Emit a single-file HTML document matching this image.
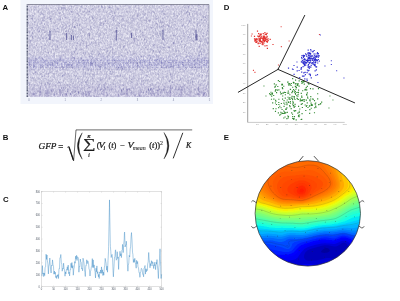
<!DOCTYPE html>
<html><head><meta charset="utf-8"><title>Figure</title>
<style>
html,body{margin:0;padding:0;background:#fff;}
svg{display:block}
.lbl{font-family:"Liberation Sans",sans-serif;font-weight:bold;font-size:7.8px;fill:#111}
.tkA{font-family:"Liberation Sans",sans-serif;font-size:2.6px;fill:#8186a8;text-anchor:middle}
.tkC{font-family:"Liberation Sans",sans-serif;font-size:2.6px;fill:#565e6a}
.eq text.sm{stroke-width:0.08px}
.eq text.eqs{font-family:"Liberation Sans",sans-serif;stroke-width:0.2px}
.tkD{font-family:"Liberation Sans",sans-serif;font-size:2.5px;fill:#9a9a9a}
.eq text{font-family:"Liberation Serif",serif;fill:#1a1a1a;stroke:#1a1a1a;stroke-width:0.24px}
</style></head><body>
<svg width="400" height="301" viewBox="0 0 400 301">
<rect width="400" height="301" fill="#fff"/>
<rect x="20.5" y="0" width="192.5" height="104" fill="#f2f5fc"/>
<filter id="gr" x="0" y="0" width="100%" height="100%" color-interpolation-filters="sRGB"><feTurbulence type="fractalNoise" baseFrequency="0.65 0.45" numOctaves="2" seed="4" result="n"/><feColorMatrix in="n" type="matrix" values="0 0 0 0 0  0 0 0 0 0  0 0 0 0 0  0.65 0.65 0 0 -0.46"/><feComponentTransfer><feFuncR type="linear" slope="0" intercept="0.46"/><feFuncG type="linear" slope="0" intercept="0.45"/><feFuncB type="linear" slope="0" intercept="0.66"/></feComponentTransfer></filter>
<rect x="28.5" y="4.5" width="180.5" height="92.5" fill="#ebeaf5"/>
<rect x="28.5" y="4.5" width="180.5" height="92.5" filter="url(#gr)"/>
<polyline points="28.5,5.5 29.4,5.9 30.3,5.1 31.2,4.5 32.1,4.8 33,4.5 33.9,5.6 34.8,7.5 35.8,4.8 36.7,4.6 37.6,6.2 38.5,6 39.4,5.7 40.3,4.5 41.2,5.5 42.1,6.5 43,4.5 43.9,4.8 44.8,4.5 45.7,4.5 46.6,4.5 47.5,5.1 48.5,4.5 49.4,5.9 50.3,5.7 51.2,5.2 52.1,4.5 53,4.7 53.9,5.4 54.8,5.7 55.7,4.5 56.6,4.8 57.5,4.5 58.4,4.5 59.3,7.1 60.2,4.5 61.2,5.5 62.1,6.8 63,4.6 63.9,5.3 64.8,5.7 65.7,5.6 66.6,4.5 67.5,5.6 68.4,7.5 69.3,4.5 70.2,6.8 71.1,5.7 72,4.5 72.9,8.5 73.9,6.6 74.8,4.5 75.7,5.6 76.6,6.4 77.5,5.2 78.4,6.5 79.3,5.4 80.2,6.5 81.1,7.7 82,4.5 82.9,5.8 83.8,4.8 84.7,5.7 85.6,4.5 86.6,4.6 87.5,5.2 88.4,6.8 89.3,7.2 90.2,4.5 91.1,4.5 92,6.5 92.9,4.5 93.8,4.8 94.7,5.4 95.6,7.4 96.5,6.5 97.4,5 98.3,4.9 99.2,5.1 100.2,7.8 101.1,4.9 102,5 102.9,6 103.8,5.3 104.7,5.2 105.6,4.5 106.5,5.5 107.4,4.8 108.3,7.2 109.2,6.5 110.1,5.5 111,6.5 111.9,5 112.9,7.1 113.8,5.5 114.7,6.4 115.6,4.5 116.5,6 117.4,4.5 118.3,4.5 119.2,5 120.1,4.5 121,5.7 121.9,8.9 122.8,4.5 123.7,4.6 124.6,5.8 125.6,6.2 126.5,5.2 127.4,5.2 128.3,6.6 129.2,6.3 130.1,4.5 131,5.4 131.9,5.6 132.8,4.5 133.7,5.9 134.6,4.5 135.5,7 136.4,5.8 137.3,5.6 138.3,4.6 139.2,5.3 140.1,4.5 141,4.5 141.9,6 142.8,4.5 143.7,6.8 144.6,4.5 145.5,6.6 146.4,4.5 147.3,6.7 148.2,5.7 149.1,4.5 150,7.4 150.9,7.7 151.9,5.4 152.8,5.1 153.7,5.3 154.6,4.5 155.5,7.1 156.4,4.7 157.3,5.4 158.2,4.5 159.1,4.6 160,4.5 160.9,7.4 161.8,5.3 162.7,6.9 163.6,5.5 164.6,4.5 165.5,5 166.4,4.7 167.3,5.5 168.2,4.9 169.1,5.1 170,4.5 170.9,4.5 171.8,8 172.7,4.5 173.6,4.5 174.5,6 175.4,7.6 176.3,4.5 177.3,5.2 178.2,4.6 179.1,4.5 180,6.6 180.9,5.5 181.8,5.6 182.7,4.5 183.6,6.2 184.5,4.7 185.4,5.3 186.3,4.5 187.2,4.5 188.1,7.5 189,4.7 190,5.9 190.9,5.4 191.8,4.8 192.7,4.7 193.6,6.4 194.5,5 195.4,5.3 196.3,5.5 197.2,7.3 198.1,6.5 199,6.1 199.9,4.7 200.8,4.5 201.7,6.9 202.7,6.9 203.6,5.3 204.5,6.3 205.4,6.7 206.3,6.7 207.2,6.9 208.1,4.8 209,7.8" fill="none" stroke="#8f8db0" stroke-opacity="0.2" stroke-width="0.4"/>
<polyline points="28.5,5.5 29.4,8.6 30.3,8.1 31.2,8.7 32.1,10.2 33,9.6 33.9,5.6 34.8,4.8 35.8,8.6 36.7,5.8 37.6,7.3 38.5,8.6 39.4,4.9 40.3,4.5 41.2,7.7 42.1,7.4 43,7 43.9,7.4 44.8,6.1 45.7,5.1 46.6,7.1 47.5,5.9 48.5,4.9 49.4,8.1 50.3,7.3 51.2,8 52.1,5.9 53,6.4 53.9,5.8 54.8,6 55.7,7.6 56.6,6.2 57.5,7.9 58.4,7.9 59.3,10.4 60.2,5.3 61.2,8.7 62.1,7.2 63,7.3 63.9,5.2 64.8,6.7 65.7,8.5 66.6,7.2 67.5,7.5 68.4,6.9 69.3,9.1 70.2,7.3 71.1,4.5 72,6.3 72.9,4.5 73.9,4.5 74.8,6.6 75.7,9.3 76.6,7.4 77.5,5.6 78.4,5.9 79.3,9 80.2,7.6 81.1,7.4 82,7.3 82.9,7.4 83.8,8.6 84.7,8.2 85.6,7.7 86.6,5.8 87.5,8.1 88.4,6.3 89.3,9 90.2,5.4 91.1,7.1 92,7.3 92.9,5.4 93.8,9.9 94.7,9.5 95.6,6.7 96.5,8.5 97.4,7.9 98.3,4.5 99.2,7.7 100.2,7.3 101.1,7.5 102,5.7 102.9,6.9 103.8,7.1 104.7,9.1 105.6,7.8 106.5,7.3 107.4,9.6 108.3,6.5 109.2,6.8 110.1,4.6 111,9.7 111.9,8.8 112.9,8.7 113.8,8.4 114.7,7.5 115.6,7.7 116.5,7 117.4,7 118.3,7.4 119.2,9.6 120.1,8.2 121,7.3 121.9,6.5 122.8,6.4 123.7,9.8 124.6,8.1 125.6,7.4 126.5,6.8 127.4,5.7 128.3,7.2 129.2,8.7 130.1,6.8 131,7 131.9,7 132.8,7.5 133.7,5 134.6,7 135.5,6.1 136.4,8.7 137.3,6.2 138.3,8.2 139.2,9.6 140.1,6.9 141,6.4 141.9,7.6 142.8,7.3 143.7,5.9 144.6,8 145.5,10.4 146.4,7 147.3,7 148.2,5.8 149.1,7.8 150,5.5 150.9,5.7 151.9,9.3 152.8,6 153.7,9 154.6,9.6 155.5,7.7 156.4,8.2 157.3,10.3 158.2,7.1 159.1,6.5 160,5.3 160.9,7.4 161.8,9.6 162.7,8.8 163.6,5.9 164.6,6.1 165.5,6.6 166.4,7.8 167.3,7 168.2,7.7 169.1,7.8 170,6.9 170.9,7.3 171.8,7.7 172.7,7.2 173.6,8.1 174.5,10.2 175.4,8.2 176.3,7.4 177.3,4.8 178.2,7.9 179.1,4.5 180,5.2 180.9,8.6 181.8,8.4 182.7,7.1 183.6,4.8 184.5,6.8 185.4,6.3 186.3,8.3 187.2,10.7 188.1,7.7 189,6.2 190,5.6 190.9,7.3 191.8,7.1 192.7,5.6 193.6,7.5 194.5,5.6 195.4,9 196.3,8.9 197.2,9 198.1,6.6 199,8.1 199.9,7.1 200.8,6.8 201.7,6.8 202.7,5.4 203.6,5.2 204.5,8.5 205.4,7.1 206.3,7.7 207.2,8.8 208.1,4.7 209,6.2" fill="none" stroke="#8f8db0" stroke-opacity="0.2" stroke-width="0.4"/>
<polyline points="28.5,9.5 29.4,9.8 30.3,8.6 31.2,10.7 32.1,9.5 33,7.4 33.9,7.8 34.8,10.4 35.8,9.9 36.7,6.3 37.6,11.2 38.5,10.1 39.4,11.2 40.3,8.6 41.2,8.8 42.1,7.5 43,13 43.9,8.9 44.8,11.6 45.7,8.2 46.6,9.4 47.5,6.7 48.5,8.6 49.4,10.7 50.3,7.3 51.2,10.8 52.1,9.7 53,7.6 53.9,8.4 54.8,8.5 55.7,9.1 56.6,8.4 57.5,8 58.4,8.7 59.3,7.7 60.2,7.3 61.2,9.1 62.1,10.5 63,6.9 63.9,9.2 64.8,8.2 65.7,7.7 66.6,10.5 67.5,8.4 68.4,11.4 69.3,8 70.2,9.8 71.1,8.9 72,8.1 72.9,10.1 73.9,9 74.8,10.1 75.7,9.1 76.6,7.6 77.5,9 78.4,9.3 79.3,10.6 80.2,7.8 81.1,9.1 82,6.6 82.9,10.2 83.8,7.6 84.7,6.5 85.6,9.1 86.6,10.9 87.5,6.9 88.4,7.6 89.3,8.1 90.2,7.5 91.1,9.8 92,8 92.9,8.1 93.8,10.1 94.7,8.1 95.6,9.8 96.5,7.7 97.4,7.4 98.3,6.4 99.2,12 100.2,8.7 101.1,9.6 102,9.1 102.9,9.4 103.8,9.3 104.7,12.1 105.6,7.6 106.5,6.9 107.4,7.7 108.3,7.2 109.2,10.3 110.1,10.4 111,7.8 111.9,7.1 112.9,8.7 113.8,11.3 114.7,5 115.6,10 116.5,7.6 117.4,10.8 118.3,7.6 119.2,8.8 120.1,6.9 121,7.7 121.9,11.3 122.8,10.4 123.7,8.6 124.6,7.9 125.6,6.4 126.5,8.6 127.4,9.1 128.3,9.1 129.2,9.1 130.1,7.5 131,9.1 131.9,9.1 132.8,11.1 133.7,12 134.6,9 135.5,8 136.4,9.1 137.3,8.3 138.3,8.1 139.2,9.1 140.1,7.6 141,10.1 141.9,9 142.8,9.6 143.7,8.9 144.6,8.1 145.5,7.8 146.4,8.8 147.3,8.4 148.2,9.5 149.1,9.2 150,7.2 150.9,9.3 151.9,7.2 152.8,8.3 153.7,8.8 154.6,6.1 155.5,9.3 156.4,9.4 157.3,9 158.2,8.6 159.1,8.6 160,7.7 160.9,8.8 161.8,8.4 162.7,9.3 163.6,7.4 164.6,9.5 165.5,9.4 166.4,9 167.3,8.5 168.2,10 169.1,6.7 170,9.9 170.9,9.6 171.8,9.6 172.7,9.8 173.6,8.2 174.5,8.8 175.4,10.1 176.3,9.8 177.3,9.5 178.2,6.9 179.1,10 180,10.9 180.9,10.7 181.8,9.5 182.7,6.9 183.6,10.6 184.5,9 185.4,5.4 186.3,9.8 187.2,7 188.1,7.2 189,8.2 190,11.1 190.9,8.6 191.8,9.6 192.7,11.8 193.6,11.6 194.5,9 195.4,8.8 196.3,7.3 197.2,8.2 198.1,9.8 199,9.8 199.9,9.4 200.8,10.7 201.7,8 202.7,9.1 203.6,10.3 204.5,10.1 205.4,10.8 206.3,9.8 207.2,8.7 208.1,9.7 209,7.7" fill="none" stroke="#8f8db0" stroke-opacity="0.2" stroke-width="0.4"/>
<polyline points="28.5,8.6 29.4,11.9 30.3,11 31.2,11.5 32.1,8.5 33,10.5 33.9,10.1 34.8,9.7 35.8,7.7 36.7,10.5 37.6,12.4 38.5,11.6 39.4,10.1 40.3,11 41.2,12.2 42.1,6.9 43,10.9 43.9,11.9 44.8,12.1 45.7,13.6 46.6,12.7 47.5,11.5 48.5,11.5 49.4,12.2 50.3,10.2 51.2,11 52.1,12.4 53,14 53.9,10.8 54.8,11 55.7,11.3 56.6,13.1 57.5,11 58.4,13.2 59.3,9.6 60.2,10.8 61.2,10.7 62.1,12.2 63,12.6 63.9,8.8 64.8,9.7 65.7,11.5 66.6,10.1 67.5,8.8 68.4,12.6 69.3,11.8 70.2,11.8 71.1,10.3 72,12.6 72.9,10.7 73.9,12.7 74.8,9.7 75.7,9.8 76.6,11.3 77.5,10 78.4,12.1 79.3,11.4 80.2,9.7 81.1,11.2 82,10.5 82.9,12.4 83.8,10.1 84.7,10.4 85.6,12.9 86.6,14.4 87.5,14 88.4,11.1 89.3,11.4 90.2,13.3 91.1,10.9 92,9.6 92.9,11.2 93.8,11.7 94.7,9.8 95.6,8.6 96.5,8.9 97.4,12 98.3,9.9 99.2,10.8 100.2,11.4 101.1,12 102,10.5 102.9,11.8 103.8,9.7 104.7,10.5 105.6,9.5 106.5,12.7 107.4,11 108.3,9.9 109.2,10.5 110.1,10.7 111,12.1 111.9,8.6 112.9,9.5 113.8,10.5 114.7,14.8 115.6,12.5 116.5,10.9 117.4,12.1 118.3,14.1 119.2,10.7 120.1,10.5 121,12.9 121.9,11.8 122.8,12 123.7,10.3 124.6,13.9 125.6,13.6 126.5,11.9 127.4,12.1 128.3,8 129.2,12 130.1,10.7 131,11.7 131.9,12.1 132.8,10.5 133.7,8.5 134.6,11.6 135.5,9.9 136.4,10.5 137.3,10.1 138.3,10.5 139.2,7.6 140.1,12.9 141,11.4 141.9,12.7 142.8,14 143.7,11.1 144.6,8.3 145.5,9.7 146.4,9.2 147.3,10.3 148.2,11.2 149.1,8 150,11.6 150.9,8.8 151.9,11.5 152.8,10.9 153.7,10.6 154.6,10.9 155.5,10.2 156.4,10.1 157.3,8.5 158.2,11 159.1,13.8 160,14 160.9,13 161.8,12.1 162.7,10 163.6,13.2 164.6,11 165.5,10.9 166.4,10.6 167.3,11.2 168.2,10.4 169.1,10.9 170,9.4 170.9,10.5 171.8,14.5 172.7,10.9 173.6,10.7 174.5,11.8 175.4,12.1 176.3,9.4 177.3,10.7 178.2,12.4 179.1,11.4 180,11.2 180.9,13.4 181.8,10 182.7,11.2 183.6,10.3 184.5,13.3 185.4,8.1 186.3,10 187.2,10.2 188.1,12 189,12 190,13.1 190.9,8.7 191.8,12.2 192.7,10.6 193.6,10 194.5,11.9 195.4,9.7 196.3,7.9 197.2,10.5 198.1,8.8 199,10.1 199.9,11.6 200.8,11.5 201.7,13.4 202.7,10.7 203.6,8.7 204.5,9.9 205.4,9.7 206.3,9.2 207.2,11.7 208.1,10.1 209,8.1" fill="none" stroke="#8f8db0" stroke-opacity="0.2" stroke-width="0.4"/>
<polyline points="28.5,13.9 29.4,12.7 30.3,13.4 31.2,13 32.1,13.8 33,12.9 33.9,14.7 34.8,13.5 35.8,13.5 36.7,13.5 37.6,10.7 38.5,12.6 39.4,12.5 40.3,13.2 41.2,10.8 42.1,15.3 43,13 43.9,11.1 44.8,10.3 45.7,12.5 46.6,12.8 47.5,11.8 48.5,13 49.4,11.9 50.3,13.7 51.2,11.8 52.1,12.8 53,14.4 53.9,16.7 54.8,11.4 55.7,12.2 56.6,11.6 57.5,14.1 58.4,11.2 59.3,12.2 60.2,12.8 61.2,11.4 62.1,11.5 63,12.2 63.9,9.7 64.8,10.7 65.7,12.3 66.6,13.1 67.5,12.6 68.4,10.2 69.3,12.2 70.2,14.1 71.1,13.7 72,12.8 72.9,11.6 73.9,13.8 74.8,12 75.7,11.1 76.6,11.7 77.5,15.1 78.4,13.2 79.3,14.6 80.2,12.2 81.1,14.3 82,12 82.9,12.7 83.8,16.6 84.7,14 85.6,12.1 86.6,12.8 87.5,13.4 88.4,14.7 89.3,12.2 90.2,10.3 91.1,12.5 92,12.9 92.9,13.1 93.8,14.9 94.7,13.4 95.6,14.1 96.5,11.2 97.4,14.2 98.3,16 99.2,14 100.2,13.3 101.1,13.1 102,15.6 102.9,11.5 103.8,12.7 104.7,13.6 105.6,14 106.5,12.2 107.4,13.3 108.3,12.5 109.2,13.1 110.1,12.7 111,11.2 111.9,12.9 112.9,14.2 113.8,11.4 114.7,12.5 115.6,13.9 116.5,11.3 117.4,13.2 118.3,11.3 119.2,14.6 120.1,16.4 121,15.9 121.9,12.6 122.8,14 123.7,13.1 124.6,13 125.6,15.2 126.5,10.9 127.4,14.5 128.3,12.8 129.2,15 130.1,13.2 131,11.9 131.9,13.3 132.8,14 133.7,12.9 134.6,13.6 135.5,12.1 136.4,9.7 137.3,14.2 138.3,13.9 139.2,13.1 140.1,13 141,14.4 141.9,12.2 142.8,11.8 143.7,12.6 144.6,14.7 145.5,10.8 146.4,14.7 147.3,11.9 148.2,11.2 149.1,14.8 150,12.7 150.9,10.9 151.9,12.3 152.8,14.3 153.7,14.7 154.6,12.2 155.5,13.5 156.4,14 157.3,11.9 158.2,13.4 159.1,12.8 160,12.1 160.9,12.1 161.8,13 162.7,12.9 163.6,12 164.6,12.2 165.5,14.6 166.4,13.2 167.3,14.2 168.2,14.7 169.1,13.8 170,16.3 170.9,11.6 171.8,14.1 172.7,12.4 173.6,15.7 174.5,15.4 175.4,10 176.3,11.4 177.3,13.9 178.2,14.1 179.1,14 180,12.8 180.9,13.6 181.8,13.9 182.7,12.8 183.6,14.4 184.5,9.5 185.4,13.8 186.3,11.3 187.2,14.3 188.1,12.5 189,11.6 190,13.4 190.9,11.5 191.8,11.5 192.7,10.5 193.6,12.8 194.5,13.6 195.4,14.4 196.3,12.7 197.2,14.5 198.1,12.9 199,12.7 199.9,13.7 200.8,14.5 201.7,12.4 202.7,12.5 203.6,12.6 204.5,13 205.4,11.5 206.3,14.4 207.2,12.3 208.1,13.6 209,11.6" fill="none" stroke="#8f8db0" stroke-opacity="0.2" stroke-width="0.4"/>
<polyline points="28.5,15.3 29.4,15.3 30.3,14.1 31.2,17.8 32.1,15.3 33,17.4 33.9,16.2 34.8,13.7 35.8,14.2 36.7,15.4 37.6,14.8 38.5,14.8 39.4,14.3 40.3,12 41.2,14.4 42.1,11.4 43,15.3 43.9,13.6 44.8,13.7 45.7,14.4 46.6,15.1 47.5,12.6 48.5,12.1 49.4,13.1 50.3,11.7 51.2,13.3 52.1,17.1 53,13.1 53.9,15.7 54.8,12.7 55.7,15.2 56.6,14.3 57.5,14.6 58.4,15.6 59.3,17.4 60.2,15 61.2,14.9 62.1,13.3 63,15.6 63.9,14.4 64.8,16 65.7,14.7 66.6,17.3 67.5,11.8 68.4,14.3 69.3,16.1 70.2,14.2 71.1,13.5 72,14.3 72.9,12.7 73.9,14.9 74.8,18.4 75.7,16.5 76.6,13.1 77.5,13.4 78.4,14.1 79.3,16.2 80.2,13.5 81.1,13.7 82,16.1 82.9,16 83.8,14.2 84.7,13.1 85.6,12.4 86.6,13.7 87.5,11.4 88.4,15.9 89.3,13.8 90.2,15.5 91.1,17.5 92,16.5 92.9,13 93.8,16 94.7,16.5 95.6,13.6 96.5,13.3 97.4,14.6 98.3,12.3 99.2,16.9 100.2,11.1 101.1,13.1 102,14.3 102.9,14.4 103.8,15 104.7,15.1 105.6,14.4 106.5,16.4 107.4,11.5 108.3,14.7 109.2,13.7 110.1,14.9 111,15.1 111.9,13.4 112.9,13.8 113.8,15.9 114.7,15.3 115.6,13.7 116.5,17.8 117.4,18.2 118.3,12.5 119.2,15.2 120.1,18.5 121,15.9 121.9,15.1 122.8,14.4 123.7,13.9 124.6,14.4 125.6,13.9 126.5,15.9 127.4,14.1 128.3,14.1 129.2,12.9 130.1,14.7 131,13.4 131.9,14.5 132.8,16.3 133.7,15.3 134.6,15.5 135.5,15.3 136.4,14.8 137.3,14.5 138.3,14.3 139.2,15.9 140.1,13.1 141,16.7 141.9,14.8 142.8,13.6 143.7,14 144.6,13.7 145.5,15 146.4,13.7 147.3,16.4 148.2,13.6 149.1,11.3 150,13.6 150.9,11.7 151.9,14.7 152.8,16.3 153.7,15.7 154.6,12.7 155.5,13.6 156.4,17.4 157.3,15.2 158.2,14.7 159.1,16.3 160,18.4 160.9,16.7 161.8,14.9 162.7,15.3 163.6,15.7 164.6,13.8 165.5,13.1 166.4,14.8 167.3,13.3 168.2,14.6 169.1,14.9 170,18.2 170.9,13.5 171.8,14.6 172.7,14.5 173.6,15.4 174.5,16.3 175.4,14 176.3,13.5 177.3,12.3 178.2,13.3 179.1,15.5 180,14.8 180.9,13.2 181.8,14.2 182.7,14.8 183.6,15.5 184.5,13.8 185.4,14.4 186.3,12 187.2,13 188.1,17.2 189,11.5 190,14.2 190.9,15.1 191.8,14.2 192.7,13.5 193.6,14.6 194.5,14.7 195.4,14.6 196.3,11.9 197.2,14.5 198.1,13.5 199,13.9 199.9,15.1 200.8,15.7 201.7,16.1 202.7,14 203.6,16.1 204.5,16.5 205.4,16.4 206.3,16.8 207.2,14.5 208.1,14.5 209,16" fill="none" stroke="#8f8db0" stroke-opacity="0.2" stroke-width="0.4"/>
<polyline points="28.5,14.5 29.4,16.9 30.3,15.8 31.2,16 32.1,14 33,15.2 33.9,16.6 34.8,17.9 35.8,18.1 36.7,16.5 37.6,16.3 38.5,15.3 39.4,17.2 40.3,16.2 41.2,17.5 42.1,19.2 43,16.5 43.9,14.3 44.8,15.3 45.7,14.4 46.6,14.8 47.5,18.5 48.5,16.9 49.4,14.3 50.3,17.6 51.2,18.5 52.1,16 53,15.6 53.9,16.1 54.8,17 55.7,17.5 56.6,18.4 57.5,18.4 58.4,18.4 59.3,18.6 60.2,17.6 61.2,14.3 62.1,16.4 63,17.1 63.9,16 64.8,17.9 65.7,16 66.6,15.2 67.5,18.7 68.4,17.6 69.3,16.9 70.2,18 71.1,18.2 72,17.1 72.9,12.9 73.9,15.6 74.8,15.9 75.7,15.1 76.6,16.9 77.5,18.4 78.4,15.9 79.3,14.9 80.2,19.6 81.1,15.9 82,14.7 82.9,16.9 83.8,17.2 84.7,15.5 85.6,17.8 86.6,15.9 87.5,15.2 88.4,16.8 89.3,17.7 90.2,15.6 91.1,17.1 92,16.4 92.9,20.8 93.8,15.5 94.7,18.7 95.6,16.5 96.5,16.4 97.4,17.7 98.3,17.9 99.2,18.5 100.2,17.1 101.1,15.7 102,15.8 102.9,17.3 103.8,17.5 104.7,18.7 105.6,17.2 106.5,18.2 107.4,18.9 108.3,16.8 109.2,14.4 110.1,14.8 111,14.4 111.9,19 112.9,15.3 113.8,18.4 114.7,17.5 115.6,19.2 116.5,18.1 117.4,16.4 118.3,16.3 119.2,16.7 120.1,16.8 121,15.8 121.9,16.5 122.8,19 123.7,14 124.6,17 125.6,15.2 126.5,16.9 127.4,17.8 128.3,16.5 129.2,17.7 130.1,14.2 131,18.2 131.9,15.7 132.8,17.5 133.7,16.9 134.6,12.7 135.5,15.4 136.4,16.9 137.3,18.9 138.3,17 139.2,17 140.1,14.5 141,18.7 141.9,19.3 142.8,16.6 143.7,16.3 144.6,14.2 145.5,17.9 146.4,20.6 147.3,17.7 148.2,18.5 149.1,17.4 150,15.1 150.9,18.6 151.9,14.7 152.8,16.3 153.7,17 154.6,17.9 155.5,17.2 156.4,17.2 157.3,15.4 158.2,14.6 159.1,16.7 160,15.5 160.9,14.6 161.8,14.7 162.7,15.8 163.6,13.8 164.6,14.6 165.5,14.1 166.4,16.9 167.3,17.2 168.2,19.6 169.1,14.3 170,15.6 170.9,18 171.8,16.3 172.7,16.1 173.6,19.1 174.5,16.1 175.4,14.8 176.3,14.6 177.3,17.1 178.2,17 179.1,14.5 180,15.1 180.9,17.4 181.8,17.4 182.7,15.6 183.6,17.5 184.5,17.4 185.4,13.9 186.3,16.1 187.2,17.2 188.1,15.7 189,13.4 190,16.2 190.9,17.7 191.8,19 192.7,13.3 193.6,20.5 194.5,14.9 195.4,18 196.3,18.4 197.2,18.1 198.1,16.8 199,14.8 199.9,17.5 200.8,15.5 201.7,12.8 202.7,20.8 203.6,17.6 204.5,19.3 205.4,15.2 206.3,18.8 207.2,19 208.1,18.9 209,16.5" fill="none" stroke="#8f8db0" stroke-opacity="0.2" stroke-width="0.4"/>
<polyline points="28.5,16.6 29.4,18.2 30.3,15.1 31.2,15.9 32.1,18.6 33,16.9 33.9,18.2 34.8,18.3 35.8,21.3 36.7,20.4 37.6,18.4 38.5,20.2 39.4,17.3 40.3,17.9 41.2,19.8 42.1,16.6 43,18 43.9,16.4 44.8,18.6 45.7,20.9 46.6,17.3 47.5,18.8 48.5,17.1 49.4,16.7 50.3,16.6 51.2,20.6 52.1,22 53,19.2 53.9,17.4 54.8,19.5 55.7,17.9 56.6,19.6 57.5,18.9 58.4,18.8 59.3,19.3 60.2,17.6 61.2,17.8 62.1,15.8 63,17.8 63.9,16.3 64.8,18.2 65.7,17 66.6,18.6 67.5,19.1 68.4,16.3 69.3,17.2 70.2,17 71.1,19.5 72,21 72.9,19.7 73.9,17.9 74.8,20.6 75.7,16.2 76.6,20.7 77.5,17.4 78.4,14.3 79.3,22.4 80.2,20.8 81.1,16.9 82,18.7 82.9,18.1 83.8,18.6 84.7,16.2 85.6,17.4 86.6,19.1 87.5,18.8 88.4,20.2 89.3,18.5 90.2,22 91.1,17.4 92,18.8 92.9,15.6 93.8,16.5 94.7,20.4 95.6,17 96.5,19.2 97.4,18.3 98.3,16.9 99.2,17.9 100.2,17.7 101.1,17.7 102,19.6 102.9,19.4 103.8,17.6 104.7,17.1 105.6,18.9 106.5,18.3 107.4,20 108.3,22.4 109.2,19.7 110.1,18.4 111,18.2 111.9,17.1 112.9,17.1 113.8,16.9 114.7,17.8 115.6,17.8 116.5,19.5 117.4,17.8 118.3,18.1 119.2,16.6 120.1,20.9 121,19.2 121.9,21.1 122.8,19.6 123.7,20.7 124.6,18.1 125.6,19.5 126.5,22.5 127.4,16.6 128.3,20.2 129.2,21 130.1,19.1 131,19.6 131.9,20.3 132.8,17.4 133.7,19.1 134.6,17.1 135.5,17.4 136.4,17.5 137.3,18.2 138.3,18.7 139.2,19.1 140.1,16.3 141,21.5 141.9,20.2 142.8,19.5 143.7,17.9 144.6,18.3 145.5,19.3 146.4,19.1 147.3,15.8 148.2,19.6 149.1,22.9 150,15.6 150.9,20 151.9,19 152.8,18.3 153.7,20.5 154.6,16.6 155.5,18.7 156.4,20.7 157.3,18.1 158.2,17.8 159.1,18.6 160,17.7 160.9,20.8 161.8,17 162.7,19.8 163.6,16.5 164.6,19.5 165.5,18.3 166.4,14.4 167.3,18.4 168.2,16.8 169.1,17.7 170,20.8 170.9,16.7 171.8,16.8 172.7,20.6 173.6,18.6 174.5,20.8 175.4,18.9 176.3,17.1 177.3,18.3 178.2,20.3 179.1,19.9 180,18.4 180.9,18.5 181.8,18.3 182.7,17.5 183.6,21.4 184.5,18.4 185.4,16.7 186.3,17.7 187.2,19.5 188.1,19.4 189,18.2 190,17.4 190.9,18.5 191.8,15.8 192.7,16.4 193.6,19.7 194.5,17.7 195.4,19 196.3,20.3 197.2,19.4 198.1,18.5 199,21.7 199.9,19.5 200.8,17.9 201.7,19.6 202.7,19.1 203.6,17.1 204.5,18.5 205.4,18.2 206.3,15.4 207.2,18.2 208.1,18 209,17.8" fill="none" stroke="#8f8db0" stroke-opacity="0.2" stroke-width="0.4"/>
<polyline points="28.5,17.7 29.4,19.7 30.3,20.2 31.2,20.4 32.1,18.5 33,21.3 33.9,18.4 34.8,19.9 35.8,22.3 36.7,19.2 37.6,19.5 38.5,21.9 39.4,19.7 40.3,19.8 41.2,20.6 42.1,21.9 43,16.9 43.9,19 44.8,18.7 45.7,18.6 46.6,19 47.5,19 48.5,20.7 49.4,18.9 50.3,20.5 51.2,20.9 52.1,19.2 53,20.5 53.9,22.8 54.8,20.8 55.7,19.3 56.6,20.2 57.5,18.9 58.4,20.7 59.3,21.6 60.2,19 61.2,20 62.1,22 63,19.5 63.9,20.6 64.8,18.7 65.7,19 66.6,19.5 67.5,23.5 68.4,19.7 69.3,19.5 70.2,19.4 71.1,20 72,21.3 72.9,20.6 73.9,23.4 74.8,20.6 75.7,22.4 76.6,20.7 77.5,21.2 78.4,18.1 79.3,20.1 80.2,20.2 81.1,19.9 82,17 82.9,21.6 83.8,19.7 84.7,19.6 85.6,19.9 86.6,19.9 87.5,20.9 88.4,18.4 89.3,18.9 90.2,20.7 91.1,20.5 92,19.7 92.9,19.4 93.8,19 94.7,20.2 95.6,22 96.5,18.7 97.4,22.6 98.3,21.5 99.2,19.6 100.2,21.5 101.1,18.1 102,17.7 102.9,18.3 103.8,19.7 104.7,19.8 105.6,19.5 106.5,20.4 107.4,17.1 108.3,21 109.2,18.1 110.1,19.3 111,19.7 111.9,18.5 112.9,18.2 113.8,18.8 114.7,20.3 115.6,21.2 116.5,21.1 117.4,18.8 118.3,19.1 119.2,18.9 120.1,21 121,17.2 121.9,22.1 122.8,19.5 123.7,19.1 124.6,20.8 125.6,21.8 126.5,20.8 127.4,21.9 128.3,20.5 129.2,22.1 130.1,22.1 131,20.1 131.9,22.4 132.8,20.5 133.7,20.4 134.6,18.9 135.5,19.8 136.4,21.4 137.3,18.3 138.3,21.2 139.2,20.8 140.1,20.7 141,17 141.9,20.1 142.8,21.2 143.7,19.1 144.6,20.4 145.5,16.7 146.4,21.3 147.3,19.3 148.2,21.6 149.1,17.5 150,21.3 150.9,19.9 151.9,21.5 152.8,18.9 153.7,19.3 154.6,23.6 155.5,19 156.4,19.2 157.3,19.9 158.2,18.7 159.1,22.1 160,22.9 160.9,19.2 161.8,17.7 162.7,22 163.6,21.9 164.6,21.5 165.5,22 166.4,19 167.3,20 168.2,18.2 169.1,18.1 170,21.7 170.9,19.3 171.8,23.7 172.7,20.4 173.6,19.3 174.5,21.5 175.4,23 176.3,21 177.3,18.4 178.2,20.8 179.1,22.3 180,19.5 180.9,19.1 181.8,21.8 182.7,20.5 183.6,18.6 184.5,19.7 185.4,19.1 186.3,20.7 187.2,20.4 188.1,22 189,21.3 190,17.9 190.9,20.9 191.8,21.6 192.7,21 193.6,21.8 194.5,19.5 195.4,18.8 196.3,21.7 197.2,18.7 198.1,17 199,21.8 199.9,19.2 200.8,19.8 201.7,18.2 202.7,18.3 203.6,18.5 204.5,19.7 205.4,20.8 206.3,16.8 207.2,21.4 208.1,18.5 209,18.7" fill="none" stroke="#8f8db0" stroke-opacity="0.2" stroke-width="0.4"/>
<polyline points="28.5,23.1 29.4,22 30.3,19.8 31.2,24.9 32.1,20.8 33,22.5 33.9,22.4 34.8,24.2 35.8,21.4 36.7,23.6 37.6,21 38.5,23.8 39.4,21 40.3,21.6 41.2,25 42.1,22.6 43,22.3 43.9,25.5 44.8,22.7 45.7,20.9 46.6,23.2 47.5,20.3 48.5,23.8 49.4,23.9 50.3,21.3 51.2,21.2 52.1,22.4 53,22.1 53.9,20.7 54.8,23 55.7,19.1 56.6,21.5 57.5,21.5 58.4,21.7 59.3,22.6 60.2,20.3 61.2,23 62.1,21.9 63,21.1 63.9,20.1 64.8,20.3 65.7,22.7 66.6,20.7 67.5,22.2 68.4,23.7 69.3,23.7 70.2,24.5 71.1,21.7 72,20.5 72.9,23.7 73.9,22.6 74.8,23.8 75.7,22.1 76.6,23.9 77.5,23.4 78.4,23.2 79.3,22.9 80.2,22.7 81.1,22.5 82,22.5 82.9,23.6 83.8,21.4 84.7,24.7 85.6,22 86.6,23.6 87.5,22 88.4,21.8 89.3,25.2 90.2,21.7 91.1,20.2 92,21.1 92.9,21.6 93.8,25.4 94.7,22.4 95.6,23.5 96.5,20.6 97.4,22.7 98.3,23.1 99.2,24.8 100.2,21.1 101.1,23 102,22.6 102.9,20.6 103.8,22.1 104.7,21.7 105.6,18.6 106.5,23 107.4,22.9 108.3,21.5 109.2,20.1 110.1,24.3 111,22.5 111.9,23.6 112.9,24.2 113.8,21.3 114.7,23.3 115.6,21.8 116.5,22 117.4,22 118.3,22.1 119.2,23.8 120.1,22.3 121,21.9 121.9,21.7 122.8,22.6 123.7,20.8 124.6,21.4 125.6,22 126.5,21.3 127.4,21.9 128.3,21.2 129.2,25.1 130.1,24.1 131,22.8 131.9,22 132.8,25.4 133.7,22.6 134.6,22 135.5,22.6 136.4,22.6 137.3,24.2 138.3,22.1 139.2,25.3 140.1,20.8 141,23.2 141.9,20.6 142.8,24.8 143.7,21.6 144.6,22 145.5,23.5 146.4,24 147.3,20.5 148.2,21.6 149.1,20 150,22.3 150.9,22 151.9,21.6 152.8,21.1 153.7,21.5 154.6,21 155.5,22.9 156.4,24.4 157.3,19.2 158.2,21.9 159.1,21.5 160,22.9 160.9,20.7 161.8,21.9 162.7,20.6 163.6,23.2 164.6,22.3 165.5,21.9 166.4,22.7 167.3,21.8 168.2,19.8 169.1,23 170,22.6 170.9,21.9 171.8,23.6 172.7,24 173.6,20.5 174.5,21 175.4,24.4 176.3,24.3 177.3,21 178.2,20.4 179.1,21.2 180,21.4 180.9,19.7 181.8,22.2 182.7,20.2 183.6,20.3 184.5,23.5 185.4,21.1 186.3,22 187.2,23.1 188.1,23.3 189,21.6 190,22.2 190.9,20.9 191.8,24.7 192.7,23.1 193.6,20.5 194.5,22.1 195.4,23.2 196.3,22.8 197.2,24.9 198.1,24.2 199,21.3 199.9,22 200.8,20.2 201.7,22.5 202.7,22.3 203.6,26.2 204.5,22.3 205.4,19 206.3,21.1 207.2,22.3 208.1,20.2 209,20.8" fill="none" stroke="#8f8db0" stroke-opacity="0.2" stroke-width="0.4"/>
<polyline points="28.5,23.4 29.4,24.5 30.3,23.7 31.2,22.6 32.1,25.2 33,23.2 33.9,23.2 34.8,21.9 35.8,22.8 36.7,24.9 37.6,21.5 38.5,23.9 39.4,25 40.3,23.4 41.2,24.3 42.1,22.3 43,25.9 43.9,25.6 44.8,24.3 45.7,21.3 46.6,22.4 47.5,25.4 48.5,26.5 49.4,24.4 50.3,25.8 51.2,23.1 52.1,23.7 53,24 53.9,24.6 54.8,21.7 55.7,25.4 56.6,26 57.5,22.2 58.4,21.9 59.3,24.5 60.2,23 61.2,20.4 62.1,25.2 63,24.2 63.9,23.3 64.8,27.1 65.7,24.2 66.6,22.8 67.5,24.1 68.4,22.4 69.3,22.8 70.2,24.5 71.1,23.1 72,23.3 72.9,26.5 73.9,25.3 74.8,25.2 75.7,24.8 76.6,24.7 77.5,26.2 78.4,23.9 79.3,26.8 80.2,22.5 81.1,23.6 82,21.9 82.9,23.5 83.8,24.7 84.7,26.1 85.6,23 86.6,24 87.5,23.4 88.4,22.9 89.3,22.2 90.2,24.1 91.1,21.4 92,24.1 92.9,24 93.8,23 94.7,22.5 95.6,21.9 96.5,26.8 97.4,22 98.3,26.3 99.2,24.9 100.2,23.4 101.1,22.2 102,25.5 102.9,26.6 103.8,22.6 104.7,23.5 105.6,25.5 106.5,24.5 107.4,27 108.3,23.1 109.2,24.8 110.1,22.1 111,27.1 111.9,22.9 112.9,20.7 113.8,23.8 114.7,23.8 115.6,26.8 116.5,23.5 117.4,24 118.3,24.9 119.2,26.3 120.1,23.9 121,25.5 121.9,24.7 122.8,23.5 123.7,24.1 124.6,24 125.6,22.6 126.5,25.8 127.4,21.9 128.3,25.7 129.2,25.4 130.1,23.8 131,22.8 131.9,23.6 132.8,24.7 133.7,25.1 134.6,24.4 135.5,25.5 136.4,23.1 137.3,24.3 138.3,21.6 139.2,25.1 140.1,24.2 141,23.3 141.9,25.7 142.8,25 143.7,19.7 144.6,24 145.5,21.8 146.4,25.6 147.3,27.7 148.2,23.2 149.1,24.1 150,23.6 150.9,24.5 151.9,24.9 152.8,25.9 153.7,22.5 154.6,26.3 155.5,22.6 156.4,24.4 157.3,25.7 158.2,25 159.1,22.6 160,22.9 160.9,23.3 161.8,23.9 162.7,25.7 163.6,22 164.6,24.7 165.5,24.9 166.4,24.8 167.3,24.7 168.2,26.2 169.1,24.7 170,25.3 170.9,24.8 171.8,26.7 172.7,21.1 173.6,25.9 174.5,23.6 175.4,23.5 176.3,22.5 177.3,21.2 178.2,23.4 179.1,22.9 180,24.7 180.9,21.8 181.8,26.1 182.7,24.4 183.6,23.6 184.5,22.9 185.4,22.8 186.3,22.3 187.2,23.2 188.1,24 189,23.7 190,21.8 190.9,23.6 191.8,22.6 192.7,24.2 193.6,26.8 194.5,24.9 195.4,23.5 196.3,21.5 197.2,21.8 198.1,21.4 199,25.1 199.9,22.8 200.8,24.1 201.7,23 202.7,24.1 203.6,26.1 204.5,22.9 205.4,23.5 206.3,22.8 207.2,25.3 208.1,22.4 209,22.3" fill="none" stroke="#8f8db0" stroke-opacity="0.2" stroke-width="0.4"/>
<polyline points="28.5,23.7 29.4,23.7 30.3,26.5 31.2,29.7 32.1,24.3 33,27.2 33.9,26.2 34.8,24.2 35.8,25.4 36.7,25.5 37.6,24.8 38.5,28.7 39.4,23 40.3,26.4 41.2,26.3 42.1,24.9 43,26 43.9,27.1 44.8,26 45.7,26.4 46.6,26.9 47.5,22.8 48.5,28 49.4,29.2 50.3,27.3 51.2,27.3 52.1,23.7 53,25.6 53.9,24.6 54.8,24.9 55.7,27.3 56.6,24.6 57.5,25.6 58.4,23 59.3,25.6 60.2,26 61.2,24.8 62.1,24.7 63,28.6 63.9,24 64.8,24.2 65.7,24.6 66.6,27.6 67.5,29 68.4,26.3 69.3,24.7 70.2,25.2 71.1,27.4 72,24.4 72.9,28 73.9,27.9 74.8,25.9 75.7,26.8 76.6,26.9 77.5,28.1 78.4,24.2 79.3,27.6 80.2,25.3 81.1,24.7 82,26 82.9,25.5 83.8,24.3 84.7,23.4 85.6,24.4 86.6,28 87.5,28.8 88.4,26.8 89.3,27.6 90.2,25 91.1,25.7 92,26.2 92.9,24.2 93.8,24.3 94.7,26 95.6,25.3 96.5,24.2 97.4,26.4 98.3,25.4 99.2,27.3 100.2,25.8 101.1,25.4 102,26 102.9,25.6 103.8,24.8 104.7,25.2 105.6,26.9 106.5,26.8 107.4,27.7 108.3,23.3 109.2,25.2 110.1,25.2 111,26.1 111.9,25.1 112.9,25 113.8,27 114.7,26.1 115.6,24.1 116.5,27.8 117.4,27.3 118.3,25 119.2,27.1 120.1,24.7 121,27.5 121.9,25.5 122.8,24.6 123.7,25.3 124.6,24.7 125.6,26.1 126.5,26.1 127.4,25.9 128.3,25 129.2,20.3 130.1,26 131,23 131.9,26.2 132.8,27.5 133.7,26.2 134.6,25.2 135.5,25.5 136.4,25.6 137.3,25 138.3,24.9 139.2,24.4 140.1,27.6 141,25.8 141.9,27.3 142.8,25.4 143.7,25.9 144.6,25.6 145.5,26.5 146.4,27.1 147.3,26.2 148.2,24.8 149.1,24.6 150,28.3 150.9,25.4 151.9,25.4 152.8,28 153.7,27.4 154.6,26.6 155.5,25.2 156.4,29.3 157.3,26.4 158.2,26.6 159.1,25.6 160,23.7 160.9,23.8 161.8,26.4 162.7,26.4 163.6,25.5 164.6,24.1 165.5,23.7 166.4,25.3 167.3,23.6 168.2,27.2 169.1,27.5 170,30.1 170.9,27.1 171.8,24.9 172.7,24.5 173.6,20.6 174.5,24.9 175.4,25.6 176.3,27.3 177.3,26.7 178.2,26.7 179.1,26.1 180,26.8 180.9,28 181.8,24.2 182.7,25.1 183.6,23.7 184.5,28.2 185.4,27.8 186.3,26.9 187.2,24 188.1,26.1 189,25.5 190,25.9 190.9,25.5 191.8,26.6 192.7,25.2 193.6,27.1 194.5,26.2 195.4,25.4 196.3,25.6 197.2,25.2 198.1,27 199,25.4 199.9,26.3 200.8,25.2 201.7,23.6 202.7,27.2 203.6,24.2 204.5,26.8 205.4,26.4 206.3,23.3 207.2,24.4 208.1,25 209,24.6" fill="none" stroke="#8f8db0" stroke-opacity="0.2" stroke-width="0.4"/>
<polyline points="28.5,25.9 29.4,28.8 30.3,27.3 31.2,28.2 32.1,27 33,28.1 33.9,26.5 34.8,27.6 35.8,28.5 36.7,27.7 37.6,27 38.5,26 39.4,27.9 40.3,28.2 41.2,27.3 42.1,26.5 43,28.5 43.9,31.4 44.8,27.2 45.7,28.2 46.6,24.5 47.5,24.8 48.5,27.8 49.4,26.6 50.3,29.7 51.2,27.3 52.1,26.5 53,27.3 53.9,27.9 54.8,26.8 55.7,27.6 56.6,25.6 57.5,27.3 58.4,28.8 59.3,30.6 60.2,28.7 61.2,28.1 62.1,29.4 63,29.2 63.9,30.2 64.8,29.3 65.7,27.5 66.6,28.1 67.5,27.9 68.4,26.4 69.3,28.5 70.2,26.5 71.1,24.5 72,23 72.9,25.6 73.9,27.8 74.8,27.7 75.7,25.1 76.6,28.7 77.5,29 78.4,27.8 79.3,30.2 80.2,30.5 81.1,25.9 82,29.2 82.9,28.3 83.8,28.3 84.7,29.1 85.6,26.6 86.6,26.8 87.5,26.4 88.4,26.5 89.3,27.5 90.2,25.5 91.1,26.1 92,28.5 92.9,27.6 93.8,28.2 94.7,24.8 95.6,26.5 96.5,26.8 97.4,27.7 98.3,26.8 99.2,29.1 100.2,27.6 101.1,27.7 102,27.7 102.9,28.7 103.8,27 104.7,29.3 105.6,28.4 106.5,27.9 107.4,27.7 108.3,28.4 109.2,29.2 110.1,29.1 111,28.2 111.9,29 112.9,27.8 113.8,29.5 114.7,25.8 115.6,25.9 116.5,29.7 117.4,27.8 118.3,25.9 119.2,27.4 120.1,26.3 121,30.8 121.9,28.4 122.8,25.3 123.7,28.5 124.6,27.1 125.6,30.5 126.5,26.1 127.4,24.3 128.3,27.8 129.2,27.1 130.1,27 131,20.8 131.9,29.7 132.8,30.2 133.7,24.8 134.6,29.4 135.5,26.8 136.4,31.2 137.3,28.3 138.3,27.4 139.2,29.3 140.1,28.5 141,26.8 141.9,28.7 142.8,26.9 143.7,25 144.6,30.7 145.5,27.1 146.4,26.7 147.3,28.2 148.2,25.3 149.1,25.6 150,26.9 150.9,26.9 151.9,27.8 152.8,29.3 153.7,27 154.6,28.4 155.5,28.6 156.4,26 157.3,28 158.2,26.2 159.1,29.3 160,28.3 160.9,25.8 161.8,26.8 162.7,27.8 163.6,26.5 164.6,28.7 165.5,27.5 166.4,26.4 167.3,29.1 168.2,28.7 169.1,26.8 170,29.4 170.9,27.2 171.8,27.2 172.7,27.8 173.6,26.5 174.5,27 175.4,27.4 176.3,30 177.3,29.9 178.2,27.3 179.1,30.1 180,27.6 180.9,28.2 181.8,29 182.7,28.1 183.6,31.3 184.5,28 185.4,25.9 186.3,29.6 187.2,27 188.1,27.2 189,23.2 190,29.2 190.9,28.9 191.8,28.9 192.7,29.1 193.6,30.2 194.5,27.6 195.4,29.1 196.3,26.5 197.2,25 198.1,29.8 199,28.2 199.9,25.7 200.8,28.2 201.7,27.4 202.7,26.4 203.6,28.3 204.5,27.1 205.4,25.3 206.3,26 207.2,30.3 208.1,25.4 209,28" fill="none" stroke="#8f8db0" stroke-opacity="0.2" stroke-width="0.4"/>
<polyline points="28.5,30.8 29.4,27.6 30.3,29.7 31.2,29.3 32.1,27.8 33,29.8 33.9,29.6 34.8,28.9 35.8,30.1 36.7,27.4 37.6,29.4 38.5,30.2 39.4,29.9 40.3,31.1 41.2,27.7 42.1,27.2 43,29.9 43.9,30.2 44.8,32.7 45.7,30.4 46.6,25.3 47.5,32.2 48.5,28.2 49.4,27.3 50.3,33.4 51.2,30 52.1,30.6 53,30.4 53.9,32.2 54.8,29.9 55.7,31.3 56.6,28 57.5,27.4 58.4,31.7 59.3,31.7 60.2,30.3 61.2,29.8 62.1,29.8 63,28.5 63.9,31.8 64.8,30.5 65.7,30.3 66.6,30.1 67.5,31.1 68.4,28.7 69.3,31.5 70.2,27.8 71.1,30.3 72,30.5 72.9,30.6 73.9,29.3 74.8,30.8 75.7,30.9 76.6,30.4 77.5,27.1 78.4,30.3 79.3,27.7 80.2,28.3 81.1,30.3 82,29.1 82.9,30.7 83.8,34.2 84.7,30.7 85.6,30.6 86.6,28.2 87.5,28.5 88.4,27.9 89.3,28.7 90.2,27.9 91.1,28.5 92,29.2 92.9,28 93.8,27.4 94.7,27.5 95.6,30.2 96.5,29.6 97.4,31 98.3,31.1 99.2,29 100.2,30.5 101.1,27.3 102,32.9 102.9,31.3 103.8,29.2 104.7,27.8 105.6,30.1 106.5,26.7 107.4,28.3 108.3,30.6 109.2,29.6 110.1,28.8 111,30.9 111.9,28 112.9,29.9 113.8,28.8 114.7,26.6 115.6,31.2 116.5,28 117.4,32.4 118.3,28.6 119.2,32.5 120.1,27.9 121,30.4 121.9,27.7 122.8,27.5 123.7,29.7 124.6,30.5 125.6,27.6 126.5,31.3 127.4,28.3 128.3,29.7 129.2,30.1 130.1,30.4 131,24.8 131.9,33.5 132.8,30.4 133.7,28.9 134.6,28 135.5,27 136.4,27.5 137.3,30.3 138.3,29 139.2,27.8 140.1,28.7 141,31.9 141.9,29 142.8,28.6 143.7,31.5 144.6,30.2 145.5,29.6 146.4,28.6 147.3,27.2 148.2,27.8 149.1,28.8 150,29.2 150.9,30 151.9,30.3 152.8,29.8 153.7,29.8 154.6,28 155.5,26.3 156.4,28.7 157.3,28.1 158.2,28.5 159.1,29.1 160,27.6 160.9,24.3 161.8,29.9 162.7,29.7 163.6,28.5 164.6,30.3 165.5,29.2 166.4,28 167.3,29.6 168.2,32.3 169.1,28.5 170,31.3 170.9,31.6 171.8,31.8 172.7,28.3 173.6,32.5 174.5,29.7 175.4,29.1 176.3,29.2 177.3,30.4 178.2,29.6 179.1,29.2 180,31.4 180.9,28.4 181.8,27.9 182.7,30.7 183.6,30.6 184.5,31.2 185.4,27.9 186.3,31.1 187.2,30.2 188.1,32.2 189,27.6 190,29.8 190.9,29.1 191.8,27.1 192.7,28.4 193.6,31.2 194.5,28.8 195.4,28.4 196.3,30.8 197.2,27.3 198.1,32.5 199,28.3 199.9,29.4 200.8,31.1 201.7,28.5 202.7,28.4 203.6,30.8 204.5,31.9 205.4,27.8 206.3,25.6 207.2,27.3 208.1,28 209,29.3" fill="none" stroke="#8f8db0" stroke-opacity="0.2" stroke-width="0.4"/>
<polyline points="28.5,30.2 29.4,32.7 30.3,30.7 31.2,30.2 32.1,29.3 33,29.6 33.9,31.3 34.8,31 35.8,33.1 36.7,30.4 37.6,32.9 38.5,31.7 39.4,31.4 40.3,28.3 41.2,29.4 42.1,32.5 43,33.5 43.9,31.7 44.8,32.5 45.7,30.7 46.6,27.4 47.5,32.1 48.5,32.8 49.4,31.9 50.3,31 51.2,30.9 52.1,32.2 53,31.8 53.9,30.1 54.8,33.9 55.7,31.7 56.6,31.4 57.5,33.6 58.4,32.9 59.3,31.2 60.2,32.2 61.2,29.8 62.1,30.4 63,28 63.9,33.2 64.8,28.5 65.7,32.4 66.6,30.1 67.5,29.9 68.4,28.4 69.3,32.6 70.2,32.3 71.1,34 72,28.8 72.9,34.5 73.9,30.5 74.8,32.4 75.7,31.6 76.6,30.7 77.5,31.2 78.4,31.3 79.3,31.6 80.2,32 81.1,30.6 82,30.2 82.9,32.5 83.8,28.8 84.7,30.4 85.6,33.7 86.6,27.3 87.5,30.3 88.4,32.4 89.3,28.9 90.2,35.3 91.1,27.5 92,33.5 92.9,33.7 93.8,32.7 94.7,31 95.6,31.9 96.5,30 97.4,32.6 98.3,29.7 99.2,30.9 100.2,32.9 101.1,29.7 102,30.8 102.9,31.6 103.8,29.3 104.7,33.1 105.6,31.9 106.5,29.1 107.4,31.3 108.3,30.2 109.2,30.4 110.1,31.5 111,30.3 111.9,32.8 112.9,30.3 113.8,32.8 114.7,29 115.6,33.2 116.5,30.5 117.4,30.6 118.3,29.6 119.2,32.2 120.1,32.8 121,34.5 121.9,33.3 122.8,31.7 123.7,31 124.6,31.9 125.6,31.3 126.5,33.6 127.4,32.8 128.3,30.1 129.2,30.3 130.1,33.4 131,29.9 131.9,32.9 132.8,33.1 133.7,30.8 134.6,30.9 135.5,30.7 136.4,28.4 137.3,32.7 138.3,29.5 139.2,30.5 140.1,30.2 141,32.4 141.9,31.3 142.8,31.4 143.7,28.8 144.6,31.2 145.5,29.1 146.4,31.8 147.3,31.9 148.2,31.3 149.1,34.4 150,32.1 150.9,32.3 151.9,31.6 152.8,31.1 153.7,32.8 154.6,33 155.5,29.4 156.4,32.9 157.3,32.1 158.2,32.8 159.1,32.1 160,29.5 160.9,28.1 161.8,34.7 162.7,31.7 163.6,29.2 164.6,31.9 165.5,30.8 166.4,28.6 167.3,27.9 168.2,29 169.1,31.8 170,31.3 170.9,31 171.8,31.8 172.7,32.3 173.6,28.2 174.5,30.9 175.4,30.1 176.3,29.5 177.3,30.5 178.2,31.2 179.1,31 180,29.2 180.9,30.6 181.8,34.4 182.7,29.8 183.6,28.8 184.5,31.8 185.4,32.3 186.3,32.1 187.2,29.7 188.1,32.9 189,30.2 190,29.7 190.9,30.4 191.8,31.2 192.7,32.4 193.6,32.3 194.5,31.3 195.4,32.8 196.3,31.5 197.2,31 198.1,31.1 199,29 199.9,32.5 200.8,29.3 201.7,30.9 202.7,31.2 203.6,30.6 204.5,30.7 205.4,33.4 206.3,27.6 207.2,32.7 208.1,34.8 209,31.4" fill="none" stroke="#8f8db0" stroke-opacity="0.2" stroke-width="0.4"/>
<polyline points="28.5,33 29.4,31.4 30.3,35.6 31.2,33 32.1,31.1 33,34.9 33.9,32.1 34.8,34 35.8,33.2 36.7,33.6 37.6,33.5 38.5,32.3 39.4,33.3 40.3,36.3 41.2,29.8 42.1,33.3 43,33.9 43.9,31.6 44.8,31.1 45.7,36.4 46.6,30.9 47.5,37.4 48.5,34 49.4,33.3 50.3,33.9 51.2,34.2 52.1,35 53,33.9 53.9,33.4 54.8,33.5 55.7,35.2 56.6,34.4 57.5,31.7 58.4,32.3 59.3,33.7 60.2,32.3 61.2,32.6 62.1,31.8 63,32.8 63.9,33.8 64.8,34.7 65.7,33.2 66.6,36.3 67.5,33.1 68.4,36 69.3,36.5 70.2,33.9 71.1,32.5 72,26.1 72.9,33.8 73.9,33.5 74.8,36.1 75.7,31.1 76.6,36.1 77.5,32.8 78.4,34.3 79.3,29.4 80.2,33.4 81.1,32.7 82,34.2 82.9,33.3 83.8,31.5 84.7,34.6 85.6,34.2 86.6,34.1 87.5,34.7 88.4,34.9 89.3,33.2 90.2,31.2 91.1,31.1 92,35.2 92.9,34.3 93.8,33.4 94.7,32.6 95.6,33.3 96.5,33.2 97.4,32.7 98.3,32.2 99.2,36.5 100.2,33.5 101.1,32.3 102,31.3 102.9,32.1 103.8,34.3 104.7,34.3 105.6,32.9 106.5,33.3 107.4,32.7 108.3,31.5 109.2,35.2 110.1,33.8 111,36.9 111.9,32.1 112.9,33 113.8,34.5 114.7,31.1 115.6,32.3 116.5,31.8 117.4,33.4 118.3,33.7 119.2,33.1 120.1,34.7 121,34.7 121.9,33.7 122.8,33.2 123.7,32.8 124.6,34 125.6,34.6 126.5,33.3 127.4,33.9 128.3,32.7 129.2,31.1 130.1,31.7 131,32.6 131.9,35.1 132.8,35.6 133.7,33.3 134.6,34.5 135.5,35.2 136.4,34.7 137.3,32.3 138.3,32.9 139.2,33.4 140.1,31.7 141,33.9 141.9,34.7 142.8,32.5 143.7,36.2 144.6,32.8 145.5,32.9 146.4,32.8 147.3,32.1 148.2,33.8 149.1,33.2 150,35.7 150.9,34.1 151.9,34 152.8,32.9 153.7,31.1 154.6,33.1 155.5,31.9 156.4,34.6 157.3,33.2 158.2,35.7 159.1,34.3 160,34.5 160.9,30.2 161.8,34.5 162.7,34.2 163.6,34.6 164.6,32.1 165.5,33.9 166.4,37.1 167.3,33.1 168.2,32.8 169.1,32.2 170,31 170.9,35 171.8,33.3 172.7,33.7 173.6,36 174.5,37 175.4,31.9 176.3,34.8 177.3,34.1 178.2,33.8 179.1,33.9 180,33.2 180.9,35.6 181.8,34.1 182.7,33.7 183.6,35.1 184.5,34.6 185.4,33.9 186.3,33.7 187.2,35.8 188.1,34 189,33.1 190,31.9 190.9,32.7 191.8,31.6 192.7,33.4 193.6,33.6 194.5,30.1 195.4,33.2 196.3,34.2 197.2,31.5 198.1,32.8 199,35.1 199.9,32.2 200.8,31.4 201.7,31.6 202.7,33.2 203.6,34.7 204.5,35 205.4,33.5 206.3,31.4 207.2,32.2 208.1,31.9 209,32.9" fill="none" stroke="#8f8db0" stroke-opacity="0.2" stroke-width="0.4"/>
<polyline points="28.5,35.8 29.4,34.4 30.3,36.2 31.2,33.9 32.1,33.6 33,32.9 33.9,35.4 34.8,35 35.8,34.9 36.7,34.4 37.6,37.2 38.5,34.4 39.4,34 40.3,36.9 41.2,37.2 42.1,35.6 43,32.4 43.9,34.2 44.8,36 45.7,35.1 46.6,35.8 47.5,34.5 48.5,36.1 49.4,34.1 50.3,37 51.2,34.9 52.1,36.6 53,34.1 53.9,32.9 54.8,33.4 55.7,34.1 56.6,33.5 57.5,36.9 58.4,37.1 59.3,35.5 60.2,33.5 61.2,34.9 62.1,34 63,37.2 63.9,35.5 64.8,35.8 65.7,34.5 66.6,32 67.5,33.9 68.4,30.4 69.3,36.5 70.2,35.2 71.1,33.8 72,32.9 72.9,39.3 73.9,33.6 74.8,33.7 75.7,34.7 76.6,34 77.5,34.4 78.4,35.8 79.3,37.6 80.2,32.4 81.1,35 82,35.1 82.9,34.9 83.8,34.8 84.7,34.5 85.6,36.6 86.6,34.4 87.5,34.9 88.4,35.1 89.3,35.2 90.2,34.8 91.1,36.5 92,35 92.9,35.3 93.8,35 94.7,33.5 95.6,33.8 96.5,33.5 97.4,35.3 98.3,34 99.2,33.5 100.2,35.4 101.1,35.8 102,32.4 102.9,37.6 103.8,35.1 104.7,34.9 105.6,36.7 106.5,35.2 107.4,34.1 108.3,38.3 109.2,33.4 110.1,34.9 111,36.3 111.9,33.4 112.9,34.9 113.8,35.6 114.7,36.8 115.6,34.7 116.5,35 117.4,36 118.3,35.2 119.2,33.2 120.1,35.7 121,35.2 121.9,35.7 122.8,36.7 123.7,36.6 124.6,35.7 125.6,35.5 126.5,33.4 127.4,34.8 128.3,35.4 129.2,34.4 130.1,35.2 131,32.2 131.9,38.4 132.8,38.3 133.7,34.5 134.6,35.7 135.5,34.7 136.4,36.9 137.3,35.7 138.3,35.2 139.2,34.7 140.1,35.2 141,33.6 141.9,36.1 142.8,34 143.7,35.9 144.6,35.2 145.5,36.7 146.4,35 147.3,36.6 148.2,33.7 149.1,36 150,34.7 150.9,35.3 151.9,35.2 152.8,36.5 153.7,32 154.6,35.5 155.5,32.8 156.4,36.9 157.3,32.1 158.2,33.5 159.1,32.5 160,37.5 160.9,30.6 161.8,36.5 162.7,34.2 163.6,32.4 164.6,34.5 165.5,36 166.4,34.8 167.3,36.5 168.2,34.5 169.1,35.1 170,34.5 170.9,35.6 171.8,37.9 172.7,35.6 173.6,35.3 174.5,34.1 175.4,33.9 176.3,37.2 177.3,33.4 178.2,33.7 179.1,34.9 180,34.4 180.9,38 181.8,31.5 182.7,35.6 183.6,36.1 184.5,33.4 185.4,34.1 186.3,35.7 187.2,37.5 188.1,33.7 189,32.7 190,36.5 190.9,37.3 191.8,34.5 192.7,31.7 193.6,37.2 194.5,34.8 195.4,36.7 196.3,35 197.2,32.2 198.1,35.2 199,37.3 199.9,37.2 200.8,31.8 201.7,33.6 202.7,37.7 203.6,34.5 204.5,33 205.4,35.1 206.3,34.9 207.2,34.9 208.1,34.3 209,34.6" fill="none" stroke="#8f8db0" stroke-opacity="0.2" stroke-width="0.4"/>
<polyline points="28.5,36.1 29.4,37.7 30.3,39.6 31.2,38.9 32.1,36.8 33,36.3 33.9,38.2 34.8,37.7 35.8,36.8 36.7,34.7 37.6,34.1 38.5,37.4 39.4,38.1 40.3,38.1 41.2,35 42.1,38.5 43,36.1 43.9,37.5 44.8,37.5 45.7,35.7 46.6,32.7 47.5,34.9 48.5,35.5 49.4,34.2 50.3,37.6 51.2,37 52.1,38.3 53,37.4 53.9,35.9 54.8,37.4 55.7,36.3 56.6,37.8 57.5,37.4 58.4,35.4 59.3,36.9 60.2,37 61.2,36.4 62.1,38.2 63,39.5 63.9,36.3 64.8,36.4 65.7,33.5 66.6,36.7 67.5,36.2 68.4,31 69.3,38.1 70.2,37.8 71.1,35.8 72,34.3 72.9,37.2 73.9,38 74.8,34.6 75.7,36.4 76.6,39.8 77.5,37 78.4,37.6 79.3,36.7 80.2,35.1 81.1,36.8 82,37.5 82.9,35.4 83.8,37.4 84.7,38.8 85.6,38.5 86.6,34.5 87.5,35.4 88.4,34.5 89.3,38.5 90.2,37.8 91.1,38 92,35.6 92.9,35.1 93.8,37 94.7,37 95.6,35.6 96.5,37.1 97.4,37.9 98.3,37.2 99.2,35.3 100.2,33.7 101.1,36.5 102,37.1 102.9,36.5 103.8,36.3 104.7,35.9 105.6,38 106.5,36.8 107.4,37.1 108.3,35.4 109.2,36 110.1,37.1 111,35.4 111.9,35 112.9,36.4 113.8,38.7 114.7,34.2 115.6,40.2 116.5,36.7 117.4,36.4 118.3,34.8 119.2,36 120.1,39.1 121,37.4 121.9,38 122.8,38 123.7,36.9 124.6,36.6 125.6,37.1 126.5,37.9 127.4,37.6 128.3,37.6 129.2,37.1 130.1,35.7 131,33.1 131.9,37.4 132.8,38.4 133.7,33.7 134.6,36.6 135.5,40.5 136.4,36.4 137.3,35.2 138.3,36.9 139.2,38.8 140.1,36.7 141,37.8 141.9,37 142.8,36.3 143.7,41.6 144.6,37 145.5,36.1 146.4,36.2 147.3,37.5 148.2,37.5 149.1,38.1 150,37.1 150.9,34.8 151.9,37.7 152.8,36.4 153.7,36.5 154.6,34.7 155.5,36 156.4,35.8 157.3,36.8 158.2,34.7 159.1,37 160,37.1 160.9,33.3 161.8,38 162.7,35.6 163.6,38.3 164.6,33.1 165.5,36.4 166.4,34.4 167.3,36.3 168.2,38.2 169.1,36 170,37.1 170.9,35.6 171.8,39.8 172.7,38.3 173.6,38.6 174.5,34.9 175.4,35.2 176.3,38.5 177.3,36.6 178.2,36.5 179.1,37.4 180,35 180.9,38.1 181.8,36.9 182.7,37.6 183.6,35.9 184.5,37.7 185.4,35.8 186.3,38.3 187.2,38.6 188.1,38.3 189,37.7 190,37.8 190.9,32.8 191.8,38.2 192.7,36.5 193.6,37 194.5,36.5 195.4,34.8 196.3,36.1 197.2,36.4 198.1,40.4 199,36 199.9,35.5 200.8,39.1 201.7,35.6 202.7,40 203.6,37 204.5,35.6 205.4,38.4 206.3,39.4 207.2,34.7 208.1,39.2 209,36.5" fill="none" stroke="#8f8db0" stroke-opacity="0.2" stroke-width="0.4"/>
<polyline points="28.5,39 29.4,38.7 30.3,42.6 31.2,39.9 32.1,38 33,39.6 33.9,36.9 34.8,37.8 35.8,35.9 36.7,40.9 37.6,39.6 38.5,37 39.4,38.7 40.3,40.2 41.2,39.5 42.1,39.3 43,37.5 43.9,37.8 44.8,38.9 45.7,40.1 46.6,34.4 47.5,37.9 48.5,40.5 49.4,37.3 50.3,40.4 51.2,39.1 52.1,40.1 53,41.4 53.9,39.8 54.8,39.9 55.7,37.4 56.6,37.7 57.5,39.7 58.4,41 59.3,40.8 60.2,42.2 61.2,39.2 62.1,39 63,40.3 63.9,38.8 64.8,38.7 65.7,37.2 66.6,40.2 67.5,37.1 68.4,37.3 69.3,37.3 70.2,40.4 71.1,37.2 72,36.3 72.9,38.1 73.9,38.1 74.8,40.5 75.7,37.5 76.6,38.8 77.5,38 78.4,35.3 79.3,39.2 80.2,39.4 81.1,37.1 82,39.6 82.9,37.6 83.8,37.2 84.7,38.8 85.6,37.7 86.6,42.2 87.5,36.4 88.4,39.9 89.3,40.2 90.2,35.8 91.1,36.1 92,39.6 92.9,38 93.8,39.3 94.7,40.5 95.6,38.2 96.5,37.1 97.4,34.7 98.3,39.1 99.2,37.4 100.2,39.2 101.1,39.1 102,36.7 102.9,41.3 103.8,40.4 104.7,40 105.6,37 106.5,38.1 107.4,37.9 108.3,38.1 109.2,37.1 110.1,39.4 111,39.1 111.9,39.3 112.9,38 113.8,40.7 114.7,37.3 115.6,35.9 116.5,37.8 117.4,38.7 118.3,40.2 119.2,38.3 120.1,38.4 121,37.8 121.9,39.7 122.8,38.1 123.7,37.8 124.6,37.6 125.6,39.6 126.5,37.9 127.4,36.2 128.3,39.7 129.2,37.7 130.1,39.3 131,37.3 131.9,42.2 132.8,40.3 133.7,37.9 134.6,38.5 135.5,36.8 136.4,41.3 137.3,39.4 138.3,40.8 139.2,38.3 140.1,35.7 141,41 141.9,38.9 142.8,38.9 143.7,38.8 144.6,39.7 145.5,39.5 146.4,36.4 147.3,40.4 148.2,38 149.1,38 150,41.3 150.9,40.1 151.9,38.2 152.8,36 153.7,39 154.6,39.6 155.5,38.6 156.4,36.9 157.3,37.6 158.2,36.9 159.1,39.1 160,40 160.9,37.4 161.8,39.6 162.7,39.1 163.6,39.6 164.6,38 165.5,38.5 166.4,41.9 167.3,39.1 168.2,40.1 169.1,38.1 170,38.8 170.9,36.2 171.8,38.7 172.7,40.5 173.6,41.9 174.5,40.5 175.4,39.8 176.3,38.8 177.3,37.8 178.2,38.5 179.1,39.7 180,37.6 180.9,40.1 181.8,37.3 182.7,36.1 183.6,37.2 184.5,36.2 185.4,36.7 186.3,40.4 187.2,38.4 188.1,39.1 189,40.5 190,40.6 190.9,38 191.8,40.7 192.7,39.3 193.6,38.7 194.5,39.4 195.4,36.6 196.3,37.6 197.2,35.3 198.1,40.3 199,38.2 199.9,38.6 200.8,40.2 201.7,40.9 202.7,39.9 203.6,40.6 204.5,38.1 205.4,38.3 206.3,39.2 207.2,38.3 208.1,38 209,41.2" fill="none" stroke="#8f8db0" stroke-opacity="0.2" stroke-width="0.4"/>
<polyline points="28.5,43 29.4,39.1 30.3,40.2 31.2,41.8 32.1,41.5 33,41 33.9,38.1 34.8,41.1 35.8,39.1 36.7,44.4 37.6,40.3 38.5,40.9 39.4,38.9 40.3,39.9 41.2,38.7 42.1,42.1 43,40.2 43.9,41.4 44.8,39.6 45.7,39.8 46.6,42.5 47.5,39.1 48.5,37.9 49.4,41.2 50.3,38.9 51.2,39.9 52.1,42 53,39.4 53.9,41.9 54.8,39.6 55.7,42.8 56.6,42.6 57.5,39.9 58.4,40.3 59.3,39.3 60.2,40.9 61.2,42.3 62.1,38.4 63,42 63.9,38.6 64.8,39.3 65.7,37.9 66.6,43.7 67.5,40.7 68.4,41 69.3,39.6 70.2,42.2 71.1,37.4 72,40.6 72.9,43.9 73.9,40 74.8,40.6 75.7,41.6 76.6,39.4 77.5,40.6 78.4,42 79.3,40.9 80.2,41.1 81.1,40.1 82,41.1 82.9,40.7 83.8,42.8 84.7,41.7 85.6,40.2 86.6,36.9 87.5,41.7 88.4,41.7 89.3,39.2 90.2,37.6 91.1,38.9 92,42 92.9,39 93.8,39.9 94.7,40.9 95.6,42.4 96.5,40.6 97.4,40.4 98.3,39.8 99.2,43 100.2,42.2 101.1,40.4 102,38.5 102.9,39.4 103.8,41.5 104.7,39.5 105.6,41.9 106.5,41.1 107.4,41 108.3,41.6 109.2,41.3 110.1,39.3 111,40.1 111.9,44.1 112.9,38.8 113.8,39.9 114.7,42.2 115.6,40.4 116.5,39.4 117.4,38.6 118.3,41.4 119.2,42.1 120.1,42.7 121,40.7 121.9,42.2 122.8,39 123.7,40.8 124.6,39.6 125.6,40.9 126.5,41.7 127.4,42.2 128.3,39.1 129.2,42.5 130.1,39.9 131,39.1 131.9,40.3 132.8,38.4 133.7,40.6 134.6,41 135.5,40.3 136.4,41.4 137.3,40.1 138.3,40.6 139.2,38.4 140.1,40.7 141,39.3 141.9,39.9 142.8,40.5 143.7,40.9 144.6,38.1 145.5,38.2 146.4,40.1 147.3,41.3 148.2,41.1 149.1,41.9 150,42.5 150.9,41.3 151.9,40.6 152.8,39 153.7,39.2 154.6,39.9 155.5,41 156.4,40.9 157.3,40.6 158.2,40.4 159.1,41.5 160,40.9 160.9,41 161.8,41.1 162.7,39.8 163.6,39 164.6,41.3 165.5,41.2 166.4,40.3 167.3,40 168.2,44 169.1,39.5 170,40.3 170.9,41 171.8,38.9 172.7,40.8 173.6,43.3 174.5,42 175.4,41.5 176.3,41.5 177.3,40.8 178.2,42 179.1,40.4 180,40 180.9,40.7 181.8,42 182.7,41.1 183.6,41.6 184.5,37.6 185.4,42.4 186.3,44.1 187.2,42.6 188.1,40.1 189,39.3 190,41 190.9,39.1 191.8,41.7 192.7,39.8 193.6,42 194.5,42.6 195.4,37.5 196.3,41 197.2,39.5 198.1,38.5 199,39.7 199.9,40.3 200.8,42.1 201.7,38.3 202.7,42.2 203.6,43.6 204.5,41.5 205.4,41.4 206.3,40.6 207.2,38.8 208.1,41.4 209,41.2" fill="none" stroke="#8f8db0" stroke-opacity="0.2" stroke-width="0.4"/>
<polyline points="28.5,43.5 29.4,46.3 30.3,43.5 31.2,43.1 32.1,44.8 33,40.4 33.9,40.7 34.8,41.9 35.8,41.5 36.7,43.5 37.6,42 38.5,45 39.4,44.7 40.3,43.6 41.2,41.9 42.1,43.4 43,43.7 43.9,40.8 44.8,43 45.7,43.5 46.6,42.8 47.5,44.8 48.5,44.3 49.4,41.2 50.3,42.6 51.2,41.2 52.1,43.3 53,41.1 53.9,43.8 54.8,43 55.7,43.9 56.6,42.2 57.5,40.3 58.4,45.1 59.3,42.2 60.2,44.5 61.2,43.1 62.1,43.4 63,45.2 63.9,42.9 64.8,44.5 65.7,40.2 66.6,43.7 67.5,42.1 68.4,42.2 69.3,42.5 70.2,43 71.1,44.9 72,39.7 72.9,42.5 73.9,41.4 74.8,44.2 75.7,41.8 76.6,43.1 77.5,41.8 78.4,43.4 79.3,44 80.2,41.8 81.1,42.5 82,40.3 82.9,42.9 83.8,43.7 84.7,41.6 85.6,44.1 86.6,39.3 87.5,39.7 88.4,40.4 89.3,41.7 90.2,42.5 91.1,42.3 92,42.3 92.9,43.5 93.8,41.7 94.7,40.5 95.6,40.6 96.5,45.6 97.4,38.9 98.3,42.2 99.2,44.6 100.2,43.2 101.1,41.2 102,42.4 102.9,43.7 103.8,44.3 104.7,41.1 105.6,43.6 106.5,42.8 107.4,44.1 108.3,44.5 109.2,41.9 110.1,40.3 111,43 111.9,45.1 112.9,43.5 113.8,42.8 114.7,46 115.6,40.9 116.5,43.8 117.4,41.6 118.3,42.5 119.2,42.6 120.1,44.7 121,41 121.9,41.6 122.8,40 123.7,43.2 124.6,41.8 125.6,43.1 126.5,40.8 127.4,41.9 128.3,44 129.2,42.2 130.1,43.4 131,43.2 131.9,41.9 132.8,40.1 133.7,43.9 134.6,42.7 135.5,43.9 136.4,39.4 137.3,40 138.3,39.2 139.2,41.1 140.1,44 141,43.3 141.9,42.4 142.8,42.6 143.7,43.6 144.6,42 145.5,43 146.4,42.6 147.3,39.2 148.2,41.9 149.1,44.5 150,41.8 150.9,42.2 151.9,41.5 152.8,41.7 153.7,44.1 154.6,42 155.5,40.9 156.4,37.8 157.3,41.6 158.2,39.5 159.1,39.7 160,43.6 160.9,43.5 161.8,39.6 162.7,43.7 163.6,43.1 164.6,41.3 165.5,43.5 166.4,40 167.3,40.6 168.2,40.3 169.1,40.8 170,43.8 170.9,40.4 171.8,40.7 172.7,41 173.6,42.7 174.5,41.9 175.4,43.7 176.3,41.4 177.3,40.5 178.2,41.7 179.1,42.5 180,41 180.9,42.8 181.8,45.2 182.7,41.6 183.6,42.5 184.5,44.5 185.4,41.5 186.3,41.2 187.2,40.8 188.1,43 189,43.2 190,42.2 190.9,42.5 191.8,44.3 192.7,43.7 193.6,40.3 194.5,42.4 195.4,42.6 196.3,43.5 197.2,42.1 198.1,41.4 199,41.7 199.9,39.7 200.8,42.4 201.7,41.5 202.7,43.1 203.6,40.9 204.5,41.7 205.4,40.9 206.3,40.8 207.2,43.4 208.1,41.7 209,43.1" fill="none" stroke="#8f8db0" stroke-opacity="0.2" stroke-width="0.4"/>
<polyline points="28.5,42.6 29.4,44.4 30.3,41.7 31.2,43.5 32.1,43.5 33,45.1 33.9,44.5 34.8,44 35.8,45.5 36.7,44.5 37.6,45 38.5,45.4 39.4,44.1 40.3,43.8 41.2,44.7 42.1,43.6 43,44.8 43.9,45.9 44.8,45.5 45.7,43.6 46.6,42.3 47.5,44.1 48.5,44 49.4,45.9 50.3,43.6 51.2,43.9 52.1,45.3 53,43.5 53.9,44 54.8,46.8 55.7,46.4 56.6,45.2 57.5,44.6 58.4,42.8 59.3,45.1 60.2,44.3 61.2,44.5 62.1,43.4 63,44.2 63.9,43.9 64.8,44.7 65.7,46.4 66.6,44.8 67.5,41.7 68.4,42.8 69.3,41.8 70.2,43 71.1,45.1 72,44.8 72.9,43.3 73.9,44.6 74.8,43.1 75.7,42.1 76.6,42.1 77.5,42.9 78.4,46.3 79.3,42.2 80.2,46.1 81.1,46.2 82,43.9 82.9,44.1 83.8,43.3 84.7,44.2 85.6,45.2 86.6,44.2 87.5,45.7 88.4,46 89.3,44.7 90.2,44.7 91.1,44.1 92,44.7 92.9,42.5 93.8,44.8 94.7,44.5 95.6,42.9 96.5,47.4 97.4,42.8 98.3,42.9 99.2,44.6 100.2,41.3 101.1,43 102,41.9 102.9,42.8 103.8,44 104.7,44.7 105.6,45.9 106.5,45.4 107.4,46 108.3,45.1 109.2,43.5 110.1,45.9 111,43.5 111.9,43.3 112.9,46.5 113.8,45.4 114.7,44.5 115.6,45.3 116.5,45.5 117.4,42.2 118.3,44.1 119.2,42.4 120.1,44.4 121,43.2 121.9,46.2 122.8,45 123.7,43 124.6,44.2 125.6,42.4 126.5,44.3 127.4,45 128.3,44.6 129.2,41.3 130.1,43.7 131,45 131.9,44.7 132.8,45.9 133.7,42.3 134.6,45 135.5,43.2 136.4,44.5 137.3,44.8 138.3,45.2 139.2,43.3 140.1,44.5 141,42.4 141.9,42.1 142.8,45 143.7,44.1 144.6,41.8 145.5,42.9 146.4,44.2 147.3,46.5 148.2,45.8 149.1,45.4 150,41.5 150.9,44.1 151.9,44.9 152.8,44.8 153.7,44.8 154.6,43.8 155.5,46.8 156.4,46.4 157.3,44.1 158.2,42.7 159.1,47.3 160,43.4 160.9,46 161.8,47.1 162.7,42.8 163.6,44.6 164.6,43.7 165.5,45 166.4,44.7 167.3,47.1 168.2,45.1 169.1,44.2 170,45.9 170.9,43.8 171.8,43.7 172.7,47.6 173.6,43 174.5,43.5 175.4,44.3 176.3,42.6 177.3,41 178.2,45.8 179.1,43 180,43.4 180.9,43.6 181.8,42.7 182.7,42.6 183.6,44.4 184.5,47.8 185.4,45.3 186.3,45.3 187.2,41.9 188.1,44.2 189,42.4 190,45.4 190.9,43.9 191.8,44.3 192.7,44.1 193.6,43.3 194.5,41.9 195.4,45.1 196.3,42.1 197.2,42.4 198.1,43.8 199,43.1 199.9,44.6 200.8,45.7 201.7,44.6 202.7,44.5 203.6,44.2 204.5,45.5 205.4,41.4 206.3,44.7 207.2,42.8 208.1,42.3 209,44.2" fill="none" stroke="#8f8db0" stroke-opacity="0.2" stroke-width="0.4"/>
<polyline points="28.5,45.5 29.4,46.9 30.3,47.7 31.2,42.6 32.1,45.9 33,49 33.9,47.3 34.8,48.2 35.8,46.2 36.7,43.9 37.6,44.4 38.5,47.1 39.4,47.5 40.3,44.9 41.2,45.6 42.1,46.4 43,43.4 43.9,45.5 44.8,48.5 45.7,49.3 46.6,45.9 47.5,48.8 48.5,45.3 49.4,44.8 50.3,42.7 51.2,47.5 52.1,45.5 53,49.6 53.9,46.5 54.8,46.3 55.7,43.3 56.6,48.3 57.5,45.5 58.4,45.8 59.3,42.7 60.2,47.4 61.2,47.5 62.1,45.1 63,46.2 63.9,46.6 64.8,47.5 65.7,46.2 66.6,48.6 67.5,45.7 68.4,45.1 69.3,45.3 70.2,42.2 71.1,44.8 72,47.6 72.9,46.4 73.9,44.8 74.8,46.6 75.7,43 76.6,45.6 77.5,46.8 78.4,47.1 79.3,44.9 80.2,47.4 81.1,48.9 82,45.4 82.9,47.2 83.8,43.7 84.7,43.1 85.6,47 86.6,46.1 87.5,46.4 88.4,45.2 89.3,45.6 90.2,47.3 91.1,48.6 92,45.7 92.9,43.6 93.8,48 94.7,47 95.6,47.1 96.5,46.3 97.4,49.5 98.3,46.2 99.2,46.8 100.2,43.3 101.1,45.2 102,45 102.9,46 103.8,46.6 104.7,44.9 105.6,48.7 106.5,44.5 107.4,45.4 108.3,46.4 109.2,44.2 110.1,46.9 111,47 111.9,45.6 112.9,48.9 113.8,46.2 114.7,46.5 115.6,44.6 116.5,43.5 117.4,45.1 118.3,45.6 119.2,45.4 120.1,47.2 121,42.5 121.9,44.4 122.8,43.3 123.7,48.1 124.6,45.2 125.6,45.3 126.5,44.4 127.4,47.4 128.3,45.4 129.2,46.4 130.1,43 131,47.8 131.9,46.6 132.8,46.9 133.7,47.9 134.6,45.8 135.5,45.8 136.4,47.1 137.3,46.7 138.3,45.7 139.2,46.1 140.1,45.3 141,47.1 141.9,47.5 142.8,46.1 143.7,48.9 144.6,43.7 145.5,45.7 146.4,48.6 147.3,45.4 148.2,43.7 149.1,48.2 150,46.9 150.9,44.3 151.9,47.2 152.8,44.5 153.7,44 154.6,45.8 155.5,45.3 156.4,44.4 157.3,45.5 158.2,44.6 159.1,46.2 160,46 160.9,47.2 161.8,45.4 162.7,44.1 163.6,44.1 164.6,45.7 165.5,48.4 166.4,47.3 167.3,45.1 168.2,47.5 169.1,44.3 170,47.6 170.9,45.5 171.8,47.2 172.7,47 173.6,45.6 174.5,46.6 175.4,44.5 176.3,46 177.3,47.7 178.2,52.2 179.1,47.1 180,46.2 180.9,44.5 181.8,47.7 182.7,43.6 183.6,44.9 184.5,46.6 185.4,44.2 186.3,48.4 187.2,47.7 188.1,45.2 189,45.2 190,44.1 190.9,44 191.8,46.7 192.7,47 193.6,46.6 194.5,46.5 195.4,45.2 196.3,46.6 197.2,43.8 198.1,46.1 199,48.3 199.9,48.1 200.8,45.4 201.7,45.6 202.7,48.1 203.6,48.8 204.5,43.8 205.4,45.4 206.3,46.4 207.2,47.9 208.1,44.8 209,47" fill="none" stroke="#8f8db0" stroke-opacity="0.2" stroke-width="0.4"/>
<polyline points="28.5,47.5 29.4,51.5 30.3,48.6 31.2,47.7 32.1,47.4 33,49.5 33.9,48.9 34.8,46.3 35.8,48.2 36.7,45.9 37.6,46.8 38.5,46 39.4,45.9 40.3,46.9 41.2,46.4 42.1,48.7 43,49.1 43.9,47.6 44.8,46.2 45.7,49.1 46.6,44.9 47.5,45 48.5,49 49.4,48.9 50.3,49.4 51.2,47.6 52.1,46 53,47.1 53.9,48.8 54.8,46.8 55.7,46.9 56.6,45.8 57.5,46.2 58.4,49.2 59.3,48.6 60.2,46.2 61.2,46.3 62.1,47.1 63,48.7 63.9,46.2 64.8,47.7 65.7,44.7 66.6,46 67.5,48.5 68.4,49.3 69.3,46.2 70.2,46.7 71.1,49.1 72,47.3 72.9,47.1 73.9,48.7 74.8,48.2 75.7,49.6 76.6,49.1 77.5,47 78.4,47.7 79.3,47.8 80.2,45.9 81.1,46.4 82,49.4 82.9,45.5 83.8,49.4 84.7,48.3 85.6,47.7 86.6,48.7 87.5,48.6 88.4,49.7 89.3,47.3 90.2,47.6 91.1,47.5 92,50.7 92.9,49.3 93.8,46.5 94.7,47.4 95.6,46.9 96.5,47.9 97.4,48.2 98.3,51.4 99.2,45.2 100.2,49.5 101.1,48.6 102,46.9 102.9,47.7 103.8,47.2 104.7,48 105.6,49.4 106.5,45.6 107.4,49.9 108.3,47.4 109.2,50.2 110.1,48.5 111,49.8 111.9,48.8 112.9,49.6 113.8,48 114.7,46.7 115.6,48.9 116.5,49 117.4,51.1 118.3,44.9 119.2,47.6 120.1,49.5 121,46 121.9,47.6 122.8,51.1 123.7,50.1 124.6,46.6 125.6,50.1 126.5,49.7 127.4,49.1 128.3,48.5 129.2,48.3 130.1,46.6 131,47.2 131.9,49 132.8,48.1 133.7,50.7 134.6,47.4 135.5,44.3 136.4,47.4 137.3,48.4 138.3,48.5 139.2,48 140.1,46.7 141,50.2 141.9,46.9 142.8,49 143.7,47.5 144.6,46.1 145.5,50.1 146.4,44.2 147.3,46.7 148.2,48.6 149.1,47.4 150,49.1 150.9,47.8 151.9,47.3 152.8,51.2 153.7,47.6 154.6,47.7 155.5,46.3 156.4,46.8 157.3,48.9 158.2,48.8 159.1,47.9 160,46.9 160.9,49 161.8,45.4 162.7,47.4 163.6,47.6 164.6,46.7 165.5,48.2 166.4,46.9 167.3,46.7 168.2,50.7 169.1,49.1 170,49.8 170.9,48 171.8,49.4 172.7,49.1 173.6,49.8 174.5,51.5 175.4,47.6 176.3,48.4 177.3,47.9 178.2,42.7 179.1,45.9 180,48 180.9,48.9 181.8,47.1 182.7,49.7 183.6,49.9 184.5,47.3 185.4,50.1 186.3,50.6 187.2,48.7 188.1,46.5 189,50.2 190,47.7 190.9,47.4 191.8,48.1 192.7,47.2 193.6,49.6 194.5,49.1 195.4,49.8 196.3,48.9 197.2,46.8 198.1,47.7 199,49.3 199.9,47.4 200.8,52.4 201.7,47.6 202.7,47.1 203.6,49.7 204.5,49.1 205.4,47.9 206.3,47.6 207.2,48.6 208.1,49.2 209,49.1" fill="none" stroke="#8f8db0" stroke-opacity="0.2" stroke-width="0.4"/>
<polyline points="28.5,49.4 29.4,50.5 30.3,51.1 31.2,51 32.1,45.2 33,48.5 33.9,48.7 34.8,49.5 35.8,50.1 36.7,51.2 37.6,50.8 38.5,49.6 39.4,49.9 40.3,52.5 41.2,48.9 42.1,50.3 43,52.2 43.9,50.3 44.8,46.8 45.7,50.4 46.6,49.2 47.5,49.7 48.5,51.4 49.4,50.5 50.3,49.4 51.2,51.2 52.1,50.5 53,50 53.9,50.3 54.8,50.2 55.7,49.3 56.6,49.1 57.5,49.9 58.4,48.4 59.3,47.9 60.2,51.8 61.2,49.5 62.1,49.8 63,49.6 63.9,49.9 64.8,49.9 65.7,49.9 66.6,48.6 67.5,51.2 68.4,48.8 69.3,51.4 70.2,46.9 71.1,48.2 72,51.3 72.9,49.6 73.9,48.8 74.8,50.4 75.7,48.3 76.6,49.9 77.5,46.5 78.4,49.1 79.3,48.9 80.2,50.6 81.1,51.1 82,48.5 82.9,52.2 83.8,48.9 84.7,46.7 85.6,46.3 86.6,52.1 87.5,49.7 88.4,48.9 89.3,48.7 90.2,48.2 91.1,51.9 92,49.7 92.9,52.5 93.8,49.5 94.7,46.3 95.6,51.1 96.5,49.3 97.4,49.5 98.3,52.2 99.2,49.4 100.2,51.6 101.1,49.8 102,48.7 102.9,50.6 103.8,48.9 104.7,51.7 105.6,51.3 106.5,49.9 107.4,50.7 108.3,50.7 109.2,49.4 110.1,51.2 111,49.5 111.9,50.8 112.9,48.4 113.8,50 114.7,50.5 115.6,48.6 116.5,49.2 117.4,49 118.3,50.9 119.2,48.8 120.1,50.5 121,52.1 121.9,50.4 122.8,47.4 123.7,50 124.6,51.4 125.6,49.4 126.5,51.5 127.4,50.8 128.3,50.5 129.2,49.4 130.1,49.1 131,49.5 131.9,49.9 132.8,50.6 133.7,50.5 134.6,49.4 135.5,49.9 136.4,50.4 137.3,47.4 138.3,48.7 139.2,48.6 140.1,49.5 141,49.4 141.9,49.5 142.8,48.5 143.7,50.9 144.6,50.3 145.5,47.4 146.4,49.9 147.3,48.2 148.2,52.4 149.1,49.2 150,49.3 150.9,50 151.9,49.5 152.8,49.8 153.7,52.2 154.6,50.2 155.5,51.1 156.4,51.5 157.3,48.4 158.2,52.4 159.1,50.9 160,51.3 160.9,48.6 161.8,51.1 162.7,50.5 163.6,49 164.6,53.3 165.5,50.7 166.4,49.5 167.3,50.1 168.2,51.2 169.1,51.5 170,50.7 170.9,51.7 171.8,52.1 172.7,48 173.6,49.1 174.5,48.4 175.4,50 176.3,52 177.3,50.8 178.2,48.3 179.1,49.4 180,51.4 180.9,49.1 181.8,49.7 182.7,50.3 183.6,47.1 184.5,51 185.4,50.4 186.3,50.7 187.2,48.4 188.1,48.7 189,49 190,50.2 190.9,50 191.8,50 192.7,52.5 193.6,51.8 194.5,48.8 195.4,48.9 196.3,52.4 197.2,49.4 198.1,51.9 199,52.3 199.9,49 200.8,49.5 201.7,50 202.7,48.6 203.6,48.4 204.5,49.3 205.4,51.1 206.3,49.2 207.2,49.5 208.1,49.2 209,47.8" fill="none" stroke="#8f8db0" stroke-opacity="0.2" stroke-width="0.4"/>
<polyline points="28.5,53.9 29.4,48.2 30.3,50.7 31.2,52.5 32.1,49.6 33,52.6 33.9,53.6 34.8,50.4 35.8,52 36.7,50 37.6,52.5 38.5,51.8 39.4,52 40.3,53.8 41.2,52.4 42.1,53.7 43,52.7 43.9,49.9 44.8,52.1 45.7,52.4 46.6,49.5 47.5,53.7 48.5,51.8 49.4,52.3 50.3,50.4 51.2,51.8 52.1,52.2 53,51.2 53.9,51.8 54.8,48.5 55.7,53.7 56.6,50 57.5,48.4 58.4,50.3 59.3,50.4 60.2,52.5 61.2,50.3 62.1,52.1 63,50.3 63.9,55 64.8,52.5 65.7,54.6 66.6,50.2 67.5,52.7 68.4,50.3 69.3,52.6 70.2,52.7 71.1,49.3 72,50 72.9,49.9 73.9,49.4 74.8,50.6 75.7,50.3 76.6,49.5 77.5,51.8 78.4,52.5 79.3,49.7 80.2,50.9 81.1,51.7 82,51.3 82.9,50.6 83.8,52.9 84.7,53 85.6,52.7 86.6,51.4 87.5,54.7 88.4,54.3 89.3,51.1 90.2,51.5 91.1,53.5 92,50.5 92.9,52.3 93.8,51.8 94.7,50.6 95.6,51.3 96.5,49.3 97.4,50.9 98.3,48.7 99.2,55.1 100.2,53.9 101.1,53.5 102,52.1 102.9,53.2 103.8,53.6 104.7,53.2 105.6,53.1 106.5,50.3 107.4,52.3 108.3,50.9 109.2,49.9 110.1,50 111,52.3 111.9,53.3 112.9,49.6 113.8,54.3 114.7,53.9 115.6,51.1 116.5,51 117.4,51.6 118.3,53.2 119.2,51.1 120.1,50 121,52.2 121.9,48.6 122.8,51.9 123.7,53.4 124.6,52.1 125.6,52.8 126.5,52.4 127.4,52.8 128.3,51.9 129.2,50.4 130.1,51.3 131,51.6 131.9,53.6 132.8,54.1 133.7,52.3 134.6,50.5 135.5,50.6 136.4,51.4 137.3,53.8 138.3,52.2 139.2,51.6 140.1,50.5 141,53 141.9,52.1 142.8,51.6 143.7,51.8 144.6,54.2 145.5,51.4 146.4,54.2 147.3,53.5 148.2,51.8 149.1,53 150,51.5 150.9,50.4 151.9,51.3 152.8,50.3 153.7,52.4 154.6,51.7 155.5,52.5 156.4,52.9 157.3,47 158.2,52.1 159.1,49 160,51.9 160.9,50.4 161.8,51.8 162.7,53.7 163.6,49.1 164.6,52 165.5,51.6 166.4,48.8 167.3,52.6 168.2,51.7 169.1,50.9 170,50.6 170.9,56.5 171.8,51.1 172.7,49 173.6,50.3 174.5,51.1 175.4,51.1 176.3,51.6 177.3,50.1 178.2,52.5 179.1,50.9 180,49.6 180.9,50.5 181.8,51.1 182.7,52.9 183.6,52.4 184.5,51.2 185.4,51.7 186.3,52 187.2,54.7 188.1,50.7 189,52.4 190,52.8 190.9,50.2 191.8,52 192.7,51.9 193.6,51 194.5,52.5 195.4,53.2 196.3,53.4 197.2,51.4 198.1,52 199,55.2 199.9,50 200.8,52 201.7,53 202.7,51.9 203.6,52.7 204.5,51.9 205.4,52.8 206.3,53.6 207.2,51.3 208.1,52 209,51.6" fill="none" stroke="#8f8db0" stroke-opacity="0.2" stroke-width="0.4"/>
<polyline points="28.5,52.9 29.4,53.5 30.3,51.8 31.2,54.6 32.1,56.1 33,56.1 33.9,55.4 34.8,52.1 35.8,55.8 36.7,52.4 37.6,53.4 38.5,56.3 39.4,51.9 40.3,54.8 41.2,53.9 42.1,53.3 43,52.2 43.9,54.2 44.8,52.8 45.7,55.1 46.6,55.4 47.5,51.5 48.5,52.8 49.4,53 50.3,51.7 51.2,51.8 52.1,53.7 53,53.2 53.9,51 54.8,52.7 55.7,54.3 56.6,51.7 57.5,52.1 58.4,55.9 59.3,55.5 60.2,51.1 61.2,51.5 62.1,54.1 63,51.7 63.9,53.1 64.8,52.8 65.7,54.4 66.6,49.7 67.5,50.2 68.4,51.7 69.3,55 70.2,53.3 71.1,51 72,54.3 72.9,54.6 73.9,53.2 74.8,53 75.7,54.2 76.6,55.3 77.5,53.7 78.4,54.3 79.3,53.4 80.2,52.9 81.1,52.1 82,53.9 82.9,53.1 83.8,53.2 84.7,54.9 85.6,54.3 86.6,54.8 87.5,51.2 88.4,54.4 89.3,52.6 90.2,52.3 91.1,52.2 92,55.3 92.9,54.8 93.8,52.4 94.7,51.8 95.6,53.5 96.5,52.8 97.4,56 98.3,51.3 99.2,50.8 100.2,53.1 101.1,53.5 102,53.7 102.9,54.7 103.8,56.6 104.7,53 105.6,52.7 106.5,50.9 107.4,53.9 108.3,54.8 109.2,53.1 110.1,55.3 111,53.6 111.9,55.8 112.9,54 113.8,51.9 114.7,52.6 115.6,51.2 116.5,50.9 117.4,53.9 118.3,54.8 119.2,56.5 120.1,53.4 121,53.2 121.9,51.9 122.8,55 123.7,54.1 124.6,52.6 125.6,54.6 126.5,54.4 127.4,50.7 128.3,54.6 129.2,53.7 130.1,52.9 131,52.9 131.9,56.1 132.8,55.8 133.7,56.3 134.6,51.8 135.5,52.5 136.4,54.9 137.3,51.7 138.3,52.4 139.2,50.8 140.1,56.3 141,55.1 141.9,54.2 142.8,53.8 143.7,52.9 144.6,52.9 145.5,54.4 146.4,52.5 147.3,55.4 148.2,52.8 149.1,52.2 150,55.5 150.9,53.3 151.9,54.4 152.8,52.9 153.7,50.1 154.6,54.3 155.5,51.5 156.4,55.1 157.3,51.2 158.2,50.7 159.1,54 160,54.2 160.9,53.7 161.8,51.7 162.7,54.9 163.6,51.3 164.6,52.8 165.5,52.3 166.4,53 167.3,54.8 168.2,52.6 169.1,54.4 170,54.6 170.9,51 171.8,51.8 172.7,52.9 173.6,52.6 174.5,54 175.4,50.6 176.3,54.6 177.3,54.6 178.2,53.3 179.1,51.4 180,53.5 180.9,52.7 181.8,54.4 182.7,53.4 183.6,54.6 184.5,52.9 185.4,55.7 186.3,50.1 187.2,52 188.1,54.3 189,51.3 190,54.6 190.9,51.7 191.8,53.7 192.7,52.1 193.6,52.9 194.5,53.8 195.4,53.4 196.3,52.9 197.2,56.8 198.1,53.5 199,52.1 199.9,54.9 200.8,54.8 201.7,55.4 202.7,56.2 203.6,52.1 204.5,55.1 205.4,55.2 206.3,53.5 207.2,53.9 208.1,49 209,52.7" fill="none" stroke="#8f8db0" stroke-opacity="0.2" stroke-width="0.4"/>
<polyline points="28.5,58 29.4,52.7 30.3,54.6 31.2,55.8 32.1,56.2 33,57.8 33.9,52.7 34.8,55.4 35.8,56.7 36.7,53.4 37.6,55.3 38.5,58.2 39.4,57.3 40.3,56.2 41.2,51.4 42.1,55.2 43,55.9 43.9,54.9 44.8,55.3 45.7,60 46.6,55 47.5,53.9 48.5,55.7 49.4,54.9 50.3,54.9 51.2,55.2 52.1,56.5 53,55.7 53.9,53.6 54.8,55.2 55.7,56.1 56.6,54.7 57.5,57.1 58.4,56.5 59.3,53.9 60.2,55.8 61.2,58.3 62.1,57.7 63,55.3 63.9,56.7 64.8,54.4 65.7,53.2 66.6,56.2 67.5,55.7 68.4,56.1 69.3,55.3 70.2,55.9 71.1,54.6 72,56.1 72.9,56.6 73.9,55.3 74.8,56.6 75.7,52.7 76.6,54.2 77.5,57.5 78.4,58 79.3,55.7 80.2,55.2 81.1,53.5 82,55.9 82.9,56.5 83.8,53.1 84.7,56.2 85.6,56.1 86.6,56 87.5,53.7 88.4,56.2 89.3,53.1 90.2,57.6 91.1,55.6 92,53.6 92.9,57.4 93.8,57.1 94.7,54.4 95.6,58.7 96.5,53.9 97.4,55.8 98.3,57.1 99.2,52 100.2,56.9 101.1,55.3 102,55.3 102.9,53.8 103.8,55.9 104.7,53.7 105.6,53.9 106.5,54.7 107.4,53.5 108.3,57.7 109.2,53.4 110.1,54.2 111,54.9 111.9,55.4 112.9,56.6 113.8,56.6 114.7,54.9 115.6,54.8 116.5,55.4 117.4,56.6 118.3,56.4 119.2,54.6 120.1,52.3 121,58.6 121.9,56.8 122.8,55.8 123.7,55.9 124.6,54.6 125.6,53.9 126.5,54.9 127.4,55 128.3,54.4 129.2,53.2 130.1,54.9 131,56.2 131.9,54.6 132.8,55.4 133.7,52.3 134.6,55.1 135.5,55.2 136.4,53.5 137.3,52.8 138.3,56 139.2,54.2 140.1,56.1 141,54.7 141.9,56.3 142.8,54.9 143.7,53.1 144.6,55.2 145.5,54.9 146.4,56.4 147.3,54.7 148.2,54.8 149.1,56.7 150,57.1 150.9,56.5 151.9,56.9 152.8,56 153.7,56.5 154.6,56.7 155.5,56 156.4,55.5 157.3,55.6 158.2,59 159.1,55.4 160,55 160.9,54.8 161.8,55.3 162.7,55.7 163.6,53.7 164.6,52.4 165.5,55.8 166.4,53 167.3,55.8 168.2,55.6 169.1,57.1 170,57.9 170.9,55.9 171.8,54.5 172.7,53.6 173.6,54.2 174.5,55.4 175.4,52.3 176.3,55.5 177.3,55.3 178.2,56.3 179.1,54.9 180,55.5 180.9,54.3 181.8,54.7 182.7,52.7 183.6,55.6 184.5,57.7 185.4,55.6 186.3,55.9 187.2,53.9 188.1,57.5 189,54.2 190,56.6 190.9,55.5 191.8,53.9 192.7,56.9 193.6,55.4 194.5,55.6 195.4,56 196.3,55.3 197.2,54.8 198.1,56.1 199,54.8 199.9,55.5 200.8,54.4 201.7,53.1 202.7,54.4 203.6,54.6 204.5,55.4 205.4,57.1 206.3,52.8 207.2,55.6 208.1,52 209,53.8" fill="none" stroke="#8f8db0" stroke-opacity="0.2" stroke-width="0.4"/>
<polyline points="28.5,56.4 29.4,53.6 30.3,54.2 31.2,57.5 32.1,57.3 33,57 33.9,55.9 34.8,60.7 35.8,57 36.7,55.8 37.6,59.9 38.5,58.2 39.4,56.6 40.3,59.1 41.2,57.5 42.1,58.2 43,57.6 43.9,55.6 44.8,58.8 45.7,57.5 46.6,55.6 47.5,56 48.5,58.7 49.4,56.6 50.3,57.3 51.2,58.3 52.1,57.4 53,54.8 53.9,58.2 54.8,58.7 55.7,58.6 56.6,59.8 57.5,57.8 58.4,58.5 59.3,59.8 60.2,56.7 61.2,60 62.1,60 63,58.5 63.9,60.2 64.8,58.6 65.7,55.8 66.6,59 67.5,57.7 68.4,57.9 69.3,57.5 70.2,59.4 71.1,58.1 72,56.1 72.9,58 73.9,58.4 74.8,56.1 75.7,56.5 76.6,56.6 77.5,56.2 78.4,57.8 79.3,58.8 80.2,60.2 81.1,59.1 82,58.8 82.9,59 83.8,59.4 84.7,56.6 85.6,58.3 86.6,57.7 87.5,57 88.4,56.5 89.3,56.4 90.2,56.8 91.1,55.2 92,58 92.9,57.2 93.8,57.4 94.7,57.8 95.6,58.4 96.5,56.3 97.4,57 98.3,54.6 99.2,53.7 100.2,54.1 101.1,59.7 102,54.3 102.9,58 103.8,59.6 104.7,56.5 105.6,59.8 106.5,60.2 107.4,58.7 108.3,61 109.2,58.2 110.1,56 111,58.1 111.9,56.5 112.9,55.1 113.8,55.2 114.7,60.9 115.6,56.4 116.5,57.2 117.4,56.2 118.3,57.4 119.2,56.8 120.1,56.6 121,55.3 121.9,55 122.8,56 123.7,57.7 124.6,60.6 125.6,58.9 126.5,60.2 127.4,58 128.3,57.1 129.2,55.1 130.1,57.2 131,53.8 131.9,56.8 132.8,59.8 133.7,57.8 134.6,59 135.5,56.6 136.4,55 137.3,56.5 138.3,56.6 139.2,59.2 140.1,60.4 141,56.1 141.9,56.7 142.8,57 143.7,56.7 144.6,55.3 145.5,57.4 146.4,57.8 147.3,57.9 148.2,55.3 149.1,57.1 150,54.5 150.9,58.7 151.9,55.6 152.8,56.8 153.7,56.5 154.6,56.3 155.5,55.6 156.4,54.4 157.3,60 158.2,57.7 159.1,57.7 160,60.6 160.9,57.1 161.8,58.1 162.7,57.3 163.6,59.2 164.6,58.1 165.5,57.8 166.4,56.9 167.3,57.7 168.2,59.1 169.1,53.9 170,57.1 170.9,56.6 171.8,56.8 172.7,54.1 173.6,58.4 174.5,55.9 175.4,56.9 176.3,56.5 177.3,54.6 178.2,56.6 179.1,54.3 180,55.8 180.9,56.8 181.8,57.3 182.7,57.4 183.6,57 184.5,60.7 185.4,58 186.3,55.3 187.2,56.3 188.1,56.2 189,57 190,56.3 190.9,55.9 191.8,59.9 192.7,57.3 193.6,56.7 194.5,56.9 195.4,56.9 196.3,59.5 197.2,58 198.1,59.1 199,52.3 199.9,57.8 200.8,59 201.7,60.4 202.7,57.3 203.6,54.5 204.5,58.2 205.4,56.3 206.3,54.4 207.2,56.3 208.1,59 209,59.2" fill="none" stroke="#7070b8" stroke-opacity="0.3" stroke-width="0.4"/>
<polyline points="28.5,60.3 29.4,57.4 30.3,63.1 31.2,57.2 32.1,59 33,56.8 33.9,61.2 34.8,59.8 35.8,60.5 36.7,59.3 37.6,59 38.5,59.4 39.4,56.1 40.3,60.7 41.2,60.6 42.1,58.5 43,59.1 43.9,59.6 44.8,61.6 45.7,59.8 46.6,59.2 47.5,58.3 48.5,56.7 49.4,58.2 50.3,59.2 51.2,58.7 52.1,59.3 53,60.3 53.9,59.8 54.8,59.6 55.7,60.2 56.6,59.4 57.5,59.1 58.4,59.9 59.3,56.4 60.2,61.1 61.2,57.1 62.1,60.5 63,59.2 63.9,60.9 64.8,59.2 65.7,57.6 66.6,60.9 67.5,59.4 68.4,59.3 69.3,59.3 70.2,60.7 71.1,60.4 72,59.5 72.9,56.7 73.9,58.5 74.8,59.3 75.7,62 76.6,59.8 77.5,59 78.4,61.1 79.3,59 80.2,59.1 81.1,59.4 82,56.8 82.9,60.7 83.8,59.8 84.7,58.7 85.6,57.3 86.6,59.5 87.5,61.4 88.4,58.1 89.3,57.5 90.2,59.8 91.1,56.6 92,55.6 92.9,58.4 93.8,58 94.7,58.7 95.6,58.3 96.5,59.7 97.4,58.8 98.3,58.2 99.2,58.4 100.2,60.2 101.1,60.7 102,60.6 102.9,60.3 103.8,53.9 104.7,57.6 105.6,58.7 106.5,59.5 107.4,56.6 108.3,61.4 109.2,59.6 110.1,58.2 111,59.4 111.9,58.6 112.9,57.9 113.8,60 114.7,58.4 115.6,56.9 116.5,58.1 117.4,59 118.3,57.4 119.2,61.2 120.1,57.4 121,62 121.9,60.6 122.8,57.7 123.7,59.4 124.6,61.1 125.6,58.9 126.5,57.3 127.4,59.3 128.3,62.3 129.2,56.8 130.1,60.1 131,59.2 131.9,59 132.8,58.5 133.7,58.7 134.6,60.8 135.5,60.1 136.4,57.6 137.3,61.7 138.3,57.1 139.2,60.2 140.1,59.5 141,61.1 141.9,59.7 142.8,60.9 143.7,59.1 144.6,60.7 145.5,59.7 146.4,62.6 147.3,58.1 148.2,61.1 149.1,59.9 150,59.5 150.9,58.3 151.9,59.9 152.8,56.8 153.7,57 154.6,60.3 155.5,56.7 156.4,61.5 157.3,58.7 158.2,59.6 159.1,59.3 160,59.9 160.9,58.7 161.8,58.6 162.7,59 163.6,60.9 164.6,61 165.5,61.2 166.4,59.8 167.3,58.9 168.2,56.5 169.1,60.2 170,60.5 170.9,58.5 171.8,60.5 172.7,61.2 173.6,59.3 174.5,60.9 175.4,59.7 176.3,56.4 177.3,58.4 178.2,58.5 179.1,60 180,57.8 180.9,58.5 181.8,57.6 182.7,59.1 183.6,59.3 184.5,60.7 185.4,60.5 186.3,59.4 187.2,59.6 188.1,59.4 189,59.4 190,61.7 190.9,55.2 191.8,58.9 192.7,59.7 193.6,61 194.5,57.4 195.4,59.7 196.3,60.6 197.2,58.5 198.1,56.1 199,58.6 199.9,57.3 200.8,60.2 201.7,57.8 202.7,62 203.6,59.4 204.5,57.9 205.4,58.4 206.3,57.4 207.2,59.8 208.1,61.6 209,58.8" fill="none" stroke="#7070b8" stroke-opacity="0.3" stroke-width="0.4"/>
<polyline points="28.5,62.5 29.4,59.5 30.3,61.5 31.2,64.7 32.1,58.8 33,63 33.9,62.9 34.8,58 35.8,58.7 36.7,59.5 37.6,62.6 38.5,60.3 39.4,60.8 40.3,62.2 41.2,61.2 42.1,61.4 43,60.5 43.9,62.8 44.8,59.8 45.7,63.7 46.6,60.5 47.5,59.8 48.5,62.1 49.4,61.8 50.3,57.9 51.2,61.4 52.1,58.9 53,59.7 53.9,62.3 54.8,59.6 55.7,61.6 56.6,60.4 57.5,64.1 58.4,60.9 59.3,59.1 60.2,59.3 61.2,59.6 62.1,61.2 63,61 63.9,62.6 64.8,61.3 65.7,61.2 66.6,61.5 67.5,60.8 68.4,61.5 69.3,62.3 70.2,62.3 71.1,60.1 72,58.2 72.9,59.7 73.9,61.5 74.8,57 75.7,60.3 76.6,61.7 77.5,60.1 78.4,59.2 79.3,63.8 80.2,63.2 81.1,60.6 82,63.1 82.9,63.1 83.8,59.2 84.7,65.3 85.6,59.5 86.6,60.6 87.5,59.2 88.4,61.1 89.3,58.9 90.2,61 91.1,62.7 92,61.3 92.9,60.6 93.8,63.5 94.7,59.6 95.6,62.5 96.5,60.5 97.4,61.3 98.3,61 99.2,61.2 100.2,60.9 101.1,59.7 102,60.1 102.9,61.7 103.8,60.8 104.7,59.1 105.6,59.9 106.5,59.9 107.4,60.9 108.3,61.3 109.2,61.1 110.1,59.9 111,61 111.9,58.8 112.9,56.4 113.8,60.9 114.7,58.3 115.6,59.5 116.5,59 117.4,62 118.3,59 119.2,61.4 120.1,60.2 121,59 121.9,58.4 122.8,61.7 123.7,61.6 124.6,62.2 125.6,63.9 126.5,61.4 127.4,61.4 128.3,60.7 129.2,61.1 130.1,60.4 131,59.5 131.9,64.1 132.8,58 133.7,61.3 134.6,61.6 135.5,61.2 136.4,59.4 137.3,60.6 138.3,60.2 139.2,59.2 140.1,60.9 141,60.3 141.9,60 142.8,62 143.7,59.2 144.6,61.6 145.5,59.9 146.4,61.6 147.3,61 148.2,61.3 149.1,59.3 150,59.7 150.9,59.5 151.9,61.2 152.8,62.1 153.7,62.6 154.6,60.1 155.5,61 156.4,58.3 157.3,57.4 158.2,59.5 159.1,59.8 160,58.4 160.9,58.1 161.8,61.7 162.7,59.6 163.6,58.2 164.6,64.6 165.5,61.2 166.4,60.4 167.3,62 168.2,59.7 169.1,63.4 170,58.4 170.9,58.8 171.8,60.7 172.7,59.7 173.6,63.1 174.5,58.3 175.4,59.7 176.3,61.2 177.3,61.8 178.2,62.5 179.1,61.4 180,64.4 180.9,60.1 181.8,61.1 182.7,62.2 183.6,60.4 184.5,60.4 185.4,60.1 186.3,59.8 187.2,59.1 188.1,60 189,58.4 190,61.5 190.9,58.3 191.8,64.1 192.7,63.6 193.6,62.6 194.5,60.5 195.4,59.9 196.3,62.8 197.2,61.1 198.1,61.7 199,59.7 199.9,62.5 200.8,59.6 201.7,61 202.7,58.1 203.6,59.8 204.5,61.6 205.4,60.1 206.3,60.1 207.2,62.1 208.1,60.7 209,62.8" fill="none" stroke="#7070b8" stroke-opacity="0.3" stroke-width="0.4"/>
<polyline points="28.5,58.8 29.4,63.6 30.3,63.5 31.2,60.2 32.1,60.6 33,64.1 33.9,61 34.8,61.7 35.8,63.6 36.7,62.1 37.6,63.4 38.5,61.3 39.4,63.1 40.3,64.4 41.2,63.2 42.1,59.2 43,63.7 43.9,62.8 44.8,61.2 45.7,64.9 46.6,59.9 47.5,65.7 48.5,61.7 49.4,65.2 50.3,62.6 51.2,60.5 52.1,62.8 53,63.2 53.9,63.5 54.8,64.4 55.7,61.2 56.6,63.5 57.5,63.8 58.4,62.2 59.3,61.2 60.2,61.1 61.2,63.9 62.1,63.9 63,61.3 63.9,60.5 64.8,64.6 65.7,60.2 66.6,62.9 67.5,61.4 68.4,59.9 69.3,62.9 70.2,62.4 71.1,65 72,66.3 72.9,62.4 73.9,64.3 74.8,64.3 75.7,61.8 76.6,61.3 77.5,65.2 78.4,62.1 79.3,62.6 80.2,62.2 81.1,62.5 82,61.7 82.9,63.9 83.8,64.7 84.7,62.1 85.6,60.5 86.6,62.7 87.5,60.3 88.4,61.6 89.3,64.6 90.2,66.4 91.1,63.3 92,61 92.9,63.9 93.8,59.1 94.7,61.6 95.6,65.1 96.5,63.9 97.4,60.5 98.3,60 99.2,64 100.2,62.6 101.1,61.7 102,63.3 102.9,61.8 103.8,59.6 104.7,64 105.6,61.6 106.5,61.1 107.4,60.5 108.3,63.1 109.2,61.4 110.1,63.7 111,62.2 111.9,64.4 112.9,62.1 113.8,61.6 114.7,59.5 115.6,60.9 116.5,63.8 117.4,67.5 118.3,60.7 119.2,61 120.1,63.2 121,63.4 121.9,61.6 122.8,62.8 123.7,60.1 124.6,62.2 125.6,64.1 126.5,65.3 127.4,62.4 128.3,62.3 129.2,63.4 130.1,64.4 131,63.4 131.9,61.5 132.8,63.2 133.7,64.2 134.6,61.5 135.5,60.5 136.4,63.5 137.3,63.3 138.3,64.2 139.2,62.8 140.1,61.6 141,62 141.9,61 142.8,61.2 143.7,61.8 144.6,61.9 145.5,64.4 146.4,60.7 147.3,62.6 148.2,61.7 149.1,65 150,63.1 150.9,62.1 151.9,64 152.8,62.8 153.7,61.9 154.6,65.1 155.5,63.8 156.4,65.4 157.3,64.5 158.2,63.9 159.1,62.9 160,61 160.9,63.8 161.8,62.8 162.7,63.8 163.6,62.7 164.6,61.6 165.5,61.1 166.4,63.8 167.3,64.7 168.2,62.2 169.1,63.4 170,64.9 170.9,61.4 171.8,62.1 172.7,60.9 173.6,64.6 174.5,63.1 175.4,62 176.3,60.1 177.3,62.4 178.2,64.3 179.1,62.2 180,62 180.9,63.7 181.8,60.7 182.7,62.8 183.6,63.6 184.5,61.5 185.4,61.4 186.3,63.1 187.2,62.5 188.1,62.3 189,63 190,63 190.9,61.2 191.8,61.6 192.7,63.4 193.6,64.5 194.5,64.8 195.4,61.4 196.3,64.4 197.2,63.9 198.1,62.6 199,63.5 199.9,64 200.8,65.5 201.7,61 202.7,63.7 203.6,62.5 204.5,62.4 205.4,64.5 206.3,64 207.2,61.1 208.1,62.3 209,63.1" fill="none" stroke="#7070b8" stroke-opacity="0.3" stroke-width="0.4"/>
<polyline points="28.5,62.3 29.4,65.9 30.3,64.4 31.2,64.8 32.1,65.1 33,67.4 33.9,64.6 34.8,64 35.8,67.3 36.7,63.8 37.6,63.7 38.5,62.4 39.4,66.3 40.3,65 41.2,65.3 42.1,64.8 43,64.3 43.9,63.3 44.8,63.3 45.7,65.2 46.6,64.8 47.5,67.1 48.5,63.4 49.4,63.8 50.3,62.9 51.2,66.7 52.1,62.6 53,65.8 53.9,66.8 54.8,64.3 55.7,65.7 56.6,61.2 57.5,63.9 58.4,61.9 59.3,64.8 60.2,64.6 61.2,63.3 62.1,66.1 63,65.1 63.9,63.7 64.8,63.7 65.7,62.2 66.6,64.3 67.5,67.9 68.4,63.4 69.3,65.2 70.2,63.7 71.1,65.8 72,65.3 72.9,64.2 73.9,61.7 74.8,63.7 75.7,66.5 76.6,64.2 77.5,65.6 78.4,63.8 79.3,61.6 80.2,65.2 81.1,65.1 82,63.6 82.9,64 83.8,65 84.7,63.6 85.6,65.1 86.6,64.2 87.5,60.8 88.4,64.3 89.3,63.6 90.2,63.2 91.1,65.2 92,63.8 92.9,65.4 93.8,66.3 94.7,64.8 95.6,62.1 96.5,63.4 97.4,66 98.3,64.2 99.2,63.3 100.2,64.4 101.1,65.4 102,65 102.9,65.6 103.8,63.3 104.7,64.1 105.6,64.2 106.5,64.5 107.4,61.3 108.3,64.2 109.2,62.4 110.1,66.8 111,67 111.9,67.2 112.9,65.9 113.8,63.8 114.7,66.1 115.6,64.3 116.5,65.5 117.4,63.1 118.3,63.6 119.2,65.3 120.1,67.4 121,64.5 121.9,68.1 122.8,68.9 123.7,62.5 124.6,64.5 125.6,63.1 126.5,64.4 127.4,63.7 128.3,64.5 129.2,66.1 130.1,66.1 131,65 131.9,64.6 132.8,64.8 133.7,64.8 134.6,65.5 135.5,64.6 136.4,65.4 137.3,62.5 138.3,65.8 139.2,67.3 140.1,64.9 141,62.3 141.9,66.7 142.8,64.1 143.7,59.8 144.6,64.2 145.5,65.5 146.4,65.2 147.3,66.5 148.2,65.6 149.1,64.8 150,61.5 150.9,62.8 151.9,64.9 152.8,65.7 153.7,63 154.6,63.6 155.5,65.3 156.4,61.6 157.3,61.5 158.2,64.2 159.1,65 160,63.8 160.9,61 161.8,64.6 162.7,62.5 163.6,65.6 164.6,64.4 165.5,65 166.4,65.6 167.3,63.7 168.2,65.9 169.1,66.6 170,65.2 170.9,66.7 171.8,63.6 172.7,66 173.6,65 174.5,63 175.4,64.5 176.3,63.7 177.3,63.7 178.2,64.7 179.1,66.3 180,64.1 180.9,64.8 181.8,62.3 182.7,64.8 183.6,66.4 184.5,65.9 185.4,65.3 186.3,63.7 187.2,63 188.1,64.4 189,62.5 190,62.6 190.9,66.1 191.8,63.1 192.7,67.4 193.6,62.3 194.5,65.3 195.4,62.7 196.3,64.9 197.2,62.9 198.1,64.6 199,64.3 199.9,63.9 200.8,65.4 201.7,67 202.7,63.6 203.6,66 204.5,64.7 205.4,64.5 206.3,68.1 207.2,61.1 208.1,63.5 209,61.7" fill="none" stroke="#7070b8" stroke-opacity="0.3" stroke-width="0.4"/>
<polyline points="28.5,65.9 29.4,66.1 30.3,72.5 31.2,67 32.1,69.3 33,68.5 33.9,65.7 34.8,67.2 35.8,69.1 36.7,66.7 37.6,66.8 38.5,67.2 39.4,64 40.3,65.1 41.2,67 42.1,67.3 43,65 43.9,65.9 44.8,66.2 45.7,66.2 46.6,67.5 47.5,66.6 48.5,66.7 49.4,64.2 50.3,64.8 51.2,66.9 52.1,63.9 53,66.9 53.9,65.4 54.8,65.1 55.7,67.5 56.6,65.4 57.5,65.1 58.4,65.4 59.3,66.5 60.2,70.8 61.2,63.1 62.1,66.4 63,66 63.9,67.9 64.8,65.8 65.7,62.5 66.6,68.5 67.5,64.7 68.4,66.3 69.3,64.2 70.2,64.7 71.1,65.6 72,67.8 72.9,67.8 73.9,65.5 74.8,67.2 75.7,65.8 76.6,66.6 77.5,66.7 78.4,67.4 79.3,65.4 80.2,66.2 81.1,66.8 82,66.6 82.9,65.1 83.8,69.1 84.7,65.7 85.6,67.6 86.6,66.7 87.5,68.3 88.4,62.9 89.3,69.7 90.2,66.1 91.1,64.4 92,66.6 92.9,70 93.8,67.2 94.7,64.4 95.6,65.7 96.5,68.5 97.4,64.2 98.3,66.1 99.2,65.9 100.2,69.8 101.1,65.9 102,68.5 102.9,65.3 103.8,65.1 104.7,68 105.6,67.4 106.5,63.7 107.4,67.4 108.3,67.4 109.2,65.4 110.1,66.7 111,66.8 111.9,65.6 112.9,65.5 113.8,65.3 114.7,66 115.6,64.3 116.5,66.3 117.4,64 118.3,66.5 119.2,66.3 120.1,64.8 121,67.8 121.9,69.5 122.8,68.5 123.7,64.2 124.6,68.4 125.6,66.7 126.5,66.3 127.4,65.4 128.3,66.4 129.2,68.6 130.1,67.3 131,65.7 131.9,65.3 132.8,65.7 133.7,67.3 134.6,69.4 135.5,64.7 136.4,66.4 137.3,65.8 138.3,65.2 139.2,67 140.1,67.3 141,64.1 141.9,64.8 142.8,68.3 143.7,66.9 144.6,67.2 145.5,65.6 146.4,65.8 147.3,67.1 148.2,65.6 149.1,64.6 150,66.4 150.9,67.8 151.9,64.8 152.8,68.1 153.7,67.5 154.6,65 155.5,66.4 156.4,66.3 157.3,67.4 158.2,67.5 159.1,64.3 160,64.3 160.9,68 161.8,66.6 162.7,67.1 163.6,66.9 164.6,68.8 165.5,64.5 166.4,68.1 167.3,65.1 168.2,67.5 169.1,68.5 170,64.2 170.9,67 171.8,66 172.7,65.9 173.6,66.5 174.5,64.7 175.4,64.9 176.3,67.4 177.3,67.7 178.2,65.5 179.1,64.1 180,70.1 180.9,68.1 181.8,67 182.7,64.8 183.6,65.5 184.5,66.8 185.4,64.9 186.3,68.9 187.2,66.6 188.1,67 189,64.8 190,65 190.9,65.1 191.8,66.8 192.7,66 193.6,65.9 194.5,66.9 195.4,66.8 196.3,68.7 197.2,66.1 198.1,64.8 199,66.4 199.9,68.7 200.8,65.5 201.7,66.5 202.7,65.8 203.6,67 204.5,66.8 205.4,65.1 206.3,66 207.2,67.9 208.1,68.1 209,67.8" fill="none" stroke="#7070b8" stroke-opacity="0.3" stroke-width="0.4"/>
<polyline points="28.5,69.5 29.4,67.8 30.3,67.7 31.2,69.6 32.1,66.5 33,68.2 33.9,65.5 34.8,67.7 35.8,67.2 36.7,66.5 37.6,69.1 38.5,67.2 39.4,67.7 40.3,67.9 41.2,67.2 42.1,70.3 43,67.5 43.9,68.5 44.8,66.3 45.7,67.5 46.6,67.8 47.5,67.8 48.5,67.4 49.4,68.5 50.3,70.5 51.2,68.1 52.1,68 53,67.7 53.9,72 54.8,70.6 55.7,69.1 56.6,69.3 57.5,67.2 58.4,68 59.3,68.6 60.2,68.4 61.2,67 62.1,67.1 63,69 63.9,68.7 64.8,65.1 65.7,68.4 66.6,70.1 67.5,67.3 68.4,68.6 69.3,66.1 70.2,69.5 71.1,66.6 72,66.4 72.9,67.8 73.9,71.7 74.8,67.4 75.7,66.4 76.6,68.9 77.5,68.6 78.4,70.7 79.3,66.4 80.2,65.9 81.1,67.8 82,68.8 82.9,68.8 83.8,69.8 84.7,66.1 85.6,67 86.6,68.1 87.5,69.5 88.4,69 89.3,67.6 90.2,66.7 91.1,69.5 92,69.6 92.9,72.2 93.8,68 94.7,70.6 95.6,66.5 96.5,67.5 97.4,67.3 98.3,67.6 99.2,67 100.2,67.5 101.1,68.2 102,67.6 102.9,69.2 103.8,68.1 104.7,68.2 105.6,70.4 106.5,68.7 107.4,68.5 108.3,68.2 109.2,68.3 110.1,69.1 111,67.1 111.9,69.9 112.9,70.6 113.8,69.9 114.7,67.5 115.6,65.9 116.5,67.6 117.4,68.5 118.3,69.5 119.2,68 120.1,67.8 121,70.5 121.9,67.3 122.8,69.8 123.7,69.6 124.6,66.3 125.6,68.7 126.5,67.4 127.4,66.9 128.3,65.5 129.2,65.9 130.1,68.9 131,67.7 131.9,68.7 132.8,66.7 133.7,67.8 134.6,67.9 135.5,66 136.4,65.8 137.3,68.9 138.3,68.5 139.2,66.9 140.1,68.1 141,69.2 141.9,70.9 142.8,66.9 143.7,69.2 144.6,71.4 145.5,68.3 146.4,70.4 147.3,64.5 148.2,70.4 149.1,68.2 150,65.5 150.9,69.4 151.9,69.8 152.8,70 153.7,70 154.6,68.2 155.5,67.2 156.4,67.6 157.3,68.2 158.2,68.8 159.1,67.5 160,68.3 160.9,69.5 161.8,68.7 162.7,71.6 163.6,71.4 164.6,66.6 165.5,67.4 166.4,66.3 167.3,66.5 168.2,69.1 169.1,66.8 170,66.7 170.9,67.9 171.8,69.4 172.7,67.7 173.6,67.7 174.5,69.6 175.4,68.9 176.3,68.9 177.3,69.6 178.2,66.8 179.1,68.6 180,67.3 180.9,69.8 181.8,69.5 182.7,66.7 183.6,70.2 184.5,66.5 185.4,70 186.3,68.6 187.2,67 188.1,66.6 189,67.8 190,68.2 190.9,67.2 191.8,69.1 192.7,66.2 193.6,68.2 194.5,68.3 195.4,65.5 196.3,68.7 197.2,66.4 198.1,64.6 199,67.3 199.9,67.9 200.8,69.6 201.7,67.5 202.7,70.4 203.6,70.4 204.5,69.9 205.4,70.2 206.3,68.8 207.2,67.4 208.1,69.2 209,69.7" fill="none" stroke="#8f8db0" stroke-opacity="0.2" stroke-width="0.4"/>
<polyline points="28.5,70.5 29.4,69.7 30.3,67.8 31.2,71.1 32.1,70.6 33,68.2 33.9,70.2 34.8,71.2 35.8,69.9 36.7,71.3 37.6,71.2 38.5,67.9 39.4,69.7 40.3,70.8 41.2,71.5 42.1,72.2 43,67.3 43.9,70 44.8,71.2 45.7,71.9 46.6,72.6 47.5,68.7 48.5,69.5 49.4,68.5 50.3,71.3 51.2,68.1 52.1,71.9 53,71.5 53.9,70.8 54.8,66.9 55.7,69.1 56.6,71.2 57.5,68 58.4,69.7 59.3,69.9 60.2,71.4 61.2,70.5 62.1,70.5 63,69.4 63.9,70.1 64.8,69.9 65.7,71.2 66.6,69.8 67.5,71.6 68.4,67.6 69.3,71.9 70.2,69.8 71.1,71.8 72,70.2 72.9,71.4 73.9,72.3 74.8,69.3 75.7,70.2 76.6,69.8 77.5,70.4 78.4,67.7 79.3,69.8 80.2,69.7 81.1,68.9 82,69.8 82.9,67.8 83.8,72.2 84.7,70.8 85.6,72.9 86.6,68.8 87.5,68.4 88.4,70.5 89.3,67.6 90.2,70.4 91.1,69.1 92,69.6 92.9,70.5 93.8,70.2 94.7,72.9 95.6,71 96.5,68.2 97.4,71.5 98.3,68.1 99.2,70.2 100.2,68.2 101.1,68.9 102,72 102.9,69.3 103.8,69.1 104.7,69.3 105.6,69.6 106.5,72.2 107.4,68.3 108.3,68.3 109.2,70.9 110.1,67.7 111,69.5 111.9,71.8 112.9,70.1 113.8,69.4 114.7,69 115.6,68.7 116.5,69.2 117.4,70.3 118.3,71.9 119.2,71.5 120.1,69.2 121,69 121.9,71.1 122.8,67.4 123.7,69.4 124.6,69.6 125.6,68.4 126.5,68.6 127.4,70.6 128.3,67.6 129.2,68.7 130.1,69.1 131,70.2 131.9,68 132.8,71.7 133.7,69.6 134.6,69.7 135.5,69.5 136.4,69.1 137.3,68.6 138.3,71.8 139.2,70.4 140.1,69.9 141,71.5 141.9,69 142.8,71 143.7,70.1 144.6,68.7 145.5,71.2 146.4,67.8 147.3,71 148.2,68.7 149.1,70.6 150,72.1 150.9,70.9 151.9,69.1 152.8,70 153.7,69.5 154.6,68.3 155.5,68.4 156.4,70.1 157.3,70.8 158.2,67.4 159.1,69.9 160,70.8 160.9,70.2 161.8,68.5 162.7,71.6 163.6,68.2 164.6,71 165.5,72.4 166.4,67 167.3,70.4 168.2,70.5 169.1,70.3 170,68.9 170.9,69.6 171.8,68 172.7,70.2 173.6,70.8 174.5,69 175.4,68.6 176.3,69.3 177.3,70 178.2,70.1 179.1,69.9 180,70.1 180.9,68.1 181.8,66 182.7,70.9 183.6,72.1 184.5,67.9 185.4,69 186.3,70.4 187.2,71.4 188.1,71 189,71.9 190,69.9 190.9,70.6 191.8,70.6 192.7,69.4 193.6,71.8 194.5,70.9 195.4,71.4 196.3,69.4 197.2,71.5 198.1,68.4 199,70.6 199.9,66.2 200.8,68.5 201.7,71.1 202.7,69.3 203.6,70.3 204.5,67.6 205.4,72.3 206.3,70.9 207.2,70 208.1,70.6 209,70.5" fill="none" stroke="#8f8db0" stroke-opacity="0.2" stroke-width="0.4"/>
<polyline points="28.5,73.9 29.4,72.2 30.3,69.7 31.2,71.5 32.1,73.7 33,72.7 33.9,71.2 34.8,72.7 35.8,72 36.7,72.7 37.6,69.5 38.5,70.5 39.4,72.8 40.3,71.5 41.2,72.4 42.1,74.7 43,71.4 43.9,72.2 44.8,71 45.7,70.9 46.6,71.7 47.5,69.7 48.5,68.8 49.4,73.8 50.3,71.7 51.2,73.5 52.1,72 53,72.1 53.9,72.8 54.8,72.9 55.7,70.1 56.6,73.6 57.5,70.4 58.4,72.1 59.3,75.6 60.2,72 61.2,74.3 62.1,71.3 63,72.7 63.9,71.9 64.8,72.5 65.7,70.6 66.6,70.5 67.5,72.3 68.4,69.6 69.3,70.6 70.2,72.8 71.1,70.9 72,70.5 72.9,70.2 73.9,72.1 74.8,71.3 75.7,72.1 76.6,71.6 77.5,74.6 78.4,71.2 79.3,69 80.2,72 81.1,71.8 82,72.1 82.9,69.5 83.8,73.5 84.7,71.8 85.6,71.8 86.6,69.5 87.5,72.5 88.4,71.7 89.3,73.8 90.2,71.2 91.1,70 92,72 92.9,70.5 93.8,72.4 94.7,70.3 95.6,71.7 96.5,71.5 97.4,71.8 98.3,71.1 99.2,70.7 100.2,71.8 101.1,71 102,72.1 102.9,71.4 103.8,68.6 104.7,71.8 105.6,73.9 106.5,72.3 107.4,72.7 108.3,72.5 109.2,71.2 110.1,69.9 111,73 111.9,73.4 112.9,72.7 113.8,72.5 114.7,72.4 115.6,71.8 116.5,72.2 117.4,71.9 118.3,72.3 119.2,70.5 120.1,70.9 121,72.7 121.9,71.4 122.8,68.3 123.7,72 124.6,68.5 125.6,74.6 126.5,72.9 127.4,72.8 128.3,70.9 129.2,70.2 130.1,71.5 131,71.9 131.9,70.7 132.8,72.1 133.7,72.8 134.6,72.7 135.5,70.3 136.4,68.7 137.3,71.9 138.3,70.9 139.2,72.5 140.1,74.2 141,74.2 141.9,72.3 142.8,73.5 143.7,74.2 144.6,71.9 145.5,72.2 146.4,73.1 147.3,71.8 148.2,71.1 149.1,70.8 150,71.9 150.9,71 151.9,73 152.8,71.4 153.7,74 154.6,73.6 155.5,70.1 156.4,73.4 157.3,71.3 158.2,73.8 159.1,72.6 160,71.8 160.9,72.8 161.8,71.1 162.7,72.3 163.6,72.4 164.6,71.7 165.5,72.4 166.4,70.4 167.3,72.7 168.2,70.1 169.1,72.8 170,72.6 170.9,72.9 171.8,71.1 172.7,76.2 173.6,71.6 174.5,72.1 175.4,70.8 176.3,73.9 177.3,71.2 178.2,73.3 179.1,70.5 180,72.3 180.9,71.4 181.8,73.2 182.7,71.5 183.6,70.7 184.5,72.5 185.4,70.2 186.3,70.5 187.2,73 188.1,69.2 189,73 190,71.3 190.9,70.6 191.8,72.3 192.7,72.8 193.6,71.1 194.5,71.7 195.4,73.1 196.3,73 197.2,71.8 198.1,70.8 199,70.6 199.9,71.1 200.8,72.9 201.7,72.7 202.7,72.4 203.6,73.9 204.5,71.5 205.4,71.4 206.3,71.4 207.2,74.6 208.1,69 209,72.3" fill="none" stroke="#8f8db0" stroke-opacity="0.2" stroke-width="0.4"/>
<polyline points="28.5,74.4 29.4,73.9 30.3,77.1 31.2,75.4 32.1,74.9 33,72.5 33.9,74.5 34.8,73.3 35.8,73.9 36.7,74.1 37.6,73.1 38.5,74.7 39.4,76.1 40.3,75.3 41.2,74.1 42.1,71.1 43,75.3 43.9,75.3 44.8,73.5 45.7,73.1 46.6,74.7 47.5,72.7 48.5,74.9 49.4,72.3 50.3,72.5 51.2,73.8 52.1,71.8 53,73.8 53.9,74.6 54.8,72 55.7,75.1 56.6,73 57.5,74.6 58.4,74.1 59.3,73.2 60.2,73.1 61.2,71.4 62.1,72.8 63,72.7 63.9,76.1 64.8,75.3 65.7,71.9 66.6,75 67.5,74.1 68.4,73.3 69.3,74.5 70.2,74.9 71.1,73 72,73.4 72.9,74.1 73.9,72.4 74.8,74.1 75.7,73.7 76.6,72.9 77.5,72.6 78.4,74.3 79.3,75.1 80.2,74.3 81.1,72.6 82,74.9 82.9,74.1 83.8,74.7 84.7,75.5 85.6,72.6 86.6,73.6 87.5,73 88.4,72.6 89.3,76.6 90.2,75.2 91.1,71.4 92,74.4 92.9,73.1 93.8,75.4 94.7,74 95.6,73.6 96.5,74 97.4,74.4 98.3,73.9 99.2,73.5 100.2,73.6 101.1,74.6 102,72.3 102.9,73.8 103.8,73.7 104.7,73.2 105.6,74.9 106.5,72 107.4,73.3 108.3,72.6 109.2,74.6 110.1,73.2 111,73.9 111.9,74.4 112.9,71.6 113.8,74.5 114.7,72.8 115.6,73.5 116.5,73.7 117.4,75 118.3,74.9 119.2,76.3 120.1,74.1 121,73.2 121.9,73.1 122.8,74.8 123.7,76.1 124.6,74.3 125.6,73 126.5,74.2 127.4,74.2 128.3,73.9 129.2,72.8 130.1,70.3 131,73.1 131.9,75.3 132.8,74.1 133.7,70.7 134.6,73.8 135.5,71.2 136.4,76.6 137.3,74.1 138.3,72.2 139.2,75 140.1,72.7 141,74.6 141.9,73.9 142.8,72.2 143.7,74.8 144.6,72 145.5,75.7 146.4,73.9 147.3,72.4 148.2,71.3 149.1,76.1 150,75.9 150.9,72.1 151.9,76.1 152.8,74.1 153.7,73.5 154.6,73.7 155.5,73.5 156.4,75.8 157.3,74 158.2,71.3 159.1,76.8 160,75.1 160.9,72.3 161.8,73.3 162.7,72.6 163.6,73.9 164.6,74.4 165.5,74.2 166.4,73 167.3,72.7 168.2,75 169.1,73.7 170,77 170.9,72.7 171.8,74.9 172.7,73.9 173.6,72.8 174.5,75.7 175.4,74 176.3,72.6 177.3,73.4 178.2,75.3 179.1,72.1 180,75.8 180.9,74.8 181.8,73.4 182.7,75.7 183.6,76.3 184.5,74.7 185.4,74.1 186.3,76.4 187.2,75.9 188.1,72.5 189,73.5 190,73.5 190.9,73.3 191.8,71.7 192.7,75.1 193.6,74 194.5,74 195.4,75.8 196.3,73 197.2,73.8 198.1,74.2 199,73.2 199.9,73.7 200.8,74.9 201.7,73.8 202.7,75.7 203.6,72.8 204.5,74.1 205.4,71.8 206.3,73.7 207.2,72.8 208.1,75.8 209,74.9" fill="none" stroke="#8f8db0" stroke-opacity="0.2" stroke-width="0.4"/>
<polyline points="28.5,76.4 29.4,78.3 30.3,77.7 31.2,76.7 32.1,74.7 33,73.6 33.9,75.6 34.8,75.2 35.8,74.8 36.7,75.3 37.6,73.3 38.5,77.8 39.4,74.1 40.3,74.7 41.2,76.5 42.1,73.4 43,77 43.9,77 44.8,75.2 45.7,74.2 46.6,75 47.5,73.1 48.5,77.6 49.4,75.8 50.3,74.6 51.2,74.4 52.1,76.5 53,77.8 53.9,73.9 54.8,74.9 55.7,73.2 56.6,76.6 57.5,75.9 58.4,78.9 59.3,75.5 60.2,75.1 61.2,74.7 62.1,76.9 63,73.4 63.9,76.7 64.8,76 65.7,75 66.6,74.4 67.5,77.2 68.4,78.3 69.3,75.1 70.2,76.4 71.1,78.2 72,74.8 72.9,75.3 73.9,73.9 74.8,75.5 75.7,75.6 76.6,75.1 77.5,74.6 78.4,73.4 79.3,73.8 80.2,74.3 81.1,76.6 82,75 82.9,74.5 83.8,76.6 84.7,76.5 85.6,74.6 86.6,74.8 87.5,76.6 88.4,76.2 89.3,74.5 90.2,76 91.1,75.6 92,77.3 92.9,74.4 93.8,76.9 94.7,76.3 95.6,74.2 96.5,77.2 97.4,77 98.3,73.8 99.2,78.5 100.2,74 101.1,74.4 102,75.2 102.9,76.8 103.8,76.5 104.7,75.5 105.6,77.6 106.5,76.3 107.4,77.7 108.3,79.7 109.2,76 110.1,72 111,75 111.9,74.1 112.9,75.8 113.8,75.8 114.7,73.9 115.6,74 116.5,75.3 117.4,75.4 118.3,71.9 119.2,77.1 120.1,75.7 121,75.7 121.9,76.1 122.8,74.2 123.7,75.6 124.6,77.2 125.6,77.2 126.5,76.4 127.4,75.3 128.3,74.5 129.2,77.6 130.1,76.4 131,75.1 131.9,72.5 132.8,74.4 133.7,72.9 134.6,77.5 135.5,76 136.4,74.6 137.3,75.3 138.3,79.5 139.2,77.5 140.1,73.7 141,75.5 141.9,73.9 142.8,73.2 143.7,75.9 144.6,79.2 145.5,78 146.4,75.7 147.3,75.1 148.2,76 149.1,77.2 150,73.5 150.9,72.9 151.9,78.4 152.8,76.1 153.7,78 154.6,76 155.5,77.9 156.4,74.8 157.3,76.4 158.2,78 159.1,77.2 160,75 160.9,77 161.8,74.7 162.7,73.6 163.6,76.5 164.6,77.8 165.5,76.9 166.4,73.8 167.3,77 168.2,76.7 169.1,75 170,72 170.9,77.2 171.8,77 172.7,76.4 173.6,73.1 174.5,73.5 175.4,77.2 176.3,76.9 177.3,76.4 178.2,75.3 179.1,76.3 180,74.9 180.9,75.2 181.8,74.4 182.7,76.1 183.6,75.1 184.5,77.1 185.4,76.8 186.3,74.5 187.2,78.4 188.1,74 189,76.4 190,77.3 190.9,77.6 191.8,72.4 192.7,77.2 193.6,77.5 194.5,77.8 195.4,72.4 196.3,74.7 197.2,75.5 198.1,75 199,77.7 199.9,74.7 200.8,77.5 201.7,76.5 202.7,73.5 203.6,74.2 204.5,75 205.4,75.8 206.3,77.2 207.2,75.4 208.1,77 209,73.3" fill="none" stroke="#8f8db0" stroke-opacity="0.2" stroke-width="0.4"/>
<polyline points="28.5,73 29.4,77 30.3,78.2 31.2,77 32.1,76 33,78.2 33.9,80.4 34.8,77.4 35.8,76.4 36.7,76.3 37.6,80.5 38.5,77.5 39.4,78.4 40.3,79.4 41.2,79.1 42.1,76.1 43,79 43.9,78.8 44.8,78.3 45.7,79 46.6,76.7 47.5,77.4 48.5,76.7 49.4,78.7 50.3,76.6 51.2,78.1 52.1,75.9 53,77.3 53.9,77 54.8,77.4 55.7,77.7 56.6,77.3 57.5,77.2 58.4,74.4 59.3,79.2 60.2,76.6 61.2,77.2 62.1,76.3 63,79 63.9,76.2 64.8,78.3 65.7,79.3 66.6,80 67.5,79.3 68.4,78.5 69.3,75.7 70.2,79.5 71.1,79.3 72,78.8 72.9,78.7 73.9,77.6 74.8,76.8 75.7,79.2 76.6,79.4 77.5,76 78.4,78.9 79.3,77.9 80.2,78.9 81.1,78 82,79.2 82.9,79.1 83.8,78.9 84.7,75.5 85.6,78.8 86.6,77.6 87.5,75.9 88.4,78.6 89.3,75.5 90.2,78.9 91.1,80.1 92,76.8 92.9,78.9 93.8,78.2 94.7,78.5 95.6,75.5 96.5,78.5 97.4,77.8 98.3,78.7 99.2,77.6 100.2,79.2 101.1,78 102,78.6 102.9,79.6 103.8,77.8 104.7,79 105.6,77.9 106.5,78.3 107.4,76.8 108.3,78.7 109.2,79.4 110.1,77.5 111,78.8 111.9,78.2 112.9,75.9 113.8,78.1 114.7,79.5 115.6,76.9 116.5,74.9 117.4,77.9 118.3,76.6 119.2,80.4 120.1,77.5 121,77.6 121.9,76.7 122.8,77.9 123.7,76.7 124.6,76.2 125.6,77.5 126.5,76.4 127.4,79.5 128.3,75.9 129.2,77.5 130.1,76.6 131,75.5 131.9,80 132.8,74.5 133.7,79.7 134.6,75.5 135.5,77.7 136.4,80.9 137.3,74.5 138.3,75.6 139.2,79.5 140.1,77.8 141,76.8 141.9,77.5 142.8,76.2 143.7,77.8 144.6,79.8 145.5,77 146.4,77.8 147.3,79.4 148.2,80.5 149.1,76.7 150,78 150.9,76.8 151.9,76.6 152.8,77 153.7,76.7 154.6,75 155.5,74.7 156.4,76.5 157.3,77.8 158.2,79.4 159.1,76.8 160,77.3 160.9,78.6 161.8,78.7 162.7,77.4 163.6,77.5 164.6,80.3 165.5,77.1 166.4,76.9 167.3,75.2 168.2,78.2 169.1,77.2 170,80.4 170.9,77.1 171.8,78.8 172.7,79 173.6,80 174.5,75.7 175.4,79.9 176.3,77.6 177.3,77.4 178.2,77.1 179.1,77 180,77.1 180.9,74.2 181.8,78.3 182.7,77.7 183.6,76.2 184.5,77.5 185.4,81 186.3,78.1 187.2,77 188.1,80.1 189,76.4 190,77.4 190.9,76.8 191.8,77.2 192.7,78.7 193.6,78.4 194.5,76.5 195.4,77.4 196.3,77.7 197.2,77 198.1,77.5 199,76.5 199.9,76.5 200.8,77.6 201.7,76.1 202.7,78.2 203.6,77.3 204.5,76.2 205.4,76.7 206.3,76.9 207.2,77.3 208.1,77.7 209,77.3" fill="none" stroke="#8f8db0" stroke-opacity="0.2" stroke-width="0.4"/>
<polyline points="28.5,78.2 29.4,81.5 30.3,80.7 31.2,79.6 32.1,80.8 33,79.9 33.9,79 34.8,79.5 35.8,83.3 36.7,80.9 37.6,80.9 38.5,78.8 39.4,80.3 40.3,82.7 41.2,80 42.1,81 43,81.3 43.9,80.4 44.8,81.7 45.7,79.8 46.6,80.1 47.5,78.5 48.5,83.3 49.4,79.9 50.3,79.6 51.2,81.4 52.1,78.7 53,79.4 53.9,78.3 54.8,79.5 55.7,78.9 56.6,80.2 57.5,79.2 58.4,78.6 59.3,79 60.2,79.2 61.2,78.7 62.1,80.8 63,80.4 63.9,79.6 64.8,77.7 65.7,80.2 66.6,77.6 67.5,79.7 68.4,79.5 69.3,78.6 70.2,78.2 71.1,78.4 72,82.4 72.9,79 73.9,79.1 74.8,80.8 75.7,80 76.6,81 77.5,77.6 78.4,77.8 79.3,84.2 80.2,79.4 81.1,79 82,79.7 82.9,80.9 83.8,77.7 84.7,79.8 85.6,79.4 86.6,80.4 87.5,79.7 88.4,78.6 89.3,78.2 90.2,75.9 91.1,80.8 92,77.3 92.9,78.8 93.8,81.8 94.7,78.8 95.6,80.3 96.5,79.1 97.4,80.4 98.3,79.5 99.2,78.7 100.2,81.4 101.1,79 102,77.5 102.9,78.9 103.8,80.2 104.7,77.8 105.6,80.6 106.5,80.5 107.4,82.5 108.3,78.5 109.2,80.4 110.1,77 111,78.8 111.9,79.6 112.9,80 113.8,79.3 114.7,79.3 115.6,78.5 116.5,78.8 117.4,79.9 118.3,80.2 119.2,80.3 120.1,80.9 121,81.1 121.9,76.8 122.8,78.7 123.7,79.2 124.6,78.5 125.6,80.9 126.5,80.5 127.4,79.3 128.3,79.6 129.2,81.2 130.1,78.9 131,79 131.9,80.7 132.8,80.1 133.7,81.5 134.6,79.9 135.5,80.5 136.4,78.6 137.3,78.1 138.3,79.4 139.2,75.6 140.1,80 141,80.8 141.9,79.5 142.8,79.1 143.7,81 144.6,79.4 145.5,80.8 146.4,82.6 147.3,80.5 148.2,80.8 149.1,80.1 150,79.8 150.9,79.8 151.9,79.5 152.8,81 153.7,77.1 154.6,79 155.5,80.4 156.4,78.2 157.3,79.3 158.2,78.4 159.1,80 160,80.7 160.9,81.5 161.8,80.1 162.7,78.4 163.6,79.8 164.6,80.2 165.5,81.4 166.4,76.3 167.3,79.9 168.2,76.8 169.1,80.4 170,80.1 170.9,80.1 171.8,80.7 172.7,80 173.6,78.5 174.5,79.9 175.4,81.1 176.3,79.3 177.3,79.5 178.2,77.7 179.1,81.1 180,78.7 180.9,78.4 181.8,78.8 182.7,78.2 183.6,79.1 184.5,81.2 185.4,80.6 186.3,81.5 187.2,81.5 188.1,78.1 189,80.1 190,81.6 190.9,82.7 191.8,77.4 192.7,77.4 193.6,80.1 194.5,78.9 195.4,78 196.3,80 197.2,78.3 198.1,76.2 199,79.4 199.9,79.6 200.8,80.3 201.7,80.8 202.7,79.7 203.6,79.1 204.5,78.5 205.4,77.1 206.3,78.8 207.2,80.8 208.1,80.3 209,82.4" fill="none" stroke="#8f8db0" stroke-opacity="0.2" stroke-width="0.4"/>
<polyline points="28.5,81 29.4,78.7 30.3,82.4 31.2,82.7 32.1,79.6 33,78.9 33.9,81.5 34.8,82.3 35.8,79.7 36.7,80.8 37.6,80.1 38.5,79.6 39.4,79.4 40.3,81.5 41.2,80.7 42.1,80.3 43,77.5 43.9,83.8 44.8,79.9 45.7,81.1 46.6,79.6 47.5,81.8 48.5,79.1 49.4,81.4 50.3,81 51.2,82.6 52.1,79.7 53,80.3 53.9,80.9 54.8,84.2 55.7,79.1 56.6,81.7 57.5,80.3 58.4,81.7 59.3,82.2 60.2,81.4 61.2,81.6 62.1,81.6 63,80.4 63.9,80.9 64.8,78.9 65.7,80.7 66.6,80.1 67.5,80.9 68.4,82.3 69.3,81.8 70.2,81.9 71.1,82.8 72,77.8 72.9,81.9 73.9,81.2 74.8,81.1 75.7,79.4 76.6,82 77.5,82.9 78.4,82.7 79.3,81.1 80.2,82.1 81.1,82.6 82,83.8 82.9,83 83.8,81.4 84.7,81.4 85.6,81.5 86.6,81.6 87.5,80.5 88.4,82.3 89.3,80.2 90.2,80.1 91.1,81.7 92,80.4 92.9,80.9 93.8,78.3 94.7,82.4 95.6,81.2 96.5,81 97.4,81.9 98.3,81.5 99.2,80.2 100.2,84.1 101.1,80.6 102,82.6 102.9,83.8 103.8,80.3 104.7,81.4 105.6,80.1 106.5,82.7 107.4,80.7 108.3,79.7 109.2,83.1 110.1,82.5 111,80 111.9,82.9 112.9,81.5 113.8,85.1 114.7,83.7 115.6,80.4 116.5,80.8 117.4,80 118.3,81.4 119.2,81.3 120.1,82.3 121,81.4 121.9,79.1 122.8,80.1 123.7,83.3 124.6,82.9 125.6,81 126.5,81 127.4,81 128.3,81.3 129.2,78.8 130.1,82.5 131,80.3 131.9,81.4 132.8,77.6 133.7,81.6 134.6,83.1 135.5,78 136.4,83.4 137.3,81.9 138.3,80.2 139.2,79 140.1,82.9 141,81.6 141.9,82.1 142.8,80.8 143.7,80.1 144.6,82.5 145.5,79.9 146.4,82.5 147.3,78.8 148.2,79.9 149.1,79.1 150,83.1 150.9,78.7 151.9,79.6 152.8,82.2 153.7,81.6 154.6,84.4 155.5,83.9 156.4,82.1 157.3,82.2 158.2,78.6 159.1,80 160,80.8 160.9,81 161.8,79.3 162.7,79.9 163.6,80 164.6,82.7 165.5,81.8 166.4,80.7 167.3,80.8 168.2,81.6 169.1,80.2 170,80.8 170.9,78.8 171.8,82.2 172.7,82.6 173.6,81.7 174.5,81.9 175.4,81.7 176.3,84.2 177.3,81.5 178.2,79.3 179.1,79.7 180,82.2 180.9,82.8 181.8,82.3 182.7,82.4 183.6,81.5 184.5,79.1 185.4,80.2 186.3,78.6 187.2,80.7 188.1,79.3 189,81.4 190,81 190.9,78.4 191.8,82.3 192.7,82.3 193.6,79.2 194.5,81.4 195.4,82.2 196.3,80.8 197.2,82.4 198.1,81.5 199,82.8 199.9,81.5 200.8,81 201.7,82 202.7,82.3 203.6,81.6 204.5,80.6 205.4,80.1 206.3,80.7 207.2,80.4 208.1,81.5 209,81.5" fill="none" stroke="#8f8db0" stroke-opacity="0.2" stroke-width="0.4"/>
<polyline points="28.5,82.9 29.4,83.1 30.3,83.3 31.2,85.3 32.1,84.8 33,82.2 33.9,83.7 34.8,82.6 35.8,82.9 36.7,82.7 37.6,82.1 38.5,81.1 39.4,79.5 40.3,83.3 41.2,84.8 42.1,81.7 43,83.8 43.9,82.5 44.8,83.5 45.7,81.9 46.6,82.7 47.5,82.9 48.5,79.6 49.4,83.4 50.3,82.8 51.2,79.5 52.1,84 53,83 53.9,83.3 54.8,83.6 55.7,82.4 56.6,81.5 57.5,82.4 58.4,82.4 59.3,86.3 60.2,85.7 61.2,82.3 62.1,82.4 63,83.5 63.9,83.9 64.8,82 65.7,81.6 66.6,85.8 67.5,84.6 68.4,80.8 69.3,80.5 70.2,81.8 71.1,83.4 72,83.8 72.9,82.5 73.9,80.7 74.8,83.3 75.7,83.9 76.6,83 77.5,82.3 78.4,83.9 79.3,82.9 80.2,81.4 81.1,83.2 82,81.1 82.9,84.4 83.8,83.7 84.7,81.6 85.6,83.3 86.6,84.9 87.5,79.9 88.4,82.8 89.3,85.4 90.2,80.8 91.1,82.8 92,80.9 92.9,82.9 93.8,79.5 94.7,80.7 95.6,82.2 96.5,83.2 97.4,83.6 98.3,83.6 99.2,84.7 100.2,84 101.1,84.1 102,81.6 102.9,82.8 103.8,87.7 104.7,86.3 105.6,84.2 106.5,84.1 107.4,84.5 108.3,82.4 109.2,85.9 110.1,82.5 111,82.9 111.9,86.2 112.9,80 113.8,83.6 114.7,80.5 115.6,82.1 116.5,82.9 117.4,82.5 118.3,83.3 119.2,81.9 120.1,82.9 121,81.3 121.9,82.5 122.8,81 123.7,84 124.6,81.1 125.6,84 126.5,82.4 127.4,82.6 128.3,84.8 129.2,83.2 130.1,80.2 131,83.8 131.9,78.7 132.8,83.4 133.7,82.4 134.6,81 135.5,83.1 136.4,82.6 137.3,86 138.3,82.4 139.2,85.9 140.1,85.1 141,82.1 141.9,81.8 142.8,85 143.7,82.8 144.6,83.3 145.5,82.6 146.4,81.2 147.3,82.5 148.2,81.6 149.1,80.8 150,82.6 150.9,85.7 151.9,85.4 152.8,82.9 153.7,83.2 154.6,83.8 155.5,85.1 156.4,83.5 157.3,82.3 158.2,82.4 159.1,84.7 160,86.9 160.9,82.1 161.8,80 162.7,84.2 163.6,82.9 164.6,83.2 165.5,84.9 166.4,83.1 167.3,81 168.2,80.1 169.1,83 170,81.3 170.9,83.5 171.8,81.1 172.7,82.5 173.6,80.8 174.5,82.5 175.4,82.4 176.3,83.9 177.3,85 178.2,82.8 179.1,81.7 180,86 180.9,83.6 181.8,83.9 182.7,83.9 183.6,85.2 184.5,84.5 185.4,84 186.3,84.2 187.2,81.7 188.1,82.1 189,82.9 190,83.2 190.9,83.1 191.8,83.5 192.7,83.1 193.6,82.4 194.5,80.6 195.4,84.3 196.3,83.9 197.2,81.7 198.1,83.8 199,83.6 199.9,83.1 200.8,80.3 201.7,81.2 202.7,82.1 203.6,85.4 204.5,81.7 205.4,82.5 206.3,81.4 207.2,82.3 208.1,83.5 209,79.9" fill="none" stroke="#8f8db0" stroke-opacity="0.2" stroke-width="0.4"/>
<polyline points="28.5,80.6 29.4,85.9 30.3,84.9 31.2,84 32.1,86.3 33,86.3 33.9,81.7 34.8,84.6 35.8,86.5 36.7,83.9 37.6,84.4 38.5,86.3 39.4,84.5 40.3,83.1 41.2,83.9 42.1,82.9 43,85.7 43.9,82.3 44.8,86.4 45.7,82.4 46.6,84.9 47.5,82.7 48.5,84.4 49.4,86.4 50.3,86.6 51.2,86.8 52.1,84.7 53,85 53.9,85.2 54.8,85.8 55.7,84.3 56.6,86.5 57.5,85.4 58.4,86.6 59.3,85.6 60.2,85.9 61.2,83.8 62.1,84.3 63,82.9 63.9,84.4 64.8,84.6 65.7,86.1 66.6,83 67.5,89.7 68.4,84.7 69.3,86.8 70.2,86.4 71.1,81.1 72,84.5 72.9,87.1 73.9,81.2 74.8,86 75.7,83.5 76.6,84.2 77.5,85.2 78.4,82.1 79.3,85.2 80.2,83.9 81.1,83.8 82,85.9 82.9,90.1 83.8,85.4 84.7,85.7 85.6,84.8 86.6,83.8 87.5,85.3 88.4,87.2 89.3,85.2 90.2,86.2 91.1,84.5 92,88.7 92.9,82.4 93.8,85.8 94.7,85.7 95.6,85.3 96.5,83.2 97.4,83.2 98.3,84.5 99.2,85 100.2,83.1 101.1,83.3 102,85.7 102.9,86.4 103.8,84 104.7,83.8 105.6,83.8 106.5,88.6 107.4,85.6 108.3,84.8 109.2,86.4 110.1,88.3 111,86.6 111.9,82.7 112.9,84.7 113.8,84.3 114.7,84.3 115.6,83 116.5,84.3 117.4,83.2 118.3,85.4 119.2,84.9 120.1,82.7 121,82.3 121.9,84.1 122.8,85.8 123.7,85.6 124.6,84.8 125.6,79.9 126.5,84.1 127.4,83.7 128.3,84.4 129.2,83 130.1,84.2 131,83.9 131.9,88.9 132.8,85.9 133.7,84.6 134.6,84.8 135.5,84.7 136.4,85.1 137.3,84.2 138.3,84.8 139.2,86.4 140.1,86.1 141,85.3 141.9,86.9 142.8,85.2 143.7,83.4 144.6,82.2 145.5,83.8 146.4,84.8 147.3,85.5 148.2,86.5 149.1,84 150,83.6 150.9,86 151.9,86.6 152.8,84.1 153.7,85.4 154.6,86.9 155.5,85.3 156.4,84.8 157.3,81.7 158.2,86.9 159.1,85.8 160,85 160.9,84.2 161.8,83 162.7,84.7 163.6,84.7 164.6,86.5 165.5,83 166.4,87 167.3,84.9 168.2,86.6 169.1,83.4 170,85.4 170.9,86.7 171.8,85 172.7,82.6 173.6,84.4 174.5,85.7 175.4,82.8 176.3,82.7 177.3,85.2 178.2,83.4 179.1,85.9 180,83.1 180.9,82.1 181.8,83.7 182.7,87.1 183.6,83.6 184.5,84.9 185.4,85.2 186.3,83.4 187.2,86.5 188.1,85.1 189,85.5 190,82.3 190.9,82.2 191.8,80.7 192.7,84.6 193.6,84.5 194.5,85.9 195.4,87.1 196.3,84.5 197.2,84.5 198.1,85.5 199,87.2 199.9,83.6 200.8,85.8 201.7,84.5 202.7,84.4 203.6,86.1 204.5,83.7 205.4,83.3 206.3,85.9 207.2,84.8 208.1,84.5 209,84.7" fill="none" stroke="#8f8db0" stroke-opacity="0.2" stroke-width="0.4"/>
<polyline points="28.5,87.5 29.4,86.2 30.3,87.9 31.2,87.3 32.1,88.9 33,88.6 33.9,88 34.8,86.4 35.8,86.9 36.7,85.8 37.6,91 38.5,86.4 39.4,87.5 40.3,88.8 41.2,84.7 42.1,85.5 43,86.1 43.9,85.2 44.8,84.8 45.7,85.9 46.6,88.7 47.5,87.8 48.5,86.8 49.4,86.8 50.3,84.2 51.2,87.8 52.1,87.4 53,85.1 53.9,87 54.8,86.4 55.7,85.9 56.6,85.2 57.5,85.7 58.4,85.3 59.3,87.4 60.2,87.3 61.2,87.2 62.1,86.4 63,86.1 63.9,89.8 64.8,83.9 65.7,88.5 66.6,87.3 67.5,86.8 68.4,86 69.3,86.4 70.2,84.9 71.1,84.6 72,86.6 72.9,84.2 73.9,88 74.8,88.4 75.7,81.6 76.6,84.4 77.5,87.1 78.4,87 79.3,86.9 80.2,87.4 81.1,87.8 82,88 82.9,89.4 83.8,86.8 84.7,88 85.6,84.3 86.6,86.5 87.5,84.9 88.4,88.8 89.3,90.2 90.2,87.5 91.1,84.8 92,86.6 92.9,86.8 93.8,87 94.7,88.4 95.6,88.2 96.5,82.8 97.4,88.8 98.3,86 99.2,85.9 100.2,88.9 101.1,86.3 102,84.7 102.9,84.7 103.8,86.8 104.7,88.1 105.6,89 106.5,86.5 107.4,86 108.3,89.2 109.2,86 110.1,88.9 111,87.1 111.9,87.1 112.9,86.4 113.8,87.2 114.7,86 115.6,85.7 116.5,86.5 117.4,85.8 118.3,87.2 119.2,86.9 120.1,86.3 121,86.4 121.9,86.4 122.8,89.3 123.7,86.7 124.6,85.8 125.6,86.3 126.5,87.7 127.4,86.4 128.3,86.5 129.2,86.3 130.1,87 131,87.3 131.9,87.4 132.8,84.3 133.7,85.1 134.6,82.8 135.5,87.9 136.4,88.4 137.3,88.7 138.3,86.9 139.2,88.5 140.1,86.7 141,86.5 141.9,84.4 142.8,85.6 143.7,85.8 144.6,88.1 145.5,89.2 146.4,86 147.3,87.3 148.2,87.1 149.1,85.6 150,84.1 150.9,85.6 151.9,84.6 152.8,86.3 153.7,86.5 154.6,86.5 155.5,86.5 156.4,87.5 157.3,85.3 158.2,88.1 159.1,84.2 160,86.8 160.9,87.3 161.8,85.5 162.7,84.3 163.6,87.7 164.6,85.7 165.5,87.9 166.4,87.9 167.3,86.7 168.2,86.7 169.1,88.2 170,87.3 170.9,85.3 171.8,87 172.7,87.6 173.6,87 174.5,87 175.4,86.5 176.3,86.5 177.3,85.3 178.2,84.6 179.1,88.4 180,85.8 180.9,87.1 181.8,84.5 182.7,87 183.6,85.5 184.5,91.2 185.4,85.2 186.3,85.3 187.2,88.1 188.1,88.4 189,83.6 190,87.1 190.9,88 191.8,84.9 192.7,87.7 193.6,85.9 194.5,85.2 195.4,86.2 196.3,86 197.2,84.6 198.1,90.1 199,86 199.9,85.6 200.8,88 201.7,86.6 202.7,88.7 203.6,86.3 204.5,87.2 205.4,86.9 206.3,87 207.2,86.4 208.1,86.6 209,89.2" fill="none" stroke="#8f8db0" stroke-opacity="0.2" stroke-width="0.4"/>
<polyline points="28.5,87.6 29.4,87.8 30.3,88.1 31.2,89.4 32.1,89.2 33,90 33.9,86.6 34.8,89 35.8,88.3 36.7,88.1 37.6,88.8 38.5,85.6 39.4,89 40.3,85.9 41.2,86.4 42.1,88.4 43,90.9 43.9,88 44.8,89.5 45.7,88.2 46.6,87.4 47.5,87.2 48.5,88 49.4,90.5 50.3,89.8 51.2,87.5 52.1,88.7 53,88.4 53.9,87.5 54.8,89.2 55.7,87.2 56.6,86.2 57.5,90.5 58.4,85.9 59.3,89.4 60.2,84.4 61.2,88.5 62.1,88.3 63,87.9 63.9,85.3 64.8,88.4 65.7,88.5 66.6,87.2 67.5,88.5 68.4,90 69.3,87.5 70.2,89 71.1,86.9 72,89.1 72.9,89.5 73.9,92.2 74.8,89.9 75.7,89.2 76.6,90.7 77.5,87.1 78.4,90.2 79.3,87.8 80.2,87.7 81.1,90.2 82,88.9 82.9,90.5 83.8,86.4 84.7,89 85.6,87.8 86.6,88.2 87.5,85.8 88.4,90 89.3,88.9 90.2,87.1 91.1,86.6 92,87.3 92.9,90.6 93.8,88.4 94.7,86.1 95.6,89.3 96.5,88.6 97.4,88.9 98.3,89.7 99.2,89.1 100.2,89.9 101.1,86.8 102,88.7 102.9,88.1 103.8,88.7 104.7,88.5 105.6,87.7 106.5,88.1 107.4,90 108.3,87.8 109.2,86.8 110.1,89.5 111,90 111.9,88.2 112.9,88.8 113.8,87.4 114.7,88.3 115.6,90.2 116.5,89.8 117.4,88.8 118.3,88.2 119.2,86.2 120.1,86.3 121,89.3 121.9,90.2 122.8,91.6 123.7,89.2 124.6,90 125.6,87 126.5,90.4 127.4,89.9 128.3,88.1 129.2,89.6 130.1,89.3 131,90.8 131.9,87.6 132.8,89.6 133.7,90.2 134.6,87.5 135.5,86.9 136.4,89.3 137.3,88.8 138.3,89.5 139.2,89.6 140.1,87.5 141,89.1 141.9,90.3 142.8,88.1 143.7,88.2 144.6,87 145.5,89.8 146.4,91.5 147.3,86.6 148.2,89.7 149.1,89.9 150,84.8 150.9,88.1 151.9,87.1 152.8,87.5 153.7,88.9 154.6,89.6 155.5,88.8 156.4,89.9 157.3,88.9 158.2,85.9 159.1,90.8 160,90.4 160.9,87.6 161.8,91.2 162.7,89.3 163.6,88.8 164.6,91.4 165.5,85 166.4,86.3 167.3,89.7 168.2,88.3 169.1,87.3 170,90.8 170.9,89.4 171.8,86.8 172.7,87.7 173.6,89.9 174.5,91.3 175.4,85.7 176.3,89 177.3,88.1 178.2,86.1 179.1,88.4 180,86.3 180.9,87.9 181.8,91 182.7,89.4 183.6,89.8 184.5,89.5 185.4,89.2 186.3,90.1 187.2,87 188.1,88.1 189,89.9 190,85.9 190.9,88 191.8,90.4 192.7,90.9 193.6,87.8 194.5,87.5 195.4,89.5 196.3,89.1 197.2,87.7 198.1,89.5 199,89.5 199.9,85.9 200.8,93 201.7,90.7 202.7,89.9 203.6,90.2 204.5,93 205.4,90.3 206.3,87.6 207.2,89.1 208.1,88.8 209,87.8" fill="none" stroke="#8f8db0" stroke-opacity="0.2" stroke-width="0.4"/>
<polyline points="28.5,93 29.4,88 30.3,89.3 31.2,91.5 32.1,89.6 33,89.9 33.9,87.2 34.8,89.9 35.8,90.8 36.7,91.5 37.6,90.1 38.5,90.8 39.4,91.2 40.3,86.7 41.2,89.4 42.1,93.4 43,89.3 43.9,92.3 44.8,90.6 45.7,92.7 46.6,89.6 47.5,91.3 48.5,91 49.4,90.2 50.3,91 51.2,89.4 52.1,88.8 53,89.9 53.9,91.6 54.8,90.4 55.7,88.5 56.6,90 57.5,90.4 58.4,89.2 59.3,92.5 60.2,89 61.2,91.8 62.1,89.4 63,89.9 63.9,92 64.8,88.4 65.7,91.1 66.6,90.7 67.5,89.8 68.4,90.7 69.3,88.9 70.2,90.9 71.1,88.7 72,88.6 72.9,92.6 73.9,89.5 74.8,87.4 75.7,92 76.6,89.4 77.5,85.3 78.4,90.4 79.3,91.9 80.2,91 81.1,93.1 82,90.3 82.9,91.4 83.8,89 84.7,90.8 85.6,92.8 86.6,91.3 87.5,90.8 88.4,87.6 89.3,90 90.2,88.6 91.1,91.7 92,89.4 92.9,91.1 93.8,89.1 94.7,90.7 95.6,88.8 96.5,90.7 97.4,94.4 98.3,90.8 99.2,89.2 100.2,91.4 101.1,92 102,91.8 102.9,87.6 103.8,90.8 104.7,87.4 105.6,93.3 106.5,90.6 107.4,89.8 108.3,91.5 109.2,91.3 110.1,88.8 111,92.9 111.9,90.2 112.9,87.9 113.8,92.6 114.7,92.8 115.6,92.4 116.5,91.3 117.4,89.2 118.3,91.9 119.2,93.3 120.1,90.3 121,92.9 121.9,89.4 122.8,92 123.7,91.9 124.6,88.3 125.6,88.1 126.5,89.5 127.4,90.7 128.3,89.8 129.2,90.2 130.1,90.4 131,90.4 131.9,90.7 132.8,91.4 133.7,91.3 134.6,90.5 135.5,90.9 136.4,89.9 137.3,91.7 138.3,89.8 139.2,93 140.1,90.5 141,90.9 141.9,89.4 142.8,90 143.7,90.8 144.6,90.6 145.5,89.6 146.4,88.8 147.3,90.6 148.2,90.8 149.1,91.4 150,89 150.9,90.1 151.9,87.6 152.8,90.3 153.7,87.8 154.6,88.6 155.5,92.1 156.4,91.4 157.3,89.6 158.2,86.4 159.1,90.4 160,87.9 160.9,91.3 161.8,90 162.7,93.3 163.6,89 164.6,92 165.5,89.5 166.4,92.1 167.3,89.1 168.2,91.6 169.1,89.9 170,89.3 170.9,90.3 171.8,91.3 172.7,91.1 173.6,92.9 174.5,91.8 175.4,86.6 176.3,89.9 177.3,87.6 178.2,90 179.1,91.5 180,88.5 180.9,88.8 181.8,90.8 182.7,90.1 183.6,92.9 184.5,91 185.4,91.3 186.3,93.2 187.2,89.8 188.1,90.5 189,89.1 190,87.7 190.9,92.1 191.8,92.6 192.7,90.5 193.6,89.5 194.5,89.4 195.4,88.5 196.3,90.7 197.2,92.6 198.1,87 199,87.3 199.9,90.2 200.8,88.1 201.7,91 202.7,88.7 203.6,91.7 204.5,91.7 205.4,90.8 206.3,91.8 207.2,90.6 208.1,91.4 209,93.3" fill="none" stroke="#8f8db0" stroke-opacity="0.2" stroke-width="0.4"/>
<polyline points="28.5,92.4 29.4,93.3 30.3,90.6 31.2,94.8 32.1,92.9 33,93.1 33.9,93.3 34.8,94 35.8,93.5 36.7,92.8 37.6,92.1 38.5,89.9 39.4,92.7 40.3,88.6 41.2,91.9 42.1,96 43,89.6 43.9,92.5 44.8,94.2 45.7,93.9 46.6,94.3 47.5,90.5 48.5,91 49.4,93.3 50.3,92 51.2,95 52.1,91.2 53,92.7 53.9,93.1 54.8,92 55.7,92.6 56.6,91.4 57.5,92.4 58.4,91.7 59.3,92.8 60.2,89 61.2,90.2 62.1,93.1 63,92.8 63.9,91 64.8,92.1 65.7,90.9 66.6,95.5 67.5,90.1 68.4,95 69.3,91.2 70.2,93.1 71.1,92 72,91.9 72.9,93.8 73.9,93.7 74.8,92 75.7,91.1 76.6,95.5 77.5,94.5 78.4,92.6 79.3,92 80.2,92.9 81.1,92.6 82,94.2 82.9,91 83.8,92.5 84.7,91.3 85.6,94.4 86.6,95.1 87.5,92.3 88.4,93.2 89.3,94.5 90.2,92 91.1,91 92,94 92.9,93.2 93.8,92.1 94.7,91.5 95.6,92.8 96.5,89.8 97.4,93 98.3,92.4 99.2,95.3 100.2,92.4 101.1,92.1 102,93.1 102.9,92.8 103.8,90.3 104.7,92.6 105.6,92 106.5,94.6 107.4,96 108.3,90.8 109.2,91 110.1,91.2 111,91.5 111.9,91.4 112.9,92.5 113.8,94.1 114.7,90.5 115.6,90.1 116.5,89.7 117.4,94.1 118.3,94.4 119.2,90.1 120.1,87.3 121,92.6 121.9,94.1 122.8,94 123.7,92.7 124.6,93.5 125.6,92.9 126.5,91.6 127.4,95.3 128.3,90.8 129.2,90.8 130.1,91.7 131,90.1 131.9,92.5 132.8,94.1 133.7,90.5 134.6,94.1 135.5,95.6 136.4,93 137.3,90.7 138.3,91.2 139.2,91.9 140.1,90.5 141,90.6 141.9,92.1 142.8,92.2 143.7,93.4 144.6,90.6 145.5,95.3 146.4,94 147.3,93.8 148.2,91.5 149.1,95.1 150,89.9 150.9,95.2 151.9,94.1 152.8,91.1 153.7,91.8 154.6,95.3 155.5,94 156.4,92.2 157.3,92.8 158.2,89.4 159.1,91.3 160,92.1 160.9,91.5 161.8,91.8 162.7,93.1 163.6,91 164.6,93.5 165.5,92.6 166.4,93.6 167.3,93.8 168.2,94.3 169.1,93.4 170,93.5 170.9,92.2 171.8,93.3 172.7,91.1 173.6,92.1 174.5,93.6 175.4,92.4 176.3,93.1 177.3,90.9 178.2,94.5 179.1,91.6 180,93 180.9,92.4 181.8,93.9 182.7,91.9 183.6,90.9 184.5,89.6 185.4,92 186.3,90.7 187.2,93.3 188.1,94.6 189,89.1 190,87.5 190.9,92.9 191.8,94.3 192.7,92.9 193.6,92.9 194.5,93.2 195.4,93.3 196.3,94.9 197.2,93.4 198.1,90.6 199,91.7 199.9,89.4 200.8,91.2 201.7,92.1 202.7,91.7 203.6,91.4 204.5,93.5 205.4,91.9 206.3,90.8 207.2,91.4 208.1,92.5 209,95.6" fill="none" stroke="#8f8db0" stroke-opacity="0.2" stroke-width="0.4"/>
<polyline points="28.5,97 29.4,91.9 30.3,93.4 31.2,96 32.1,95.3 33,91.7 33.9,94.1 34.8,93.5 35.8,94 36.7,95.4 37.6,93.4 38.5,93.8 39.4,96.5 40.3,88.5 41.2,93.7 42.1,95 43,92.4 43.9,93.3 44.8,92.3 45.7,94.5 46.6,93.3 47.5,95.5 48.5,95.8 49.4,94.4 50.3,93.7 51.2,94.7 52.1,92.1 53,92.5 53.9,95.9 54.8,94.6 55.7,95.5 56.6,92.2 57.5,95.6 58.4,97 59.3,95.2 60.2,91 61.2,94.3 62.1,94.2 63,94.6 63.9,93.9 64.8,95 65.7,93.6 66.6,94.6 67.5,93.2 68.4,94.4 69.3,95.8 70.2,93.5 71.1,95.3 72,92.9 72.9,93.7 73.9,93.9 74.8,96.2 75.7,93.1 76.6,96.1 77.5,92.1 78.4,94 79.3,95.7 80.2,95.3 81.1,92.8 82,92.4 82.9,95.6 83.8,92.4 84.7,95.2 85.6,93.5 86.6,94.3 87.5,97 88.4,96.6 89.3,95.6 90.2,92.2 91.1,94.8 92,94.4 92.9,94.1 93.8,96.3 94.7,89 95.6,94.8 96.5,94.5 97.4,93.1 98.3,96.9 99.2,92.4 100.2,94.3 101.1,94.4 102,91 102.9,92.1 103.8,92.8 104.7,95.5 105.6,95.7 106.5,95.2 107.4,94.6 108.3,90.9 109.2,94.6 110.1,93.5 111,96.1 111.9,96.3 112.9,97 113.8,95.4 114.7,95.5 115.6,92.7 116.5,94.4 117.4,92.4 118.3,95.6 119.2,92.5 120.1,91.7 121,93 121.9,93.6 122.8,95 123.7,93.4 124.6,94.6 125.6,92.7 126.5,96.4 127.4,93.3 128.3,92.3 129.2,97 130.1,90.6 131,92.8 131.9,94 132.8,96 133.7,93.5 134.6,94.8 135.5,93.2 136.4,95.1 137.3,92.4 138.3,95.5 139.2,89.7 140.1,91.4 141,97 141.9,94.5 142.8,92.9 143.7,97 144.6,95.9 145.5,96 146.4,93.6 147.3,95.2 148.2,95 149.1,91.7 150,91.7 150.9,94 151.9,96.2 152.8,96.3 153.7,93.3 154.6,93.3 155.5,94.6 156.4,95.3 157.3,93.6 158.2,90.9 159.1,95.2 160,94.9 160.9,96 161.8,94.6 162.7,92.9 163.6,91.6 164.6,95.5 165.5,93.7 166.4,93.7 167.3,93.8 168.2,91.8 169.1,93.7 170,90.3 170.9,93.6 171.8,92.9 172.7,97 173.6,94.9 174.5,93.9 175.4,94.5 176.3,95.4 177.3,93.1 178.2,93.9 179.1,93.7 180,97 180.9,94.4 181.8,91.2 182.7,95.5 183.6,97 184.5,92.8 185.4,97 186.3,94.2 187.2,95.8 188.1,93.4 189,93.8 190,90 190.9,92.6 191.8,90.9 192.7,96 193.6,92.5 194.5,94.8 195.4,94.8 196.3,93.2 197.2,94.3 198.1,94.1 199,93.5 199.9,91.3 200.8,94.3 201.7,92.7 202.7,92.2 203.6,92.9 204.5,94.4 205.4,96.4 206.3,96.5 207.2,94.7 208.1,95.7 209,94.4" fill="none" stroke="#8f8db0" stroke-opacity="0.2" stroke-width="0.4"/>
<polyline points="28.5,97 29.4,95.6 30.3,91.8 31.2,97 32.1,97 33,93.5 33.9,95.7 34.8,96 35.8,92.5 36.7,97 37.6,96.8 38.5,96.5 39.4,94.4 40.3,93.7 41.2,95.1 42.1,96.8 43,94.6 43.9,97 44.8,96.7 45.7,92.7 46.6,97 47.5,96.3 48.5,95.2 49.4,96.2 50.3,93.2 51.2,96.4 52.1,91.1 53,94.5 53.9,97 54.8,97 55.7,95.5 56.6,94.6 57.5,97 58.4,96 59.3,96.4 60.2,95.2 61.2,94.4 62.1,97 63,92.8 63.9,97 64.8,93.6 65.7,95.1 66.6,95 67.5,97 68.4,97 69.3,96.6 70.2,96.9 71.1,96.8 72,96 72.9,93.1 73.9,92.5 74.8,92.5 75.7,96 76.6,95.7 77.5,95.8 78.4,96.4 79.3,95.7 80.2,94.5 81.1,93.7 82,93.1 82.9,97 83.8,97 84.7,93.9 85.6,95.6 86.6,96.7 87.5,97 88.4,95.1 89.3,96.3 90.2,97 91.1,93.3 92,94.9 92.9,96 93.8,94.9 94.7,96.1 95.6,97 96.5,96.4 97.4,94.5 98.3,97 99.2,97 100.2,95.2 101.1,95.4 102,93.8 102.9,95.9 103.8,97 104.7,97 105.6,97 106.5,97 107.4,95.1 108.3,95.3 109.2,97 110.1,96.8 111,94.8 111.9,96.8 112.9,97 113.8,97 114.7,96.2 115.6,95.2 116.5,96.7 117.4,97 118.3,96.3 119.2,95 120.1,95.1 121,94.1 121.9,96.4 122.8,95.6 123.7,97 124.6,96.2 125.6,97 126.5,97 127.4,95.7 128.3,93.1 129.2,96.8 130.1,95.9 131,96.3 131.9,95.1 132.8,96.9 133.7,96.1 134.6,92.7 135.5,95.7 136.4,96.6 137.3,97 138.3,95.1 139.2,94.8 140.1,97 141,95.1 141.9,96.2 142.8,96.8 143.7,97 144.6,96 145.5,94.3 146.4,97 147.3,95.4 148.2,95.2 149.1,97 150,94.3 150.9,94.4 151.9,95.3 152.8,95.6 153.7,94.9 154.6,93 155.5,97 156.4,97 157.3,96.4 158.2,93.9 159.1,96.4 160,97 160.9,94.4 161.8,95.5 162.7,95.2 163.6,97 164.6,96.4 165.5,94 166.4,95.1 167.3,97 168.2,94.5 169.1,96.3 170,95 170.9,97 171.8,95.9 172.7,95.3 173.6,94.2 174.5,95.6 175.4,97 176.3,97 177.3,94 178.2,97 179.1,95.6 180,94.4 180.9,96.2 181.8,95.1 182.7,95.1 183.6,95 184.5,95.9 185.4,95.2 186.3,93.4 187.2,96.8 188.1,95.2 189,97 190,95.3 190.9,97 191.8,96.3 192.7,97 193.6,95.5 194.5,94.5 195.4,96.6 196.3,91.8 197.2,95.4 198.1,96.4 199,95.4 199.9,95.1 200.8,97 201.7,96.2 202.7,95.4 203.6,97 204.5,95 205.4,95.4 206.3,97 207.2,96.9 208.1,97 209,95.7" fill="none" stroke="#8f8db0" stroke-opacity="0.2" stroke-width="0.4"/>
<path d="M182.3 89.4v0.9M88 59.9v1.3M161.7 25.6v1.6M58 18.9v1.9M141.3 56v1.3M149.5 90.3v1.3M37.5 28.4v1.9M82.3 72.6v1.1M135.8 38v1.5M96.1 58.3v1.8M154.4 43.8v0.9M177.1 15v1.3M170.2 92.7v1.8M49.4 91.4v0.9M35.6 71v2.1M143.6 83.4v1.7M44.1 60.6v1.9M117.4 68.7v1.5M47.4 82.2v1.1M65.6 17v1.3M101 23.2v1M109.8 6.6v1.5M48.2 17.4v1M180.6 78.1v2.2M173.2 50.5v1.4M133.7 61.6v2.2M89 85.9v2.1M199.9 61.2v1.7M207.3 42.3v1.9M43.3 26.7v1.5M160.8 21.4v1.9M131.9 17.6v0.9M100.3 78.6v2.2M165 25.5v2.1M57 40.8v1.7M89.5 34.8v1.4M190.9 47.2v0.9M92.7 57.7v1.6M200.1 50.8v1.9M163.3 47v1.4M111.3 16.1v0.9M49.4 17.1v0.9M99.9 18.7v2.2M101.7 5.9v1.7M157 89.9v1.1M85.9 72.1v1.7M140.8 88.7v2.2M30.5 40v2.1M32.2 35.7v1.9M42.4 57.8v2.1M124.6 5.9v1M102.2 6.6v1.7M77.2 36v1.9M160.4 76.7v1.1M90.5 62.1v1.5M173.4 42.3v2.1M68.4 63.7v1.9M206 39.2v2M136.8 62.6v1.2M186.3 11.5v2.2M130.5 57.3v1M149.9 19.3v2M162.8 20.5v1.9M142.3 31.9v1.7M153.5 50v1.8M170.6 84.9v2M48.3 82.2v2.1M115.5 86.1v1.1M36.2 45.2v1M52.4 45v2.2M122.1 93.4v1.5M111.9 7.4v0.9M185.5 66.7v1.6M188.5 63.4v1.2M184 70.4v0.9M177.8 38v2M176.8 86.3v1M160.7 33.4v2M49.6 83.5v2.2M121.5 54.3v1.7M189.6 13.3v2M91.4 41.6v2M50.8 18.3v1.8M159.6 25.6v1.8M92.9 8v1.2M57.8 45.7v1.4M97.9 86.5v1.3M63.2 89.8v1.7M199.4 45.7v1.6M87.8 91.2v1.2M195.7 35.9v1.9M144.8 74.7v1.1M207.8 49.7v0.9M151.2 12.4v1.7M157.3 23.6v1M53.1 64v1.8M193.6 34.4v0.9M141.7 79.9v1.8M116.8 29.4v1.8M182.3 25v1.8M167 94.2v1.3M99.3 9.4v1M162.3 29.7v2.1M86.1 76.4v1.3M164.4 44.5v1.1M65.8 31v1M184.2 87.6v1.9M29.8 84v1.9M179.7 61.7v1.1M82.3 40.1v1.1M34 90.4v1.3M137.9 15.1v2M163.5 9.1v1.1M162.2 10.6v0.8M50.2 18.1v1.9M169 56.4v1.2M169.3 61.9v0.9M62.8 67.4v1.6M99.6 52.7v1.1M133.9 17.8v2.2M176.4 49.7v2.2M150.3 57v1.7M154.6 93.6v1.9M71.5 10.8v2.1M161.1 57.4v1.5M199 9.3v1M85.8 94.3v1.8M136.5 36v1M32 18.1v1M120.5 38.1v2.2M193.9 54.9v1M85.8 7.9v1.7M97.9 88v1.2M181.4 40.6v1.7M92.6 77.5v1.1M57.6 10.1v1.3M160.4 46.7v2M134 53v1.5M36.2 58.1v1.1M43.8 14.6v1M140.1 31v1.2M102.9 90.6v1.2M82.9 27.8v1.2M82.3 79.4v2.2M99.4 82.7v0.9M115.3 78.7v0.9M207.8 41v1.5M198.3 87.4v1.1M110.6 70.9v1.4M197.2 23.3v2.2M140.2 60.1v1.8M76.4 45v1.1M173.3 35v1M188.2 36.1v2.1M108.7 63.4v1.9M121.3 89.5v1.9M188.6 52.8v1M59.9 18.5v1.5M199.2 54.7v1.4M49.2 38.9v1.1M110.7 46.3v2.1M99.9 84.1v0.9M90.9 69.8v1.4M43.1 37.3v1.6M200.1 26.6v0.9M164.6 60.3v1.3M99 34.7v1.7M184 32.2v2.1M103.9 49.2v1.2M44.5 23.4v1.2M107.3 49.5v2M93.4 73.6v1.2M114.6 12.3v2M92.1 62.5v1.6M116.4 26.8v2M113.6 17.2v0.9M119.2 55.8v1.2M71 79.4v1.8M54.7 77.4v0.9M179.9 80v1M206.4 85.6v1.1M146 46.9v1M66 23.9v1.7M131.4 91.9v1.2M115.1 38.6v1.3M133.5 75.4v1.8M49.6 30.1v1.7M165.3 82.7v1.3M111.1 9.8v1.5M83.5 52.3v1.6M59.7 12.2v1.8M158.3 93.4v1.5M41.1 12.4v2.2M160.6 20.2v1.4M64 74.6v1.8M194.9 64v1.4M192.2 39.6v1.8M68.3 30.1v1.6M81.6 82v1.5M195.2 59v1.6M119.7 22.8v1.3M189.4 65.8v1.9M103.4 23.5v1.9M103.7 74.8v0.9M92 63.4v2.1M65 92.9v1.7M64.8 6.8v2.1M149.9 69.8v1.4M44.7 48.1v1.7M78.6 90.9v1.9M32.3 31.7v2.1M162.8 76.9v1.1M186.6 64.1v1.4M151.3 27.3v2.1M43.1 29.3v1.8M103.9 84.1v2M150.8 37.6v1.4M88.3 33.3v0.8M75.3 67.4v1.6M88.2 34.5v1.1M42.7 19.3v1.7M195.4 66.6v1.3M129.8 17.4v0.9M40.2 55.9v1.6M56.7 89.4v1M120.3 63.3v0.8M77.5 52.9v1.7M151.1 64.4v0.9M39.3 82.1v1M94 80.3v0.9M182.5 63.7v1.3M72 51.9v2M65.2 27.5v1.5M174 42.6v1.4M201.3 53.1v1.9M149.5 54.3v1.4M146.1 79.6v1M77.3 24.3v1.9M87 45.4v1.5M200.3 5.8v1.1M184.5 46.2v1.3M197.9 15v0.8M191.3 78.5v1.6M76.6 74.7v1M105.4 20.7v1.4M30 46.4v1.4M204.8 39.2v1.5M56 30.6v1.1M203.2 16.9v1.7M177.9 89.4v1.8M61.4 87.4v1.5M123.5 84.9v0.8M157.8 73.2v1.7M63.7 86.8v1.1M87 79.8v2.1M76.2 48.1v2M125.3 25.8v1.3M142.2 69.9v1.2M62.9 75v1.2M73 31.2v1.1M52.9 39.8v1.1M144.8 14.7v1.3M198.8 46.3v2M69.8 75.4v0.9M199.3 91.1v1.8M65.3 72.9v1.9M146.1 74.6v1.2M168.8 25.6v1.5M99.8 24.5v1.2M187.4 11v1.5M115.4 15.4v0.9M107.2 37.4v1.2M74.7 25.9v1.7M203.9 32.8v1.4M153.8 32.8v1M145.2 37.1v0.8M87.8 83.8v0.9M188.5 60.2v2M129.4 68.7v2M59.8 15.3v1.6M114.7 51.8v1.3M204.4 59.3v1.7M34.1 30.1v1.2M206.7 17.8v1.5M159.9 60.8v1.9M93.7 20v1.1M127.4 51.8v1.4M193.5 41.2v1.1M136.6 57.3v1.9M129.2 6.2v1.5M62 26.4v1.9M201.4 83.1v1.1M105.3 82.1v2M39.4 30.3v1.6M64 7.3v1.1M125.9 69.1v1.8M130.3 58.8v1.5M171.1 63.4v1.8M190.7 16v0.9M124.2 45.2v2.1M84.2 65.7v1.8M71.7 6.2v1.4M65.1 22.5v1.4M61.1 55.3v1.7M113.2 55.7v1.1M132 81.5v2M48.7 34.4v1.8M134.8 39.9v2M189.2 55.6v1.1M201.3 48.3v1.3M51.7 89.4v1.8M41.7 21.7v2.1M42.5 65.6v1.6M118.5 67v1.3M141.1 83.5v1.6M122.9 59.9v1.1M88.7 69.3v1.6M50.1 82.8v1.4M73.2 18.8v2.1M159.8 33.1v1.1M181.4 18.6v1.5M148.6 89v1.8M48.3 51.8v2.1M77.4 13.3v0.9M178.3 88.6v1.4M83.8 40.9v1M107.1 47.5v1.5M47.8 92.2v1.7M131.5 79.1v0.9M134 38.4v1.7M196.9 11.7v1M91.9 53v2M160.3 54.4v1.1M119.1 44.7v1M192.8 80.4v1.7M73.2 56.8v1.3M145 8.8v1.6M129.2 87.9v1.6M169.1 25.3v1.6M87 93.2v2.1M72.9 61v0.9M127.1 93.2v1M159.6 51.4v2.2M102.1 79.1v1.6M172.2 81.3v1.7M91.6 58.6v1.9M175.9 61.7v1.4M44 15.8v1.7M99.8 65.7v1.5M100.4 23.7v2M77.6 61.7v0.9M201.4 19.1v1.5M174.3 26.2v1.7M102 91.1v1M63.3 54v1.8M132.1 21.7v1.5M40.6 65.4v1.3M201 41.1v0.9M31.2 34.8v1.2M199.2 74.9v1.3M75.5 11.5v1M161.9 10.6v1.9M99.7 66.3v1.7M48.5 72.8v2M48.8 91.9v1.9M137.3 67.4v0.9M69.7 86.1v2M68 54.2v1.3M62.5 75.1v1.7M41.3 65v0.8M46.2 42.4v0.8M122.1 66.3v1.2M153.8 11.9v0.9M118.2 8v1.9M188.6 6.1v1.9M131 92.2v1.9M190.7 81.6v2M164.6 86.2v0.9M173 65.8v1.3M107.3 15.5v1.2M156.9 54.6v2.1M74.7 25.9v1.8M200.2 38.2v1.4M38.8 26.4v2.1M203.9 49.2v2M67.7 63.2v2.1M91.6 62.3v1.8M54.2 28.6v1.6M75.4 19.8v1M169.1 46.4v1.6M142.8 34.4v1.7M109.9 13.7v1.5M118.3 66.8v2.1M37.6 60.4v1.8M114.9 43.9v1.8M125.9 42.6v1.7M137.6 13.3v1.3M189 19.7v1.5M143 16.2v1.1M86.8 58.8v1M166.3 66.2v1.9M72.2 53.7v2M107.1 56.3v1.4M161.5 61.4v1.9M202.5 74.8v1.6M74.5 51.2v2.1M205.3 16.4v1.7M33 15.1v1.3M46.3 63.4v1.5M98 81.3v1.3M73.2 30.8v0.8M158.3 62.9v1.4M175.3 35v1.1M35 21.3v1.4M88.2 45v0.9M33.7 65.7v1.4M169.6 80.8v1.3M111 73.6v1M173.2 38.2v1.1M112.9 63.1v2M176.2 8.7v1M89.5 10.8v1.4M110 52.1v1.3M71.8 57.9v0.9M36.1 71.8v1.1M57.5 27.4v1.6M71.8 64.5v1.7M101.3 88v1.9M53.8 25.9v1M156.4 22.6v1.4M45.6 83.5v1.8M148 67.7v1.3M62.9 7.1v1.4M191.5 7.9v1.1M123.2 12.1v1.2M163.5 24.6v1.2M79.5 23.8v1.9M198.9 58v1.2M72.5 66.9v1.8M175.2 17.6v1.1M90 43.6v1.9M44.6 32.1v1M173.1 68.7v1.9M85.8 52.2v2M32.6 76.7v1.9M106.8 74.4v1.9M61.2 91.6v2.1M74.9 90.5v1.6M120.3 74.4v2.1M74.9 16.3v2M108.1 54.6v1.5M186.2 56.1v1.8M166.5 5.8v1.6M137.1 14.7v1M41.1 42.4v1.9M72.9 83.1v0.9M90.7 26.2v2.1M58.9 81.3v1.5M77.4 42.7v1M137.9 64.8v1.4M170.8 73.7v1.7M163.6 43.7v1M123.6 46.6v1M153.6 45v1.7M63.2 26.3v0.9M191.5 66.9v1.2M38.3 35.5v1.9M189.9 20.3v2.1M65.1 8.6v1M32.3 27v1.9M114.7 76v0.9M163 17.6v1.3M196.3 70.5v1.8M144.6 38.2v1.7M106 75.9v1.7M188.2 80v2M46 7.4v1.3M198.1 59.5v1.6M176.7 61.9v1M113.8 82.7v1.9M40 94.4v1.5M80.8 43.8v2.1M189.4 37.1v1.7M41.9 76v0.9M157.2 33.7v1M54.8 92v1.1M113.1 19.4v1.5M175.8 27.7v1.8M92.6 16.6v1.9M90.6 62.4v2.1M158.4 34.9v1.7M163.1 24.7v2.1M69.6 8.8v1.5M113.9 19.3v1.5M77.7 77.9v1.5M122.9 18.3v2.1M74.3 57.4v1.9M122.1 34v1.7M157.4 17.8v1.2M61.8 7.5v1.7M207.8 29.8v2.1M98 86.8v0.9M85.8 80.8v2.1M172.6 66.2v1.2M205.3 56.6v1.9M100.3 89v1.7M156.3 18.2v1.4M46.3 37v1.6M81 6.1v1.4M164.7 39.3v1.9M98.5 54.4v1.2M44.5 75.1v1.5M171.2 75.3v1.9M97.1 31.6v1.1M112.8 59.2v2M207.6 70.4v1.6M80.6 57.4v1.2M184.8 25.8v1.4M69.2 24.9v1.9M65.3 34.1v0.9M192 67.6h1M193.7 61.6h0.9M128.5 61.5h1.3M202.7 60.6h1M104.9 68.4h1.4M40 68.1h1.2M113.4 63.4h1.3M52 63.1h0.8M100.1 66.7h1.3M54.3 61.7h1.2M59.9 59.9h1.3M33.2 67.5h1.1M99.8 62.2h1M189.5 64.7h0.8M129.6 62.3h1.3M57.6 64h0.7M76.2 65.9h1.1M193.5 60.9h1M47.4 65.8h0.8M194.4 63.9h1.1M94.9 63.1h1.3M164.9 63h1.3M96.8 60.2h0.9M105 63.5h0.8M155 61.6h1.2M123.3 65.3h1.3M156.3 65h1.2M121.5 68.4h1.3M57.2 60.9h1M194.1 60.8h0.9M207.9 66.2h1.1M58.7 59.8h0.9M63 67.5h1.1M119.5 65h1M71.6 66.1h1.2M191.7 63.9h0.8M201.3 59.6h0.8M155.6 67.3h1.4M135.6 62h0.7M160.5 65.3h0.8M162.6 68h0.8M137 63.3h1.1M50.1 67.6h0.9M143.8 61.6h0.8M200.6 61.8h1.4M183.1 64.5h1.1M34.4 66.4h1.2M133.9 66.8h1M97.5 66.2h1M137.5 60.9h0.8M61.7 66.7h1.4M203.3 64.5h1.2M50.6 62.5h1.4M82.1 60.9h1M166.5 68.4h0.7M143 67.1h1.3M193.6 65.3h1.3M101.1 64.8h1.1M108.1 63.5h1.2M56 67h1.2M65.1 62.6h1.3M104.9 67.1h1M206.8 63h1.4M97.8 63.3h0.8M169.7 60.2h1.2M118.2 67.3h1.1M198.5 64.1h0.9M194.4 67.5h1.3M136.3 61.9h0.7M174.4 65.4h1M121 66.6h0.9M32.7 60.3h1.4M66.4 68.3h0.7M149.3 64.2h1M29 64.6h1.1M178.4 67h1.3M39.6 67.4h1.1M184.6 67.7h0.8M102.4 64.1h1.1M197 59.8h1.1M117 60.7h1.2M159.3 60.5h0.8M116.3 68.1h1.3M147.9 63.1h1.4M113.9 60.7h1.1M45.7 67.3h1.1M161 67.2h1.3M170.7 66.6h1M34.1 61.8h1.2M85.6 68.4h0.9M155.8 60.6h1M172.6 67.7h0.8M173.1 68.2h0.7M174.7 59.9h1.2M205.8 60.3h1.2M48.8 64.8h0.9M128.9 66.3h0.8M82.6 60.5h1M43.5 59.8h1.2M155.1 59.8h1.2M149.8 62.6h0.9M70.1 64.9h0.8M127.2 63.2h1.1M164.8 61.5h0.9M115.2 62.4h1.2M54.5 67.7h1.4M51.6 63.9h0.9M90.6 61.3h1.1M172.6 61.6h1.2M162.9 65.2h1.3M136.8 66.7h1.4M181.9 64.7h0.9M137.1 66h1.2M100.2 66.2h0.9M51.9 68.1h1.3M104.9 64.5h0.7M199.5 62.7h1.1M53.1 60.7h1.1M149.5 68.3h1.2M138.4 64.9h0.9M95.2 65.1h0.8M83.1 61h0.7M109.8 62.9h1.1M100.3 60.2h1.3M36 59.7h0.7M170.3 62.8h1.4M85.7 63.2h1.2M198.6 67.7h1M150.8 60.1h1.1M144.6 62h1.2M83.8 66.4h0.8M122.3 68.1h1.1M197.3 68h1.2M172.9 66.1h1.1M170.3 66.6h1.3M30.3 59.8h1M157.5 63.3h1M32.6 65h1.4M139.2 61.7h1.1M95.3 62.8h0.7M156.8 59.5h1.3M30.2 66.5h0.9M91.5 63.9h0.8M66 65.9h1.3M54.2 62h1.4M152 67.8h1M166.5 65.9h1.2M114.3 62.1h1M54.7 60.2h1M182.4 62.5h1.1M176.5 60.4h1M95.2 65.9h1.3M30.4 64.4h0.7M82.8 63.1h0.9M102.9 62.8h1M73.8 63h0.9M104.2 65.9h0.7M207.8 60.8h1.3M80.5 60.1h1.3M130.1 61.9h1M183.7 65.9h0.9M71.4 64.6h0.8M70 66.7h1.2M33.6 63.5h1M161.2 63.3h0.9M179.6 61.2h1.2M79.5 65.1h0.8M185.8 62.8h1.2M163.2 63.7h1.1M50.3 64.4h1.1M189.2 89v1.2M101.6 92.7v1M35.5 94.5v1.8M157.6 90v1.3M148.4 88.1v1.7M66.6 93.7v1.6M153.3 87.5v1.9M81.9 87v1.5M40.4 91.1v1.8M181.8 86.2v1.6M205.2 88.9v1.1M172.2 86.8v2.1M123.2 93.5v1.8M150.6 88.2v2.5M66.4 93.1v2M115.2 89.2v1.1M171 87.9v2.3M187.9 87.8v1.4M156.3 92.5v1.1M176.8 92.9v1.9M188.5 94.3v1.3M197.8 93.3v1.9M48.8 94.2v2.1M95.2 88.7v2.4M70.3 93v1.7M153.7 93v1.1M75.6 87v1.6M54.4 93.8v2.2M133.1 87.6v1.3M135 93.7v2.4M195.3 88.7v2M121.8 90.7v2M81.7 88.3v1.6M70.7 93.3v1.5M35.9 91.4v2.5M127.3 88.4v2.4M141.7 91.3v1.7M167.1 91.7v1.8M88.9 92.7v2.4M45.4 86.2v1.1M185.3 91.2v1.6M203.6 94v1.6M95.2 90.5v1.9M179.7 93.5v1.4M181.9 86.7v1.3M104.1 86.6v1.5M33.9 92.8v2M75.5 90.4v1.6M175.7 88.5v1.4M168 92.4v2.1M40.4 86.4v2.4M203.1 87.7v1.7M111.9 88.4v1.1M74.3 94.2v1.7M65.9 86.6v2M179.4 88.1v2.1M32.9 87.1v2M45.9 90v1.7M34 93v2.1M170.5 91.5v1.4M153.4 90.9v1.9M163.6 88.5v2.4M111.7 88.7v1.8M203.2 92v1.1M78.4 91.7v2.4M125.4 90.6v1M56.4 92.8v1.4M125 91.8v1.9M166.2 91.5v1.5M133.8 91.9v1.1M201.9 91.3v2.5M183.4 86.3v1.1M182.2 88.1v2.4M204.3 92.5v1.9M107.6 93.7v1.9M45.8 92.2v1.5M53.3 89.1v2.3M161.9 89.2v2.2M129.1 88.9v1.2M151 88.1v1.8M71.9 91.4v1.1M78.9 91.3v2.3M159.5 88.4v1.6M118.7 94v1.3M170.2 87v2.3M48.8 89.3v1.6M148.4 88.7v2.2M205.4 92.1v1M46.2 92.8v1.6M120.7 93.2v2.1M123.3 88.6v1.1M49.2 86.5v1.6M198.6 86.9v1.8M139.3 94v2.5M146.4 90.9v2.1M107 92.6v2.3M67.5 90.5v1.5M51.4 89.6v1.9M121.7 89.3v1.8M119.4 86.2v2M170.2 89.9v2M72.3 92.2v1.7M143.7 91.7v1.6M62.5 94v2.2M97.6 89.2v2.3M163.7 88.4v2.2M89.6 93.2v1.2M198.6 89.1v2.4M73.1 89.2v1.4M134 88.2v2M150.7 92.5v1.7M105.6 88.1v1.7M123.5 88.4v1.8M59.8 89.6v1.5M124.5 92.6v1M107.7 86.9v1.5M160.8 91.4v2.1M174.7 88.9v1.6M62.7 88.8v1.9M148.9 92v1.8" stroke="#4e4c98" stroke-opacity="0.38" stroke-width="0.8" fill="none"/>
<path d="M50 31V40M66.6 33V40M71.4 35V40M73.4 35.5V40M116.3 30V40.5M131.5 33V38M163 30V40M196 30V40.5M196.8 34V40" stroke="#4a4990" stroke-opacity="0.7" stroke-width="1.1" fill="none"/>
<line x1="28.5" y1="60.6" x2="209.0" y2="60.6" stroke="#4848b8" stroke-opacity="0.22" stroke-width="0.8" stroke-dasharray="1.2 1.1 0.8 1.6 1.5 0.9"/>
<line x1="28.5" y1="62.8" x2="209.0" y2="62.8" stroke="#4848b8" stroke-opacity="0.3" stroke-width="0.8" stroke-dasharray="1.2 1.1 0.8 1.6 1.5 0.9"/>
<line x1="28.5" y1="65.0" x2="209.0" y2="65.0" stroke="#4848b8" stroke-opacity="0.3" stroke-width="0.8" stroke-dasharray="1.2 1.1 0.8 1.6 1.5 0.9"/>
<line x1="28.5" y1="67.2" x2="209.0" y2="67.2" stroke="#4848b8" stroke-opacity="0.25" stroke-width="0.8" stroke-dasharray="1.2 1.1 0.8 1.6 1.5 0.9"/>
<line x1="28.5" y1="69.4" x2="209.0" y2="69.4" stroke="#4848b8" stroke-opacity="0.15" stroke-width="0.8" stroke-dasharray="1.2 1.1 0.8 1.6 1.5 0.9"/>
<path d="M33 96.5v-3.3M40 96.5v-6.2M47 96.5v-7.2M60 96.5v-7.4M66 96.5v-3.1M83 96.5v-4.9M86 96.5v-5.5M89 96.5v-6.1M104 96.5v-7M118 96.5v-3.1M127 96.5v-7.5M140 96.5v-5.2M152 96.5v-7.8M158 96.5v-6.9M170 96.5v-5M181 96.5v-7.8M190 96.5v-5.3M199 96.5v-3.5M204 96.5v-4" stroke="#6a60a8" stroke-opacity="0.35" stroke-width="1.1" fill="none"/>
<rect x="28.5" y="84" width="180.5" height="13.0" fill="#8a7fc0" fill-opacity="0.08"/>
<line x1="27.3" y1="4.5" x2="27.3" y2="97.0" stroke="#4c516e" stroke-width="1.5" stroke-dasharray="1.05 0.4" stroke-opacity="0.9"/>
<line x1="27.5" y1="4.5" x2="209.0" y2="4.5" stroke="#77788a" stroke-width="0.8"/>
<line x1="209.0" y1="4.5" x2="209.0" y2="97.0" stroke="#8a8aa0" stroke-width="0.7"/>
<text x="29.1" y="101.3" class="tkA">0</text>
<text x="65.2" y="101.3" class="tkA">1</text>
<text x="101.3" y="101.3" class="tkA">2</text>
<text x="137.4" y="101.3" class="tkA">3</text>
<text x="173.5" y="101.3" class="tkA">4</text>
<text x="209.6" y="101.3" class="tkA">5</text>
<g class="eq">
<text x="38.6" y="148.9" font-size="9.2" font-style="italic" textLength="17.7">GFP</text>
<text x="58.2" y="148.55" font-size="8.6" class="eqs">=</text>
<path d="M67.2 147.5 L68.9 146.4 L73.6 161 L76 129.9 L192.2 129.9" fill="none" stroke="#1a1a1a" stroke-width="0.65" stroke-linejoin="miter"/>
<path d="M68.9 146.9 L73.3 159.8" fill="none" stroke="#1a1a1a" stroke-width="1.3"/>
<path d="M82.2 132.8 Q72.6 146 82.2 159.2 Q75.4 146 82.2 132.8Z" fill="#1a1a1a" stroke="#1a1a1a" stroke-width="0.35"/>
<path d="M164 132.5 Q173.8 145.7 164 158.9 Q171 145.7 164 132.5Z" fill="#1a1a1a" stroke="#1a1a1a" stroke-width="0.35"/>
<text x="82.7" y="148.3" font-size="13.7" textLength="12.5" lengthAdjust="spacingAndGlyphs" stroke="#1a1a1a" stroke-width="0.3">∑</text>
<text x="87.3" y="137.7" font-size="5" font-style="italic">K</text>
<text x="88.3" y="156.8" font-size="5.2" font-style="italic">i</text>
<text x="96.8" y="148.3" font-size="8.5">(</text>
<text x="98.6" y="148.3" font-size="8.5" font-style="italic" textLength="6.2" lengthAdjust="spacingAndGlyphs">V</text>
<text x="103.6" y="149.70000000000002" font-size="5.9" font-style="italic">i</text>
<text x="108.4" y="148.3" font-size="8.5">(<tspan font-style="italic">t</tspan>)</text>
<text x="120.2" y="148.3" font-size="8.5">−</text>
<text x="127.6" y="148.3" font-size="8.5" font-style="italic" textLength="6.2" lengthAdjust="spacingAndGlyphs">V</text>
<text x="132.8" y="149.70000000000002" font-size="5.9" font-style="italic" textLength="12.9" class="sm">mean</text>
<text x="149.2" y="148.3" font-size="8.5">(<tspan font-style="italic">t</tspan>))</text>
<text x="159.9" y="145.0" font-size="5.9" class="sm">2</text>
<path d="M173.2 158.4 L182.8 132.8" stroke="#1a1a1a" stroke-width="0.9" fill="none"/>
<text x="185.9" y="148.4" font-size="8.5" font-style="italic" textLength="5.3" lengthAdjust="spacingAndGlyphs">K</text>
</g>
<rect x="41.6" y="191.6" width="120.0" height="95" fill="#fff" stroke="#c4c4c4" stroke-width="0.5"/>
<line x1="41.6" y1="286.6" x2="41.6" y2="285.6" stroke="#bbb" stroke-width="0.4"/>
<line x1="41.6" y1="191.6" x2="41.6" y2="192.6" stroke="#bbb" stroke-width="0.4"/>
<text x="41.6" y="290.3" class="tkC" text-anchor="middle">0</text>
<line x1="53.6" y1="286.6" x2="53.6" y2="285.6" stroke="#bbb" stroke-width="0.4"/>
<line x1="53.6" y1="191.6" x2="53.6" y2="192.6" stroke="#bbb" stroke-width="0.4"/>
<text x="53.6" y="290.3" class="tkC" text-anchor="middle">50</text>
<line x1="65.6" y1="286.6" x2="65.6" y2="285.6" stroke="#bbb" stroke-width="0.4"/>
<line x1="65.6" y1="191.6" x2="65.6" y2="192.6" stroke="#bbb" stroke-width="0.4"/>
<text x="65.6" y="290.3" class="tkC" text-anchor="middle">100</text>
<line x1="77.6" y1="286.6" x2="77.6" y2="285.6" stroke="#bbb" stroke-width="0.4"/>
<line x1="77.6" y1="191.6" x2="77.6" y2="192.6" stroke="#bbb" stroke-width="0.4"/>
<text x="77.6" y="290.3" class="tkC" text-anchor="middle">150</text>
<line x1="89.6" y1="286.6" x2="89.6" y2="285.6" stroke="#bbb" stroke-width="0.4"/>
<line x1="89.6" y1="191.6" x2="89.6" y2="192.6" stroke="#bbb" stroke-width="0.4"/>
<text x="89.6" y="290.3" class="tkC" text-anchor="middle">200</text>
<line x1="101.6" y1="286.6" x2="101.6" y2="285.6" stroke="#bbb" stroke-width="0.4"/>
<line x1="101.6" y1="191.6" x2="101.6" y2="192.6" stroke="#bbb" stroke-width="0.4"/>
<text x="101.6" y="290.3" class="tkC" text-anchor="middle">250</text>
<line x1="113.6" y1="286.6" x2="113.6" y2="285.6" stroke="#bbb" stroke-width="0.4"/>
<line x1="113.6" y1="191.6" x2="113.6" y2="192.6" stroke="#bbb" stroke-width="0.4"/>
<text x="113.6" y="290.3" class="tkC" text-anchor="middle">300</text>
<line x1="125.6" y1="286.6" x2="125.6" y2="285.6" stroke="#bbb" stroke-width="0.4"/>
<line x1="125.6" y1="191.6" x2="125.6" y2="192.6" stroke="#bbb" stroke-width="0.4"/>
<text x="125.6" y="290.3" class="tkC" text-anchor="middle">350</text>
<line x1="137.6" y1="286.6" x2="137.6" y2="285.6" stroke="#bbb" stroke-width="0.4"/>
<line x1="137.6" y1="191.6" x2="137.6" y2="192.6" stroke="#bbb" stroke-width="0.4"/>
<text x="137.6" y="290.3" class="tkC" text-anchor="middle">400</text>
<line x1="149.6" y1="286.6" x2="149.6" y2="285.6" stroke="#bbb" stroke-width="0.4"/>
<line x1="149.6" y1="191.6" x2="149.6" y2="192.6" stroke="#bbb" stroke-width="0.4"/>
<text x="149.6" y="290.3" class="tkC" text-anchor="middle">450</text>
<line x1="161.6" y1="286.6" x2="161.6" y2="285.6" stroke="#bbb" stroke-width="0.4"/>
<line x1="161.6" y1="191.6" x2="161.6" y2="192.6" stroke="#bbb" stroke-width="0.4"/>
<text x="161.6" y="290.3" class="tkC" text-anchor="middle">500</text>
<line x1="41.6" y1="286.6" x2="42.6" y2="286.6" stroke="#bbb" stroke-width="0.4"/>
<line x1="161.6" y1="286.6" x2="160.6" y2="286.6" stroke="#bbb" stroke-width="0.4"/>
<text x="40.0" y="287.5" class="tkC" text-anchor="end">0</text>
<line x1="41.6" y1="274.73" x2="42.6" y2="274.73" stroke="#bbb" stroke-width="0.4"/>
<line x1="161.6" y1="274.73" x2="160.6" y2="274.73" stroke="#bbb" stroke-width="0.4"/>
<text x="40.0" y="275.62" class="tkC" text-anchor="end">100</text>
<line x1="41.6" y1="262.85" x2="42.6" y2="262.85" stroke="#bbb" stroke-width="0.4"/>
<line x1="161.6" y1="262.85" x2="160.6" y2="262.85" stroke="#bbb" stroke-width="0.4"/>
<text x="40.0" y="263.75" class="tkC" text-anchor="end">200</text>
<line x1="41.6" y1="250.98" x2="42.6" y2="250.98" stroke="#bbb" stroke-width="0.4"/>
<line x1="161.6" y1="250.98" x2="160.6" y2="250.98" stroke="#bbb" stroke-width="0.4"/>
<text x="40.0" y="251.88" class="tkC" text-anchor="end">300</text>
<line x1="41.6" y1="239.1" x2="42.6" y2="239.1" stroke="#bbb" stroke-width="0.4"/>
<line x1="161.6" y1="239.1" x2="160.6" y2="239.1" stroke="#bbb" stroke-width="0.4"/>
<text x="40.0" y="240" class="tkC" text-anchor="end">400</text>
<line x1="41.6" y1="227.22" x2="42.6" y2="227.22" stroke="#bbb" stroke-width="0.4"/>
<line x1="161.6" y1="227.22" x2="160.6" y2="227.22" stroke="#bbb" stroke-width="0.4"/>
<text x="40.0" y="228.12" class="tkC" text-anchor="end">500</text>
<line x1="41.6" y1="215.35" x2="42.6" y2="215.35" stroke="#bbb" stroke-width="0.4"/>
<line x1="161.6" y1="215.35" x2="160.6" y2="215.35" stroke="#bbb" stroke-width="0.4"/>
<text x="40.0" y="216.25" class="tkC" text-anchor="end">600</text>
<line x1="41.6" y1="203.48" x2="42.6" y2="203.48" stroke="#bbb" stroke-width="0.4"/>
<line x1="161.6" y1="203.48" x2="160.6" y2="203.48" stroke="#bbb" stroke-width="0.4"/>
<text x="40.0" y="204.38" class="tkC" text-anchor="end">700</text>
<line x1="41.6" y1="191.6" x2="42.6" y2="191.6" stroke="#bbb" stroke-width="0.4"/>
<line x1="161.6" y1="191.6" x2="160.6" y2="191.6" stroke="#bbb" stroke-width="0.4"/>
<text x="40.0" y="192.5" class="tkC" text-anchor="end">800</text>
<polyline points="41.9,276.2 42.4,265.6 42.8,273.9 43.3,272.9 43.7,276.6 44.2,273 44.7,275.6 45.1,267.6 45.6,267.1 46.1,254.2 46.5,259.4 47,255 47.4,260.6 47.9,264.1 48.4,273.9 48.8,266.2 49.3,264 49.8,258 50.2,265.1 50.7,269.8 51.1,273 51.6,265.1 52.1,265.7 52.5,259.9 53,264.7 53.5,266.3 53.9,274.2 54.4,271 54.8,274.1 55.3,272.2 55.8,277.6 56.2,275.9 56.4,276.8 56.7,278.5 57.2,275.1 57.6,276.4 58.1,274.4 58.5,278.5 59,268.5 59.5,268.6 59.9,257.8 60.4,257.7 60.8,254.5 61.3,262.4 61.8,264.2 62.2,271.2 62.7,268.4 63.2,269.1 63.6,263.2 64.1,269 64.5,269.6 65,276.2 65.5,271.9 65.9,273.9 66.4,269.5 66.9,269.8 67.3,266.8 67.8,270.3 68.2,265.1 68.7,273.7 69.2,272.1 69.6,275.9 70.1,269.6 70.6,269.7 71,263.3 71.5,267.6 71.9,262.5 72.4,268.2 72.9,265.6 73.3,275.2 73.8,269.1 74.3,267.4 74.7,261.6 75.2,263.2 75.6,256.2 76.1,259.2 76.6,255.3 77,260.5 77.5,256.7 77.9,257.2 78.4,258.2 78.9,272.2 79.3,266.5 79.8,266.7 80.3,259 80.7,261.6 81.2,262.4 81.6,269 82.1,268.4 82.6,270.8 83,258.2 83.5,260.3 84,263 84.4,269.2 84.9,272.3 85.3,276.5 85.8,265.5 86.3,265.6 86.7,259.8 87.2,263.7 87.7,260.8 88.1,261.4 88.6,263.8 89,268.8 89.5,270.1 90,276 90.4,271.7 90.9,270.2 91.4,266.6 91.8,266.3 92.3,258.6 92.7,267.5 93.2,259.9 93.7,267.6 94.1,264.9 94.6,270.4 95,271 95.5,277.9 96,268.2 96.4,271.8 96.9,265.9 97.4,273.5 97.8,271.7 98.3,276 98.5,276.8 98.7,274.4 99.2,278.5 99.7,272.1 100.1,273 100.6,270 101.1,273.6 101.5,266.9 102,272.9 102.4,269.8 102.9,275.5 103.4,272.1 103.8,275.2 104.3,267.9 104.8,265.2 105.2,258.4 105.7,261.3 106.1,263.2 106.6,270.2 107.1,266.1 107.5,272.2 108,260.7 108.5,251.1 108.6,246.6 108.9,231.2 109.4,207.5 109.5,199.9 109.8,217.8 110.3,243.4 110.4,246.6 110.8,251.5 111.2,257.5 111.7,254.8 112.1,254.4 112.6,259 113.1,272.1 113.4,276.8 113.5,273.7 114,266.5 114.5,256.9 114.9,256.5 115.4,250.3 115.6,249.8 115.8,256.3 116.3,260.2 116.8,259.2 117.2,251.7 117.7,258.4 118.2,257.2 118.6,269.4 119.1,257.5 119.5,255.6 120,251.3 120.5,255.9 120.9,253.7 121.4,257.6 121.9,250.2 122.3,249.7 122.5,244.4 122.8,246.9 123.2,252.6 123.7,244.4 124.2,239.3 124.4,233.6 124.6,232.1 125.1,247 125.6,245.1 126,245 126.3,241.2 126.5,243.2 126.9,255.3 127.4,264 127.9,271.2 128.3,265.5 128.8,262.9 129.2,255.4 129.7,256.9 130.2,249 130.6,246.8 131.1,236.5 131.5,232.6 131.6,234.8 132,240.1 132.5,252.2 132.9,254.5 133.4,262.4 133.9,259.4 134.3,262.3 134.8,258.3 135.3,262.5 135.7,264.5 136.2,268.2 136.6,260.3 137.1,263.9 137.6,261.5 138,266.9 138.5,267.9 139,272.7 139.4,272.6 139.9,277.3 140,276.8 140.3,273.1 140.8,271.8 141.3,268.3 141.7,268.6 142.2,269.8 142.7,274.2 143.1,273.9 143.6,276.8 144,268 144.5,267.8 145,265.5 145.4,274.1 145.9,268.7 146.3,271.8 146.8,269.5 147.3,270.5 147.7,263.9 148.2,262 148.7,252.5 149.1,259 149.6,262.6 150,267.8 150.5,263.6 151,265.9 151.4,260.7 151.9,263.6 152.4,261.7 152.8,265.7 153.3,265.2 153.7,268.6 154.2,262.2 154.7,265.7 155.1,264.6 155.6,269.6 156.1,262.2 156.5,264.2 157,259.6 157.4,266 157.9,270.5 158.4,278.5 158.8,267.5 159.3,263.7 159.8,253.5 160,248.8 160.2,255.7 160.7,266.6 160.9,276.8 161.1,278.5 161.6,274.4" fill="none" stroke="#2f82c0" stroke-width="0.45" stroke-linejoin="round" stroke-opacity="0.9"/>
<path d="M247.7 122.4 H344.7" fill="none" stroke="#b4b4b4" stroke-width="0.7"/>
<path d="M247.7 23.9 V122.4" fill="none" stroke="#8e8e8e" stroke-width="0.85"/>
<text x="245.5" y="112.9" class="tkD" text-anchor="end">10</text>
<text x="257.4" y="125.0" class="tkD" text-anchor="middle">10</text>
<text x="245.5" y="103.2" class="tkD" text-anchor="end">20</text>
<text x="267.1" y="125.0" class="tkD" text-anchor="middle">20</text>
<text x="245.5" y="93.5" class="tkD" text-anchor="end">30</text>
<text x="276.8" y="125.0" class="tkD" text-anchor="middle">30</text>
<text x="245.5" y="83.8" class="tkD" text-anchor="end">40</text>
<text x="286.5" y="125.0" class="tkD" text-anchor="middle">40</text>
<text x="245.5" y="74.1" class="tkD" text-anchor="end">50</text>
<text x="296.2" y="125.0" class="tkD" text-anchor="middle">50</text>
<text x="245.5" y="64.4" class="tkD" text-anchor="end">60</text>
<text x="305.9" y="125.0" class="tkD" text-anchor="middle">60</text>
<text x="245.5" y="54.7" class="tkD" text-anchor="end">70</text>
<text x="315.6" y="125.0" class="tkD" text-anchor="middle">70</text>
<text x="245.5" y="45" class="tkD" text-anchor="end">80</text>
<text x="325.3" y="125.0" class="tkD" text-anchor="middle">80</text>
<text x="245.5" y="35.3" class="tkD" text-anchor="end">90</text>
<text x="335" y="125.0" class="tkD" text-anchor="middle">90</text>
<text x="245.5" y="25.6" class="tkD" text-anchor="end">100</text>
<text x="344.7" y="125.0" class="tkD" text-anchor="middle">100</text>
<path d="M261.5 43.5h1.2v1.2h-1.2zM266.2 36.8h1.2v1.2h-1.2zM260.2 36.7h1.2v1.2h-1.2zM263.6 38.4h1.2v1.2h-1.2zM264.3 31.9h1.2v1.2h-1.2zM267.5 38.3h1.2v1.2h-1.2zM264.1 38.1h1.2v1.2h-1.2zM259.9 40.3h1.2v1.2h-1.2zM264.6 37.9h1.2v1.2h-1.2zM260.8 41.1h1.2v1.2h-1.2zM258 33.1h1.2v1.2h-1.2zM262.9 36.2h1.2v1.2h-1.2zM253.9 35.7h1.2v1.2h-1.2zM259.6 34.3h1.2v1.2h-1.2zM255.6 38.7h1.2v1.2h-1.2zM264.9 37.8h1.2v1.2h-1.2zM258.5 40h1.2v1.2h-1.2zM264.2 37.5h1.2v1.2h-1.2zM263.5 42.4h1.2v1.2h-1.2zM260.6 35.7h1.2v1.2h-1.2zM262.8 39.5h1.2v1.2h-1.2zM265.7 34h1.2v1.2h-1.2zM258.8 35.6h1.2v1.2h-1.2zM254.6 39.1h1.2v1.2h-1.2zM263.5 35.9h1.2v1.2h-1.2zM266.8 41.6h1.2v1.2h-1.2zM263.8 40h1.2v1.2h-1.2zM265.1 33.8h1.2v1.2h-1.2zM263.8 40.8h1.2v1.2h-1.2zM254.5 39.8h1.2v1.2h-1.2zM260.4 41.4h1.2v1.2h-1.2zM259.7 38.5h1.2v1.2h-1.2zM262.7 35.4h1.2v1.2h-1.2zM263.7 38.2h1.2v1.2h-1.2zM263.3 36.7h1.2v1.2h-1.2zM265.6 40.8h1.2v1.2h-1.2zM260.7 40.9h1.2v1.2h-1.2zM266.3 45h1.2v1.2h-1.2zM255.3 41.8h1.2v1.2h-1.2zM263.2 38.3h1.2v1.2h-1.2zM257.5 43.1h1.2v1.2h-1.2zM256.5 40.6h1.2v1.2h-1.2zM266.5 32.8h1.2v1.2h-1.2zM260.2 33.9h1.2v1.2h-1.2zM262.4 44.1h1.2v1.2h-1.2zM259.2 41.1h1.2v1.2h-1.2zM267.6 40.1h1.2v1.2h-1.2zM258.5 39.7h1.2v1.2h-1.2zM261.3 37.9h1.2v1.2h-1.2zM258.5 40h1.2v1.2h-1.2zM262.6 38.3h1.2v1.2h-1.2zM260.5 34h1.2v1.2h-1.2zM259.5 42.9h1.2v1.2h-1.2zM260.7 33.4h1.2v1.2h-1.2zM266.6 40.5h1.2v1.2h-1.2zM269.6 38.8h1.2v1.2h-1.2zM259.6 33.4h1.2v1.2h-1.2zM258.2 36.3h1.2v1.2h-1.2zM263.7 35.6h1.2v1.2h-1.2zM260.3 37.3h1.2v1.2h-1.2zM262.1 42.5h1.2v1.2h-1.2zM261.5 41.9h1.2v1.2h-1.2zM259.8 39.8h1.2v1.2h-1.2zM264.5 36.5h1.2v1.2h-1.2zM263.7 40.6h1.2v1.2h-1.2zM266.6 41.5h1.2v1.2h-1.2zM265.4 38.2h1.2v1.2h-1.2zM258.7 36h1.2v1.2h-1.2zM259.5 34.5h1.2v1.2h-1.2zM259.3 38.3h1.2v1.2h-1.2zM262.4 37.4h1.2v1.2h-1.2zM253.9 38.3h1.2v1.2h-1.2zM262.3 42.5h1.2v1.2h-1.2zM263.7 36.3h1.2v1.2h-1.2zM258.6 45.8h1.2v1.2h-1.2zM264.4 45.2h1.2v1.2h-1.2zM262.9 40.2h1.2v1.2h-1.2zM263.6 40.6h1.2v1.2h-1.2zM262.2 39.2h1.2v1.2h-1.2zM255.5 38h1.2v1.2h-1.2zM258.5 39.1h1.2v1.2h-1.2zM259.6 40.8h1.2v1.2h-1.2zM264.6 39.7h1.2v1.2h-1.2zM262.6 38.9h1.2v1.2h-1.2zM259.7 38h1.2v1.2h-1.2zM259.5 40h1.2v1.2h-1.2zM261.5 40.7h1.2v1.2h-1.2zM256.2 41.8h1.2v1.2h-1.2zM258.4 36h1.2v1.2h-1.2zM260.6 36.6h1.2v1.2h-1.2zM262.5 36.5h1.2v1.2h-1.2zM257.2 35.6h1.2v1.2h-1.2zM266.5 38.8h1.2v1.2h-1.2zM256.8 38.6h1.2v1.2h-1.2zM255.5 40.3h1.2v1.2h-1.2zM263.5 33.4h1.2v1.2h-1.2zM262.6 42.2h1.2v1.2h-1.2zM263.2 39.5h1.2v1.2h-1.2zM265.1 39.2h1.2v1.2h-1.2zM262.7 38.1h1.2v1.2h-1.2z" fill="#e01e1a" fill-opacity="0.9"/>
<path d="M265.5 33.4h1.2v1.2h-1.2zM266.5 35.8h1.2v1.2h-1.2zM254.3 40.6h1.2v1.2h-1.2zM272.4 43.9h1.2v1.2h-1.2zM258 42.4h1.2v1.2h-1.2zM258.4 37.9h1.2v1.2h-1.2zM262.6 32.9h1.2v1.2h-1.2zM256.9 30.5h1.2v1.2h-1.2zM251.5 33.4h1.2v1.2h-1.2zM266.8 47.8h1.2v1.2h-1.2z" fill="#e01e1a" fill-opacity="0.9"/>
<path d="M280.6 26.2h1.1v1.1h-1.1zM280.8 46.1h1.1v1.1h-1.1zM288.6 40.5h1.1v1.1h-1.1zM252.9 69.8h1.1v1.1h-1.1zM254.4 71.8h1.1v1.1h-1.1zM277.9 64.5h1.1v1.1h-1.1zM318.9 34h1.1v1.1h-1.1zM250.9 35.5h1.1v1.1h-1.1z" fill="#e01e1a" fill-opacity="0.8"/>
<path d="M307.4 58.3h1.2v1.2h-1.2zM314.5 59.9h1.2v1.2h-1.2zM303.6 63.8h1.2v1.2h-1.2zM308.8 57.4h1.2v1.2h-1.2zM316.6 60.2h1.2v1.2h-1.2zM316.9 52h1.2v1.2h-1.2zM303.9 65.1h1.2v1.2h-1.2zM315.9 55.8h1.2v1.2h-1.2zM310 52.7h1.2v1.2h-1.2zM314.4 64.3h1.2v1.2h-1.2zM317.1 62.4h1.2v1.2h-1.2zM313.6 49.9h1.2v1.2h-1.2zM306.9 59.4h1.2v1.2h-1.2zM317.7 53.3h1.2v1.2h-1.2zM317.6 56.9h1.2v1.2h-1.2zM307.3 53.3h1.2v1.2h-1.2zM312.3 63.1h1.2v1.2h-1.2zM309.1 53.1h1.2v1.2h-1.2zM307.6 52.1h1.2v1.2h-1.2zM300.8 61.3h1.2v1.2h-1.2zM313.6 64.1h1.2v1.2h-1.2zM315.3 66.2h1.2v1.2h-1.2zM304.4 58.8h1.2v1.2h-1.2zM313.9 64.8h1.2v1.2h-1.2zM307.2 60.4h1.2v1.2h-1.2zM316.2 59.6h1.2v1.2h-1.2zM303.9 55h1.2v1.2h-1.2zM317.8 53.1h1.2v1.2h-1.2zM318.3 55.1h1.2v1.2h-1.2zM302.9 59.4h1.2v1.2h-1.2zM305 62h1.2v1.2h-1.2zM318.7 60.6h1.2v1.2h-1.2zM310.1 60h1.2v1.2h-1.2zM301.8 60.1h1.2v1.2h-1.2zM304.5 60.6h1.2v1.2h-1.2zM307.9 55.2h1.2v1.2h-1.2zM317.8 58.9h1.2v1.2h-1.2zM301 56.7h1.2v1.2h-1.2zM302.4 62.6h1.2v1.2h-1.2zM311.7 58.6h1.2v1.2h-1.2zM306.2 55.8h1.2v1.2h-1.2zM313.4 59.8h1.2v1.2h-1.2zM306 62.3h1.2v1.2h-1.2zM301.4 54.9h1.2v1.2h-1.2zM307.2 61.4h1.2v1.2h-1.2zM309.7 58.2h1.2v1.2h-1.2zM305.9 61.9h1.2v1.2h-1.2zM308.4 59.8h1.2v1.2h-1.2zM302.7 55.9h1.2v1.2h-1.2zM310.1 49.1h1.2v1.2h-1.2zM305.1 64.5h1.2v1.2h-1.2zM305.8 60h1.2v1.2h-1.2zM316.7 53.1h1.2v1.2h-1.2zM318.6 55.4h1.2v1.2h-1.2zM313.2 56.7h1.2v1.2h-1.2zM314.5 58.8h1.2v1.2h-1.2zM303 62.5h1.2v1.2h-1.2zM303.5 61h1.2v1.2h-1.2zM310.3 55.9h1.2v1.2h-1.2zM309.1 56.5h1.2v1.2h-1.2zM310.2 66.5h1.2v1.2h-1.2zM307.5 52.9h1.2v1.2h-1.2zM307.6 66.7h1.2v1.2h-1.2zM309.8 60.1h1.2v1.2h-1.2zM310.1 59.8h1.2v1.2h-1.2zM311.4 55.3h1.2v1.2h-1.2zM314.7 57.7h1.2v1.2h-1.2zM307.5 65.2h1.2v1.2h-1.2zM307.9 63.9h1.2v1.2h-1.2zM315 62h1.2v1.2h-1.2zM314.8 59.1h1.2v1.2h-1.2zM314.6 55.7h1.2v1.2h-1.2zM309 66.2h1.2v1.2h-1.2zM314.1 54.9h1.2v1.2h-1.2zM304.1 64h1.2v1.2h-1.2zM312.2 51.2h1.2v1.2h-1.2zM311.9 62h1.2v1.2h-1.2zM310.5 50.4h1.2v1.2h-1.2zM317.1 53.3h1.2v1.2h-1.2zM306.9 60h1.2v1.2h-1.2zM316.5 53.4h1.2v1.2h-1.2zM302.8 54.8h1.2v1.2h-1.2zM305.7 62.1h1.2v1.2h-1.2zM303.9 55.4h1.2v1.2h-1.2zM307.6 49.5h1.2v1.2h-1.2z" fill="#2323cc" fill-opacity="0.9"/>
<path d="M308 59.9h1.2v1.2h-1.2zM316.7 59.8h1.2v1.2h-1.2zM311.9 59.9h1.2v1.2h-1.2zM306.9 60.6h1.2v1.2h-1.2zM309.2 55.2h1.2v1.2h-1.2zM309.9 57.5h1.2v1.2h-1.2zM313.3 58.2h1.2v1.2h-1.2zM307.9 64.2h1.2v1.2h-1.2zM314.3 63.5h1.2v1.2h-1.2zM312.7 58h1.2v1.2h-1.2zM308.3 57.3h1.2v1.2h-1.2zM314.1 58.8h1.2v1.2h-1.2zM303.9 58.2h1.2v1.2h-1.2zM304.2 59.1h1.2v1.2h-1.2zM305 53.3h1.2v1.2h-1.2zM310.6 58.1h1.2v1.2h-1.2zM303.1 61.4h1.2v1.2h-1.2zM317.7 55.6h1.2v1.2h-1.2zM308 57.7h1.2v1.2h-1.2zM304 63.6h1.2v1.2h-1.2zM312.2 55.4h1.2v1.2h-1.2zM308.9 52.3h1.2v1.2h-1.2zM308.6 62.1h1.2v1.2h-1.2zM302.9 56.7h1.2v1.2h-1.2zM310.7 62.6h1.2v1.2h-1.2zM315.8 56.6h1.2v1.2h-1.2zM307 60.2h1.2v1.2h-1.2zM308.6 57.2h1.2v1.2h-1.2zM314.6 65.2h1.2v1.2h-1.2zM311.2 57.6h1.2v1.2h-1.2zM312.5 50.8h1.2v1.2h-1.2zM310 54.2h1.2v1.2h-1.2zM310.7 57.6h1.2v1.2h-1.2zM316.9 55.5h1.2v1.2h-1.2zM313 61.3h1.2v1.2h-1.2zM303.6 62.1h1.2v1.2h-1.2zM315.8 59.3h1.2v1.2h-1.2zM309.8 61.6h1.2v1.2h-1.2zM303.6 58.8h1.2v1.2h-1.2zM314.5 53.4h1.2v1.2h-1.2zM314.3 56.7h1.2v1.2h-1.2zM301.4 58h1.2v1.2h-1.2zM306 59.7h1.2v1.2h-1.2zM305.2 62.6h1.2v1.2h-1.2zM307 59.8h1.2v1.2h-1.2zM307.6 57.1h1.2v1.2h-1.2zM315.1 59.3h1.2v1.2h-1.2zM308.4 53.4h1.2v1.2h-1.2zM315 61.3h1.2v1.2h-1.2zM308.7 59.4h1.2v1.2h-1.2zM305.8 54.3h1.2v1.2h-1.2zM306.6 59.8h1.2v1.2h-1.2zM311.3 55.4h1.2v1.2h-1.2zM313.2 61.5h1.2v1.2h-1.2zM310.8 62.6h1.2v1.2h-1.2zM308.9 57.9h1.2v1.2h-1.2zM312.1 58.3h1.2v1.2h-1.2zM313.4 53.4h1.2v1.2h-1.2zM316.1 55.3h1.2v1.2h-1.2zM309.4 52.9h1.2v1.2h-1.2zM312.6 63.5h1.2v1.2h-1.2zM314.6 61.7h1.2v1.2h-1.2zM303.6 55.3h1.2v1.2h-1.2zM308.2 54.7h1.2v1.2h-1.2zM314.8 59.1h1.2v1.2h-1.2z" fill="#2323cc" fill-opacity="0.9"/>
<path d="M308.7 67.7h1.2v1.2h-1.2zM309.8 75.1h1.2v1.2h-1.2zM308.3 69.8h1.2v1.2h-1.2zM316.9 74.1h1.2v1.2h-1.2zM302.9 75.6h1.2v1.2h-1.2zM301.6 61.5h1.2v1.2h-1.2zM315.8 69.2h1.2v1.2h-1.2zM316 66.3h1.2v1.2h-1.2zM296.6 70.2h1.2v1.2h-1.2zM308.3 66.3h1.2v1.2h-1.2zM304.5 71.7h1.2v1.2h-1.2zM302.3 61.6h1.2v1.2h-1.2zM308.8 62.6h1.2v1.2h-1.2zM293.4 64.9h1.2v1.2h-1.2zM298.5 69.9h1.2v1.2h-1.2zM315.3 74.7h1.2v1.2h-1.2zM306.6 79.9h1.2v1.2h-1.2zM301.1 71.6h1.2v1.2h-1.2zM292.5 68.9h1.2v1.2h-1.2zM309.7 73.7h1.2v1.2h-1.2zM299.1 76.9h1.2v1.2h-1.2zM300.6 67.5h1.2v1.2h-1.2zM307.5 70.3h1.2v1.2h-1.2zM308.6 73.5h1.2v1.2h-1.2zM303.6 75.4h1.2v1.2h-1.2zM308.9 73.5h1.2v1.2h-1.2zM304.2 78.2h1.2v1.2h-1.2zM296.6 66.6h1.2v1.2h-1.2zM304.8 74.1h1.2v1.2h-1.2zM301.9 75.5h1.2v1.2h-1.2zM300.9 67h1.2v1.2h-1.2zM306.5 72h1.2v1.2h-1.2zM293.5 73.8h1.2v1.2h-1.2zM300.5 68.8h1.2v1.2h-1.2zM291.9 68.4h1.2v1.2h-1.2zM306.8 69.4h1.2v1.2h-1.2zM306.4 78.5h1.2v1.2h-1.2zM287.9 67.5h1.2v1.2h-1.2zM314.5 70.3h1.2v1.2h-1.2zM303.1 63.1h1.2v1.2h-1.2zM310.7 77.2h1.2v1.2h-1.2zM299.1 77h1.2v1.2h-1.2zM303.2 72.2h1.2v1.2h-1.2zM310.6 64.7h1.2v1.2h-1.2zM302.5 66h1.2v1.2h-1.2z" fill="#2323cc" fill-opacity="0.9"/>
<path d="M319.8 34.5h1.1v1.1h-1.1zM330.8 60.2h1.1v1.1h-1.1zM330.8 64h1.1v1.1h-1.1zM336.1 70.2h1.1v1.1h-1.1zM343.4 77.5h1.1v1.1h-1.1zM317.4 82h1.1v1.1h-1.1zM296.4 61.5h1.1v1.1h-1.1zM324.4 65.5h1.1v1.1h-1.1z" fill="#2323cc" fill-opacity="0.85"/>
<path d="M285.6 101.7h1.15v1.15h-1.15zM275.6 84.3h1.15v1.15h-1.15zM293.9 116.1h1.15v1.15h-1.15zM309.3 109h1.15v1.15h-1.15zM310.7 107.7h1.15v1.15h-1.15zM280.1 93.4h1.15v1.15h-1.15zM282.1 112.7h1.15v1.15h-1.15zM278.3 98.7h1.15v1.15h-1.15zM306.3 104.9h1.15v1.15h-1.15zM277.8 112.3h1.15v1.15h-1.15zM304.3 89.3h1.15v1.15h-1.15zM292.1 115.9h1.15v1.15h-1.15zM286.3 118h1.15v1.15h-1.15zM280.2 111.7h1.15v1.15h-1.15zM292.1 86.7h1.15v1.15h-1.15zM305.7 87.1h1.15v1.15h-1.15zM300.1 100.2h1.15v1.15h-1.15zM274.9 102.4h1.15v1.15h-1.15zM292.1 117.8h1.15v1.15h-1.15zM292.7 118h1.15v1.15h-1.15zM309 99.4h1.15v1.15h-1.15zM305.2 109.9h1.15v1.15h-1.15zM285.4 108.6h1.15v1.15h-1.15zM307.7 82.9h1.15v1.15h-1.15zM282.1 88.1h1.15v1.15h-1.15zM302.2 81.7h1.15v1.15h-1.15zM281.8 87.1h1.15v1.15h-1.15zM293.2 118.8h1.15v1.15h-1.15zM298.6 111.9h1.15v1.15h-1.15zM305.4 89.3h1.15v1.15h-1.15zM303.2 81.4h1.15v1.15h-1.15zM298.7 110.7h1.15v1.15h-1.15zM315.1 105.6h1.15v1.15h-1.15zM294.8 93.1h1.15v1.15h-1.15zM287.9 116h1.15v1.15h-1.15zM301.5 113h1.15v1.15h-1.15zM302.4 80.6h1.15v1.15h-1.15zM313.9 112.2h1.15v1.15h-1.15zM295 79.6h1.15v1.15h-1.15zM285.2 112.2h1.15v1.15h-1.15zM288.2 101.9h1.15v1.15h-1.15zM299.6 100.3h1.15v1.15h-1.15zM301.8 106.9h1.15v1.15h-1.15zM281.9 83.8h1.15v1.15h-1.15zM274.8 85.7h1.15v1.15h-1.15zM309.3 105h1.15v1.15h-1.15zM310.8 104h1.15v1.15h-1.15zM301.5 99.7h1.15v1.15h-1.15zM308.8 105.7h1.15v1.15h-1.15zM296.6 84.8h1.15v1.15h-1.15zM294.8 85.8h1.15v1.15h-1.15zM291.1 112.3h1.15v1.15h-1.15zM311.5 103.9h1.15v1.15h-1.15zM274.2 86.5h1.15v1.15h-1.15zM318.1 104h1.15v1.15h-1.15zM276.8 89.5h1.15v1.15h-1.15zM319.5 103.7h1.15v1.15h-1.15zM292 113.7h1.15v1.15h-1.15zM270.4 91.7h1.15v1.15h-1.15zM273.8 83.3h1.15v1.15h-1.15zM297.9 115.5h1.15v1.15h-1.15zM278.3 89.3h1.15v1.15h-1.15zM281.5 84.7h1.15v1.15h-1.15zM284.2 112.7h1.15v1.15h-1.15zM311.6 104.9h1.15v1.15h-1.15zM283.5 100h1.15v1.15h-1.15zM275.3 89.1h1.15v1.15h-1.15zM305.8 105.8h1.15v1.15h-1.15zM314.7 103.7h1.15v1.15h-1.15zM306.7 102.3h1.15v1.15h-1.15zM278.2 101.9h1.15v1.15h-1.15zM321.1 101.5h1.15v1.15h-1.15zM298.1 114.7h1.15v1.15h-1.15zM299 114.4h1.15v1.15h-1.15zM286.3 107.3h1.15v1.15h-1.15zM275 99.7h1.15v1.15h-1.15zM277.2 85.9h1.15v1.15h-1.15zM294.5 103.8h1.15v1.15h-1.15zM295.1 110.1h1.15v1.15h-1.15zM281.9 87.7h1.15v1.15h-1.15zM292.2 103.6h1.15v1.15h-1.15zM288.1 92.6h1.15v1.15h-1.15zM273.1 94.9h1.15v1.15h-1.15zM287.7 90.5h1.15v1.15h-1.15zM279.2 114.5h1.15v1.15h-1.15zM314.1 107.2h1.15v1.15h-1.15zM275.9 103.9h1.15v1.15h-1.15zM288 101.9h1.15v1.15h-1.15zM293.5 96.2h1.15v1.15h-1.15zM281.5 108.9h1.15v1.15h-1.15zM269.1 93h1.15v1.15h-1.15zM309.6 100.3h1.15v1.15h-1.15zM275.4 108.2h1.15v1.15h-1.15zM293.2 82.1h1.15v1.15h-1.15zM317.1 98.3h1.15v1.15h-1.15zM287.7 101.3h1.15v1.15h-1.15zM283.2 85.7h1.15v1.15h-1.15zM290.6 108.1h1.15v1.15h-1.15zM282.1 95.4h1.15v1.15h-1.15zM274.9 110.8h1.15v1.15h-1.15zM282 98.5h1.15v1.15h-1.15zM269.8 94h1.15v1.15h-1.15zM287.9 83.3h1.15v1.15h-1.15zM309.1 112.8h1.15v1.15h-1.15zM277.8 80h1.15v1.15h-1.15zM284.5 116.4h1.15v1.15h-1.15zM300.6 118.9h1.15v1.15h-1.15zM301.3 96.8h1.15v1.15h-1.15zM283.2 117.4h1.15v1.15h-1.15zM317.1 93.2h1.15v1.15h-1.15zM296.9 98.3h1.15v1.15h-1.15zM295.6 119.3h1.15v1.15h-1.15zM301.4 82.8h1.15v1.15h-1.15zM287.6 117.4h1.15v1.15h-1.15zM293.5 110h1.15v1.15h-1.15zM305.8 99.5h1.15v1.15h-1.15zM291.5 95.8h1.15v1.15h-1.15zM284.8 94.2h1.15v1.15h-1.15zM295.3 88.7h1.15v1.15h-1.15zM299.2 108.4h1.15v1.15h-1.15zM274.4 86.7h1.15v1.15h-1.15zM287.1 81.5h1.15v1.15h-1.15zM289.1 105.1h1.15v1.15h-1.15zM306.7 85.8h1.15v1.15h-1.15zM291.3 92.1h1.15v1.15h-1.15zM289.9 102.5h1.15v1.15h-1.15zM281.3 112.5h1.15v1.15h-1.15zM283.3 112.9h1.15v1.15h-1.15zM307.4 106.9h1.15v1.15h-1.15zM279.2 105.7h1.15v1.15h-1.15zM298.5 116h1.15v1.15h-1.15zM313.9 100h1.15v1.15h-1.15zM284 111.4h1.15v1.15h-1.15zM315.4 106.7h1.15v1.15h-1.15zM272.7 108.1h1.15v1.15h-1.15zM312.8 98.7h1.15v1.15h-1.15zM270.9 98.7h1.15v1.15h-1.15zM295.9 87.1h1.15v1.15h-1.15zM287.2 115.4h1.15v1.15h-1.15zM283.3 102.6h1.15v1.15h-1.15zM317.9 88h1.15v1.15h-1.15zM283.1 110.4h1.15v1.15h-1.15zM306.8 92.3h1.15v1.15h-1.15zM292.1 78.1h1.15v1.15h-1.15zM287.5 81.4h1.15v1.15h-1.15zM285 91.9h1.15v1.15h-1.15zM275 89.7h1.15v1.15h-1.15zM273.3 98.6h1.15v1.15h-1.15zM272.1 102.3h1.15v1.15h-1.15zM294 90.2h1.15v1.15h-1.15zM297.2 84.7h1.15v1.15h-1.15zM303.6 100.8h1.15v1.15h-1.15zM286.7 111.8h1.15v1.15h-1.15zM289.5 106h1.15v1.15h-1.15zM297.4 83h1.15v1.15h-1.15zM304.8 88.8h1.15v1.15h-1.15zM289.5 84.1h1.15v1.15h-1.15zM291.9 90.6h1.15v1.15h-1.15zM295.6 83.2h1.15v1.15h-1.15zM297.8 98.9h1.15v1.15h-1.15zM309.9 88h1.15v1.15h-1.15zM297.5 93.9h1.15v1.15h-1.15zM314.6 103.2h1.15v1.15h-1.15zM271.3 93.3h1.15v1.15h-1.15zM297.3 112.5h1.15v1.15h-1.15zM310.2 96.1h1.15v1.15h-1.15zM278.1 107.1h1.15v1.15h-1.15zM307 96.6h1.15v1.15h-1.15zM289.1 83.1h1.15v1.15h-1.15zM284.3 103.7h1.15v1.15h-1.15zM275.4 100.7h1.15v1.15h-1.15zM280.5 107.2h1.15v1.15h-1.15zM279.1 80.9h1.15v1.15h-1.15zM279.9 91.6h1.15v1.15h-1.15zM306.3 94.6h1.15v1.15h-1.15zM320.1 103.1h1.15v1.15h-1.15zM294.4 105.8h1.15v1.15h-1.15zM283.5 105.8h1.15v1.15h-1.15zM280.2 113.7h1.15v1.15h-1.15zM293 105h1.15v1.15h-1.15zM301.1 118.8h1.15v1.15h-1.15zM280.8 102.9h1.15v1.15h-1.15zM271.1 95.6h1.15v1.15h-1.15zM294 110.5h1.15v1.15h-1.15zM283.8 91.8h1.15v1.15h-1.15zM293.6 106.8h1.15v1.15h-1.15zM293.5 117.9h1.15v1.15h-1.15zM298 89.5h1.15v1.15h-1.15zM282.1 112.8h1.15v1.15h-1.15zM308.3 83.6h1.15v1.15h-1.15z" fill="#1f7f1f" fill-opacity="0.9"/>
<path d="M281.1 83.7h1.15v1.15h-1.15zM292.2 101.2h1.15v1.15h-1.15zM301 81.1h1.15v1.15h-1.15zM297.3 95.6h1.15v1.15h-1.15zM296 95.2h1.15v1.15h-1.15zM292.5 101.4h1.15v1.15h-1.15zM296.4 97.7h1.15v1.15h-1.15zM286.6 99.4h1.15v1.15h-1.15zM300.7 92.8h1.15v1.15h-1.15zM306 93.8h1.15v1.15h-1.15zM293.8 97.5h1.15v1.15h-1.15zM294.8 91h1.15v1.15h-1.15zM276 92h1.15v1.15h-1.15zM302.8 99.2h1.15v1.15h-1.15zM301.7 103.1h1.15v1.15h-1.15zM310.1 98.4h1.15v1.15h-1.15zM297.7 91.8h1.15v1.15h-1.15zM288.4 98.3h1.15v1.15h-1.15zM312.4 88.3h1.15v1.15h-1.15zM286.4 102.7h1.15v1.15h-1.15zM307.3 97.7h1.15v1.15h-1.15zM291 97.6h1.15v1.15h-1.15zM292.8 81.8h1.15v1.15h-1.15zM295 93.7h1.15v1.15h-1.15zM292.1 91.1h1.15v1.15h-1.15zM315.2 102.4h1.15v1.15h-1.15zM306.2 89.3h1.15v1.15h-1.15zM282.7 92.6h1.15v1.15h-1.15zM297.9 92h1.15v1.15h-1.15zM292.7 105h1.15v1.15h-1.15zM298.5 85.6h1.15v1.15h-1.15zM289.8 88.8h1.15v1.15h-1.15zM297.1 83.8h1.15v1.15h-1.15zM292.8 102.4h1.15v1.15h-1.15zM295.3 86.3h1.15v1.15h-1.15zM287.5 96.7h1.15v1.15h-1.15zM300.7 103.8h1.15v1.15h-1.15zM293.2 82.3h1.15v1.15h-1.15zM312 98.4h1.15v1.15h-1.15zM299.8 98.5h1.15v1.15h-1.15zM282.5 92.2h1.15v1.15h-1.15zM298 105.8h1.15v1.15h-1.15zM292 99h1.15v1.15h-1.15zM310.5 102.5h1.15v1.15h-1.15zM311.1 104.9h1.15v1.15h-1.15zM278.3 103.9h1.15v1.15h-1.15zM302.1 90.2h1.15v1.15h-1.15zM302 99.6h1.15v1.15h-1.15zM289.3 94.2h1.15v1.15h-1.15zM291.8 97.7h1.15v1.15h-1.15zM289.8 100.9h1.15v1.15h-1.15zM271.9 92.6h1.15v1.15h-1.15zM274.7 90.6h1.15v1.15h-1.15zM301.1 95.6h1.15v1.15h-1.15zM293.6 96.1h1.15v1.15h-1.15zM289.3 97.1h1.15v1.15h-1.15zM284.7 97.5h1.15v1.15h-1.15zM303.7 83.5h1.15v1.15h-1.15zM294 91.7h1.15v1.15h-1.15zM271.6 93.6h1.15v1.15h-1.15zM285.4 108.8h1.15v1.15h-1.15zM284.4 112.4h1.15v1.15h-1.15zM301.4 100h1.15v1.15h-1.15zM304.6 104.4h1.15v1.15h-1.15zM290.8 82.9h1.15v1.15h-1.15zM304 99.2h1.15v1.15h-1.15zM296.3 91.9h1.15v1.15h-1.15zM287.2 92.6h1.15v1.15h-1.15zM303.7 80.8h1.15v1.15h-1.15zM293 89.1h1.15v1.15h-1.15zM290.5 84.9h1.15v1.15h-1.15zM281.1 93.1h1.15v1.15h-1.15zM289.9 88.8h1.15v1.15h-1.15zM288.3 84.6h1.15v1.15h-1.15zM298.6 80.3h1.15v1.15h-1.15zM294.9 83.3h1.15v1.15h-1.15zM294.4 98.9h1.15v1.15h-1.15zM300.7 99.7h1.15v1.15h-1.15zM286.4 104.1h1.15v1.15h-1.15zM289.5 98.8h1.15v1.15h-1.15z" fill="#1f7f1f" fill-opacity="0.9"/>
<path d="M328.4 107.5h1.1v1.1h-1.1zM329.4 95.5h1.1v1.1h-1.1zM332.4 99.5h1.1v1.1h-1.1zM263.4 85.5h1.1v1.1h-1.1zM265.4 95.5h1.1v1.1h-1.1z" fill="#1f7f1f" fill-opacity="0.8"/>
<path d="M304.7 15.4 L278 69.4 L238.3 92.2 M278 69.4 L354.6 102.8" fill="none" stroke="#262626" stroke-width="1" stroke-linecap="round" stroke-linejoin="round"/>
<clipPath id="hd"><circle cx="307.8" cy="213.4" r="52.7"/></clipPath>
<filter id="bl" x="-5%" y="-5%" width="110%" height="110%"><feGaussianBlur stdDeviation="0.7"/></filter>
<g clip-path="url(#hd)"><g filter="url(#bl)">
<rect x="254.1" y="159.7" width="107.4" height="107.4" fill="#00009f"/>
<path d="M254.3 158.7L255.6 158.7L256.8 158.7L258 158.7L259.2 158.7L260.5 158.7L261.7 158.7L262.9 158.7L264.2 158.7L265.4 158.7L266.6 158.7L267.9 158.7L269.1 158.7L270.3 158.7L271.5 158.7L272.8 158.7L274 158.7L275.2 158.7L276.5 158.7L277.7 158.7L278.9 158.7L280.1 158.7L281.4 158.7L282.6 158.7L283.8 158.7L285.1 158.7L286.3 158.7L287.5 158.7L288.7 158.7L290 158.7L291.2 158.7L292.4 158.7L293.7 158.7L294.9 158.7L296.1 158.7L297.4 158.7L298.6 158.7L299.8 158.7L301 158.7L302.3 158.7L303.5 158.7L304.7 158.7L306 158.7L307.2 158.7L308.4 158.7L309.6 158.7L310.9 158.7L312.1 158.7L313.3 158.7L314.6 158.7L315.8 158.7L317 158.7L318.2 158.7L319.5 158.7L320.7 158.7L321.9 158.7L323.2 158.7L324.4 158.7L325.6 158.7L326.9 158.7L328.1 158.7L329.3 158.7L330.5 158.7L331.8 158.7L333 158.7L334.2 158.7L335.5 158.7L336.7 158.7L337.9 158.7L339.1 158.7L340.4 158.7L341.6 158.7L342.8 158.7L344.1 158.7L345.3 158.7L346.5 158.7L347.7 158.7L349 158.7L350.2 158.7L351.4 158.7L352.7 158.7L353.9 158.7L355.1 158.7L356.4 158.7L357.6 158.7L358.8 158.7L360 158.7L361.3 158.7L362.5 158.7L362.5 159.9L362.5 161.2L362.5 162.4L362.5 163.6L362.5 164.8L362.5 166.1L362.5 167.3L362.5 168.5L362.5 169.8L362.5 171L362.5 172.2L362.5 173.5L362.5 174.7L362.5 175.9L362.5 177.1L362.5 178.4L362.5 179.6L362.5 180.8L362.5 182.1L362.5 183.3L362.5 184.5L362.5 185.7L362.5 187L362.5 188.2L362.5 189.4L362.5 190.7L362.5 191.9L362.5 193.1L362.5 194.3L362.5 195.6L362.5 196.8L362.5 198L362.5 199.3L362.5 200.5L362.5 201.7L362.5 203L362.5 204.2L362.5 205.4L362.5 206.6L362.5 207.9L362.5 209.1L362.5 210.3L362.5 211.6L362.5 212.8L362.5 214L362.5 215.2L362.5 216.5L362.5 217.7L362.5 218.9L362.5 220.2L362.5 221.4L362.5 222.6L362.5 223.8L362.5 225.1L362.5 226.3L362.5 227.5L362.5 228.8L362.5 230L362.5 231.2L362.5 232.5L362.5 233.7L362.5 234.9L362.5 236.1L362.5 237.4L362.5 238.6L362.5 239.8L362.5 241.1L362.5 242.3L362.5 243.5L362.5 244.7L362.5 246L362.5 247.2L362.5 248.4L362.5 249.7L362.5 250.9L362.5 252.1L362.5 253.3L362.5 254.6L362.5 255.8L362.5 257L362.5 258.3L362.5 259.5L362.5 260.7L362.5 262L362.5 263.2L362.5 264.4L362.5 265.6L362.5 266.9L362.5 268.1L361.3 268.1L360 268.1L358.8 268.1L357.6 268.1L356.4 268.1L355.1 268.1L353.9 268.1L352.7 268.1L351.4 268.1L350.2 268.1L349 268.1L347.7 268.1L346.5 268.1L345.3 268.1L344.1 268.1L342.8 268.1L341.6 268.1L340.4 268.1L339.1 268.1L337.9 268.1L336.7 268.1L335.5 268.1L334.2 268.1L333 268.1L331.8 268.1L330.5 268.1L329.3 268.1L328.1 268.1L326.9 268.1L325.6 268.1L324.4 268.1L323.2 268.1L321.9 268.1L320.7 268.1L319.5 268.1L318.2 268.1L317 268.1L315.8 268.1L314.6 268.1L313.3 268.1L312.1 268.1L310.9 268.1L309.6 268.1L308.4 268.1L307.2 268.1L306 268.1L304.7 268.1L303.5 268.1L302.3 268.1L301 268.1L299.8 268.1L298.6 268.1L297.4 268.1L296.1 268.1L294.9 268.1L293.7 268.1L292.4 268.1L291.2 268.1L290 268.1L288.7 268.1L287.5 268.1L286.3 268.1L285.1 268.1L283.8 268.1L282.6 268.1L281.4 268.1L280.1 268.1L278.9 268.1L277.7 268.1L276.5 268.1L275.2 268.1L274 268.1L272.8 268.1L271.5 268.1L270.3 268.1L269.1 268.1L267.9 268.1L266.6 268.1L265.4 268.1L264.2 268.1L262.9 268.1L261.7 268.1L260.5 268.1L259.2 268.1L258 268.1L256.8 268.1L255.6 268.1L254.3 268.1L253.1 268.1L253.1 266.9L253.1 265.6L253.1 264.4L253.1 263.2L253.1 262L253.1 260.7L253.1 259.5L253.1 258.3L253.1 257L253.1 255.8L253.1 254.6L253.1 253.3L253.1 252.1L253.1 250.9L253.1 249.7L253.1 248.4L253.1 247.2L253.1 246L253.1 244.7L253.1 243.5L253.1 242.3L253.1 241.1L253.1 239.8L253.1 238.6L253.1 237.4L253.1 236.1L253.1 234.9L253.1 233.7L253.1 232.5L253.1 231.2L253.1 230L253.1 228.8L253.1 227.5L253.1 226.3L253.1 225.1L253.1 223.8L253.1 222.6L253.1 221.4L253.1 220.2L253.1 218.9L253.1 217.7L253.1 216.5L253.1 215.2L253.1 214L253.1 212.8L253.1 211.6L253.1 210.3L253.1 209.1L253.1 207.9L253.1 206.6L253.1 205.4L253.1 204.2L253.1 203L253.1 201.7L253.1 200.5L253.1 199.3L253.1 198L253.1 196.8L253.1 195.6L253.1 194.3L253.1 193.1L253.1 191.9L253.1 190.7L253.1 189.4L253.1 188.2L253.1 187L253.1 185.7L253.1 184.5L253.1 183.3L253.1 182.1L253.1 180.8L253.1 179.6L253.1 178.4L253.1 177.1L253.1 175.9L253.1 174.7L253.1 173.5L253.1 172.2L253.1 171L253.1 169.8L253.1 168.5L253.1 167.3L253.1 166.1L253.1 164.8L253.1 163.6L253.1 162.4L253.1 161.2L253.1 159.9L253.1 158.7L254.3 158.7ZM324.6 248.4L324.4 248.5L323.2 249.3L322.6 249.7L321.9 250.4L321.3 250.9L321 252.1L321.9 252.5L323.2 252.8L324.4 252.9L325.6 252.8L326.9 252.7L328.1 252.3L328.6 252.1L329.3 251.5L329.8 250.9L329.6 249.7L329.3 249.4L328.4 248.4L328.1 248.3L326.9 247.9L325.6 248.1L324.6 248.4Z" fill="#0000ba" fill-rule="evenodd"/>
<path d="M254.3 158.7L255.6 158.7L256.8 158.7L258 158.7L259.2 158.7L260.5 158.7L261.7 158.7L262.9 158.7L264.2 158.7L265.4 158.7L266.6 158.7L267.9 158.7L269.1 158.7L270.3 158.7L271.5 158.7L272.8 158.7L274 158.7L275.2 158.7L276.5 158.7L277.7 158.7L278.9 158.7L280.1 158.7L281.4 158.7L282.6 158.7L283.8 158.7L285.1 158.7L286.3 158.7L287.5 158.7L288.7 158.7L290 158.7L291.2 158.7L292.4 158.7L293.7 158.7L294.9 158.7L296.1 158.7L297.4 158.7L298.6 158.7L299.8 158.7L301 158.7L302.3 158.7L303.5 158.7L304.7 158.7L306 158.7L307.2 158.7L308.4 158.7L309.6 158.7L310.9 158.7L312.1 158.7L313.3 158.7L314.6 158.7L315.8 158.7L317 158.7L318.2 158.7L319.5 158.7L320.7 158.7L321.9 158.7L323.2 158.7L324.4 158.7L325.6 158.7L326.9 158.7L328.1 158.7L329.3 158.7L330.5 158.7L331.8 158.7L333 158.7L334.2 158.7L335.5 158.7L336.7 158.7L337.9 158.7L339.1 158.7L340.4 158.7L341.6 158.7L342.8 158.7L344.1 158.7L345.3 158.7L346.5 158.7L347.7 158.7L349 158.7L350.2 158.7L351.4 158.7L352.7 158.7L353.9 158.7L355.1 158.7L356.4 158.7L357.6 158.7L358.8 158.7L360 158.7L361.3 158.7L362.5 158.7L362.5 159.9L362.5 161.2L362.5 162.4L362.5 163.6L362.5 164.8L362.5 166.1L362.5 167.3L362.5 168.5L362.5 169.8L362.5 171L362.5 172.2L362.5 173.5L362.5 174.7L362.5 175.9L362.5 177.1L362.5 178.4L362.5 179.6L362.5 180.8L362.5 182.1L362.5 183.3L362.5 184.5L362.5 185.7L362.5 187L362.5 188.2L362.5 189.4L362.5 190.7L362.5 191.9L362.5 193.1L362.5 194.3L362.5 195.6L362.5 196.8L362.5 198L362.5 199.3L362.5 200.5L362.5 201.7L362.5 203L362.5 204.2L362.5 205.4L362.5 206.6L362.5 207.9L362.5 209.1L362.5 210.3L362.5 211.6L362.5 212.8L362.5 214L362.5 215.2L362.5 216.5L362.5 217.7L362.5 218.9L362.5 220.2L362.5 221.4L362.5 222.6L362.5 223.8L362.5 225.1L362.5 226.3L362.5 227.5L362.5 228.8L362.5 230L362.5 231.2L362.5 232.5L362.5 233.7L362.5 234.9L362.5 236.1L362.5 237.4L362.5 238.6L362.5 239.8L362.5 241.1L362.5 242.3L362.5 243.5L362.5 244.7L362.5 246L362.5 247.2L362.5 248.4L362.5 249.7L362.5 250.9L362.5 252.1L362.5 253.3L362.5 254.6L362.5 255.8L362.5 257L362.5 258.3L362.5 259.5L362.5 260.7L362.5 262L362.5 263.2L362.5 264.4L362.5 265.6L362.5 266.9L362.5 268.1L361.3 268.1L360 268.1L358.8 268.1L357.6 268.1L356.4 268.1L355.1 268.1L353.9 268.1L352.7 268.1L351.4 268.1L350.2 268.1L349 268.1L347.7 268.1L346.5 268.1L345.3 268.1L344.1 268.1L342.8 268.1L341.6 268.1L340.4 268.1L339.1 268.1L337.9 268.1L336.7 268.1L335.5 268.1L334.2 268.1L333 268.1L331.8 268.1L330.5 268.1L329.3 268.1L328.1 268.1L326.9 268.1L325.6 268.1L324.4 268.1L323.2 268.1L321.9 268.1L320.7 268.1L319.5 268.1L318.2 268.1L317 268.1L315.8 268.1L314.6 268.1L313.3 268.1L312.1 268.1L310.9 268.1L309.6 268.1L308.4 268.1L307.2 268.1L306 268.1L304.7 268.1L303.5 268.1L302.3 268.1L301 268.1L299.8 268.1L298.6 268.1L297.4 268.1L296.1 268.1L294.9 268.1L293.7 268.1L292.4 268.1L291.2 268.1L290 268.1L288.7 268.1L287.5 268.1L286.3 268.1L285.1 268.1L283.8 268.1L282.6 268.1L281.4 268.1L280.1 268.1L278.9 268.1L277.7 268.1L276.5 268.1L275.2 268.1L274 268.1L272.8 268.1L271.5 268.1L270.3 268.1L269.1 268.1L267.9 268.1L266.6 268.1L265.4 268.1L264.2 268.1L262.9 268.1L261.7 268.1L260.5 268.1L259.2 268.1L258 268.1L256.8 268.1L255.6 268.1L254.3 268.1L253.1 268.1L253.1 266.9L253.1 265.6L253.1 264.4L253.1 263.2L253.1 262L253.1 260.7L253.1 259.5L253.1 258.3L253.1 257L253.1 255.8L253.1 254.6L253.1 253.3L253.1 252.1L253.1 250.9L253.1 249.7L253.1 248.4L253.1 247.2L253.1 246L253.1 244.7L253.1 243.5L253.1 242.3L253.1 241.1L253.1 239.8L253.1 238.6L253.1 237.4L253.1 236.1L253.1 234.9L253.1 233.7L253.1 232.5L253.1 231.2L253.1 230L253.1 228.8L253.1 227.5L253.1 226.3L253.1 225.1L253.1 223.8L253.1 222.6L253.1 221.4L253.1 220.2L253.1 218.9L253.1 217.7L253.1 216.5L253.1 215.2L253.1 214L253.1 212.8L253.1 211.6L253.1 210.3L253.1 209.1L253.1 207.9L253.1 206.6L253.1 205.4L253.1 204.2L253.1 203L253.1 201.7L253.1 200.5L253.1 199.3L253.1 198L253.1 196.8L253.1 195.6L253.1 194.3L253.1 193.1L253.1 191.9L253.1 190.7L253.1 189.4L253.1 188.2L253.1 187L253.1 185.7L253.1 184.5L253.1 183.3L253.1 182.1L253.1 180.8L253.1 179.6L253.1 178.4L253.1 177.1L253.1 175.9L253.1 174.7L253.1 173.5L253.1 172.2L253.1 171L253.1 169.8L253.1 168.5L253.1 167.3L253.1 166.1L253.1 164.8L253.1 163.6L253.1 162.4L253.1 161.2L253.1 159.9L253.1 158.7L254.3 158.7ZM341.3 243.5L340.4 244.2L339.5 244.7L339.1 245L337.9 245.7L337.2 246L336.7 246.2L335.5 246.4L334.2 246.5L333 246.3L331.8 246.1L331.3 246L330.5 245.8L329.3 245.5L328.1 245.3L326.9 245.2L325.6 245.2L324.4 245.3L323.2 245.5L321.9 245.8L321.1 246L320.7 246.1L319.5 246.4L318.2 246.8L317 247.1L316.7 247.2L315.8 247.5L314.6 247.8L313.3 248.2L312.3 248.4L312.1 248.5L310.9 248.9L309.6 249.3L308.8 249.7L308.4 249.9L307.2 250.6L306.9 250.9L306 251.8L305.7 252.1L304.9 253.3L304.7 253.8L304.4 254.6L304.1 255.8L304 257L304.3 258.3L304.7 258.8L305.3 259.5L306 259.9L307.2 260.6L307.8 260.7L308.4 260.8L309.6 260.8L310.9 260.8L311.7 260.7L312.1 260.7L313.3 260.6L314.6 260.5L315.8 260.4L317 260.2L318.2 260.1L319.5 259.8L320.7 259.6L321 259.5L321.9 259.3L323.2 258.9L324.4 258.6L325.5 258.3L325.6 258.2L326.9 258L328.1 258L329.3 258L330.5 258.1L331.8 258.2L332.6 258.3L333 258.3L334.2 258.3L335.5 258.3L336.6 258.3L336.7 258.3L337.9 258.1L339.1 257.8L340.4 257.4L341.2 257L341.6 256.8L342.8 256L343.1 255.8L344.1 254.8L344.2 254.6L345.2 253.3L345.3 253.2L346.2 252.1L346.5 251.8L347.2 250.9L347.7 250.1L347.9 249.7L348.2 248.4L348.2 247.2L347.9 246L347.7 245.6L347.3 244.7L346.5 243.8L346.3 243.5L345.3 242.9L344.1 242.6L342.8 242.8L341.6 243.3L341.3 243.5Z" fill="#0000d5" fill-rule="evenodd"/>
<path d="M254.3 158.7L255.6 158.7L256.8 158.7L258 158.7L259.2 158.7L260.5 158.7L261.7 158.7L262.9 158.7L264.2 158.7L265.4 158.7L266.6 158.7L267.9 158.7L269.1 158.7L270.3 158.7L271.5 158.7L272.8 158.7L274 158.7L275.2 158.7L276.5 158.7L277.7 158.7L278.9 158.7L280.1 158.7L281.4 158.7L282.6 158.7L283.8 158.7L285.1 158.7L286.3 158.7L287.5 158.7L288.7 158.7L290 158.7L291.2 158.7L292.4 158.7L293.7 158.7L294.9 158.7L296.1 158.7L297.4 158.7L298.6 158.7L299.8 158.7L301 158.7L302.3 158.7L303.5 158.7L304.7 158.7L306 158.7L307.2 158.7L308.4 158.7L309.6 158.7L310.9 158.7L312.1 158.7L313.3 158.7L314.6 158.7L315.8 158.7L317 158.7L318.2 158.7L319.5 158.7L320.7 158.7L321.9 158.7L323.2 158.7L324.4 158.7L325.6 158.7L326.9 158.7L328.1 158.7L329.3 158.7L330.5 158.7L331.8 158.7L333 158.7L334.2 158.7L335.5 158.7L336.7 158.7L337.9 158.7L339.1 158.7L340.4 158.7L341.6 158.7L342.8 158.7L344.1 158.7L345.3 158.7L346.5 158.7L347.7 158.7L349 158.7L350.2 158.7L351.4 158.7L352.7 158.7L353.9 158.7L355.1 158.7L356.4 158.7L357.6 158.7L358.8 158.7L360 158.7L361.3 158.7L362.5 158.7L362.5 159.9L362.5 161.2L362.5 162.4L362.5 163.6L362.5 164.8L362.5 166.1L362.5 167.3L362.5 168.5L362.5 169.8L362.5 171L362.5 172.2L362.5 173.5L362.5 174.7L362.5 175.9L362.5 177.1L362.5 178.4L362.5 179.6L362.5 180.8L362.5 182.1L362.5 183.3L362.5 184.5L362.5 185.7L362.5 187L362.5 188.2L362.5 189.4L362.5 190.7L362.5 191.9L362.5 193.1L362.5 194.3L362.5 195.6L362.5 196.8L362.5 198L362.5 199.3L362.5 200.5L362.5 201.7L362.5 203L362.5 204.2L362.5 205.4L362.5 206.6L362.5 207.9L362.5 209.1L362.5 210.3L362.5 211.6L362.5 212.8L362.5 214L362.5 215.2L362.5 216.5L362.5 217.7L362.5 218.9L362.5 220.2L362.5 221.4L362.5 222.6L362.5 223.8L362.5 225.1L362.5 226.3L362.5 227.5L362.5 228.8L362.5 230L362.5 231.2L362.5 232.5L362.5 233.7L362.5 234.9L362.5 236.1L362.5 237.4L362.5 238.6L362.5 239.8L362.5 241.1L362.5 242.3L362.5 243.5L362.5 244.7L362.5 246L362.5 247.2L362.5 248.4L362.5 249.7L362.5 250.9L362.5 252.1L362.5 253.3L362.5 254.6L362.5 255.8L362.5 257L362.5 258.3L362.5 259.2L361.5 258.3L361.3 258L360.4 257L360 256.6L359.4 255.8L358.8 255.1L358.4 254.6L357.6 253.4L357.5 253.3L356.7 252.1L356.4 251.7L355.8 250.9L355.1 249.9L355 249.7L354.1 248.4L353.9 248.2L353.2 247.2L352.7 246.5L352.3 246L351.4 245L351.2 244.7L350.2 243.7L350 243.5L349 242.7L348.5 242.3L347.7 241.8L346.5 241.2L346.1 241.1L345.3 240.8L344.1 240.7L342.8 240.8L341.7 241.1L341.6 241.1L340.4 241.6L339.1 242.2L339 242.3L337.9 242.8L336.7 243.3L336 243.5L335.5 243.7L334.2 243.9L333 243.9L331.8 243.8L330.5 243.7L329.3 243.6L328.6 243.5L328.1 243.5L326.9 243.4L325.6 243.3L324.4 243.3L323.2 243.4L321.9 243.5L321.7 243.5L320.7 243.7L319.5 243.9L318.2 244.2L317 244.4L315.8 244.7L315.8 244.7L314.6 245.1L313.3 245.4L312.1 245.7L311.2 246L310.9 246.1L309.6 246.5L308.4 246.9L307.5 247.2L307.2 247.4L306 248L305.3 248.4L304.7 248.8L303.7 249.7L303.5 249.9L302.5 250.9L302.3 251.2L301.5 252.1L301 252.7L300.6 253.3L299.8 254.5L299.7 254.6L298.8 255.8L298.6 256.2L297.9 257L297.4 257.7L296.6 258.3L296.1 258.7L294.9 259.4L294.5 259.5L293.7 259.8L292.4 260.1L291.2 260.3L290 260.5L289 260.7L288.7 260.8L287.5 261.2L286.3 261.7L285.4 262L285.1 262.1L283.8 262.5L282.6 262.8L281.4 263.1L280.7 263.2L280.1 263.3L278.9 263.5L277.7 263.6L276.5 263.7L275.2 263.7L274 263.7L272.8 263.7L271.5 263.7L270.3 263.6L269.1 263.5L267.9 263.4L266.6 263.3L265.4 263.2L264.8 263.2L264.2 263.1L262.9 263L261.7 263L260.5 262.9L259.2 262.9L258 262.8L256.8 262.8L255.6 262.8L254.3 262.9L253.1 262.9L253.1 262L253.1 260.7L253.1 259.5L253.1 258.3L253.1 257L253.1 255.8L253.1 254.6L253.1 253.3L253.1 252.1L253.1 250.9L253.1 249.7L253.1 248.4L253.1 247.2L253.1 246L253.1 244.7L253.1 243.5L253.1 242.3L253.1 241.1L253.1 239.8L253.1 238.6L253.1 237.4L253.1 236.1L253.1 234.9L253.1 233.7L253.1 232.5L253.1 231.2L253.1 230L253.1 228.8L253.1 227.5L253.1 226.3L253.1 225.1L253.1 223.8L253.1 222.6L253.1 221.4L253.1 220.2L253.1 218.9L253.1 217.7L253.1 216.5L253.1 215.2L253.1 214L253.1 212.8L253.1 211.6L253.1 210.3L253.1 209.1L253.1 207.9L253.1 206.6L253.1 205.4L253.1 204.2L253.1 203L253.1 201.7L253.1 200.5L253.1 199.3L253.1 198L253.1 196.8L253.1 195.6L253.1 194.3L253.1 193.1L253.1 191.9L253.1 190.7L253.1 189.4L253.1 188.2L253.1 187L253.1 185.7L253.1 184.5L253.1 183.3L253.1 182.1L253.1 180.8L253.1 179.6L253.1 178.4L253.1 177.1L253.1 175.9L253.1 174.7L253.1 173.5L253.1 172.2L253.1 171L253.1 169.8L253.1 168.5L253.1 167.3L253.1 166.1L253.1 164.8L253.1 163.6L253.1 162.4L253.1 161.2L253.1 159.9L253.1 158.7L254.3 158.7ZM303.5 264.3L304.7 264.1L306 263.9L307.2 263.8L308.4 263.9L309.6 264L310.9 264.1L312.1 264.3L312.7 264.4L313.3 264.5L314.6 264.7L315.8 264.8L317 264.9L318.2 265L319.5 265L320.7 265L321.9 265L323.2 265L324.4 264.9L325.6 264.9L326.9 265L328.1 265.3L329.3 265.6L329.4 265.6L330.5 266.1L331.8 266.7L332.1 266.9L333 267.4L334 268.1L333 268.1L331.8 268.1L330.5 268.1L329.3 268.1L328.1 268.1L326.9 268.1L325.6 268.1L324.4 268.1L323.2 268.1L321.9 268.1L320.7 268.1L319.5 268.1L318.2 268.1L317 268.1L315.8 268.1L314.6 268.1L313.3 268.1L312.1 268.1L310.9 268.1L309.6 268.1L308.4 268.1L307.2 268.1L306 268.1L304.7 268.1L303.5 268.1L302.3 268.1L301 268.1L299.8 268.1L298.6 268.1L297.5 268.1L298.4 266.9L298.6 266.6L299.7 265.6L299.8 265.6L301 264.9L302.3 264.5L302.7 264.4L303.5 264.3Z" fill="#0000f5" fill-rule="evenodd"/>
<path d="M254.3 158.7L255.6 158.7L256.8 158.7L258 158.7L259.2 158.7L260.5 158.7L261.7 158.7L262.9 158.7L264.2 158.7L265.4 158.7L266.6 158.7L267.9 158.7L269.1 158.7L270.3 158.7L271.5 158.7L272.8 158.7L274 158.7L275.2 158.7L276.5 158.7L277.7 158.7L278.9 158.7L280.1 158.7L281.4 158.7L282.6 158.7L283.8 158.7L285.1 158.7L286.3 158.7L287.5 158.7L288.7 158.7L290 158.7L291.2 158.7L292.4 158.7L293.7 158.7L294.9 158.7L296.1 158.7L297.4 158.7L298.6 158.7L299.8 158.7L301 158.7L302.3 158.7L303.5 158.7L304.7 158.7L306 158.7L307.2 158.7L308.4 158.7L309.6 158.7L310.9 158.7L312.1 158.7L313.3 158.7L314.6 158.7L315.8 158.7L317 158.7L318.2 158.7L319.5 158.7L320.7 158.7L321.9 158.7L323.2 158.7L324.4 158.7L325.6 158.7L326.9 158.7L328.1 158.7L329.3 158.7L330.5 158.7L331.8 158.7L333 158.7L334.2 158.7L335.5 158.7L336.7 158.7L337.9 158.7L339.1 158.7L340.4 158.7L341.6 158.7L342.8 158.7L344.1 158.7L345.3 158.7L346.5 158.7L347.7 158.7L349 158.7L350.2 158.7L351.4 158.7L352.7 158.7L353.9 158.7L355.1 158.7L356.4 158.7L357.6 158.7L358.8 158.7L360 158.7L361.3 158.7L362.5 158.7L362.5 159.9L362.5 161.2L362.5 162.4L362.5 163.6L362.5 164.8L362.5 166.1L362.5 167.3L362.5 168.5L362.5 169.8L362.5 171L362.5 172.2L362.5 173.5L362.5 174.7L362.5 175.9L362.5 177.1L362.5 178.4L362.5 179.6L362.5 180.8L362.5 182.1L362.5 183.3L362.5 184.5L362.5 185.7L362.5 187L362.5 188.2L362.5 189.4L362.5 190.7L362.5 191.9L362.5 193.1L362.5 194.3L362.5 195.6L362.5 196.8L362.5 198L362.5 199.3L362.5 200.5L362.5 201.7L362.5 203L362.5 204.2L362.5 205.4L362.5 206.6L362.5 207.9L362.5 209.1L362.5 210.3L362.5 211.6L362.5 212.8L362.5 214L362.5 215.2L362.5 216.5L362.5 217.7L362.5 218.9L362.5 220.2L362.5 221.4L362.5 222.6L362.5 223.8L362.5 225.1L362.5 226.3L362.5 227.5L362.5 228.8L362.5 230L362.5 231.2L362.5 232.5L362.5 233.7L362.5 234.9L362.5 236.1L362.5 237.4L362.5 238.6L362.5 239.8L362.5 241.1L362.5 242.3L362.5 243.5L362.5 244.7L362.5 246L362.5 247.2L362.5 248.4L362.5 249.7L362.5 250.1L361.9 249.7L361.3 249.2L360.2 248.4L360 248.3L358.8 247.3L358.6 247.2L357.6 246.4L357.1 246L356.4 245.4L355.5 244.7L355.1 244.5L353.9 243.5L353.9 243.5L352.7 242.7L352.2 242.3L351.4 241.8L350.2 241.1L350.2 241.1L349 240.4L347.8 239.8L347.7 239.8L346.5 239.4L345.3 239.1L344.1 239L342.8 239.1L341.6 239.3L340.4 239.7L340.1 239.8L339.1 240.3L337.9 240.8L337.4 241.1L336.7 241.3L335.5 241.7L334.2 241.9L333 242L331.8 242L330.5 241.9L329.3 241.8L328.1 241.7L326.9 241.7L325.6 241.6L324.4 241.5L323.2 241.5L321.9 241.5L320.7 241.6L319.5 241.8L318.2 242L317.1 242.3L317 242.3L315.8 242.6L314.6 242.9L313.3 243.2L312.2 243.5L312.1 243.5L310.9 243.9L309.6 244.3L308.4 244.6L308 244.7L307.2 245L306 245.5L304.8 246L304.7 246L303.5 246.7L302.7 247.2L302.3 247.5L301.1 248.4L301 248.5L299.9 249.7L299.8 249.7L298.8 250.9L298.6 251.1L297.6 252.1L297.4 252.4L296.4 253.3L296.1 253.6L294.9 254.5L294.8 254.6L293.7 255.3L292.4 255.7L292.2 255.8L291.2 256.1L290 256.3L288.7 256.5L287.5 256.9L286.9 257L286.3 257.2L285.1 257.6L283.8 257.9L282.6 258.1L281.6 258.3L281.4 258.3L280.1 258.5L278.9 258.6L277.7 258.6L276.5 258.6L275.2 258.6L274 258.6L272.8 258.5L271.5 258.4L270.3 258.3L270.3 258.3L269.1 258.1L267.9 258L266.6 257.8L265.4 257.7L264.2 257.5L262.9 257.4L261.7 257.3L260.5 257.2L259.2 257.2L258 257.2L256.8 257.2L255.6 257.2L254.3 257.3L253.1 257.4L253.1 257L253.1 255.8L253.1 254.6L253.1 253.3L253.1 252.1L253.1 250.9L253.1 249.7L253.1 248.4L253.1 247.2L253.1 246L253.1 244.7L253.1 243.5L253.1 242.3L253.1 241.1L253.1 239.8L253.1 238.6L253.1 237.4L253.1 236.1L253.1 234.9L253.1 233.7L253.1 232.5L253.1 231.2L253.1 230L253.1 228.8L253.1 227.5L253.1 226.3L253.1 225.1L253.1 223.8L253.1 222.6L253.1 221.4L253.1 220.2L253.1 218.9L253.1 217.7L253.1 216.5L253.1 215.2L253.1 214L253.1 212.8L253.1 211.6L253.1 210.3L253.1 209.1L253.1 207.9L253.1 206.6L253.1 205.4L253.1 204.2L253.1 203L253.1 201.7L253.1 200.5L253.1 199.3L253.1 198L253.1 196.8L253.1 195.6L253.1 194.3L253.1 193.1L253.1 191.9L253.1 190.7L253.1 189.4L253.1 188.2L253.1 187L253.1 185.7L253.1 184.5L253.1 183.3L253.1 182.1L253.1 180.8L253.1 179.6L253.1 178.4L253.1 177.1L253.1 175.9L253.1 174.7L253.1 173.5L253.1 172.2L253.1 171L253.1 169.8L253.1 168.5L253.1 167.3L253.1 166.1L253.1 164.8L253.1 163.6L253.1 162.4L253.1 161.2L253.1 159.9L253.1 158.7L254.3 158.7Z" fill="#0000ff" fill-rule="evenodd"/>
<path d="M254.3 158.7L255.6 158.7L256.8 158.7L258 158.7L259.2 158.7L260.5 158.7L261.7 158.7L262.9 158.7L264.2 158.7L265.4 158.7L266.6 158.7L267.9 158.7L269.1 158.7L270.3 158.7L271.5 158.7L272.8 158.7L274 158.7L275.2 158.7L276.5 158.7L277.7 158.7L278.9 158.7L280.1 158.7L281.4 158.7L282.6 158.7L283.8 158.7L285.1 158.7L286.3 158.7L287.5 158.7L288.7 158.7L290 158.7L291.2 158.7L292.4 158.7L293.7 158.7L294.9 158.7L296.1 158.7L297.4 158.7L298.6 158.7L299.8 158.7L301 158.7L302.3 158.7L303.5 158.7L304.7 158.7L306 158.7L307.2 158.7L308.4 158.7L309.6 158.7L310.9 158.7L312.1 158.7L313.3 158.7L314.6 158.7L315.8 158.7L317 158.7L318.2 158.7L319.5 158.7L320.7 158.7L321.9 158.7L323.2 158.7L324.4 158.7L325.6 158.7L326.9 158.7L328.1 158.7L329.3 158.7L330.5 158.7L331.8 158.7L333 158.7L334.2 158.7L335.5 158.7L336.7 158.7L337.9 158.7L339.1 158.7L340.4 158.7L341.6 158.7L342.8 158.7L344.1 158.7L345.3 158.7L346.5 158.7L347.7 158.7L349 158.7L350.2 158.7L351.4 158.7L352.7 158.7L353.9 158.7L355.1 158.7L356.4 158.7L357.6 158.7L358.8 158.7L360 158.7L361.3 158.7L362.5 158.7L362.5 159.9L362.5 161.2L362.5 162.4L362.5 163.6L362.5 164.8L362.5 166.1L362.5 167.3L362.5 168.5L362.5 169.8L362.5 171L362.5 172.2L362.5 173.5L362.5 174.7L362.5 175.9L362.5 177.1L362.5 178.4L362.5 179.6L362.5 180.8L362.5 182.1L362.5 183.3L362.5 184.5L362.5 185.7L362.5 187L362.5 188.2L362.5 189.4L362.5 190.7L362.5 191.9L362.5 193.1L362.5 194.3L362.5 195.6L362.5 196.8L362.5 198L362.5 199.3L362.5 200.5L362.5 201.7L362.5 203L362.5 204.2L362.5 205.4L362.5 206.6L362.5 207.9L362.5 209.1L362.5 210.3L362.5 211.6L362.5 212.8L362.5 214L362.5 215.2L362.5 216.5L362.5 217.7L362.5 218.9L362.5 220.2L362.5 221.4L362.5 222.6L362.5 223.8L362.5 225.1L362.5 226.3L362.5 227.5L362.5 228.8L362.5 230L362.5 231.2L362.5 232.5L362.5 233.7L362.5 234.9L362.5 236.1L362.5 237.4L362.5 238.6L362.5 239.8L362.5 241.1L362.5 242.3L362.5 243.5L362.5 244.7L362.5 245.3L361.5 244.7L361.3 244.6L360 244L359.1 243.5L358.8 243.4L357.6 242.8L356.7 242.3L356.4 242.1L355.1 241.5L354.3 241.1L353.9 240.9L352.7 240.3L351.8 239.8L351.4 239.7L350.2 239.1L349 238.6L349 238.6L347.7 238.1L346.5 237.8L345.3 237.5L344.2 237.4L344.1 237.4L343.7 237.4L342.8 237.4L341.6 237.6L340.4 238L339.1 238.5L338.9 238.6L337.9 239L336.7 239.6L335.9 239.8L335.5 240L334.2 240.2L333 240.2L331.8 240.2L330.5 240L329.3 239.9L328.2 239.8L328.1 239.8L326.9 239.7L325.6 239.6L324.4 239.5L323.2 239.6L321.9 239.6L320.7 239.8L320.2 239.8L319.5 239.9L318.2 240.2L317 240.4L315.8 240.7L314.6 241L314.2 241.1L313.3 241.3L312.1 241.6L310.9 241.9L309.7 242.3L309.6 242.3L308.4 242.7L307.2 243L306 243.4L305.4 243.5L304.7 243.7L303.5 244.2L302.3 244.7L302.3 244.7L301 245.4L300.2 246L299.8 246.2L298.6 247.2L298.6 247.3L297.4 248.4L297.4 248.5L296.3 249.7L296.1 249.9L295.1 250.9L294.9 251.1L293.7 252.1L293.7 252.2L292.4 252.9L291.6 253.3L291.2 253.5L290 253.9L288.7 254.2L287.5 254.4L286.3 254.6L286 254.6L285.1 254.7L283.8 254.8L282.6 254.8L281.4 254.8L280.1 254.8L278.9 254.7L277.7 254.6L277.2 254.6L276.5 254.5L275.2 254.4L274 254.2L272.8 254L271.5 253.8L270.3 253.6L269.1 253.4L268.9 253.3L267.9 253.1L266.6 252.9L265.4 252.7L264.2 252.5L262.9 252.4L261.7 252.2L260.5 252.2L259.2 252.2L258 252.2L256.8 252.2L255.6 252.3L254.3 252.4L253.1 252.5L253.1 252.1L253.1 250.9L253.1 249.7L253.1 248.4L253.1 247.2L253.1 246L253.1 244.7L253.1 243.5L253.1 242.3L253.1 241.1L253.1 239.8L253.1 238.6L253.1 237.4L253.1 236.1L253.1 234.9L253.1 233.7L253.1 232.5L253.1 231.2L253.1 230L253.1 228.8L253.1 227.5L253.1 226.3L253.1 225.1L253.1 223.8L253.1 222.6L253.1 221.4L253.1 220.2L253.1 218.9L253.1 217.7L253.1 216.5L253.1 215.2L253.1 214L253.1 212.8L253.1 211.6L253.1 210.3L253.1 209.1L253.1 207.9L253.1 206.6L253.1 205.4L253.1 204.2L253.1 203L253.1 201.7L253.1 200.5L253.1 199.3L253.1 198L253.1 196.8L253.1 195.6L253.1 194.3L253.1 193.1L253.1 191.9L253.1 190.7L253.1 189.4L253.1 188.2L253.1 187L253.1 185.7L253.1 184.5L253.1 183.3L253.1 182.1L253.1 180.8L253.1 179.6L253.1 178.4L253.1 177.1L253.1 175.9L253.1 174.7L253.1 173.5L253.1 172.2L253.1 171L253.1 169.8L253.1 168.5L253.1 167.3L253.1 166.1L253.1 164.8L253.1 163.6L253.1 162.4L253.1 161.2L253.1 159.9L253.1 158.7L254.3 158.7Z" fill="#001cff" fill-rule="evenodd"/>
<path d="M254.3 158.7L255.6 158.7L256.8 158.7L258 158.7L259.2 158.7L260.5 158.7L261.7 158.7L262.9 158.7L264.2 158.7L265.4 158.7L266.6 158.7L267.9 158.7L269.1 158.7L270.3 158.7L271.5 158.7L272.8 158.7L274 158.7L275.2 158.7L276.5 158.7L277.7 158.7L278.9 158.7L280.1 158.7L281.4 158.7L282.6 158.7L283.8 158.7L285.1 158.7L286.3 158.7L287.5 158.7L288.7 158.7L290 158.7L291.2 158.7L292.4 158.7L293.7 158.7L294.9 158.7L296.1 158.7L297.4 158.7L298.6 158.7L299.8 158.7L301 158.7L302.3 158.7L303.5 158.7L304.7 158.7L306 158.7L307.2 158.7L308.4 158.7L309.6 158.7L310.9 158.7L312.1 158.7L313.3 158.7L314.6 158.7L315.8 158.7L317 158.7L318.2 158.7L319.5 158.7L320.7 158.7L321.9 158.7L323.2 158.7L324.4 158.7L325.6 158.7L326.9 158.7L328.1 158.7L329.3 158.7L330.5 158.7L331.8 158.7L333 158.7L334.2 158.7L335.5 158.7L336.7 158.7L337.9 158.7L339.1 158.7L340.4 158.7L341.6 158.7L342.8 158.7L344.1 158.7L345.3 158.7L346.5 158.7L347.7 158.7L349 158.7L350.2 158.7L351.4 158.7L352.7 158.7L353.9 158.7L355.1 158.7L356.4 158.7L357.6 158.7L358.8 158.7L360 158.7L361.3 158.7L362.5 158.7L362.5 159.9L362.5 161.2L362.5 162.4L362.5 163.6L362.5 164.8L362.5 166.1L362.5 167.3L362.5 168.5L362.5 169.8L362.5 171L362.5 172.2L362.5 173.5L362.5 174.7L362.5 175.9L362.5 177.1L362.5 178.4L362.5 179.6L362.5 180.8L362.5 182.1L362.5 183.3L362.5 184.5L362.5 185.7L362.5 187L362.5 188.2L362.5 189.4L362.5 190.7L362.5 191.9L362.5 193.1L362.5 194.3L362.5 195.6L362.5 196.8L362.5 198L362.5 199.3L362.5 200.5L362.5 201.7L362.5 203L362.5 204.2L362.5 205.4L362.5 206.6L362.5 207.9L362.5 209.1L362.5 210.3L362.5 211.6L362.5 212.8L362.5 214L362.5 215.2L362.5 216.5L362.5 217.7L362.5 218.9L362.5 220.2L362.5 221.4L362.5 222.6L362.5 223.8L362.5 225.1L362.5 226.3L362.5 227.5L362.5 228.8L362.5 230L362.5 231.2L362.5 232.5L362.5 233.7L362.5 234.9L362.5 236.1L362.5 237.4L362.5 238.6L362.5 239.8L362.5 241.1L362.5 241.7L361.3 241.2L360.7 241.1L360 240.8L358.8 240.4L357.6 240L357.1 239.8L356.4 239.6L355.1 239.1L353.9 238.7L353.6 238.6L352.7 238.3L351.4 237.8L350.2 237.4L350.2 237.4L349 237L347.7 236.5L346.5 236.2L346.3 236.1L345.3 235.9L344.1 235.8L342.8 235.8L341.6 236L341.1 236.1L340.4 236.3L339.1 236.7L337.9 237.2L337.6 237.4L336.7 237.8L335.5 238.2L334.2 238.4L333 238.4L331.8 238.3L330.5 238.1L329.3 237.9L328.1 237.7L326.9 237.5L325.6 237.5L324.4 237.6L323.2 237.7L321.9 237.8L320.7 238L319.5 238.2L318.2 238.4L317.1 238.6L317 238.6L315.8 238.9L314.6 239.2L313.3 239.5L312.1 239.8L311.9 239.8L310.9 240.1L309.6 240.4L308.4 240.8L307.3 241.1L307.2 241.1L306 241.4L304.7 241.7L303.5 242L302.5 242.3L302.3 242.4L301 242.8L299.8 243.3L299.3 243.5L298.6 243.9L297.4 244.6L297.2 244.7L296.1 245.7L295.9 246L294.9 247.1L294.8 247.2L293.9 248.4L293.7 248.7L292.8 249.7L292.4 250L291.2 250.9L291.2 250.9L290 251.5L288.7 251.9L287.5 252.1L286.3 252.1L285.1 252L283.8 251.9L282.6 251.7L281.4 251.5L280.1 251.2L278.9 251L278.6 250.9L277.7 250.7L276.5 250.5L275.2 250.2L274 250L272.8 249.8L272.3 249.7L271.5 249.5L270.3 249.2L269.1 248.9L267.9 248.5L267.4 248.4L266.6 248.2L265.4 248L264.2 247.8L262.9 247.7L261.7 247.7L260.5 247.7L259.2 247.7L258 247.8L256.8 247.9L255.6 248L254.3 248.1L253.1 248.3L253.1 247.2L253.1 246L253.1 244.7L253.1 243.5L253.1 242.3L253.1 241.1L253.1 239.8L253.1 238.6L253.1 237.4L253.1 236.1L253.1 234.9L253.1 233.7L253.1 232.5L253.1 231.2L253.1 230L253.1 228.8L253.1 227.5L253.1 226.3L253.1 225.1L253.1 223.8L253.1 222.6L253.1 221.4L253.1 220.2L253.1 218.9L253.1 217.7L253.1 216.5L253.1 215.2L253.1 214L253.1 212.8L253.1 211.6L253.1 210.3L253.1 209.1L253.1 207.9L253.1 206.6L253.1 205.4L253.1 204.2L253.1 203L253.1 201.7L253.1 200.5L253.1 199.3L253.1 198L253.1 196.8L253.1 195.6L253.1 194.3L253.1 193.1L253.1 191.9L253.1 190.7L253.1 189.4L253.1 188.2L253.1 187L253.1 185.7L253.1 184.5L253.1 183.3L253.1 182.1L253.1 180.8L253.1 179.6L253.1 178.4L253.1 177.1L253.1 175.9L253.1 174.7L253.1 173.5L253.1 172.2L253.1 171L253.1 169.8L253.1 168.5L253.1 167.3L253.1 166.1L253.1 164.8L253.1 163.6L253.1 162.4L253.1 161.2L253.1 159.9L253.1 158.7L254.3 158.7Z" fill="#0034ff" fill-rule="evenodd"/>
<path d="M254.3 158.7L255.6 158.7L256.8 158.7L258 158.7L259.2 158.7L260.5 158.7L261.7 158.7L262.9 158.7L264.2 158.7L265.4 158.7L266.6 158.7L267.9 158.7L269.1 158.7L270.3 158.7L271.5 158.7L272.8 158.7L274 158.7L275.2 158.7L276.5 158.7L277.7 158.7L278.9 158.7L280.1 158.7L281.4 158.7L282.6 158.7L283.8 158.7L285.1 158.7L286.3 158.7L287.5 158.7L288.7 158.7L290 158.7L291.2 158.7L292.4 158.7L293.7 158.7L294.9 158.7L296.1 158.7L297.4 158.7L298.6 158.7L299.8 158.7L301 158.7L302.3 158.7L303.5 158.7L304.7 158.7L306 158.7L307.2 158.7L308.4 158.7L309.6 158.7L310.9 158.7L312.1 158.7L313.3 158.7L314.6 158.7L315.8 158.7L317 158.7L318.2 158.7L319.5 158.7L320.7 158.7L321.9 158.7L323.2 158.7L324.4 158.7L325.6 158.7L326.9 158.7L328.1 158.7L329.3 158.7L330.5 158.7L331.8 158.7L333 158.7L334.2 158.7L335.5 158.7L336.7 158.7L337.9 158.7L339.1 158.7L340.4 158.7L341.6 158.7L342.8 158.7L344.1 158.7L345.3 158.7L346.5 158.7L347.7 158.7L349 158.7L350.2 158.7L351.4 158.7L352.7 158.7L353.9 158.7L355.1 158.7L356.4 158.7L357.6 158.7L358.8 158.7L360 158.7L361.3 158.7L362.5 158.7L362.5 159.9L362.5 161.2L362.5 162.4L362.5 163.6L362.5 164.8L362.5 166.1L362.5 167.3L362.5 168.5L362.5 169.8L362.5 171L362.5 172.2L362.5 173.5L362.5 174.7L362.5 175.9L362.5 177.1L362.5 178.4L362.5 179.6L362.5 180.8L362.5 182.1L362.5 183.3L362.5 184.5L362.5 185.7L362.5 187L362.5 188.2L362.5 189.4L362.5 190.7L362.5 191.9L362.5 193.1L362.5 194.3L362.5 195.6L362.5 196.8L362.5 198L362.5 199.3L362.5 200.5L362.5 201.7L362.5 203L362.5 204.2L362.5 205.4L362.5 206.6L362.5 207.9L362.5 209.1L362.5 210.3L362.5 211.6L362.5 212.8L362.5 214L362.5 215.2L362.5 216.5L362.5 217.7L362.5 218.9L362.5 220.2L362.5 221.4L362.5 222.6L362.5 223.8L362.5 225.1L362.5 226.3L362.5 227.5L362.5 228.8L362.5 230L362.5 231.2L362.5 232.5L362.5 233.7L362.5 234.9L362.5 236.1L362.5 237.4L362.5 238.6L361.3 238.3L360 238.1L358.8 237.8L357.6 237.6L356.6 237.4L356.4 237.3L355.1 237L353.9 236.8L352.7 236.5L351.5 236.1L351.4 236.1L350.2 235.8L349 235.4L347.7 235L347.4 234.9L346.5 234.7L345.3 234.4L344.1 234.3L342.8 234.3L341.6 234.5L340.4 234.7L339.3 234.9L339.1 235L337.9 235.3L336.7 235.7L335.5 236.1L335 236.1L334.2 236.3L333 236.3L331.8 236.2L331 236.1L330.5 236.1L329.3 235.9L328.1 235.8L326.9 235.7L325.6 235.8L324.4 235.8L323.2 236L321.9 236.1L321.6 236.1L320.7 236.3L319.5 236.5L318.2 236.7L317 236.9L315.8 237.2L314.9 237.4L314.6 237.5L313.3 237.7L312.1 238.1L310.9 238.4L309.9 238.6L309.6 238.7L308.4 239L307.2 239.3L306 239.5L304.7 239.8L304.4 239.8L303.5 240L302.3 240.2L301 240.5L299.8 240.8L298.6 241.1L298.6 241.1L297.4 241.4L296.1 241.7L294.9 242.1L294.4 242.3L293.7 242.7L292.6 243.5L292.4 243.8L292 244.7L291.6 246L291.2 246.7L291 247.2L290 248.4L289.9 248.4L288.7 249L287.5 249.1L286.3 249L285.1 248.6L284.5 248.4L283.8 248.1L282.6 247.6L281.5 247.2L281.4 247.2L280.1 246.7L278.9 246.4L277.7 246.1L277.1 246L276.5 245.8L275.2 245.6L274 245.3L272.8 245.1L271.5 244.8L271.3 244.7L270.3 244.4L269.1 244.1L267.9 243.9L266.6 243.8L265.4 243.7L264.2 243.7L262.9 243.7L261.7 243.7L260.5 243.8L259.2 243.9L258 244L256.8 244.2L255.6 244.3L254.3 244.5L253.1 244.6L253.1 243.5L253.1 242.3L253.1 241.1L253.1 239.8L253.1 238.6L253.1 237.4L253.1 236.1L253.1 234.9L253.1 233.7L253.1 232.5L253.1 231.2L253.1 230L253.1 228.8L253.1 227.5L253.1 226.3L253.1 225.1L253.1 223.8L253.1 222.6L253.1 221.4L253.1 220.2L253.1 218.9L253.1 217.7L253.1 216.5L253.1 215.2L253.1 214L253.1 212.8L253.1 211.6L253.1 210.3L253.1 209.1L253.1 207.9L253.1 206.6L253.1 205.4L253.1 204.2L253.1 203L253.1 201.7L253.1 200.5L253.1 199.3L253.1 198L253.1 196.8L253.1 195.6L253.1 194.3L253.1 193.1L253.1 191.9L253.1 190.7L253.1 189.4L253.1 188.2L253.1 187L253.1 185.7L253.1 184.5L253.1 183.3L253.1 182.1L253.1 180.8L253.1 179.6L253.1 178.4L253.1 177.1L253.1 175.9L253.1 174.7L253.1 173.5L253.1 172.2L253.1 171L253.1 169.8L253.1 168.5L253.1 167.3L253.1 166.1L253.1 164.8L253.1 163.6L253.1 162.4L253.1 161.2L253.1 159.9L253.1 158.7L254.3 158.7Z" fill="#004cff" fill-rule="evenodd"/>
<path d="M254.3 158.7L255.6 158.7L256.8 158.7L258 158.7L259.2 158.7L260.5 158.7L261.7 158.7L262.9 158.7L264.2 158.7L265.4 158.7L266.6 158.7L267.9 158.7L269.1 158.7L270.3 158.7L271.5 158.7L272.8 158.7L274 158.7L275.2 158.7L276.5 158.7L277.7 158.7L278.9 158.7L280.1 158.7L281.4 158.7L282.6 158.7L283.8 158.7L285.1 158.7L286.3 158.7L287.5 158.7L288.7 158.7L290 158.7L291.2 158.7L292.4 158.7L293.7 158.7L294.9 158.7L296.1 158.7L297.4 158.7L298.6 158.7L299.8 158.7L301 158.7L302.3 158.7L303.5 158.7L304.7 158.7L306 158.7L307.2 158.7L308.4 158.7L309.6 158.7L310.9 158.7L312.1 158.7L313.3 158.7L314.6 158.7L315.8 158.7L317 158.7L318.2 158.7L319.5 158.7L320.7 158.7L321.9 158.7L323.2 158.7L324.4 158.7L325.6 158.7L326.9 158.7L328.1 158.7L329.3 158.7L330.5 158.7L331.8 158.7L333 158.7L334.2 158.7L335.5 158.7L336.7 158.7L337.9 158.7L339.1 158.7L340.4 158.7L341.6 158.7L342.8 158.7L344.1 158.7L345.3 158.7L346.5 158.7L347.7 158.7L349 158.7L350.2 158.7L351.4 158.7L352.7 158.7L353.9 158.7L355.1 158.7L356.4 158.7L357.6 158.7L358.8 158.7L360 158.7L361.3 158.7L362.5 158.7L362.5 159.9L362.5 161.2L362.5 162.4L362.5 163.6L362.5 164.8L362.5 166.1L362.5 167.3L362.5 168.5L362.5 169.8L362.5 171L362.5 172.2L362.5 173.5L362.5 174.7L362.5 175.9L362.5 177.1L362.5 178.4L362.5 179.6L362.5 180.8L362.5 182.1L362.5 183.3L362.5 184.5L362.5 185.7L362.5 187L362.5 188.2L362.5 189.4L362.5 190.7L362.5 191.9L362.5 193.1L362.5 194.3L362.5 195.6L362.5 196.8L362.5 198L362.5 199.3L362.5 200.5L362.5 201.7L362.5 203L362.5 204.2L362.5 205.4L362.5 206.6L362.5 207.9L362.5 209.1L362.5 210.3L362.5 211.6L362.5 212.8L362.5 214L362.5 215.2L362.5 216.5L362.5 217.7L362.5 218.9L362.5 220.2L362.5 221.4L362.5 222.6L362.5 223.8L362.5 225.1L362.5 226.3L362.5 227.5L362.5 228.8L362.5 230L362.5 231.2L362.5 232.5L362.5 233.7L362.5 234.9L362.5 235.7L361.3 235.6L360 235.5L358.8 235.4L357.6 235.3L356.4 235.1L355.1 235L354.5 234.9L353.9 234.8L352.7 234.7L351.4 234.4L350.2 234.1L349 233.8L348.7 233.7L347.7 233.4L346.5 233.1L345.3 232.9L344.1 232.8L342.8 232.8L341.6 232.9L340.4 233.1L339.1 233.3L337.9 233.5L336.7 233.7L336.6 233.7L335.5 233.8L334.2 234L333 234.2L331.8 234.2L330.5 234.2L329.3 234.2L328.1 234.1L326.9 234.1L325.6 234.1L324.4 234.2L323.2 234.3L321.9 234.5L320.7 234.6L319.5 234.8L319 234.9L318.2 235L317 235.3L315.8 235.5L314.6 235.8L313.3 236.1L313.1 236.1L312.1 236.4L310.9 236.7L309.6 237L308.4 237.3L307.9 237.4L307.2 237.5L306 237.8L304.7 238L303.5 238.2L302.3 238.4L301 238.5L300.3 238.6L299.8 238.7L298.6 238.8L297.4 238.9L296.1 238.9L294.9 238.9L293.7 238.9L292.4 238.8L291.2 238.7L290 238.7L288.7 238.9L287.5 239.4L286.7 239.8L286.3 240.1L285.1 240.9L284.5 241.1L283.8 241.4L282.6 241.7L281.4 241.9L280.1 241.9L278.9 241.9L277.7 241.7L276.5 241.5L275.2 241.2L274.8 241.1L274 240.9L272.8 240.6L271.5 240.4L270.3 240.3L269.1 240.4L267.9 240.4L266.6 240.5L265.4 240.5L264.2 240.5L262.9 240.5L261.7 240.6L260.5 240.7L259.2 240.8L258 240.9L256.9 241.1L256.8 241.1L255.6 241.2L254.3 241.3L253.1 241.4L253.1 241.1L253.1 239.8L253.1 238.6L253.1 237.4L253.1 236.1L253.1 234.9L253.1 233.7L253.1 232.5L253.1 231.2L253.1 230L253.1 228.8L253.1 227.5L253.1 226.3L253.1 225.1L253.1 223.8L253.1 222.6L253.1 221.4L253.1 220.2L253.1 218.9L253.1 217.7L253.1 216.5L253.1 215.2L253.1 214L253.1 212.8L253.1 211.6L253.1 210.3L253.1 209.1L253.1 207.9L253.1 206.6L253.1 205.4L253.1 204.2L253.1 203L253.1 201.7L253.1 200.5L253.1 199.3L253.1 198L253.1 196.8L253.1 195.6L253.1 194.3L253.1 193.1L253.1 191.9L253.1 190.7L253.1 189.4L253.1 188.2L253.1 187L253.1 185.7L253.1 184.5L253.1 183.3L253.1 182.1L253.1 180.8L253.1 179.6L253.1 178.4L253.1 177.1L253.1 175.9L253.1 174.7L253.1 173.5L253.1 172.2L253.1 171L253.1 169.8L253.1 168.5L253.1 167.3L253.1 166.1L253.1 164.8L253.1 163.6L253.1 162.4L253.1 161.2L253.1 159.9L253.1 158.7L254.3 158.7Z" fill="#0068ff" fill-rule="evenodd"/>
<path d="M254.3 158.7L255.6 158.7L256.8 158.7L258 158.7L259.2 158.7L260.5 158.7L261.7 158.7L262.9 158.7L264.2 158.7L265.4 158.7L266.6 158.7L267.9 158.7L269.1 158.7L270.3 158.7L271.5 158.7L272.8 158.7L274 158.7L275.2 158.7L276.5 158.7L277.7 158.7L278.9 158.7L280.1 158.7L281.4 158.7L282.6 158.7L283.8 158.7L285.1 158.7L286.3 158.7L287.5 158.7L288.7 158.7L290 158.7L291.2 158.7L292.4 158.7L293.7 158.7L294.9 158.7L296.1 158.7L297.4 158.7L298.6 158.7L299.8 158.7L301 158.7L302.3 158.7L303.5 158.7L304.7 158.7L306 158.7L307.2 158.7L308.4 158.7L309.6 158.7L310.9 158.7L312.1 158.7L313.3 158.7L314.6 158.7L315.8 158.7L317 158.7L318.2 158.7L319.5 158.7L320.7 158.7L321.9 158.7L323.2 158.7L324.4 158.7L325.6 158.7L326.9 158.7L328.1 158.7L329.3 158.7L330.5 158.7L331.8 158.7L333 158.7L334.2 158.7L335.5 158.7L336.7 158.7L337.9 158.7L339.1 158.7L340.4 158.7L341.6 158.7L342.8 158.7L344.1 158.7L345.3 158.7L346.5 158.7L347.7 158.7L349 158.7L350.2 158.7L351.4 158.7L352.7 158.7L353.9 158.7L355.1 158.7L356.4 158.7L357.6 158.7L358.8 158.7L360 158.7L361.3 158.7L362.5 158.7L362.5 159.9L362.5 161.2L362.5 162.4L362.5 163.6L362.5 164.8L362.5 166.1L362.5 167.3L362.5 168.5L362.5 169.8L362.5 171L362.5 172.2L362.5 173.5L362.5 174.7L362.5 175.9L362.5 177.1L362.5 178.4L362.5 179.6L362.5 180.8L362.5 182.1L362.5 183.3L362.5 184.5L362.5 185.7L362.5 187L362.5 188.2L362.5 189.4L362.5 190.7L362.5 191.9L362.5 193.1L362.5 194.3L362.5 195.6L362.5 196.8L362.5 198L362.5 199.3L362.5 200.5L362.5 201.7L362.5 203L362.5 204.2L362.5 205.4L362.5 206.6L362.5 207.9L362.5 209.1L362.5 210.3L362.5 211.6L362.5 212.8L362.5 214L362.5 215.2L362.5 216.5L362.5 217.7L362.5 218.9L362.5 220.2L362.5 221.4L362.5 222.6L362.5 223.8L362.5 225.1L362.5 226.3L362.5 227.5L362.5 228.8L362.5 230L362.5 231.2L362.5 232.5L362.5 232.8L361.3 232.8L360 232.9L358.8 232.9L357.6 232.9L356.4 232.9L355.1 232.8L353.9 232.8L352.7 232.7L351.4 232.5L351 232.5L350.2 232.3L349 232L347.7 231.7L346.5 231.5L345.3 231.3L344.1 231.3L342.8 231.3L341.6 231.3L340.4 231.5L339.1 231.6L337.9 231.8L336.7 232L335.5 232.1L334.2 232.3L333 232.4L331.9 232.5L331.8 232.5L330.5 232.5L329.3 232.5L328.1 232.5L326.9 232.5L325.6 232.6L324.4 232.6L323.2 232.7L321.9 232.9L320.7 233.1L319.5 233.3L318.2 233.5L317.1 233.7L317 233.7L315.8 233.9L314.6 234.2L313.3 234.5L312.1 234.8L311.5 234.9L310.9 235L309.6 235.3L308.4 235.6L307.2 235.9L306 236.1L305.7 236.1L304.7 236.3L303.5 236.5L302.3 236.7L301 236.7L299.8 236.8L298.6 236.8L297.4 236.8L296.1 236.8L294.9 236.7L293.7 236.6L292.4 236.6L291.2 236.5L290 236.6L288.7 236.8L287.5 237.1L286.6 237.4L286.3 237.5L285.1 238L283.8 238.4L283 238.6L282.6 238.7L281.4 238.9L280.1 239L278.9 239L277.7 238.9L276.5 238.7L276.1 238.6L275.2 238.4L274 238.2L272.8 238L271.5 237.9L270.3 237.8L269.1 237.8L267.9 237.9L266.6 237.9L265.4 238L264.2 238.1L262.9 238.1L261.7 238.1L260.5 238.2L259.2 238.3L258 238.3L256.8 238.4L255.6 238.5L254.3 238.5L253.1 238.6L253.1 237.4L253.1 236.1L253.1 234.9L253.1 233.7L253.1 232.5L253.1 231.2L253.1 230L253.1 228.8L253.1 227.5L253.1 226.3L253.1 225.1L253.1 223.8L253.1 222.6L253.1 221.4L253.1 220.2L253.1 218.9L253.1 217.7L253.1 216.5L253.1 215.2L253.1 214L253.1 212.8L253.1 211.6L253.1 210.3L253.1 209.1L253.1 207.9L253.1 206.6L253.1 205.4L253.1 204.2L253.1 203L253.1 201.7L253.1 200.5L253.1 199.3L253.1 198L253.1 196.8L253.1 195.6L253.1 194.3L253.1 193.1L253.1 191.9L253.1 190.7L253.1 189.4L253.1 188.2L253.1 187L253.1 185.7L253.1 184.5L253.1 183.3L253.1 182.1L253.1 180.8L253.1 179.6L253.1 178.4L253.1 177.1L253.1 175.9L253.1 174.7L253.1 173.5L253.1 172.2L253.1 171L253.1 169.8L253.1 168.5L253.1 167.3L253.1 166.1L253.1 164.8L253.1 163.6L253.1 162.4L253.1 161.2L253.1 159.9L253.1 158.7L254.3 158.7Z" fill="#0080ff" fill-rule="evenodd"/>
<path d="M254.3 158.7L255.6 158.7L256.8 158.7L258 158.7L259.2 158.7L260.5 158.7L261.7 158.7L262.9 158.7L264.2 158.7L265.4 158.7L266.6 158.7L267.9 158.7L269.1 158.7L270.3 158.7L271.5 158.7L272.8 158.7L274 158.7L275.2 158.7L276.5 158.7L277.7 158.7L278.9 158.7L280.1 158.7L281.4 158.7L282.6 158.7L283.8 158.7L285.1 158.7L286.3 158.7L287.5 158.7L288.7 158.7L290 158.7L291.2 158.7L292.4 158.7L293.7 158.7L294.9 158.7L296.1 158.7L297.4 158.7L298.6 158.7L299.8 158.7L301 158.7L302.3 158.7L303.5 158.7L304.7 158.7L306 158.7L307.2 158.7L308.4 158.7L309.6 158.7L310.9 158.7L312.1 158.7L313.3 158.7L314.6 158.7L315.8 158.7L317 158.7L318.2 158.7L319.5 158.7L320.7 158.7L321.9 158.7L323.2 158.7L324.4 158.7L325.6 158.7L326.9 158.7L328.1 158.7L329.3 158.7L330.5 158.7L331.8 158.7L333 158.7L334.2 158.7L335.5 158.7L336.7 158.7L337.9 158.7L339.1 158.7L340.4 158.7L341.6 158.7L342.8 158.7L344.1 158.7L345.3 158.7L346.5 158.7L347.7 158.7L349 158.7L350.2 158.7L351.4 158.7L352.7 158.7L353.9 158.7L355.1 158.7L356.4 158.7L357.6 158.7L358.8 158.7L360 158.7L361.3 158.7L362.5 158.7L362.5 159.9L362.5 161.2L362.5 162.4L362.5 163.6L362.5 164.8L362.5 166.1L362.5 167.3L362.5 168.5L362.5 169.8L362.5 171L362.5 172.2L362.5 173.5L362.5 174.7L362.5 175.9L362.5 177.1L362.5 178.4L362.5 179.6L362.5 180.8L362.5 182.1L362.5 183.3L362.5 184.5L362.5 185.7L362.5 187L362.5 188.2L362.5 189.4L362.5 190.7L362.5 191.9L362.5 193.1L362.5 194.3L362.5 195.6L362.5 196.8L362.5 198L362.5 199.3L362.5 200.5L362.5 201.7L362.5 203L362.5 204.2L362.5 205.4L362.5 206.6L362.5 207.9L362.5 209.1L362.5 210.3L362.5 211.6L362.5 212.8L362.5 214L362.5 215.2L362.5 216.5L362.5 217.7L362.5 218.9L362.5 220.2L362.5 221.4L362.5 222.6L362.5 223.8L362.5 225.1L362.5 226.3L362.5 227.5L362.5 228.8L362.5 229.8L361.3 229.9L360.3 230L360 230L358.8 230.2L357.6 230.3L356.4 230.4L355.1 230.4L353.9 230.5L352.7 230.5L351.4 230.4L350.2 230.2L349 230.1L348.6 230L347.7 229.9L346.5 229.7L345.3 229.6L344.1 229.6L342.8 229.6L341.6 229.7L340.4 229.9L339.4 230L339.1 230L337.9 230.2L336.7 230.4L335.5 230.6L334.2 230.7L333 230.8L331.8 230.9L330.5 230.9L329.3 230.9L328.1 230.9L326.9 231L325.6 231L324.4 231.1L323.2 231.2L323.1 231.2L321.9 231.4L320.7 231.5L319.5 231.7L318.2 231.9L317 232.1L315.8 232.4L315.5 232.5L314.6 232.6L313.3 232.9L312.1 233.2L310.9 233.5L309.8 233.7L309.6 233.7L308.4 234L307.2 234.2L306 234.5L304.7 234.7L303.5 234.8L302.7 234.9L302.3 235L301 235L299.8 235L298.6 235L297.4 235L296.1 234.9L296.1 234.9L294.9 234.8L293.7 234.8L292.4 234.7L291.2 234.7L290 234.8L288.8 234.9L288.7 234.9L287.5 235.2L286.3 235.5L285.1 235.9L284.3 236.1L283.8 236.3L282.6 236.6L281.4 236.8L280.1 236.8L278.9 236.8L277.7 236.6L276.5 236.4L275.2 236.2L274.8 236.1L274 236L272.8 235.9L271.5 235.7L270.3 235.7L269.1 235.7L267.9 235.7L266.6 235.8L265.4 235.8L264.2 235.9L262.9 236L261.7 236L260.5 236L259.2 236L258 236L256.8 235.9L255.6 235.9L254.3 235.9L253.1 235.9L253.1 234.9L253.1 233.7L253.1 232.5L253.1 231.2L253.1 230L253.1 228.8L253.1 227.5L253.1 226.3L253.1 225.1L253.1 223.8L253.1 222.6L253.1 221.4L253.1 220.2L253.1 218.9L253.1 217.7L253.1 216.5L253.1 215.2L253.1 214L253.1 212.8L253.1 211.6L253.1 210.3L253.1 209.1L253.1 207.9L253.1 206.6L253.1 205.4L253.1 204.2L253.1 203L253.1 201.7L253.1 200.5L253.1 199.3L253.1 198L253.1 196.8L253.1 195.6L253.1 194.3L253.1 193.1L253.1 191.9L253.1 190.7L253.1 189.4L253.1 188.2L253.1 187L253.1 185.7L253.1 184.5L253.1 183.3L253.1 182.1L253.1 180.8L253.1 179.6L253.1 178.4L253.1 177.1L253.1 175.9L253.1 174.7L253.1 173.5L253.1 172.2L253.1 171L253.1 169.8L253.1 168.5L253.1 167.3L253.1 166.1L253.1 164.8L253.1 163.6L253.1 162.4L253.1 161.2L253.1 159.9L253.1 158.7L254.3 158.7Z" fill="#009cff" fill-rule="evenodd"/>
<path d="M254.3 158.7L255.6 158.7L256.8 158.7L258 158.7L259.2 158.7L260.5 158.7L261.7 158.7L262.9 158.7L264.2 158.7L265.4 158.7L266.6 158.7L267.9 158.7L269.1 158.7L270.3 158.7L271.5 158.7L272.8 158.7L274 158.7L275.2 158.7L276.5 158.7L277.7 158.7L278.9 158.7L280.1 158.7L281.4 158.7L282.6 158.7L283.8 158.7L285.1 158.7L286.3 158.7L287.5 158.7L288.7 158.7L290 158.7L291.2 158.7L292.4 158.7L293.7 158.7L294.9 158.7L296.1 158.7L297.4 158.7L298.6 158.7L299.8 158.7L301 158.7L302.3 158.7L303.5 158.7L304.7 158.7L306 158.7L307.2 158.7L308.4 158.7L309.6 158.7L310.9 158.7L312.1 158.7L313.3 158.7L314.6 158.7L315.8 158.7L317 158.7L318.2 158.7L319.5 158.7L320.7 158.7L321.9 158.7L323.2 158.7L324.4 158.7L325.6 158.7L326.9 158.7L328.1 158.7L329.3 158.7L330.5 158.7L331.8 158.7L333 158.7L334.2 158.7L335.5 158.7L336.7 158.7L337.9 158.7L339.1 158.7L340.4 158.7L341.6 158.7L342.8 158.7L344.1 158.7L345.3 158.7L346.5 158.7L347.7 158.7L349 158.7L350.2 158.7L351.4 158.7L352.7 158.7L353.9 158.7L355.1 158.7L356.4 158.7L357.6 158.7L358.8 158.7L360 158.7L361.3 158.7L362.5 158.7L362.5 159.9L362.5 161.2L362.5 162.4L362.5 163.6L362.5 164.8L362.5 166.1L362.5 167.3L362.5 168.5L362.5 169.8L362.5 171L362.5 172.2L362.5 173.5L362.5 174.7L362.5 175.9L362.5 177.1L362.5 178.4L362.5 179.6L362.5 180.8L362.5 182.1L362.5 183.3L362.5 184.5L362.5 185.7L362.5 187L362.5 188.2L362.5 189.4L362.5 190.7L362.5 191.9L362.5 193.1L362.5 194.3L362.5 195.6L362.5 196.8L362.5 198L362.5 199.3L362.5 200.5L362.5 201.7L362.5 203L362.5 204.2L362.5 205.4L362.5 206.6L362.5 207.9L362.5 209.1L362.5 210.3L362.5 211.6L362.5 212.8L362.5 214L362.5 215.2L362.5 216.5L362.5 217.7L362.5 218.9L362.5 220.2L362.5 221.4L362.5 222.6L362.5 223.8L362.5 225.1L362.5 226.3L362.5 226.4L361.3 226.6L360 226.9L358.8 227.1L357.6 227.3L356.4 227.5L356.3 227.5L355.1 227.7L353.9 227.9L352.7 228L351.4 228L350.2 228L349 227.9L347.7 227.8L346.5 227.8L345.3 227.8L344.1 227.8L342.8 227.9L341.6 228L340.4 228.2L339.1 228.4L337.9 228.6L337.2 228.8L336.7 228.9L335.5 229.1L334.2 229.2L333 229.2L331.8 229.3L330.5 229.3L329.3 229.4L328.1 229.4L326.9 229.4L325.6 229.5L324.4 229.6L323.2 229.7L321.9 229.8L320.8 230L320.7 230L319.5 230.2L318.2 230.4L317 230.6L315.8 230.8L314.6 231.1L313.9 231.2L313.3 231.4L312.1 231.6L310.9 231.9L309.6 232.1L308.4 232.4L308.1 232.5L307.2 232.6L306 232.9L304.7 233L303.5 233.2L302.3 233.3L301 233.3L299.8 233.4L298.6 233.3L297.4 233.3L296.1 233.2L294.9 233.1L293.7 233.1L292.4 233L291.2 233L290 233L288.7 233.2L287.5 233.3L286.3 233.6L286.1 233.7L285.1 234L283.8 234.3L282.6 234.7L281.4 234.8L280.1 234.8L278.9 234.7L277.7 234.5L276.5 234.3L275.2 234.1L274 234L272.8 233.9L271.5 233.8L270.3 233.7L270.3 233.7L269.1 233.6L267.9 233.6L266.6 233.6L265.9 233.7L265.4 233.7L264.2 233.8L262.9 233.9L261.7 233.9L260.5 233.8L259.2 233.7L259 233.7L258 233.6L256.8 233.5L255.6 233.4L254.3 233.3L253.1 233.3L253.1 232.5L253.1 231.2L253.1 230L253.1 228.8L253.1 227.5L253.1 226.3L253.1 225.1L253.1 223.8L253.1 222.6L253.1 221.4L253.1 220.2L253.1 218.9L253.1 217.7L253.1 216.5L253.1 215.2L253.1 214L253.1 212.8L253.1 211.6L253.1 210.3L253.1 209.1L253.1 207.9L253.1 206.6L253.1 205.4L253.1 204.2L253.1 203L253.1 201.7L253.1 200.5L253.1 199.3L253.1 198L253.1 196.8L253.1 195.6L253.1 194.3L253.1 193.1L253.1 191.9L253.1 190.7L253.1 189.4L253.1 188.2L253.1 187L253.1 185.7L253.1 184.5L253.1 183.3L253.1 182.1L253.1 180.8L253.1 179.6L253.1 178.4L253.1 177.1L253.1 175.9L253.1 174.7L253.1 173.5L253.1 172.2L253.1 171L253.1 169.8L253.1 168.5L253.1 167.3L253.1 166.1L253.1 164.8L253.1 163.6L253.1 162.4L253.1 161.2L253.1 159.9L253.1 158.7L254.3 158.7Z" fill="#00b4ff" fill-rule="evenodd"/>
<path d="M254.3 158.7L255.6 158.7L256.8 158.7L258 158.7L259.2 158.7L260.5 158.7L261.7 158.7L262.9 158.7L264.2 158.7L265.4 158.7L266.6 158.7L267.9 158.7L269.1 158.7L270.3 158.7L271.5 158.7L272.8 158.7L274 158.7L275.2 158.7L276.5 158.7L277.7 158.7L278.9 158.7L280.1 158.7L281.4 158.7L282.6 158.7L283.8 158.7L285.1 158.7L286.3 158.7L287.5 158.7L288.7 158.7L290 158.7L291.2 158.7L292.4 158.7L293.7 158.7L294.9 158.7L296.1 158.7L297.4 158.7L298.6 158.7L299.8 158.7L301 158.7L302.3 158.7L303.5 158.7L304.7 158.7L306 158.7L307.2 158.7L308.4 158.7L309.6 158.7L310.9 158.7L312.1 158.7L313.3 158.7L314.6 158.7L315.8 158.7L317 158.7L318.2 158.7L319.5 158.7L320.7 158.7L321.9 158.7L323.2 158.7L324.4 158.7L325.6 158.7L326.9 158.7L328.1 158.7L329.3 158.7L330.5 158.7L331.8 158.7L333 158.7L334.2 158.7L335.5 158.7L336.7 158.7L337.9 158.7L339.1 158.7L340.4 158.7L341.6 158.7L342.8 158.7L344.1 158.7L345.3 158.7L346.5 158.7L347.7 158.7L349 158.7L350.2 158.7L351.4 158.7L352.7 158.7L353.9 158.7L355.1 158.7L356.4 158.7L357.6 158.7L358.8 158.7L360 158.7L361.3 158.7L362.5 158.7L362.5 159.9L362.5 161.2L362.5 162.4L362.5 163.6L362.5 164.8L362.5 166.1L362.5 167.3L362.5 168.5L362.5 169.8L362.5 171L362.5 172.2L362.5 173.5L362.5 174.7L362.5 175.9L362.5 177.1L362.5 178.4L362.5 179.6L362.5 180.8L362.5 182.1L362.5 183.3L362.5 184.5L362.5 185.7L362.5 187L362.5 188.2L362.5 189.4L362.5 190.7L362.5 191.9L362.5 193.1L362.5 194.3L362.5 195.6L362.5 196.8L362.5 198L362.5 199.3L362.5 200.5L362.5 201.7L362.5 203L362.5 204.2L362.5 205.4L362.5 206.6L362.5 207.9L362.5 209.1L362.5 210.3L362.5 211.6L362.5 212.8L362.5 214L362.5 215.2L362.5 216.5L362.5 217.7L362.5 218.9L362.5 220.2L362.5 221.4L362.5 222.6L362.5 222.8L361.3 223.1L360 223.3L358.8 223.6L357.7 223.8L357.6 223.9L356.4 224.2L355.1 224.4L353.9 224.7L352.7 225L352.1 225.1L351.4 225.2L350.2 225.3L349 225.4L347.7 225.5L346.5 225.6L345.3 225.7L344.1 225.8L342.8 226L341.6 226.2L341 226.3L340.4 226.4L339.1 226.6L337.9 226.9L336.7 227.1L335.5 227.4L334.3 227.5L334.2 227.5L333 227.6L331.8 227.7L330.5 227.7L329.3 227.8L328.1 227.8L326.9 227.9L325.6 228L324.4 228.1L323.2 228.2L321.9 228.3L320.7 228.5L319.5 228.7L318.9 228.8L318.2 228.9L317 229.1L315.8 229.3L314.6 229.5L313.3 229.8L312.4 230L312.1 230.1L310.9 230.3L309.6 230.6L308.4 230.8L307.2 231.1L306.3 231.2L306 231.3L304.7 231.5L303.5 231.6L302.3 231.7L301 231.7L299.8 231.7L298.6 231.7L297.4 231.6L296.1 231.6L294.9 231.5L293.7 231.4L292.4 231.4L291.2 231.3L290 231.3L288.7 231.4L287.5 231.5L286.3 231.7L285.1 231.9L283.8 232.2L282.7 232.5L282.6 232.5L281.4 232.6L280.1 232.6L278.9 232.5L278.7 232.5L277.7 232.3L276.5 232.2L275.2 232.1L274 231.9L272.8 231.8L271.5 231.7L270.3 231.6L269.1 231.5L267.9 231.5L266.6 231.4L265.4 231.4L264.2 231.4L262.9 231.5L261.7 231.4L260.5 231.3L259.8 231.2L259.2 231.2L258 231L256.8 230.9L255.6 230.8L254.3 230.7L253.1 230.6L253.1 230L253.1 228.8L253.1 227.5L253.1 226.3L253.1 225.1L253.1 223.8L253.1 222.6L253.1 221.4L253.1 220.2L253.1 218.9L253.1 217.7L253.1 216.5L253.1 215.2L253.1 214L253.1 212.8L253.1 211.6L253.1 210.3L253.1 209.1L253.1 207.9L253.1 206.6L253.1 205.4L253.1 204.2L253.1 203L253.1 201.7L253.1 200.5L253.1 199.3L253.1 198L253.1 196.8L253.1 195.6L253.1 194.3L253.1 193.1L253.1 191.9L253.1 190.7L253.1 189.4L253.1 188.2L253.1 187L253.1 185.7L253.1 184.5L253.1 183.3L253.1 182.1L253.1 180.8L253.1 179.6L253.1 178.4L253.1 177.1L253.1 175.9L253.1 174.7L253.1 173.5L253.1 172.2L253.1 171L253.1 169.8L253.1 168.5L253.1 167.3L253.1 166.1L253.1 164.8L253.1 163.6L253.1 162.4L253.1 161.2L253.1 159.9L253.1 158.7L254.3 158.7Z" fill="#00ccff" fill-rule="evenodd"/>
<path d="M254.3 158.7L255.6 158.7L256.8 158.7L258 158.7L259.2 158.7L260.5 158.7L261.7 158.7L262.9 158.7L264.2 158.7L265.4 158.7L266.6 158.7L267.9 158.7L269.1 158.7L270.3 158.7L271.5 158.7L272.8 158.7L274 158.7L275.2 158.7L276.5 158.7L277.7 158.7L278.9 158.7L280.1 158.7L281.4 158.7L282.6 158.7L283.8 158.7L285.1 158.7L286.3 158.7L287.5 158.7L288.7 158.7L290 158.7L291.2 158.7L292.4 158.7L293.7 158.7L294.9 158.7L296.1 158.7L297.4 158.7L298.6 158.7L299.8 158.7L301 158.7L302.3 158.7L303.5 158.7L304.7 158.7L306 158.7L307.2 158.7L308.4 158.7L309.6 158.7L310.9 158.7L312.1 158.7L313.3 158.7L314.6 158.7L315.8 158.7L317 158.7L318.2 158.7L319.5 158.7L320.7 158.7L321.9 158.7L323.2 158.7L324.4 158.7L325.6 158.7L326.9 158.7L328.1 158.7L329.3 158.7L330.5 158.7L331.8 158.7L333 158.7L334.2 158.7L335.5 158.7L336.7 158.7L337.9 158.7L339.1 158.7L340.4 158.7L341.6 158.7L342.8 158.7L344.1 158.7L345.3 158.7L346.5 158.7L347.7 158.7L349 158.7L350.2 158.7L351.4 158.7L352.7 158.7L353.9 158.7L355.1 158.7L356.4 158.7L357.6 158.7L358.8 158.7L360 158.7L361.3 158.7L362.5 158.7L362.5 159.9L362.5 161.2L362.5 162.4L362.5 163.6L362.5 164.8L362.5 166.1L362.5 167.3L362.5 168.5L362.5 169.8L362.5 171L362.5 172.2L362.5 173.5L362.5 174.7L362.5 175.9L362.5 177.1L362.5 178.4L362.5 179.6L362.5 180.8L362.5 182.1L362.5 183.3L362.5 184.5L362.5 185.7L362.5 187L362.5 188.2L362.5 189.4L362.5 190.7L362.5 191.9L362.5 193.1L362.5 194.3L362.5 195.6L362.5 196.8L362.5 198L362.5 199.3L362.5 200.5L362.5 201.7L362.5 203L362.5 204.2L362.5 205.4L362.5 206.6L362.5 207.9L362.5 209.1L362.5 210.3L362.5 211.6L362.5 212.8L362.5 214L362.5 215.2L362.5 216.5L362.5 217.7L362.5 218.9L362.5 219.1L361.3 219.3L360 219.5L358.8 219.8L357.6 220.1L357.2 220.2L356.4 220.4L355.1 220.7L353.9 221L352.7 221.4L352.7 221.4L351.4 221.8L350.2 222.2L349 222.5L348.6 222.6L347.7 222.8L346.5 223.1L345.3 223.4L344.1 223.7L343.4 223.8L342.8 224L341.6 224.2L340.4 224.5L339.1 224.8L337.9 225L337.7 225.1L336.7 225.3L335.5 225.5L334.2 225.7L333 225.9L331.8 226L330.5 226.1L329.3 226.2L328.1 226.3L327.8 226.3L326.9 226.4L325.6 226.5L324.4 226.6L323.2 226.7L321.9 226.8L320.7 227L319.5 227.2L318.2 227.3L317.1 227.5L317 227.6L315.8 227.8L314.6 228L313.3 228.3L312.1 228.5L310.9 228.8L310.9 228.8L309.6 229L308.4 229.3L307.2 229.5L306 229.7L304.7 229.9L303.9 230L303.5 230L302.3 230.1L301 230.2L299.8 230.2L298.6 230.1L297.4 230.1L296.4 230L296.1 230L294.9 229.9L293.7 229.8L292.4 229.7L291.2 229.7L290 229.7L288.7 229.7L287.5 229.7L286.3 229.8L285.1 229.9L283.8 229.9L282.9 230L282.6 230L281.4 230.1L280.1 230.1L278.9 230.1L277.7 230.1L276.5 230L276.1 230L275.2 229.9L274 229.8L272.8 229.7L271.5 229.6L270.3 229.5L269.1 229.4L267.9 229.2L266.6 229.1L265.4 229L264.2 228.9L263.2 228.8L262.9 228.7L261.7 228.6L260.5 228.5L259.2 228.4L258 228.3L256.8 228.2L255.6 228.2L254.3 228.1L253.1 228L253.1 227.5L253.1 226.3L253.1 225.1L253.1 223.8L253.1 222.6L253.1 221.4L253.1 220.2L253.1 218.9L253.1 217.7L253.1 216.5L253.1 215.2L253.1 214L253.1 212.8L253.1 211.6L253.1 210.3L253.1 209.1L253.1 207.9L253.1 206.6L253.1 205.4L253.1 204.2L253.1 203L253.1 201.7L253.1 200.5L253.1 199.3L253.1 198L253.1 196.8L253.1 195.6L253.1 194.3L253.1 193.1L253.1 191.9L253.1 190.7L253.1 189.4L253.1 188.2L253.1 187L253.1 185.7L253.1 184.5L253.1 183.3L253.1 182.1L253.1 180.8L253.1 179.6L253.1 178.4L253.1 177.1L253.1 175.9L253.1 174.7L253.1 173.5L253.1 172.2L253.1 171L253.1 169.8L253.1 168.5L253.1 167.3L253.1 166.1L253.1 164.8L253.1 163.6L253.1 162.4L253.1 161.2L253.1 159.9L253.1 158.7L254.3 158.7Z" fill="#02e8f4" fill-rule="evenodd"/>
<path d="M254.3 158.7L255.6 158.7L256.8 158.7L258 158.7L259.2 158.7L260.5 158.7L261.7 158.7L262.9 158.7L264.2 158.7L265.4 158.7L266.6 158.7L267.9 158.7L269.1 158.7L270.3 158.7L271.5 158.7L272.8 158.7L274 158.7L275.2 158.7L276.5 158.7L277.7 158.7L278.9 158.7L280.1 158.7L281.4 158.7L282.6 158.7L283.8 158.7L285.1 158.7L286.3 158.7L287.5 158.7L288.7 158.7L290 158.7L291.2 158.7L292.4 158.7L293.7 158.7L294.9 158.7L296.1 158.7L297.4 158.7L298.6 158.7L299.8 158.7L301 158.7L302.3 158.7L303.5 158.7L304.7 158.7L306 158.7L307.2 158.7L308.4 158.7L309.6 158.7L310.9 158.7L312.1 158.7L313.3 158.7L314.6 158.7L315.8 158.7L317 158.7L318.2 158.7L319.5 158.7L320.7 158.7L321.9 158.7L323.2 158.7L324.4 158.7L325.6 158.7L326.9 158.7L328.1 158.7L329.3 158.7L330.5 158.7L331.8 158.7L333 158.7L334.2 158.7L335.5 158.7L336.7 158.7L337.9 158.7L339.1 158.7L340.4 158.7L341.6 158.7L342.8 158.7L344.1 158.7L345.3 158.7L346.5 158.7L347.7 158.7L349 158.7L350.2 158.7L351.4 158.7L352.7 158.7L353.9 158.7L355.1 158.7L356.4 158.7L357.6 158.7L358.8 158.7L360 158.7L361.3 158.7L362.5 158.7L362.5 159.9L362.5 161.2L362.5 162.4L362.5 163.6L362.5 164.8L362.5 166.1L362.5 167.3L362.5 168.5L362.5 169.8L362.5 171L362.5 172.2L362.5 173.5L362.5 174.7L362.5 175.9L362.5 177.1L362.5 178.4L362.5 179.6L362.5 180.8L362.5 182.1L362.5 183.3L362.5 184.5L362.5 185.7L362.5 187L362.5 188.2L362.5 189.4L362.5 190.7L362.5 191.9L362.5 193.1L362.5 194.3L362.5 195.6L362.5 196.8L362.5 198L362.5 199.3L362.5 200.5L362.5 201.7L362.5 203L362.5 204.2L362.5 205.4L362.5 206.6L362.5 207.9L362.5 209.1L362.5 210.3L362.5 211.6L362.5 212.8L362.5 214L362.5 215.2L362.5 215.5L361.3 215.7L360 215.9L358.8 216.2L357.6 216.4L357.3 216.5L356.4 216.7L355.1 217L353.9 217.3L352.7 217.7L352.7 217.7L351.4 218.2L350.2 218.7L349.8 218.9L349 219.3L347.7 219.9L347.2 220.2L346.5 220.4L345.3 220.9L344.1 221.4L344 221.4L342.8 221.8L341.6 222.2L340.4 222.6L340.1 222.6L339.1 222.9L337.9 223.2L336.7 223.4L335.5 223.6L334.4 223.8L334.2 223.9L333 224.1L331.8 224.3L330.5 224.5L329.3 224.6L328.1 224.7L326.9 224.8L325.6 224.9L324.4 225.1L324.2 225.1L323.2 225.2L321.9 225.3L320.7 225.5L319.5 225.6L318.2 225.8L317 226L315.8 226.2L315.4 226.3L314.6 226.5L313.3 226.7L312.1 226.9L310.9 227.2L309.6 227.4L309.2 227.5L308.4 227.7L307.2 227.9L306 228.2L304.7 228.3L303.5 228.5L302.3 228.6L301 228.6L299.8 228.6L298.6 228.6L297.4 228.5L296.1 228.4L294.9 228.3L293.7 228.2L292.4 228.1L291.2 228.1L290 228L288.7 228L287.5 228L286.3 227.9L285.1 227.9L283.8 227.9L282.6 227.8L281.4 227.8L280.1 227.9L278.9 227.9L277.7 228L276.5 227.9L275.2 227.9L274 227.8L272.8 227.7L271.6 227.5L271.5 227.5L270.3 227.4L269.1 227.2L267.9 227L266.6 226.8L265.4 226.6L264.2 226.3L264 226.3L262.9 226.1L261.7 225.9L260.5 225.8L259.2 225.8L258 225.7L256.8 225.7L255.6 225.6L254.3 225.6L253.1 225.5L253.1 225.1L253.1 223.8L253.1 222.6L253.1 221.4L253.1 220.2L253.1 218.9L253.1 217.7L253.1 216.5L253.1 215.2L253.1 214L253.1 212.8L253.1 211.6L253.1 210.3L253.1 209.1L253.1 207.9L253.1 206.6L253.1 205.4L253.1 204.2L253.1 203L253.1 201.7L253.1 200.5L253.1 199.3L253.1 198L253.1 196.8L253.1 195.6L253.1 194.3L253.1 193.1L253.1 191.9L253.1 190.7L253.1 189.4L253.1 188.2L253.1 187L253.1 185.7L253.1 184.5L253.1 183.3L253.1 182.1L253.1 180.8L253.1 179.6L253.1 178.4L253.1 177.1L253.1 175.9L253.1 174.7L253.1 173.5L253.1 172.2L253.1 171L253.1 169.8L253.1 168.5L253.1 167.3L253.1 166.1L253.1 164.8L253.1 163.6L253.1 162.4L253.1 161.2L253.1 159.9L253.1 158.7L254.3 158.7Z" fill="#15ffe1" fill-rule="evenodd"/>
<path d="M254.3 158.7L255.6 158.7L256.8 158.7L258 158.7L259.2 158.7L260.5 158.7L261.7 158.7L262.9 158.7L264.2 158.7L265.4 158.7L266.6 158.7L267.9 158.7L269.1 158.7L270.3 158.7L271.5 158.7L272.8 158.7L274 158.7L275.2 158.7L276.5 158.7L277.7 158.7L278.9 158.7L280.1 158.7L281.4 158.7L282.6 158.7L283.8 158.7L285.1 158.7L286.3 158.7L287.5 158.7L288.7 158.7L290 158.7L291.2 158.7L292.4 158.7L293.7 158.7L294.9 158.7L296.1 158.7L297.4 158.7L298.6 158.7L299.8 158.7L301 158.7L302.3 158.7L303.5 158.7L304.7 158.7L306 158.7L307.2 158.7L308.4 158.7L309.6 158.7L310.9 158.7L312.1 158.7L313.3 158.7L314.6 158.7L315.8 158.7L317 158.7L318.2 158.7L319.5 158.7L320.7 158.7L321.9 158.7L323.2 158.7L324.4 158.7L325.6 158.7L326.9 158.7L328.1 158.7L329.3 158.7L330.5 158.7L331.8 158.7L333 158.7L334.2 158.7L335.5 158.7L336.7 158.7L337.9 158.7L339.1 158.7L340.4 158.7L341.6 158.7L342.8 158.7L344.1 158.7L345.3 158.7L346.5 158.7L347.7 158.7L349 158.7L350.2 158.7L351.4 158.7L352.7 158.7L353.9 158.7L355.1 158.7L356.4 158.7L357.6 158.7L358.8 158.7L360 158.7L361.3 158.7L362.5 158.7L362.5 159.9L362.5 161.2L362.5 162.4L362.5 163.6L362.5 164.8L362.5 166.1L362.5 167.3L362.5 168.5L362.5 169.8L362.5 171L362.5 172.2L362.5 173.5L362.5 174.7L362.5 175.9L362.5 177.1L362.5 178.4L362.5 179.6L362.5 180.8L362.5 182.1L362.5 183.3L362.5 184.5L362.5 185.7L362.5 187L362.5 188.2L362.5 189.4L362.5 190.7L362.5 191.9L362.5 193.1L362.5 194.3L362.5 195.6L362.5 196.8L362.5 198L362.5 199.3L362.5 200.5L362.5 201.7L362.5 203L362.5 204.2L362.5 205.4L362.5 206.6L362.5 207.9L362.5 209.1L362.5 210.3L362.5 211.6L362.5 212.2L361.3 212.4L360 212.7L359.6 212.8L358.8 212.9L357.6 213.2L356.4 213.5L355.1 213.8L354.3 214L353.9 214.1L352.7 214.5L351.4 215L350.9 215.2L350.2 215.6L349 216.2L348.6 216.5L347.7 216.9L346.5 217.6L346.4 217.7L345.3 218.3L344.1 218.9L344.1 218.9L342.8 219.5L341.6 220.1L341.3 220.2L340.4 220.5L339.1 221L337.9 221.3L337.7 221.4L336.7 221.7L335.5 221.9L334.2 222.2L333 222.4L331.9 222.6L331.8 222.6L330.5 222.8L329.3 223L328.1 223.1L326.9 223.3L325.6 223.4L324.4 223.5L323.2 223.6L321.9 223.8L321.5 223.8L320.7 223.9L319.5 224.1L318.2 224.3L317 224.5L315.8 224.7L314.6 224.9L313.5 225.1L313.3 225.1L312.1 225.3L310.9 225.6L309.6 225.8L308.4 226.1L307.3 226.3L307.2 226.3L306 226.6L304.7 226.8L303.5 226.9L302.3 227L301 227.1L299.8 227L298.6 227L297.4 226.9L296.1 226.8L294.9 226.7L293.7 226.6L292.4 226.5L291.2 226.4L290 226.4L288.7 226.3L288.3 226.3L287.5 226.3L286.3 226.2L285.1 226.2L283.8 226.1L282.6 226L281.4 226L280.1 226L278.9 226.1L277.7 226L276.5 226L275.2 225.9L274 225.8L272.8 225.7L271.5 225.5L270.3 225.3L269.1 225.1L268.8 225.1L267.9 224.9L266.6 224.7L265.4 224.4L264.2 224.2L262.9 223.9L262.5 223.8L261.7 223.7L260.5 223.6L259.2 223.5L258 223.4L256.8 223.4L255.6 223.3L254.3 223.2L253.1 223.1L253.1 222.6L253.1 221.4L253.1 220.2L253.1 218.9L253.1 217.7L253.1 216.5L253.1 215.2L253.1 214L253.1 212.8L253.1 211.6L253.1 210.3L253.1 209.1L253.1 207.9L253.1 206.6L253.1 205.4L253.1 204.2L253.1 203L253.1 201.7L253.1 200.5L253.1 199.3L253.1 198L253.1 196.8L253.1 195.6L253.1 194.3L253.1 193.1L253.1 191.9L253.1 190.7L253.1 189.4L253.1 188.2L253.1 187L253.1 185.7L253.1 184.5L253.1 183.3L253.1 182.1L253.1 180.8L253.1 179.6L253.1 178.4L253.1 177.1L253.1 175.9L253.1 174.7L253.1 173.5L253.1 172.2L253.1 171L253.1 169.8L253.1 168.5L253.1 167.3L253.1 166.1L253.1 164.8L253.1 163.6L253.1 162.4L253.1 161.2L253.1 159.9L253.1 158.7L254.3 158.7Z" fill="#2cffca" fill-rule="evenodd"/>
<path d="M254.3 158.7L255.6 158.7L256.8 158.7L258 158.7L259.2 158.7L260.5 158.7L261.7 158.7L262.9 158.7L264.2 158.7L265.4 158.7L266.6 158.7L267.9 158.7L269.1 158.7L270.3 158.7L271.5 158.7L272.8 158.7L274 158.7L275.2 158.7L276.5 158.7L277.7 158.7L278.9 158.7L280.1 158.7L281.4 158.7L282.6 158.7L283.8 158.7L285.1 158.7L286.3 158.7L287.5 158.7L288.7 158.7L290 158.7L291.2 158.7L292.4 158.7L293.7 158.7L294.9 158.7L296.1 158.7L297.4 158.7L298.6 158.7L299.8 158.7L301 158.7L302.3 158.7L303.5 158.7L304.7 158.7L306 158.7L307.2 158.7L308.4 158.7L309.6 158.7L310.9 158.7L312.1 158.7L313.3 158.7L314.6 158.7L315.8 158.7L317 158.7L318.2 158.7L319.5 158.7L320.7 158.7L321.9 158.7L323.2 158.7L324.4 158.7L325.6 158.7L326.9 158.7L328.1 158.7L329.3 158.7L330.5 158.7L331.8 158.7L333 158.7L334.2 158.7L335.5 158.7L336.7 158.7L337.9 158.7L339.1 158.7L340.4 158.7L341.6 158.7L342.8 158.7L344.1 158.7L345.3 158.7L346.5 158.7L347.7 158.7L349 158.7L350.2 158.7L351.4 158.7L352.7 158.7L353.9 158.7L355.1 158.7L356.4 158.7L357.6 158.7L358.8 158.7L360 158.7L361.3 158.7L362.5 158.7L362.5 159.9L362.5 161.2L362.5 162.4L362.5 163.6L362.5 164.8L362.5 166.1L362.5 167.3L362.5 168.5L362.5 169.8L362.5 171L362.5 172.2L362.5 173.5L362.5 174.7L362.5 175.9L362.5 177.1L362.5 178.4L362.5 179.6L362.5 180.8L362.5 182.1L362.5 183.3L362.5 184.5L362.5 185.7L362.5 187L362.5 188.2L362.5 189.4L362.5 190.7L362.5 191.9L362.5 193.1L362.5 194.3L362.5 195.6L362.5 196.8L362.5 198L362.5 199.3L362.5 200.5L362.5 201.7L362.5 203L362.5 204.2L362.5 205.4L362.5 206.6L362.5 207.9L362.5 209.1L362.5 209.2L361.3 209.5L360 209.8L358.8 210.1L357.8 210.3L357.6 210.4L356.4 210.7L355.1 211L353.9 211.4L353.3 211.6L352.7 211.8L351.4 212.3L350.3 212.8L350.2 212.8L349 213.5L348.1 214L347.7 214.2L346.5 215L346.1 215.2L345.3 215.7L344.1 216.5L344 216.5L342.8 217.2L341.8 217.7L341.6 217.8L340.4 218.4L339.3 218.9L339.1 219L337.9 219.5L336.7 219.9L335.9 220.2L335.5 220.3L334.2 220.6L333 220.8L331.8 221L330.5 221.2L329.3 221.4L329.1 221.4L328.1 221.5L326.9 221.7L325.6 221.8L324.4 221.9L323.2 222.1L321.9 222.2L320.7 222.4L319.5 222.6L319 222.6L318.2 222.7L317 222.9L315.8 223.1L314.6 223.3L313.3 223.5L312.1 223.7L311.4 223.8L310.9 223.9L309.6 224.2L308.4 224.4L307.2 224.7L306 224.9L304.9 225.1L304.7 225.1L303.5 225.3L302.3 225.4L301 225.4L299.8 225.4L298.6 225.3L297.4 225.3L296.1 225.2L295.1 225.1L294.9 225.1L293.7 225L292.4 224.9L291.2 224.8L290 224.8L288.7 224.7L287.5 224.7L286.3 224.6L285.1 224.6L283.8 224.5L282.6 224.5L281.4 224.5L280.1 224.4L278.9 224.4L277.7 224.3L276.5 224.2L275.2 224.1L274 223.9L273.4 223.8L272.8 223.8L271.5 223.6L270.3 223.4L269.1 223.2L267.9 222.9L266.6 222.7L266.3 222.6L265.4 222.4L264.2 222.2L262.9 222L261.7 221.8L260.5 221.7L259.2 221.5L258.5 221.4L258 221.3L256.8 221.2L255.6 221L254.3 220.9L253.1 220.8L253.1 220.2L253.1 218.9L253.1 217.7L253.1 216.5L253.1 215.2L253.1 214L253.1 212.8L253.1 211.6L253.1 210.3L253.1 209.1L253.1 207.9L253.1 206.6L253.1 205.4L253.1 204.2L253.1 203L253.1 201.7L253.1 200.5L253.1 199.3L253.1 198L253.1 196.8L253.1 195.6L253.1 194.3L253.1 193.1L253.1 191.9L253.1 190.7L253.1 189.4L253.1 188.2L253.1 187L253.1 185.7L253.1 184.5L253.1 183.3L253.1 182.1L253.1 180.8L253.1 179.6L253.1 178.4L253.1 177.1L253.1 175.9L253.1 174.7L253.1 173.5L253.1 172.2L253.1 171L253.1 169.8L253.1 168.5L253.1 167.3L253.1 166.1L253.1 164.8L253.1 163.6L253.1 162.4L253.1 161.2L253.1 159.9L253.1 158.7L254.3 158.7Z" fill="#3fffb7" fill-rule="evenodd"/>
<path d="M254.3 158.7L255.6 158.7L256.8 158.7L258 158.7L259.2 158.7L260.5 158.7L261.7 158.7L262.9 158.7L264.2 158.7L265.4 158.7L266.6 158.7L267.9 158.7L269.1 158.7L270.3 158.7L271.5 158.7L272.8 158.7L274 158.7L275.2 158.7L276.5 158.7L277.7 158.7L278.9 158.7L280.1 158.7L281.4 158.7L282.6 158.7L283.8 158.7L285.1 158.7L286.3 158.7L287.5 158.7L288.7 158.7L290 158.7L291.2 158.7L292.4 158.7L293.7 158.7L294.9 158.7L296.1 158.7L297.4 158.7L298.6 158.7L299.8 158.7L301 158.7L302.3 158.7L303.5 158.7L304.7 158.7L306 158.7L307.2 158.7L308.4 158.7L309.6 158.7L310.9 158.7L312.1 158.7L313.3 158.7L314.6 158.7L315.8 158.7L317 158.7L318.2 158.7L319.5 158.7L320.7 158.7L321.9 158.7L323.2 158.7L324.4 158.7L325.6 158.7L326.9 158.7L328.1 158.7L329.3 158.7L330.5 158.7L331.8 158.7L333 158.7L334.2 158.7L335.5 158.7L336.7 158.7L337.9 158.7L339.1 158.7L340.4 158.7L341.6 158.7L342.8 158.7L344.1 158.7L345.3 158.7L346.5 158.7L347.7 158.7L349 158.7L350.2 158.7L351.4 158.7L352.7 158.7L353.9 158.7L355.1 158.7L356.4 158.7L357.6 158.7L358.8 158.7L360 158.7L361.3 158.7L362.5 158.7L362.5 159.9L362.5 161.2L362.5 162.4L362.5 163.6L362.5 164.8L362.5 166.1L362.5 167.3L362.5 168.5L362.5 169.8L362.5 171L362.5 172.2L362.5 173.5L362.5 174.7L362.5 175.9L362.5 177.1L362.5 178.4L362.5 179.6L362.5 180.8L362.5 182.1L362.5 183.3L362.5 184.5L362.5 185.7L362.5 187L362.5 188.2L362.5 189.4L362.5 190.7L362.5 191.9L362.5 193.1L362.5 194.3L362.5 195.6L362.5 196.8L362.5 198L362.5 199.3L362.5 200.5L362.5 201.7L362.5 203L362.5 204.2L362.5 205.4L362.5 206.3L361.3 206.6L361.3 206.7L360 207L358.8 207.4L357.6 207.8L357.3 207.9L356.4 208.2L355.1 208.6L353.9 209L353.5 209.1L352.7 209.4L351.4 209.8L350.3 210.3L350.2 210.4L349 211.1L348.1 211.6L347.7 211.8L346.5 212.5L346.1 212.8L345.3 213.3L344.1 214L344.1 214L342.8 214.8L342 215.2L341.6 215.5L340.4 216.2L339.9 216.5L339.1 216.8L337.9 217.5L337.4 217.7L336.7 218L335.5 218.5L334.2 218.9L334 218.9L333 219.1L331.8 219.3L330.5 219.5L329.3 219.7L328.1 219.9L326.9 220L326 220.2L325.6 220.2L324.4 220.4L323.2 220.5L321.9 220.7L320.7 220.8L319.5 221L318.2 221.1L317 221.3L316.5 221.4L315.8 221.5L314.6 221.7L313.3 221.9L312.1 222.1L310.9 222.3L309.6 222.5L308.9 222.6L308.4 222.7L307.2 222.9L306 223.1L304.7 223.4L303.5 223.5L302.3 223.7L301 223.7L299.8 223.7L298.6 223.6L297.4 223.6L296.1 223.5L294.9 223.4L293.7 223.3L292.4 223.2L291.2 223.2L290 223.1L288.7 223.1L287.5 223.1L286.3 223L285.1 223L283.8 223L282.6 223L281.4 222.9L280.1 222.8L278.9 222.7L278 222.6L277.7 222.6L276.5 222.4L275.2 222.3L274 222.1L272.8 221.9L271.5 221.7L270.3 221.5L269.8 221.4L269.1 221.3L267.9 221L266.6 220.8L265.4 220.6L264.2 220.3L263 220.2L262.9 220.1L261.7 219.9L260.5 219.7L259.2 219.5L258 219.2L256.8 219L256.1 218.9L255.6 218.9L254.3 218.7L253.1 218.5L253.1 217.7L253.1 216.5L253.1 215.2L253.1 214L253.1 212.8L253.1 211.6L253.1 210.3L253.1 209.1L253.1 207.9L253.1 206.6L253.1 205.4L253.1 204.2L253.1 203L253.1 201.7L253.1 200.5L253.1 199.3L253.1 198L253.1 196.8L253.1 195.6L253.1 194.3L253.1 193.1L253.1 191.9L253.1 190.7L253.1 189.4L253.1 188.2L253.1 187L253.1 185.7L253.1 184.5L253.1 183.3L253.1 182.1L253.1 180.8L253.1 179.6L253.1 178.4L253.1 177.1L253.1 175.9L253.1 174.7L253.1 173.5L253.1 172.2L253.1 171L253.1 169.8L253.1 168.5L253.1 167.3L253.1 166.1L253.1 164.8L253.1 163.6L253.1 162.4L253.1 161.2L253.1 159.9L253.1 158.7L254.3 158.7Z" fill="#53ffa3" fill-rule="evenodd"/>
<path d="M254.3 158.7L255.6 158.7L256.8 158.7L258 158.7L259.2 158.7L260.5 158.7L261.7 158.7L262.9 158.7L264.2 158.7L265.4 158.7L266.6 158.7L267.9 158.7L269.1 158.7L270.3 158.7L271.5 158.7L272.8 158.7L274 158.7L275.2 158.7L276.5 158.7L277.7 158.7L278.9 158.7L280.1 158.7L281.4 158.7L282.6 158.7L283.8 158.7L285.1 158.7L286.3 158.7L287.5 158.7L288.7 158.7L290 158.7L291.2 158.7L292.4 158.7L293.7 158.7L294.9 158.7L296.1 158.7L297.4 158.7L298.6 158.7L299.8 158.7L301 158.7L302.3 158.7L303.5 158.7L304.7 158.7L306 158.7L307.2 158.7L308.4 158.7L309.6 158.7L310.9 158.7L312.1 158.7L313.3 158.7L314.6 158.7L315.8 158.7L317 158.7L318.2 158.7L319.5 158.7L320.7 158.7L321.9 158.7L323.2 158.7L324.4 158.7L325.6 158.7L326.9 158.7L328.1 158.7L329.3 158.7L330.5 158.7L331.8 158.7L333 158.7L334.2 158.7L335.5 158.7L336.7 158.7L337.9 158.7L339.1 158.7L340.4 158.7L341.6 158.7L342.8 158.7L344.1 158.7L345.3 158.7L346.5 158.7L347.7 158.7L349 158.7L350.2 158.7L351.4 158.7L352.7 158.7L353.9 158.7L355.1 158.7L356.4 158.7L357.6 158.7L358.8 158.7L360 158.7L361.3 158.7L362.5 158.7L362.5 159.9L362.5 161.2L362.5 162.4L362.5 163.6L362.5 164.8L362.5 166.1L362.5 167.3L362.5 168.5L362.5 169.8L362.5 171L362.5 172.2L362.5 173.5L362.5 174.7L362.5 175.9L362.5 177.1L362.5 178.4L362.5 179.6L362.5 180.8L362.5 182.1L362.5 183.3L362.5 184.5L362.5 185.7L362.5 187L362.5 188.2L362.5 189.4L362.5 190.7L362.5 191.9L362.5 193.1L362.5 194.3L362.5 195.6L362.5 196.8L362.5 198L362.5 199.3L362.5 200.5L362.5 201.7L362.5 203L362.5 203.5L361.3 203.9L360.6 204.2L360 204.4L358.8 204.8L357.6 205.2L357.2 205.4L356.4 205.7L355.1 206.2L354.1 206.6L353.9 206.7L352.7 207.2L351.4 207.7L351.1 207.9L350.2 208.3L349 208.9L348.5 209.1L347.7 209.5L346.5 210.2L346.3 210.3L345.3 211L344.3 211.6L344.1 211.7L342.8 212.4L342.2 212.8L341.6 213.2L340.4 213.9L340.1 214L339.1 214.6L337.9 215.2L337.9 215.2L336.7 215.9L335.5 216.5L335.4 216.5L334.2 216.9L333 217.3L331.8 217.5L331 217.7L330.5 217.8L329.3 218L328.1 218.2L326.9 218.4L325.6 218.6L324.4 218.7L323.2 218.9L323 218.9L321.9 219.1L320.7 219.2L319.5 219.4L318.2 219.5L317 219.7L315.8 219.9L314.6 220L313.6 220.2L313.3 220.2L312.1 220.4L310.9 220.5L309.6 220.7L308.4 220.9L307.2 221.1L306 221.3L305.5 221.4L304.7 221.5L303.5 221.7L302.3 221.8L301 221.9L299.8 221.9L298.6 221.8L297.4 221.8L296.1 221.7L294.9 221.7L293.7 221.6L292.4 221.6L291.2 221.6L290 221.5L288.7 221.5L287.5 221.5L286.3 221.5L285.1 221.4L283.8 221.4L282.6 221.4L282.3 221.4L281.4 221.3L280.1 221.2L278.9 221.1L277.7 220.9L276.5 220.7L275.2 220.5L274 220.3L272.9 220.2L272.8 220.1L271.5 219.9L270.3 219.7L269.1 219.4L267.9 219.2L266.8 218.9L266.6 218.9L265.4 218.6L264.2 218.4L262.9 218.2L261.7 217.9L260.8 217.7L260.5 217.6L259.2 217.4L258 217.1L256.8 216.9L255.6 216.7L254.3 216.5L254.1 216.5L253.1 216.3L253.1 215.2L253.1 214L253.1 212.8L253.1 211.6L253.1 210.3L253.1 209.1L253.1 207.9L253.1 206.6L253.1 205.4L253.1 204.2L253.1 203L253.1 201.7L253.1 200.5L253.1 199.3L253.1 198L253.1 196.8L253.1 195.6L253.1 194.3L253.1 193.1L253.1 191.9L253.1 190.7L253.1 189.4L253.1 188.2L253.1 187L253.1 185.7L253.1 184.5L253.1 183.3L253.1 182.1L253.1 180.8L253.1 179.6L253.1 178.4L253.1 177.1L253.1 175.9L253.1 174.7L253.1 173.5L253.1 172.2L253.1 171L253.1 169.8L253.1 168.5L253.1 167.3L253.1 166.1L253.1 164.8L253.1 163.6L253.1 162.4L253.1 161.2L253.1 159.9L253.1 158.7L254.3 158.7Z" fill="#69ff8d" fill-rule="evenodd"/>
<path d="M254.3 158.7L255.6 158.7L256.8 158.7L258 158.7L259.2 158.7L260.5 158.7L261.7 158.7L262.9 158.7L264.2 158.7L265.4 158.7L266.6 158.7L267.9 158.7L269.1 158.7L270.3 158.7L271.5 158.7L272.8 158.7L274 158.7L275.2 158.7L276.5 158.7L277.7 158.7L278.9 158.7L280.1 158.7L281.4 158.7L282.6 158.7L283.8 158.7L285.1 158.7L286.3 158.7L287.5 158.7L288.7 158.7L290 158.7L291.2 158.7L292.4 158.7L293.7 158.7L294.9 158.7L296.1 158.7L297.4 158.7L298.6 158.7L299.8 158.7L301 158.7L302.3 158.7L303.5 158.7L304.7 158.7L306 158.7L307.2 158.7L308.4 158.7L309.6 158.7L310.9 158.7L312.1 158.7L313.3 158.7L314.6 158.7L315.8 158.7L317 158.7L318.2 158.7L319.5 158.7L320.7 158.7L321.9 158.7L323.2 158.7L324.4 158.7L325.6 158.7L326.9 158.7L328.1 158.7L329.3 158.7L330.5 158.7L331.8 158.7L333 158.7L334.2 158.7L335.5 158.7L336.7 158.7L337.9 158.7L339.1 158.7L340.4 158.7L341.6 158.7L342.8 158.7L344.1 158.7L345.3 158.7L346.5 158.7L347.7 158.7L349 158.7L350.2 158.7L351.4 158.7L352.7 158.7L353.9 158.7L355.1 158.7L356.4 158.7L357.6 158.7L358.8 158.7L360 158.7L361.3 158.7L362.5 158.7L362.5 159.9L362.5 161.2L362.5 162.4L362.5 163.6L362.5 164.8L362.5 166.1L362.5 167.3L362.5 168.5L362.5 169.8L362.5 171L362.5 172.2L362.5 173.5L362.5 174.7L362.5 175.9L362.5 177.1L362.5 178.4L362.5 179.6L362.5 180.8L362.5 182.1L362.5 183.3L362.5 184.5L362.5 185.7L362.5 187L362.5 188.2L362.5 189.4L362.5 190.7L362.5 191.9L362.5 193.1L362.5 194.3L362.5 195.6L362.5 196.8L362.5 198L362.5 199.3L362.5 200.5L362.5 200.8L361.3 201.3L360.2 201.7L360 201.8L358.8 202.2L357.6 202.7L357.1 203L356.4 203.2L355.1 203.8L354.3 204.2L353.9 204.4L352.7 205L351.9 205.4L351.4 205.6L350.2 206.2L349.4 206.6L349 206.8L347.7 207.4L347 207.9L346.5 208.1L345.3 208.8L344.8 209.1L344.1 209.5L342.8 210.2L342.7 210.3L341.6 210.9L340.5 211.6L340.4 211.6L339.1 212.3L338.2 212.8L337.9 213L336.7 213.6L335.8 214L335.5 214.2L334.2 214.7L333 215.2L332.9 215.2L331.8 215.6L330.5 215.9L329.3 216.2L328.1 216.5L328 216.5L326.9 216.7L325.6 216.9L324.4 217.1L323.2 217.3L321.9 217.4L320.7 217.6L320 217.7L319.5 217.8L318.2 217.9L317 218.1L315.8 218.2L314.6 218.4L313.3 218.5L312.1 218.7L310.9 218.8L309.7 218.9L309.6 218.9L308.4 219.1L307.2 219.2L306 219.4L304.7 219.5L303.5 219.7L302.3 219.8L301 219.9L299.8 219.9L298.6 219.9L297.4 219.9L296.1 219.9L294.9 219.9L293.7 219.9L292.4 219.9L291.2 219.9L290 219.9L288.7 219.9L287.5 219.9L286.3 219.8L285.1 219.8L283.8 219.8L282.6 219.7L281.4 219.6L280.1 219.5L278.9 219.4L277.7 219.2L276.5 219L275.9 218.9L275.2 218.8L274 218.6L272.8 218.4L271.5 218.1L270.3 217.9L269.6 217.7L269.1 217.6L267.9 217.3L266.6 217L265.4 216.7L264.5 216.5L264.2 216.4L262.9 216.1L261.7 215.8L260.5 215.5L259.5 215.2L259.2 215.2L258 214.9L256.8 214.7L255.6 214.5L254.3 214.3L253.1 214.2L253.1 214L253.1 212.8L253.1 211.6L253.1 210.3L253.1 209.1L253.1 207.9L253.1 206.6L253.1 205.4L253.1 204.2L253.1 203L253.1 201.7L253.1 200.5L253.1 199.3L253.1 198L253.1 196.8L253.1 195.6L253.1 194.3L253.1 193.1L253.1 191.9L253.1 190.7L253.1 189.4L253.1 188.2L253.1 187L253.1 185.7L253.1 184.5L253.1 183.3L253.1 182.1L253.1 180.8L253.1 179.6L253.1 178.4L253.1 177.1L253.1 175.9L253.1 174.7L253.1 173.5L253.1 172.2L253.1 171L253.1 169.8L253.1 168.5L253.1 167.3L253.1 166.1L253.1 164.8L253.1 163.6L253.1 162.4L253.1 161.2L253.1 159.9L253.1 158.7L254.3 158.7Z" fill="#7cff79" fill-rule="evenodd"/>
<path d="M254.3 158.7L255.6 158.7L256.8 158.7L258 158.7L259.2 158.7L260.5 158.7L261.7 158.7L262.9 158.7L264.2 158.7L265.4 158.7L266.6 158.7L267.9 158.7L269.1 158.7L270.3 158.7L271.5 158.7L272.8 158.7L274 158.7L275.2 158.7L276.5 158.7L277.7 158.7L278.9 158.7L280.1 158.7L281.4 158.7L282.6 158.7L283.8 158.7L285.1 158.7L286.3 158.7L287.5 158.7L288.7 158.7L290 158.7L291.2 158.7L292.4 158.7L293.7 158.7L294.9 158.7L296.1 158.7L297.4 158.7L298.6 158.7L299.8 158.7L301 158.7L302.3 158.7L303.5 158.7L304.7 158.7L306 158.7L307.2 158.7L308.4 158.7L309.6 158.7L310.9 158.7L312.1 158.7L313.3 158.7L314.6 158.7L315.8 158.7L317 158.7L318.2 158.7L319.5 158.7L320.7 158.7L321.9 158.7L323.2 158.7L324.4 158.7L325.6 158.7L326.9 158.7L328.1 158.7L329.3 158.7L330.5 158.7L331.8 158.7L333 158.7L334.2 158.7L335.5 158.7L336.7 158.7L337.9 158.7L339.1 158.7L340.4 158.7L341.6 158.7L342.8 158.7L344.1 158.7L345.3 158.7L346.5 158.7L347.7 158.7L349 158.7L350.2 158.7L351.4 158.7L352.7 158.7L353.9 158.7L355.1 158.7L356.4 158.7L357.6 158.7L358.8 158.7L360 158.7L361.3 158.7L362.5 158.7L362.5 159.9L362.5 161.2L362.5 162.4L362.5 163.6L362.5 164.8L362.5 166.1L362.5 167.3L362.5 168.5L362.5 169.8L362.5 171L362.5 172.2L362.5 173.5L362.5 174.7L362.5 175.9L362.5 177.1L362.5 178.4L362.5 179.6L362.5 180.8L362.5 182.1L362.5 183.3L362.5 184.5L362.5 185.7L362.5 187L362.5 188.2L362.5 189.4L362.5 190.7L362.5 191.9L362.5 193.1L362.5 194.3L362.5 195.6L362.5 196.8L362.5 198L362.5 198L361.3 198.6L360 199.2L359.9 199.3L358.8 199.7L357.6 200.3L357 200.5L356.4 200.8L355.1 201.3L354.2 201.7L353.9 201.9L352.7 202.5L351.9 203L351.4 203.3L350.2 204L349.9 204.2L349 204.7L347.7 205.4L347.7 205.4L346.5 206L345.5 206.6L345.3 206.7L344.1 207.5L343.3 207.9L342.8 208.2L341.6 208.8L341.1 209.1L340.4 209.5L339.1 210.2L338.8 210.3L337.9 210.8L336.7 211.4L336.3 211.6L335.5 212L334.2 212.5L333.7 212.8L333 213.1L331.8 213.6L330.5 214L330.5 214L329.3 214.4L328.1 214.7L326.9 214.9L325.6 215.2L325.3 215.2L324.4 215.4L323.2 215.6L321.9 215.8L320.7 216L319.5 216.1L318.2 216.3L317 216.4L316.8 216.5L315.8 216.6L314.6 216.7L313.3 216.8L312.1 216.9L310.9 217L309.6 217.1L308.4 217.2L307.2 217.3L306 217.4L304.7 217.5L303.5 217.6L302.3 217.7L301.9 217.7L301 217.8L299.8 217.9L298.6 218L297.4 218L296.1 218.1L294.9 218.2L293.7 218.2L292.4 218.3L291.2 218.3L290 218.3L288.7 218.3L287.5 218.3L286.3 218.2L285.1 218.2L283.8 218.1L282.6 218L281.4 217.9L280.1 217.8L279.3 217.7L278.9 217.7L277.7 217.5L276.5 217.3L275.2 217.2L274 216.9L272.8 216.7L271.9 216.5L271.5 216.4L270.3 216.1L269.1 215.8L267.9 215.4L267.2 215.2L266.6 215.1L265.4 214.7L264.2 214.3L263.1 214L262.9 214L261.7 213.6L260.5 213.3L259.2 213L258 212.8L258 212.8L256.8 212.6L255.6 212.4L254.3 212.3L253.1 212.1L253.1 211.6L253.1 210.3L253.1 209.1L253.1 207.9L253.1 206.6L253.1 205.4L253.1 204.2L253.1 203L253.1 201.7L253.1 200.5L253.1 199.3L253.1 198L253.1 196.8L253.1 195.6L253.1 194.3L253.1 193.1L253.1 191.9L253.1 190.7L253.1 189.4L253.1 188.2L253.1 187L253.1 185.7L253.1 184.5L253.1 183.3L253.1 182.1L253.1 180.8L253.1 179.6L253.1 178.4L253.1 177.1L253.1 175.9L253.1 174.7L253.1 173.5L253.1 172.2L253.1 171L253.1 169.8L253.1 168.5L253.1 167.3L253.1 166.1L253.1 164.8L253.1 163.6L253.1 162.4L253.1 161.2L253.1 159.9L253.1 158.7L254.3 158.7Z" fill="#93ff63" fill-rule="evenodd"/>
<path d="M254.3 158.7L255.6 158.7L256.8 158.7L258 158.7L259.2 158.7L260.5 158.7L261.7 158.7L262.9 158.7L264.2 158.7L265.4 158.7L266.6 158.7L267.9 158.7L269.1 158.7L270.3 158.7L271.5 158.7L272.8 158.7L274 158.7L275.2 158.7L276.5 158.7L277.7 158.7L278.9 158.7L280.1 158.7L281.4 158.7L282.6 158.7L283.8 158.7L285.1 158.7L286.3 158.7L287.5 158.7L288.7 158.7L290 158.7L291.2 158.7L292.4 158.7L293.7 158.7L294.9 158.7L296.1 158.7L297.4 158.7L298.6 158.7L299.8 158.7L301 158.7L302.3 158.7L303.5 158.7L304.7 158.7L306 158.7L307.2 158.7L308.4 158.7L309.6 158.7L310.9 158.7L312.1 158.7L313.3 158.7L314.6 158.7L315.8 158.7L317 158.7L318.2 158.7L319.5 158.7L320.7 158.7L321.9 158.7L323.2 158.7L324.4 158.7L325.6 158.7L326.9 158.7L328.1 158.7L329.3 158.7L330.5 158.7L331.8 158.7L333 158.7L334.2 158.7L335.5 158.7L336.7 158.7L337.9 158.7L339.1 158.7L340.4 158.7L341.6 158.7L342.8 158.7L344.1 158.7L345.3 158.7L346.5 158.7L347.7 158.7L349 158.7L350.2 158.7L351.4 158.7L352.7 158.7L353.9 158.7L355.1 158.7L356.4 158.7L357.6 158.7L358.8 158.7L360 158.7L361.3 158.7L362.5 158.7L362.5 159.9L362.5 161.2L362.5 162.4L362.5 163.6L362.5 164.8L362.5 166.1L362.5 167.3L362.5 168.5L362.5 169.8L362.5 171L362.5 172.2L362.5 173.5L362.5 174.7L362.5 175.9L362.5 177.1L362.5 178.4L362.5 179.6L362.5 180.8L362.5 182.1L362.5 183.3L362.5 184.5L362.5 185.7L362.5 187L362.5 188.2L362.5 189.4L362.5 190.7L362.5 191.9L362.5 193.1L362.5 194.3L362.5 195.2L361.8 195.6L361.3 195.9L360 196.6L359.6 196.8L358.8 197.2L357.6 197.8L357.2 198L356.4 198.4L355.1 198.9L354.3 199.3L353.9 199.4L352.7 200L351.7 200.5L351.4 200.6L350.2 201.5L349.8 201.7L349 202.3L348 203L347.7 203.1L346.5 203.9L346.1 204.2L345.3 204.7L344.1 205.4L344.1 205.4L342.8 206.1L342 206.6L341.6 206.8L340.4 207.5L339.7 207.9L339.1 208.2L337.9 208.7L337.1 209.1L336.7 209.3L335.5 209.9L334.5 210.3L334.2 210.4L333 211L331.8 211.6L331.8 211.6L330.5 212L329.3 212.5L328.2 212.8L328.1 212.8L326.9 213.2L325.6 213.4L324.4 213.7L323.2 213.9L322.7 214L321.9 214.1L320.7 214.3L319.5 214.5L318.2 214.7L317 214.8L315.8 214.9L314.6 215.1L313.3 215.2L312.1 215.2L312 215.2L310.9 215.3L309.6 215.4L308.4 215.4L307.2 215.4L306 215.5L304.7 215.5L303.5 215.5L302.3 215.5L301 215.7L299.8 215.8L298.6 216L297.4 216.2L296.1 216.3L294.9 216.4L294.5 216.5L293.7 216.5L292.4 216.6L291.2 216.7L290 216.7L288.7 216.7L287.5 216.7L286.3 216.6L285.1 216.6L284.2 216.5L283.8 216.4L282.6 216.3L281.4 216.2L280.1 216.1L278.9 216L277.7 215.9L276.5 215.7L275.2 215.5L274 215.3L273.8 215.2L272.8 215L271.5 214.7L270.3 214.4L269.1 214L269.1 214L267.9 213.6L266.6 213.2L265.5 212.8L265.4 212.8L264.2 212.3L262.9 211.9L262 211.6L261.7 211.5L260.5 211.2L259.2 211L258 210.8L256.8 210.6L255.6 210.4L254.8 210.3L254.3 210.3L253.1 210.1L253.1 209.1L253.1 207.9L253.1 206.6L253.1 205.4L253.1 204.2L253.1 203L253.1 201.7L253.1 200.5L253.1 199.3L253.1 198L253.1 196.8L253.1 195.6L253.1 194.3L253.1 193.1L253.1 191.9L253.1 190.7L253.1 189.4L253.1 188.2L253.1 187L253.1 185.7L253.1 184.5L253.1 183.3L253.1 182.1L253.1 180.8L253.1 179.6L253.1 178.4L253.1 177.1L253.1 175.9L253.1 174.7L253.1 173.5L253.1 172.2L253.1 171L253.1 169.8L253.1 168.5L253.1 167.3L253.1 166.1L253.1 164.8L253.1 163.6L253.1 162.4L253.1 161.2L253.1 159.9L253.1 158.7L254.3 158.7Z" fill="#a6ff4f" fill-rule="evenodd"/>
<path d="M254.3 158.7L255.6 158.7L256.8 158.7L258 158.7L259.2 158.7L260.5 158.7L261.7 158.7L262.9 158.7L264.2 158.7L265.4 158.7L266.6 158.7L267.9 158.7L269.1 158.7L270.3 158.7L271.5 158.7L272.8 158.7L274 158.7L275.2 158.7L276.5 158.7L277.7 158.7L278.9 158.7L280.1 158.7L281.4 158.7L282.6 158.7L283.8 158.7L285.1 158.7L286.3 158.7L287.5 158.7L288.7 158.7L290 158.7L291.2 158.7L292.4 158.7L293.7 158.7L294.9 158.7L296.1 158.7L297.4 158.7L298.6 158.7L299.8 158.7L301 158.7L302.3 158.7L303.5 158.7L304.7 158.7L306 158.7L307.2 158.7L308.4 158.7L309.6 158.7L310.9 158.7L312.1 158.7L313.3 158.7L314.6 158.7L315.8 158.7L317 158.7L318.2 158.7L319.5 158.7L320.7 158.7L321.9 158.7L323.2 158.7L324.4 158.7L325.6 158.7L326.9 158.7L328.1 158.7L329.3 158.7L330.5 158.7L331.8 158.7L333 158.7L334.2 158.7L335.5 158.7L336.7 158.7L337.9 158.7L339.1 158.7L340.4 158.7L341.6 158.7L342.8 158.7L344.1 158.7L345.3 158.7L346.5 158.7L347.7 158.7L349 158.7L350.2 158.7L351.4 158.7L352.7 158.7L353.9 158.7L355.1 158.7L356.4 158.7L357.6 158.7L358.8 158.7L360 158.7L361.3 158.7L362.5 158.7L362.5 159.9L362.5 161.2L362.5 162.4L362.5 163.6L362.5 164.8L362.5 166.1L362.5 167.3L362.5 168.5L362.5 169.8L362.5 171L362.5 172.2L362.5 173.5L362.5 174.7L362.5 175.9L362.5 177.1L362.5 178.4L362.5 179.6L362.5 180.8L362.5 182.1L362.5 183.3L362.5 184.5L362.5 185.7L362.5 187L362.5 188.2L362.5 189.4L362.5 190.7L362.5 191.9L362.5 191.9L361.3 192.9L361 193.1L360 193.8L359.3 194.3L358.8 194.7L357.6 195.4L357.3 195.6L356.4 196.1L355.1 196.7L355 196.8L353.9 197.3L352.7 197.8L352.2 198L351.4 198.4L350.2 199.1L349.9 199.3L349 199.9L348.2 200.5L347.7 200.8L346.5 201.7L346.5 201.7L345.3 202.6L344.7 203L344.1 203.4L342.8 204.1L342.8 204.2L341.6 204.9L340.7 205.4L340.4 205.6L339.1 206.3L338.4 206.6L337.9 206.9L336.7 207.4L335.6 207.9L335.5 207.9L334.2 208.5L333 209.1L332.9 209.1L331.8 209.6L330.5 210.1L330 210.3L329.3 210.6L328.1 211L326.9 211.4L326.1 211.6L325.6 211.7L324.4 212L323.2 212.2L321.9 212.5L320.7 212.7L319.9 212.8L319.5 212.8L318.2 213L317 213.2L315.8 213.3L314.6 213.4L313.3 213.5L312.1 213.6L310.9 213.6L309.6 213.7L308.4 213.7L307.2 213.7L306 213.7L304.7 213.7L303.5 213.6L302.3 213.7L301 213.8L299.8 214L299.7 214L298.6 214.2L297.4 214.4L296.1 214.6L294.9 214.8L293.7 214.9L292.4 215L291.2 215.1L290 215.1L288.7 215.1L287.5 215.1L286.3 215.1L285.1 215L283.8 214.9L282.6 214.8L281.4 214.7L280.1 214.6L278.9 214.5L277.7 214.4L276.5 214.2L275.7 214L275.2 213.9L274 213.7L272.8 213.4L271.5 213L270.7 212.8L270.3 212.7L269.1 212.3L267.9 211.8L267.1 211.6L266.6 211.4L265.4 210.9L264.2 210.4L263.9 210.3L262.9 210L261.7 209.6L260.5 209.3L259.2 209.1L258.9 209.1L258 209L256.8 208.8L255.6 208.6L254.3 208.4L253.1 208.1L253.1 207.9L253.1 206.6L253.1 205.4L253.1 204.2L253.1 203L253.1 201.7L253.1 200.5L253.1 199.3L253.1 198L253.1 196.8L253.1 195.6L253.1 194.3L253.1 193.1L253.1 191.9L253.1 190.7L253.1 189.4L253.1 188.2L253.1 187L253.1 185.7L253.1 184.5L253.1 183.3L253.1 182.1L253.1 180.8L253.1 179.6L253.1 178.4L253.1 177.1L253.1 175.9L253.1 174.7L253.1 173.5L253.1 172.2L253.1 171L253.1 169.8L253.1 168.5L253.1 167.3L253.1 166.1L253.1 164.8L253.1 163.6L253.1 162.4L253.1 161.2L253.1 159.9L253.1 158.7L254.3 158.7Z" fill="#baff3c" fill-rule="evenodd"/>
<path d="M254.3 158.7L255.6 158.7L256.8 158.7L258 158.7L259.2 158.7L260.5 158.7L261.7 158.7L262.9 158.7L264.2 158.7L265.4 158.7L266.6 158.7L267.9 158.7L269.1 158.7L270.3 158.7L271.5 158.7L272.8 158.7L274 158.7L275.2 158.7L276.5 158.7L277.7 158.7L278.9 158.7L280.1 158.7L281.4 158.7L282.6 158.7L283.8 158.7L285.1 158.7L286.3 158.7L287.5 158.7L288.7 158.7L290 158.7L291.2 158.7L292.4 158.7L293.7 158.7L294.9 158.7L296.1 158.7L297.4 158.7L298.6 158.7L299.8 158.7L301 158.7L302.3 158.7L303.5 158.7L304.7 158.7L306 158.7L307.2 158.7L308.4 158.7L309.6 158.7L310.9 158.7L312.1 158.7L313.3 158.7L314.6 158.7L315.8 158.7L317 158.7L318.2 158.7L319.5 158.7L320.7 158.7L321.9 158.7L323.2 158.7L324.4 158.7L325.6 158.7L326.9 158.7L328.1 158.7L329.3 158.7L330.5 158.7L331.8 158.7L333 158.7L334.2 158.7L335.5 158.7L336.7 158.7L337.9 158.7L339.1 158.7L340.4 158.7L341.6 158.7L342.8 158.7L344.1 158.7L345.3 158.7L346.5 158.7L347.7 158.7L349 158.7L350.2 158.7L351.4 158.7L352.7 158.7L353.9 158.7L355.1 158.7L356.4 158.7L357.6 158.7L358.8 158.7L360 158.7L361.3 158.7L362.5 158.7L362.5 159.9L362.5 161.2L362.5 162.4L362.5 163.6L362.5 164.8L362.5 166.1L362.5 167.3L362.5 168.5L362.5 169.8L362.5 171L362.5 172.2L362.5 173.5L362.5 174.7L362.5 175.9L362.5 177.1L362.5 178.4L362.5 179.6L362.5 180.8L362.5 182.1L362.5 183.3L362.5 184.5L362.5 185.7L362.5 187L362.5 187.8L362.2 188.2L361.3 189.3L361.1 189.4L360 190.5L359.9 190.7L358.8 191.7L358.6 191.9L357.6 192.7L357.1 193.1L356.4 193.7L355.4 194.3L355.1 194.5L353.9 195.2L353.3 195.6L352.7 195.9L351.4 196.5L350.8 196.8L350.2 197.1L349 197.8L348.7 198L347.7 198.7L346.9 199.3L346.5 199.5L345.3 200.4L345.2 200.5L344.1 201.3L343.4 201.7L342.8 202.1L341.6 202.9L341.5 203L340.4 203.7L339.5 204.2L339.1 204.4L337.9 205.1L337.2 205.4L336.7 205.7L335.5 206.2L334.5 206.6L334.2 206.7L333 207.3L331.8 207.8L331.6 207.9L330.5 208.3L329.3 208.8L328.3 209.1L328.1 209.2L326.9 209.6L325.6 209.9L324.4 210.2L323.9 210.3L323.2 210.5L321.9 210.8L320.7 211L319.5 211.2L318.2 211.4L317 211.5L316.6 211.6L315.8 211.6L314.6 211.8L313.3 211.9L312.1 211.9L310.9 212L309.6 212L308.4 212L307.2 212L306 212L304.7 212L303.5 212L302.3 212.1L301 212.2L299.8 212.4L298.6 212.5L297.4 212.7L297.1 212.8L296.1 212.9L294.9 213.1L293.7 213.3L292.4 213.4L291.2 213.5L290 213.6L288.7 213.6L287.5 213.6L286.3 213.6L285.1 213.6L283.8 213.5L282.6 213.4L281.4 213.3L280.1 213.2L278.9 213L277.7 212.9L277.3 212.8L276.5 212.6L275.2 212.4L274 212.1L272.8 211.7L272.1 211.6L271.5 211.4L270.3 211L269.1 210.6L268.4 210.3L267.9 210.1L266.6 209.7L265.4 209.2L265.1 209.1L264.2 208.7L262.9 208.3L261.7 208L261.2 207.9L260.5 207.7L259.2 207.5L258 207.3L256.8 207.1L255.6 206.8L254.9 206.6L254.3 206.5L253.1 206.2L253.1 205.4L253.1 204.2L253.1 203L253.1 201.7L253.1 200.5L253.1 199.3L253.1 198L253.1 196.8L253.1 195.6L253.1 194.3L253.1 193.1L253.1 191.9L253.1 190.7L253.1 189.4L253.1 188.2L253.1 187L253.1 185.7L253.1 184.5L253.1 183.3L253.1 182.1L253.1 180.8L253.1 179.6L253.1 178.4L253.1 177.1L253.1 175.9L253.1 174.7L253.1 173.5L253.1 172.2L253.1 171L253.1 169.8L253.1 168.5L253.1 167.3L253.1 166.1L253.1 164.8L253.1 163.6L253.1 162.4L253.1 161.2L253.1 159.9L253.1 158.7L254.3 158.7Z" fill="#d0ff25" fill-rule="evenodd"/>
<path d="M254.3 158.7L255.6 158.7L256.8 158.7L258 158.7L259.2 158.7L260.5 158.7L261.7 158.7L262.9 158.7L264.2 158.7L265.4 158.7L266.6 158.7L267.9 158.7L269.1 158.7L270.3 158.7L271.5 158.7L272.8 158.7L274 158.7L275.2 158.7L276.5 158.7L277.7 158.7L278.9 158.7L280.1 158.7L281.4 158.7L282.6 158.7L283.8 158.7L285.1 158.7L286.3 158.7L287.5 158.7L288.7 158.7L290 158.7L291.2 158.7L292.4 158.7L293.7 158.7L294.9 158.7L296.1 158.7L297.4 158.7L298.6 158.7L299.8 158.7L301 158.7L302.3 158.7L303.5 158.7L304.7 158.7L306 158.7L307.2 158.7L308.4 158.7L309.6 158.7L310.9 158.7L312.1 158.7L313.3 158.7L314.6 158.7L315.8 158.7L317 158.7L318.2 158.7L319.5 158.7L320.7 158.7L321.9 158.7L323.2 158.7L324.4 158.7L325.6 158.7L326.9 158.7L328.1 158.7L329.3 158.7L330.5 158.7L331.8 158.7L333 158.7L334.2 158.7L335.5 158.7L336.7 158.7L337.9 158.7L339.1 158.7L340.4 158.7L341.6 158.7L342.8 158.7L344.1 158.7L345.3 158.7L346.5 158.7L347.7 158.7L349 158.7L350.2 158.7L351.4 158.7L352.7 158.7L353.9 158.7L355.1 158.7L356.4 158.7L357.6 158.7L358.8 158.7L360 158.7L361.3 158.7L362.5 158.7L362.5 159.9L362.5 161.2L362.5 162.4L362.5 163.6L362.5 164.8L362.5 166.1L362.5 167.3L362.5 168.5L362.5 169.8L362.5 171L362.5 172.2L362.5 173.5L362.5 174.7L362.5 175.9L362.5 177.1L362.5 178.4L362.5 179.6L362.5 180.7L362.4 180.8L361.9 182.1L361.3 183.3L361.3 183.3L360.7 184.5L360 185.6L360 185.7L359.2 187L358.8 187.6L358.4 188.2L357.6 189.3L357.5 189.4L356.4 190.7L356.4 190.7L355.1 191.9L355.1 191.9L353.9 192.9L353.7 193.1L352.7 193.8L351.8 194.3L351.4 194.6L350.2 195.2L349.6 195.6L349 195.9L347.7 196.6L347.5 196.8L346.5 197.4L345.7 198L345.3 198.3L344.1 199.2L343.9 199.3L342.8 200L342.1 200.5L341.6 200.9L340.4 201.7L340.3 201.7L339.1 202.4L338.3 203L337.9 203.2L336.7 203.9L336.1 204.2L335.5 204.5L334.2 205L333.3 205.4L333 205.5L331.8 206L330.5 206.5L330.1 206.6L329.3 206.9L328.1 207.4L326.9 207.8L326.5 207.9L325.6 208.1L324.4 208.5L323.2 208.8L321.9 209L321.6 209.1L320.7 209.3L319.5 209.5L318.2 209.7L317 209.9L315.8 210L314.6 210.1L313.3 210.2L312.1 210.3L311.8 210.3L310.9 210.4L309.6 210.4L308.4 210.4L307.2 210.4L306 210.4L304.7 210.4L303.5 210.5L302.3 210.6L301 210.7L299.8 210.8L298.6 211L297.4 211.2L296.1 211.4L294.9 211.6L294.9 211.6L293.7 211.7L292.4 211.9L291.2 212L290 212.1L288.7 212.1L287.5 212.2L286.3 212.2L285.1 212.2L283.8 212.1L282.6 212.1L281.4 212L280.1 211.8L278.9 211.6L278.7 211.6L277.7 211.4L276.5 211.1L275.2 210.8L274 210.5L273.4 210.3L272.8 210.1L271.5 209.8L270.3 209.4L269.5 209.1L269.1 208.9L267.9 208.5L266.6 208.1L266.1 207.9L265.4 207.6L264.2 207.2L262.9 206.8L262.3 206.6L261.7 206.5L260.5 206.2L259.2 206L258 205.7L256.9 205.4L256.8 205.4L255.6 205L254.3 204.6L253.1 204.2L253.1 204.2L253.1 203L253.1 201.7L253.1 200.5L253.1 199.3L253.1 198L253.1 196.8L253.1 195.6L253.1 194.3L253.1 193.1L253.1 191.9L253.1 190.7L253.1 189.4L253.1 188.2L253.1 187L253.1 185.7L253.1 184.5L253.1 183.3L253.1 182.1L253.1 180.8L253.1 179.6L253.1 178.4L253.1 177.1L253.1 175.9L253.1 174.7L253.1 173.5L253.1 172.2L253.1 171L253.1 169.8L253.1 168.5L253.1 167.3L253.1 166.1L253.1 164.8L253.1 163.6L253.1 162.4L253.1 161.2L253.1 159.9L253.1 158.7L254.3 158.7Z" fill="#e4ff12" fill-rule="evenodd"/>
<path d="M254.3 158.7L255.6 158.7L256.8 158.7L258 158.7L259.2 158.7L260.5 158.7L261.7 158.7L262.9 158.7L264.2 158.7L265.4 158.7L266.6 158.7L267.9 158.7L269.1 158.7L270.3 158.7L271.5 158.7L272.8 158.7L274 158.7L275.2 158.7L276.5 158.7L277.7 158.7L278.9 158.7L280.1 158.7L281.4 158.7L282.6 158.7L283.8 158.7L285.1 158.7L286.3 158.7L287.5 158.7L288.7 158.7L290 158.7L291.2 158.7L292.4 158.7L293.7 158.7L294.9 158.7L296.1 158.7L297.4 158.7L298.6 158.7L299.8 158.7L301 158.7L302.3 158.7L303.5 158.7L304.7 158.7L306 158.7L307.2 158.7L308.4 158.7L309.6 158.7L310.9 158.7L312.1 158.7L313.3 158.7L314.6 158.7L315.8 158.7L317 158.7L318.2 158.7L319.5 158.7L320.7 158.7L321.9 158.7L323.2 158.7L324.4 158.7L325.6 158.7L326.9 158.7L328.1 158.7L329.3 158.7L330.5 158.7L331.8 158.7L333 158.7L334.2 158.7L335.5 158.7L336.7 158.7L337.9 158.7L339.1 158.7L340.4 158.7L341.6 158.7L342.8 158.7L344.1 158.7L345.3 158.7L346.5 158.7L347.7 158.7L349 158.7L350.2 158.7L351.4 158.7L352.7 158.7L353.9 158.7L355.1 158.7L356.4 158.7L357.6 158.7L358.8 158.7L360 158.7L361.3 158.7L362.5 158.7L362.5 159.9L362.5 161.2L362.5 162.4L362.5 163.6L362.5 164.3L362.3 164.8L361.7 166.1L361.3 167L361.2 167.3L360.7 168.5L360.2 169.8L360 170.3L359.8 171L359.4 172.2L359.1 173.5L358.8 174.7L358.8 174.7L358.6 175.9L358.3 177.1L358.1 178.4L357.9 179.6L357.6 180.8L357.6 180.9L357.3 182.1L357 183.3L356.6 184.5L356.4 185.1L356.1 185.7L355.6 187L355.1 187.8L354.9 188.2L354.1 189.4L353.9 189.7L353.1 190.7L352.7 191.1L351.8 191.9L351.4 192.2L350.2 193.1L350.2 193.1L349 193.8L348.1 194.3L347.7 194.5L346.5 195.3L346.1 195.6L345.3 196.1L344.3 196.8L344.1 197L342.8 197.9L342.6 198L341.6 198.7L340.8 199.3L340.4 199.6L339.1 200.4L339 200.5L337.9 201.2L337 201.7L336.7 201.9L335.5 202.6L334.8 203L334.2 203.2L333 203.7L331.9 204.2L331.8 204.2L330.5 204.7L329.3 205.1L328.5 205.4L328.1 205.6L326.9 206L325.6 206.3L324.5 206.6L324.4 206.7L323.2 207L321.9 207.3L320.7 207.5L319.5 207.8L319 207.9L318.2 208L317 208.2L315.8 208.4L314.6 208.5L313.3 208.6L312.1 208.7L310.9 208.8L309.6 208.9L308.4 208.9L307.2 208.9L306 208.9L304.7 208.9L303.5 208.9L302.3 209L301 209.1L301 209.1L299.8 209.3L298.6 209.5L297.4 209.7L296.1 209.9L294.9 210L293.7 210.2L292.7 210.3L292.4 210.4L291.2 210.5L290 210.6L288.7 210.6L287.5 210.7L286.3 210.7L285.1 210.7L283.8 210.7L282.6 210.6L281.4 210.5L280.2 210.3L280.1 210.3L278.9 210.1L277.7 209.8L276.5 209.5L275.2 209.2L274.7 209.1L274 208.9L272.8 208.5L271.5 208.1L270.7 207.9L270.3 207.7L269.1 207.3L267.9 206.9L267 206.6L266.6 206.5L265.4 206.1L264.2 205.8L262.9 205.4L262.8 205.4L261.7 205.1L260.5 204.8L259.2 204.5L258.3 204.2L258 204.1L256.8 203.6L255.6 203.1L255.1 203L254.3 202.6L253.1 202L253.1 201.7L253.1 200.5L253.1 199.3L253.1 198L253.1 196.8L253.1 195.6L253.1 194.3L253.1 193.1L253.1 191.9L253.1 190.7L253.1 189.4L253.1 188.2L253.1 187L253.1 185.7L253.1 184.5L253.1 183.3L253.1 182.1L253.1 180.8L253.1 179.6L253.1 178.4L253.1 177.1L253.1 175.9L253.1 174.7L253.1 173.5L253.1 172.2L253.1 171L253.1 169.8L253.1 168.5L253.1 167.3L253.1 166.1L253.1 164.8L253.1 163.6L253.1 162.4L253.1 161.2L253.1 159.9L253.1 158.7L254.3 158.7Z" fill="#faf000" fill-rule="evenodd"/>
<path d="M254.3 158.7L255.6 158.7L256.8 158.7L258 158.7L259.2 158.7L260.5 158.7L261.7 158.7L262.9 158.7L264.2 158.7L265.4 158.7L266.6 158.7L267.9 158.7L269.1 158.7L270.3 158.7L271.5 158.7L272.8 158.7L274 158.7L275.2 158.7L276.5 158.7L277.7 158.7L278.9 158.7L280.1 158.7L281.4 158.7L282.6 158.7L283.8 158.7L285.1 158.7L286.3 158.7L287.5 158.7L288.7 158.7L290 158.7L291.2 158.7L292.4 158.7L293.7 158.7L294.9 158.7L296.1 158.7L297.4 158.7L298.6 158.7L299.8 158.7L301 158.7L302.3 158.7L303.5 158.7L304.7 158.7L306 158.7L307.2 158.7L308.4 158.7L309.6 158.7L310.9 158.7L312.1 158.7L313.3 158.7L314.6 158.7L315.8 158.7L317 158.7L318.2 158.7L319.5 158.7L320.7 158.7L321.9 158.7L323.2 158.7L324.4 158.7L325.6 158.7L326.9 158.7L328.1 158.7L329.3 158.7L330.5 158.7L331.8 158.7L333 158.7L334.2 158.7L335.5 158.7L336.7 158.7L337.9 158.7L339.1 158.7L340.4 158.7L341.6 158.7L342.8 158.7L344.1 158.7L345.3 158.7L346.5 158.7L347.7 158.7L349 158.7L350.2 158.7L351.4 158.7L352.7 158.7L353.9 158.7L355.1 158.7L356.4 158.7L356.7 158.7L356.4 159.3L356.1 159.9L355.5 161.2L355.1 162.1L355 162.4L354.5 163.6L354.1 164.8L353.9 165.4L353.7 166.1L353.3 167.3L352.9 168.5L352.7 169.6L352.6 169.8L352.4 171L352.2 172.2L352.1 173.5L352.1 174.7L352.1 175.9L352.2 177.1L352.4 178.4L352.5 179.6L352.6 180.8L352.7 181.6L352.7 182.1L352.7 183.2L352.7 183.3L352.5 184.5L352.3 185.7L352 187L351.4 188.2L351.4 188.2L350.7 189.4L350.2 189.9L349.5 190.7L349 191.1L347.9 191.9L347.7 192L346.5 192.9L346.2 193.1L345.3 193.7L344.5 194.3L344.1 194.6L342.8 195.5L342.8 195.6L341.6 196.5L341.1 196.8L340.4 197.3L339.4 198L339.1 198.2L337.9 199L337.6 199.3L336.7 199.8L335.6 200.5L335.5 200.6L334.2 201.2L333.2 201.7L333 201.8L331.8 202.3L330.5 202.8L330.1 203L329.3 203.3L328.1 203.7L326.9 204.1L326.6 204.2L325.6 204.5L324.4 204.8L323.2 205.2L322.3 205.4L321.9 205.5L320.7 205.8L319.5 206L318.2 206.3L317 206.5L316.2 206.6L315.8 206.7L314.6 206.9L313.3 207L312.1 207.2L310.9 207.3L309.6 207.3L308.4 207.4L307.2 207.4L306 207.4L304.7 207.4L303.5 207.4L302.3 207.4L301 207.5L299.8 207.7L299.1 207.9L298.6 208L297.4 208.2L296.1 208.4L294.9 208.6L293.7 208.7L292.4 208.9L291.2 209L290 209.1L289.6 209.1L288.7 209.1L287.5 209.2L286.3 209.2L285.1 209.2L283.8 209.1L283.1 209.1L282.6 209.1L281.4 208.9L280.1 208.7L278.9 208.5L277.7 208.2L276.5 207.9L276.2 207.9L275.2 207.6L274 207.3L272.8 206.9L272 206.6L271.5 206.5L270.3 206.1L269.1 205.7L268.1 205.4L267.9 205.3L266.6 205L265.4 204.6L264.2 204.4L263.3 204.2L262.9 204.1L261.7 203.8L260.5 203.4L259.4 203L259.2 202.9L258 202.3L256.9 201.7L256.8 201.6L255.6 201L254.6 200.5L254.3 200.3L253.1 199.6L253.1 199.3L253.1 198L253.1 196.8L253.1 195.6L253.1 194.3L253.1 193.1L253.1 191.9L253.1 190.7L253.1 189.4L253.1 188.2L253.1 187L253.1 185.7L253.1 184.5L253.1 183.3L253.1 182.1L253.1 180.8L253.1 179.6L253.1 178.4L253.1 177.1L253.1 175.9L253.1 174.7L253.1 173.5L253.1 172.2L253.1 171L253.1 169.8L253.1 168.5L253.1 167.3L253.1 166.1L253.1 164.8L253.1 163.6L253.1 162.4L253.1 161.2L253.1 159.9L253.1 158.7L254.3 158.7Z" fill="#ffda00" fill-rule="evenodd"/>
<path d="M254.3 158.7L255.6 158.7L256.8 158.7L258 158.7L259.2 158.7L260.5 158.7L261.7 158.7L262.9 158.7L264.2 158.7L265.4 158.7L266.6 158.7L267.9 158.7L269.1 158.7L270.3 158.7L271.5 158.7L272.8 158.7L274 158.7L275.2 158.7L276.5 158.7L277.7 158.7L278.9 158.7L280.1 158.7L281.4 158.7L282.6 158.7L283.8 158.7L285.1 158.7L286.3 158.7L287.5 158.7L288.7 158.7L290 158.7L291.2 158.7L292.4 158.7L293.7 158.7L294.9 158.7L296.1 158.7L297.4 158.7L298.6 158.7L299.8 158.7L301 158.7L302.3 158.7L303.5 158.7L304.7 158.7L306 158.7L307.2 158.7L308.4 158.7L309.6 158.7L310.9 158.7L312.1 158.7L313.3 158.7L314.6 158.7L315.8 158.7L317 158.7L318.2 158.7L319.5 158.7L320.7 158.7L321.9 158.7L323.2 158.7L324.4 158.7L325.6 158.7L326.9 158.7L328.1 158.7L329.3 158.7L330.5 158.7L331.8 158.7L333 158.7L334.2 158.7L335.5 158.7L336.7 158.7L337.9 158.7L339.1 158.7L340.4 158.7L341.6 158.7L342.8 158.7L344.1 158.7L345.3 158.7L346.5 158.7L347.7 158.7L348.7 158.7L348.3 159.9L347.9 161.2L347.7 161.8L347.6 162.4L347.3 163.6L347 164.8L346.7 166.1L346.5 167.1L346.5 167.3L346.3 168.5L346.1 169.8L345.9 171L345.8 172.2L345.7 173.5L345.6 174.7L345.7 175.9L346 177.1L346.4 178.4L346.5 178.6L347 179.6L347.4 180.8L347.7 181.9L347.8 182.1L348.1 183.3L348.2 184.5L348.1 185.7L347.8 187L347.7 187.1L347.3 188.2L346.5 189.2L346.4 189.4L345.3 190.6L345.3 190.7L344.1 191.8L343.9 191.9L342.8 192.8L342.5 193.1L341.6 193.9L341 194.3L340.4 194.9L339.5 195.6L339.1 195.8L337.9 196.7L337.8 196.8L336.7 197.5L335.9 198L335.5 198.3L334.2 199L333.8 199.3L333 199.7L331.8 200.3L331.2 200.5L330.5 200.8L329.3 201.3L328.1 201.7L328.1 201.7L326.9 202.1L325.6 202.5L324.4 202.9L324.3 203L323.2 203.3L321.9 203.6L320.7 203.9L319.7 204.2L319.5 204.2L318.2 204.5L317 204.8L315.8 205L314.6 205.2L313.3 205.4L313.2 205.4L312.1 205.6L310.9 205.7L309.6 205.8L308.4 205.9L307.2 206L306 206.1L304.7 206.1L303.5 206.1L302.3 206.1L301 206.2L299.8 206.4L298.6 206.6L298.3 206.6L297.4 206.8L296.1 207L294.9 207.1L293.7 207.3L292.4 207.4L291.2 207.5L290 207.6L288.7 207.6L287.5 207.6L286.3 207.7L285.1 207.6L283.8 207.5L282.6 207.4L281.4 207.3L280.1 207.1L278.9 206.9L277.9 206.6L277.7 206.6L276.5 206.3L275.2 205.9L274 205.6L273.5 205.4L272.8 205.2L271.5 204.8L270.3 204.4L269.6 204.2L269.1 204L267.9 203.6L266.6 203.3L265.4 203L264.9 203L264.2 202.8L262.9 202.5L261.7 202.1L260.9 201.7L260.5 201.5L259.2 200.8L258.8 200.5L258 200L256.9 199.3L256.8 199.2L255.6 198.4L255.1 198L254.3 197.5L253.3 196.8L253.1 196.7L253.1 195.6L253.1 194.3L253.1 193.1L253.1 191.9L253.1 190.7L253.1 189.4L253.1 188.2L253.1 187L253.1 185.7L253.1 184.5L253.1 183.3L253.1 182.1L253.1 180.8L253.1 179.6L253.1 178.4L253.1 177.1L253.1 175.9L253.1 174.7L253.1 173.5L253.1 172.2L253.1 171L253.1 169.8L253.1 168.5L253.1 167.3L253.1 166.1L253.1 164.8L253.1 163.6L253.1 162.4L253.1 161.2L253.1 159.9L253.1 158.7L254.3 158.7Z" fill="#ffc400" fill-rule="evenodd"/>
<path d="M254.3 158.7L255.6 158.7L256.8 158.7L258 158.7L259.2 158.7L260.5 158.7L261.7 158.7L262.9 158.7L264.2 158.7L265.4 158.7L266.6 158.7L267.9 158.7L269.1 158.7L270.3 158.7L271.5 158.7L272.8 158.7L274 158.7L275.2 158.7L276.5 158.7L277.7 158.7L278.9 158.7L280.1 158.7L281.4 158.7L282.6 158.7L283.8 158.7L285.1 158.7L286.3 158.7L287.5 158.7L288.7 158.7L290 158.7L291.2 158.7L292.4 158.7L293.7 158.7L294.9 158.7L296.1 158.7L297.4 158.7L298.6 158.7L299.8 158.7L301 158.7L302.3 158.7L303.5 158.7L304.7 158.7L306 158.7L307.2 158.7L308.4 158.7L309.6 158.7L310.9 158.7L312.1 158.7L313.3 158.7L314.6 158.7L315.8 158.7L317 158.7L318.2 158.7L319.5 158.7L320.7 158.7L321.9 158.7L323.2 158.7L324.4 158.7L325.6 158.7L326.9 158.7L328.1 158.7L329.3 158.7L330.5 158.7L331.8 158.7L333 158.7L334.2 158.7L335.5 158.7L336.7 158.7L337.9 158.7L339.1 158.7L340.4 158.7L341.6 158.7L341.8 158.7L341.7 159.9L341.6 161.2L341.6 161.2L341.5 162.4L341.4 163.6L341.4 164.8L341.3 166.1L341.3 167.3L341.3 168.5L341.3 169.8L341.3 171L341.3 172.2L341.4 173.5L341.5 174.7L341.6 175.3L341.7 175.9L341.9 177.1L342.3 178.4L342.7 179.6L342.8 179.9L343.2 180.8L343.6 182.1L343.9 183.3L344 184.5L344 185.7L343.7 187L343.2 188.2L342.8 188.8L342.4 189.4L341.6 190.5L341.5 190.7L340.4 191.8L340.3 191.9L339.1 193L339 193.1L337.9 194.1L337.6 194.3L336.7 195L335.9 195.6L335.5 195.9L334.2 196.6L333.9 196.8L333 197.3L331.8 198L331.7 198L330.5 198.6L329.3 199.1L328.9 199.3L328.1 199.6L326.9 200L325.6 200.5L325.6 200.5L324.4 200.9L323.2 201.3L321.9 201.6L321.6 201.7L320.7 202L319.5 202.3L318.2 202.6L317 202.9L316.9 203L315.8 203.2L314.6 203.5L313.3 203.7L312.1 203.9L310.9 204.1L310.6 204.2L309.6 204.3L308.4 204.5L307.2 204.6L306 204.7L304.7 204.8L303.5 204.9L302.3 205L301 205.1L299.8 205.2L298.6 205.3L297.6 205.4L297.4 205.4L296.1 205.6L294.9 205.7L293.7 205.8L292.4 205.9L291.2 205.9L290 206L288.7 206L287.5 206.1L286.3 206L285.1 206L283.8 205.9L282.6 205.8L281.4 205.6L280.1 205.4L280.1 205.4L278.9 205.2L277.7 204.9L276.5 204.5L275.3 204.2L275.2 204.2L274 203.7L272.8 203.3L271.6 203L271.5 202.9L270.3 202.5L269.1 202.1L267.9 201.8L267.7 201.7L266.6 201.4L265.4 201.1L264.2 200.7L263.5 200.5L262.9 200.2L261.7 199.6L261.2 199.3L260.5 198.7L259.5 198L259.2 197.8L258 196.9L257.9 196.8L256.8 195.9L256.3 195.6L255.6 195L254.8 194.3L254.3 194L253.3 193.1L253.1 193L253.1 191.9L253.1 190.7L253.1 189.4L253.1 188.2L253.1 187L253.1 185.7L253.1 184.5L253.1 183.3L253.1 182.1L253.1 180.8L253.1 179.6L253.1 178.4L253.1 177.1L253.1 175.9L253.1 174.7L253.1 173.5L253.1 172.2L253.1 171L253.1 169.8L253.1 168.5L253.1 167.3L253.1 166.1L253.1 164.8L253.1 163.6L253.1 162.4L253.1 161.2L253.1 159.9L253.1 158.7L254.3 158.7Z" fill="#ffaa00" fill-rule="evenodd"/>
<path d="M254.3 158.7L255.6 158.7L256.8 158.7L258 158.7L259.2 158.7L260.5 158.7L261.7 158.7L262.9 158.7L264.2 158.7L265.4 158.7L266.6 158.7L267.9 158.7L269.1 158.7L270.3 158.7L271.5 158.7L272.8 158.7L274 158.7L275.2 158.7L276.5 158.7L277.7 158.7L278.9 158.7L280.1 158.7L281.4 158.7L282.6 158.7L283.8 158.7L285.1 158.7L286.3 158.7L287.5 158.7L288.7 158.7L290 158.7L291.2 158.7L292.4 158.7L293.7 158.7L294.9 158.7L296.1 158.7L297.4 158.7L298.6 158.7L299.8 158.7L301 158.7L302.3 158.7L303.5 158.7L304.7 158.7L306 158.7L307.2 158.7L308.4 158.7L309.6 158.7L310.9 158.7L312.1 158.7L313.3 158.7L314.6 158.7L315.8 158.7L317 158.7L318.2 158.7L319.5 158.7L320.7 158.7L321.9 158.7L323.2 158.7L324.4 158.7L325.6 158.7L326.9 158.7L328.1 158.7L329.3 158.7L330.5 158.7L331.8 158.7L333 158.7L334.2 158.7L335.4 158.7L335.5 158.8L335.6 159.9L335.8 161.2L335.9 162.4L336.1 163.6L336.3 164.8L336.5 166.1L336.7 167.3L336.7 167.3L336.9 168.5L337.1 169.8L337.3 171L337.6 172.2L337.9 173.5L337.9 173.7L338.1 174.7L338.4 175.9L338.8 177.1L339.1 178.4L339.1 178.4L339.5 179.6L339.9 180.8L340.2 182.1L340.4 183.1L340.4 183.3L340.5 184.5L340.4 185.7L340.4 185.8L340.1 187L339.6 188.2L339.1 188.9L338.8 189.4L337.9 190.6L337.9 190.7L336.7 191.9L336.7 191.9L335.5 193L335.3 193.1L334.2 193.9L333.5 194.3L333 194.7L331.8 195.4L331.5 195.6L330.5 196.1L329.3 196.7L329 196.8L328.1 197.2L326.9 197.7L326 198L325.6 198.2L324.4 198.6L323.2 199.1L322.5 199.3L321.9 199.5L320.7 199.8L319.5 200.2L318.6 200.5L318.2 200.6L317 200.9L315.8 201.3L314.6 201.6L314.1 201.7L313.3 201.9L312.1 202.2L310.9 202.5L309.6 202.8L308.7 203L308.4 203L307.2 203.2L306 203.4L304.7 203.6L303.5 203.8L302.3 203.9L301 204L299.8 204L298.6 204L297.4 204.1L296.1 204.1L295.1 204.2L294.9 204.2L293.7 204.2L292.4 204.3L291.2 204.3L290 204.4L288.7 204.4L287.5 204.4L286.3 204.4L285.1 204.3L283.8 204.2L283.5 204.2L282.6 204.1L281.4 203.9L280.1 203.7L278.9 203.4L277.7 203L277.4 203L276.5 202.6L275.2 202.2L274 201.7L273.9 201.7L272.8 201.3L271.5 200.8L270.7 200.5L270.3 200.3L269.1 199.8L267.9 199.4L267.5 199.3L266.6 198.9L265.4 198.3L264.9 198L264.2 197.6L263 196.8L262.9 196.7L261.7 195.7L261.6 195.6L260.5 194.7L260 194.3L259.2 193.7L258.5 193.1L258 192.7L257.1 191.9L256.8 191.5L255.8 190.7L255.6 190.4L254.6 189.4L254.3 189.2L253.4 188.2L253.1 187.9L253.1 187L253.1 185.7L253.1 184.5L253.1 183.3L253.1 182.1L253.1 180.8L253.1 179.6L253.1 178.4L253.1 177.1L253.1 175.9L253.1 174.7L253.1 173.5L253.1 172.2L253.1 171L253.1 169.8L253.1 168.5L253.1 167.3L253.1 166.1L253.1 164.8L253.1 163.6L253.1 162.4L253.1 161.2L253.1 159.9L253.1 158.7L254.3 158.7Z" fill="#ff9b00" fill-rule="evenodd"/>
<path d="M254.3 158.7L255.6 158.7L256.8 158.7L258 158.7L259.2 158.7L260.5 158.7L261.7 158.7L262.9 158.7L264.2 158.7L265.4 158.7L266.6 158.7L267.9 158.7L269.1 158.7L270.3 158.7L271.5 158.7L272.8 158.7L274 158.7L275.2 158.7L276.5 158.7L277.7 158.7L278.9 158.7L280.1 158.7L281.4 158.7L282.6 158.7L283.8 158.7L285.1 158.7L286.3 158.7L287.5 158.7L288.7 158.7L290 158.7L291.2 158.7L292.4 158.7L293.7 158.7L294.9 158.7L296.1 158.7L297.4 158.7L298.6 158.7L299.8 158.7L301 158.7L302.3 158.7L303.5 158.7L304.7 158.7L306 158.7L307.2 158.7L308.4 158.7L309.6 158.7L310.9 158.7L312.1 158.7L313.3 158.7L314.6 158.7L315.8 158.7L317 158.7L318.2 158.7L319.5 158.7L320.7 158.7L321.9 158.7L323.2 158.7L324.4 158.7L325.6 158.7L326.9 158.7L328.1 158.7L329.3 158.7L330.5 158.7L331.8 158.7L332.7 158.7L333 159.8L333 159.9L333.3 161.2L333.6 162.4L333.9 163.6L334.2 164.8L334.2 165L334.5 166.1L334.8 167.3L335.1 168.5L335.4 169.8L335.5 170L335.7 171L336 172.2L336.4 173.5L336.7 174.4L336.8 174.7L337.1 175.9L337.5 177.1L337.9 178.4L337.9 178.5L338.3 179.6L338.6 180.8L338.9 182.1L339.1 183.3L339.1 184.4L339.2 184.5L339.1 184.6L339 185.7L338.7 187L338.2 188.2L337.9 188.6L337.4 189.4L336.7 190.3L336.4 190.7L335.5 191.6L335.1 191.9L334.2 192.6L333.5 193.1L333 193.5L331.8 194.3L331.6 194.3L330.5 194.9L329.3 195.6L329.3 195.6L328.1 196.1L326.9 196.7L326.6 196.8L325.6 197.2L324.4 197.6L323.3 198L323.2 198.1L321.9 198.5L320.7 198.9L319.7 199.3L319.5 199.3L318.2 199.7L317 200.1L315.8 200.4L315.6 200.5L314.6 200.8L313.3 201.1L312.1 201.5L311.2 201.7L310.9 201.8L309.6 202.1L308.4 202.4L307.2 202.6L306 202.9L305.5 203L304.7 203.1L303.5 203.3L302.3 203.4L301 203.5L299.8 203.5L298.6 203.5L297.4 203.5L296.1 203.5L294.9 203.6L293.7 203.6L292.4 203.6L291.2 203.7L290 203.7L288.7 203.7L287.5 203.7L286.3 203.7L285.1 203.6L283.8 203.5L282.6 203.4L281.4 203.2L280.3 203L280.1 202.9L278.9 202.6L277.7 202.2L276.5 201.8L276.2 201.7L275.2 201.3L274 200.8L273.1 200.5L272.8 200.3L271.5 199.8L270.3 199.3L270.2 199.3L269.1 198.7L267.9 198.2L267.5 198L266.6 197.6L265.4 196.8L265.3 196.8L264.2 195.9L263.7 195.6L262.9 194.9L262.3 194.3L261.7 193.8L260.8 193.1L260.5 192.8L259.4 191.9L259.2 191.7L258.1 190.7L258 190.6L256.9 189.4L256.8 189.3L255.7 188.2L255.6 188L254.6 187L254.3 186.6L253.5 185.7L253.1 185.2L253.1 184.5L253.1 183.3L253.1 182.1L253.1 180.8L253.1 179.6L253.1 178.4L253.1 177.1L253.1 175.9L253.1 174.7L253.1 173.5L253.1 172.2L253.1 171L253.1 169.8L253.1 168.5L253.1 167.3L253.1 166.1L253.1 164.8L253.1 163.6L253.1 162.4L253.1 161.2L253.1 159.9L253.1 158.7L254.3 158.7Z" fill="#ff9000" fill-rule="evenodd"/>
<path d="M254.3 158.7L255.6 158.7L256.8 158.7L258 158.7L259.2 158.7L260.5 158.7L261.7 158.7L262.9 158.7L264.2 158.7L265.4 158.7L266.6 158.7L267.9 158.7L269.1 158.7L270.3 158.7L271.5 158.7L272.8 158.7L274 158.7L275.2 158.7L276.5 158.7L277.7 158.7L278.9 158.7L280.1 158.7L281.4 158.7L282.6 158.7L283.8 158.7L285.1 158.7L286.3 158.7L287.5 158.7L288.7 158.7L290 158.7L291.2 158.7L292.4 158.7L293.7 158.7L294.9 158.7L296.1 158.7L297.4 158.7L298.6 158.7L299.8 158.7L301 158.7L302.3 158.7L303.5 158.7L304.7 158.7L306 158.7L307.2 158.7L308.4 158.7L309.6 158.7L310.9 158.7L312.1 158.7L313.3 158.7L314.6 158.7L315.8 158.7L317 158.7L318.2 158.7L319.5 158.7L320.7 158.7L321.9 158.7L323.2 158.7L324.4 158.7L325.6 158.7L326.9 158.7L328.1 158.7L329.3 158.7L329.8 158.7L330.2 159.9L330.5 160.7L330.7 161.2L331.1 162.4L331.5 163.6L331.8 164.3L331.9 164.8L332.3 166.1L332.7 167.3L333 168L333.2 168.5L333.6 169.8L334 171L334.2 171.6L334.4 172.2L334.8 173.5L335.3 174.7L335.5 175.2L335.7 175.9L336.1 177.1L336.6 178.4L336.7 178.7L337 179.6L337.3 180.8L337.6 182.1L337.8 183.3L337.8 184.5L337.7 185.7L337.3 187L336.7 188.2L336.7 188.2L335.8 189.4L335.5 189.9L334.7 190.7L334.2 191.1L333.3 191.9L333 192.1L331.8 193L331.6 193.1L330.5 193.7L329.4 194.3L329.3 194.4L328.1 195L326.9 195.6L326.9 195.6L325.6 196.1L324.4 196.6L323.9 196.8L323.2 197.1L321.9 197.5L320.7 197.9L320.5 198L319.5 198.4L318.2 198.8L317 199.2L316.8 199.3L315.8 199.6L314.6 200L313.3 200.3L312.8 200.5L312.1 200.7L310.9 201.1L309.6 201.4L308.4 201.7L308.4 201.7L307.2 202L306 202.3L304.7 202.5L303.5 202.8L302.4 203L302.3 203L301 203L299.8 203L298.6 203L297.4 203L296.1 203L296.1 203L294.9 203L294.7 203L293.7 203L292.4 203L291.2 203L290 203L288.7 203L287.5 203L286.9 203L286.3 202.9L285.1 202.9L283.8 202.8L282.6 202.6L281.4 202.4L280.1 202.1L278.9 201.8L278.7 201.7L277.7 201.4L276.5 200.9L275.4 200.5L275.2 200.4L274 199.8L272.8 199.3L272.7 199.3L271.5 198.7L270.3 198.1L270.1 198L269.1 197.5L267.9 196.8L267.8 196.8L266.6 196L266 195.6L265.4 195.1L264.5 194.3L264.2 194L263.1 193.1L262.9 192.9L261.7 191.9L261.7 191.9L260.5 190.7L260.5 190.7L259.3 189.4L259.2 189.4L258.2 188.2L258 188L257.2 187L256.8 186.5L256.2 185.7L255.6 185L255.2 184.5L254.3 183.4L254.2 183.3L253.3 182.1L253.1 181.8L253.1 180.8L253.1 179.6L253.1 178.4L253.1 177.1L253.1 175.9L253.1 174.7L253.1 173.5L253.1 172.2L253.1 171L253.1 169.8L253.1 168.5L253.1 167.3L253.1 166.1L253.1 164.8L253.1 163.6L253.1 162.4L253.1 161.2L253.1 159.9L253.1 158.7L254.3 158.7Z" fill="#ff8900" fill-rule="evenodd"/>
<path d="M254.3 158.7L255.6 158.7L256.8 158.7L258 158.7L259.2 158.7L260.5 158.7L261.7 158.7L262.9 158.7L264.2 158.7L265.4 158.7L266.6 158.7L267.9 158.7L269.1 158.7L270.3 158.7L271.5 158.7L272.8 158.7L274 158.7L275.2 158.7L276.5 158.7L277.7 158.7L278.9 158.7L280.1 158.7L281.4 158.7L282.6 158.7L283.8 158.7L285.1 158.7L286.3 158.7L287.5 158.7L288.7 158.7L290 158.7L291.2 158.7L292.4 158.7L293.7 158.7L294.9 158.7L296.1 158.7L297.4 158.7L298.6 158.7L299.8 158.7L301 158.7L302.3 158.7L303.5 158.7L304.7 158.7L306 158.7L307.2 158.7L308.4 158.7L309.6 158.7L310.9 158.7L312.1 158.7L313.3 158.7L314.6 158.7L315.8 158.7L317 158.7L318.2 158.7L319.5 158.7L320.7 158.7L321.9 158.7L323.2 158.7L324.4 158.7L325.6 158.7L326.3 158.7L326.9 159.6L327 159.9L327.7 161.2L328.1 162L328.3 162.4L328.9 163.6L329.3 164.6L329.4 164.8L330 166.1L330.5 167.3L330.5 167.4L331 168.5L331.6 169.8L331.8 170.2L332.1 171L332.6 172.2L333 173.1L333.1 173.5L333.7 174.7L334.2 175.9L334.2 176L334.7 177.1L335.1 178.4L335.5 179.3L335.6 179.6L335.9 180.8L336.3 182.1L336.5 183.3L336.5 184.5L336.2 185.7L335.8 187L335.5 187.5L335.1 188.2L334.2 189.3L334.1 189.4L333 190.5L332.9 190.7L331.8 191.5L331.2 191.9L330.5 192.3L329.3 193.1L329.3 193.1L328.1 193.7L326.9 194.3L326.9 194.4L325.6 194.9L324.4 195.5L324.1 195.6L323.2 196L321.9 196.4L321 196.8L320.7 196.9L319.5 197.3L318.2 197.8L317.5 198L317 198.2L315.8 198.6L314.6 199.1L314 199.3L313.3 199.5L312.1 199.9L310.9 200.3L310.2 200.5L309.6 200.7L308.4 201L307.2 201.3L306 201.7L305.7 201.7L304.7 201.9L303.5 202.2L302.3 202.4L301 202.4L299.8 202.4L298.6 202.4L297.4 202.3L296.1 202.3L294.9 202.3L293.7 202.3L292.4 202.2L291.2 202.2L290 202.2L288.7 202.2L287.5 202.2L286.3 202.2L285.1 202.1L283.8 202L282.6 201.9L281.8 201.7L281.4 201.6L280.1 201.3L278.9 200.9L277.8 200.5L277.7 200.5L276.5 199.9L275.2 199.4L275 199.3L274 198.7L272.8 198.1L272.6 198L271.5 197.4L270.4 196.8L270.3 196.7L269.1 196L268.5 195.6L267.9 195.1L266.9 194.3L266.6 194.1L265.5 193.1L265.4 193L264.2 191.9L264.2 191.9L262.9 190.7L262.9 190.7L261.8 189.4L261.7 189.3L260.8 188.2L260.5 187.8L259.8 187L259.2 186.2L258.9 185.7L258.1 184.5L258 184.4L257.2 183.3L256.8 182.6L256.4 182.1L255.6 180.8L255.6 180.8L254.7 179.6L254.3 179L253.9 178.4L253.1 177.2L253.1 177.1L253.1 175.9L253.1 174.7L253.1 173.5L253.1 172.2L253.1 171L253.1 169.8L253.1 168.5L253.1 167.3L253.1 166.1L253.1 164.8L253.1 163.6L253.1 162.4L253.1 161.2L253.1 159.9L253.1 158.7L254.3 158.7Z" fill="#ff7e00" fill-rule="evenodd"/>
<path d="M254.3 158.7L255.6 158.7L256.8 158.7L258 158.7L259.2 158.7L260.5 158.7L261.7 158.7L262.9 158.7L264.2 158.7L265.4 158.7L266.6 158.7L267.9 158.7L269.1 158.7L270.3 158.7L271.5 158.7L272.8 158.7L274 158.7L275.2 158.7L276.5 158.7L277.7 158.7L278.9 158.7L280.1 158.7L281.4 158.7L282.6 158.7L283.8 158.7L285.1 158.7L286.3 158.7L287.5 158.7L288.7 158.7L290 158.7L291.2 158.7L292.4 158.7L293.7 158.7L294.9 158.7L296.1 158.7L297.4 158.7L298.6 158.7L299.8 158.7L301 158.7L302.3 158.7L303.5 158.7L304.7 158.7L306 158.7L307.2 158.7L308.4 158.7L309.6 158.7L310.9 158.7L312.1 158.7L313.3 158.7L314.6 158.7L315.8 158.7L317 158.7L318.2 158.7L319.5 158.7L320.7 158.7L321.6 158.7L321.9 159L322.9 159.9L323.2 160.2L323.9 161.2L324.4 161.7L324.9 162.4L325.6 163.5L325.7 163.6L326.5 164.8L326.9 165.5L327.2 166.1L327.9 167.3L328.1 167.7L328.5 168.5L329.2 169.8L329.3 170L329.9 171L330.5 172.2L330.5 172.2L331.2 173.5L331.8 174.6L331.8 174.7L332.4 175.9L333 177.1L333 177.1L333.5 178.4L334 179.6L334.2 180.2L334.4 180.8L334.7 182.1L334.9 183.3L334.9 184.5L334.6 185.7L334.2 186.6L334.1 187L333.2 188.2L333 188.5L332.1 189.4L331.8 189.7L330.7 190.7L330.5 190.7L329.3 191.6L328.8 191.9L328.1 192.3L326.9 193L326.7 193.1L325.6 193.6L324.4 194.2L324.1 194.3L323.2 194.7L321.9 195.2L321.1 195.6L320.7 195.7L319.5 196.2L318.2 196.7L318 196.8L317 197.2L315.8 197.6L314.7 198L314.6 198.1L313.3 198.6L312.1 199L311.5 199.3L310.9 199.5L309.6 199.9L308.4 200.3L307.8 200.5L307.2 200.7L306 201L304.7 201.3L303.5 201.6L302.8 201.7L302.3 201.8L301 201.9L299.8 201.8L298.6 201.8L297.4 201.7L297.1 201.7L296.1 201.7L294.9 201.6L293.7 201.5L292.4 201.5L291.2 201.5L290 201.4L288.7 201.4L287.5 201.4L286.3 201.3L285.1 201.3L283.8 201.2L282.6 201L281.4 200.8L280.3 200.5L280.1 200.4L278.9 200L277.7 199.4L277.3 199.3L276.5 198.8L275.2 198.2L275 198L274 197.4L272.9 196.8L272.8 196.7L271.5 195.9L271 195.6L270.3 195L269.4 194.3L269.1 194L268 193.1L267.9 192.9L266.8 191.9L266.6 191.7L265.6 190.7L265.4 190.4L264.6 189.4L264.2 188.9L263.6 188.2L262.9 187.3L262.7 187L261.9 185.7L261.7 185.4L261.2 184.5L260.5 183.3L260.4 183.3L259.8 182.1L259.2 181.1L259.1 180.8L258.4 179.6L258 178.8L257.8 178.4L257.1 177.1L256.8 176.6L256.4 175.9L255.7 174.7L255.6 174.4L255 173.5L254.3 172.4L254.2 172.2L253.4 171L253.1 170.6L253.1 169.8L253.1 168.5L253.1 167.3L253.1 166.1L253.1 164.8L253.1 163.6L253.1 162.4L253.1 161.2L253.1 159.9L253.1 158.7L254.3 158.7Z" fill="#ff7600" fill-rule="evenodd"/>
<path d="M254.3 158.7L255.6 158.7L256.8 158.7L258 158.7L259.2 158.7L260.5 158.7L261.7 158.7L262.9 158.7L264.2 158.7L265.4 158.7L266.6 158.7L267.9 158.7L269.1 158.7L270.3 158.7L271.5 158.7L272.8 158.7L274 158.7L275.2 158.7L276.5 158.7L277.7 158.7L278.9 158.7L280.1 158.7L281.4 158.7L282.6 158.7L283.8 158.7L285.1 158.7L286.3 158.7L287.5 158.7L288.7 158.7L290 158.7L290.3 158.7L291.2 159.4L292 159.9L292.4 160.2L293.7 160.8L294.6 161.2L294.9 161.2L296.1 161.5L297.4 161.6L298.6 161.6L299.8 161.5L301 161.4L302.3 161.3L303.5 161.2L304 161.2L304.7 161.1L306 161.1L307.2 161L308.4 160.9L309.6 160.8L310.9 160.6L312.1 160.5L313.3 160.5L314.6 160.6L315.8 160.8L317 161.1L317.1 161.2L318.2 161.6L319.5 162.2L319.7 162.4L320.7 163L321.4 163.6L321.9 164.1L322.6 164.8L323.2 165.5L323.6 166.1L324.4 167.1L324.5 167.3L325.4 168.5L325.6 168.8L326.2 169.8L326.9 170.6L327.1 171L327.9 172.2L328.1 172.5L328.7 173.5L329.3 174.3L329.5 174.7L330.3 175.9L330.5 176.3L331 177.1L331.6 178.4L331.8 178.7L332.1 179.6L332.6 180.8L332.9 182.1L333 182.4L333.1 183.3L333 184.5L333 184.6L332.6 185.7L332 187L331.8 187.2L331 188.2L330.5 188.7L329.7 189.4L329.3 189.7L328.1 190.6L328.1 190.7L326.9 191.4L326.1 191.9L325.6 192.1L324.4 192.8L323.7 193.1L323.2 193.4L321.9 193.9L321 194.3L320.7 194.5L319.5 195L318.2 195.5L318.1 195.6L317 196L315.8 196.5L315.1 196.8L314.6 197L313.3 197.5L312.2 198L312.1 198.1L310.9 198.6L309.6 199.1L309.1 199.3L308.4 199.5L307.2 199.9L306 200.3L305.4 200.5L304.7 200.7L303.5 200.9L302.3 201.1L301 201.2L299.8 201.2L298.6 201.1L297.4 201L296.1 201L294.9 200.9L293.7 200.8L292.4 200.7L291.2 200.6L290 200.6L288.7 200.5L287.5 200.5L287 200.5L286.3 200.5L285.1 200.4L283.8 200.3L282.6 200.1L281.4 199.8L280.1 199.4L279.7 199.3L278.9 198.9L277.7 198.2L277.3 198L276.5 197.5L275.3 196.8L275.2 196.7L274 195.9L273.6 195.6L272.8 194.9L272 194.3L271.5 193.9L270.7 193.1L270.3 192.7L269.5 191.9L269.1 191.4L268.4 190.7L267.9 189.9L267.5 189.4L266.6 188.2L266.6 188.2L265.9 187L265.4 186.1L265.2 185.7L264.6 184.5L264.2 183.5L264.1 183.3L263.6 182.1L263.1 180.8L262.9 180.3L262.7 179.6L262.3 178.4L261.9 177.1L261.7 176.6L261.5 175.9L261 174.7L260.6 173.5L260.5 173.2L260.1 172.2L259.5 171L259.2 170.4L259 169.8L258.3 168.5L258 168L257.6 167.3L256.9 166.1L256.8 165.9L256 164.8L255.6 164.2L255.1 163.6L254.3 162.7L254.1 162.4L253.1 161.3L253.1 161.2L253.1 159.9L253.1 158.7L254.3 158.7Z" fill="#ff6b00" fill-rule="evenodd"/>
<path d="M274 164.5L275.2 164.2L276.5 164.2L277.7 164.2L278.9 164.4L280.1 164.6L281.4 164.8L281.6 164.8L282.6 165L283.8 165.3L285.1 165.6L286.3 165.9L287 166.1L287.5 166.2L288.7 166.5L290 166.7L291.2 167L292.4 167.2L293.1 167.3L293.7 167.4L294.9 167.4L296.1 167.4L297.4 167.4L297.7 167.3L298.6 167.2L299.8 166.9L301 166.7L302.3 166.4L303.4 166.1L303.5 166.1L304.7 165.7L306 165.4L307.2 165.2L308.4 165L309.6 165L310.9 165L312.1 165.1L313.3 165.2L314.6 165.4L315.8 165.7L317 166.1L317 166.1L318.2 166.7L319.3 167.3L319.5 167.5L320.7 168.5L320.7 168.5L321.9 169.7L322 169.8L323.1 171L323.2 171L324.2 172.2L324.4 172.4L325.3 173.5L325.6 173.8L326.3 174.7L326.9 175.3L327.3 175.9L328.1 176.9L328.3 177.1L329.1 178.4L329.3 178.8L329.7 179.6L330.2 180.8L330.5 181.8L330.6 182.1L330.7 183.3L330.6 184.5L330.5 184.7L330.1 185.7L329.4 187L329.3 187L328.3 188.2L328.1 188.4L326.9 189.4L326.8 189.4L325.6 190.2L325 190.7L324.4 191L323.2 191.7L322.9 191.9L321.9 192.4L320.7 193L320.4 193.1L319.5 193.5L318.2 194.1L317.8 194.3L317 194.7L315.8 195.2L315.1 195.6L314.6 195.8L313.3 196.4L312.6 196.8L312.1 197L310.9 197.6L309.9 198L309.6 198.2L308.4 198.7L307.2 199.1L306.9 199.3L306 199.6L304.7 199.9L303.5 200.2L302.3 200.5L301.9 200.5L301 200.6L299.8 200.5L299.1 200.5L298.6 200.5L297.4 200.3L296.1 200.2L294.9 200.1L293.7 199.9L292.4 199.8L291.2 199.7L290 199.7L288.7 199.6L287.5 199.5L286.3 199.5L285.1 199.4L283.8 199.3L283.5 199.3L282.6 199.1L281.4 198.7L280.1 198.2L279.8 198L278.9 197.5L277.7 196.8L277.7 196.8L276.5 195.8L276.1 195.6L275.2 194.8L274.7 194.3L274 193.7L273.4 193.1L272.8 192.4L272.3 191.9L271.5 190.8L271.4 190.7L270.6 189.4L270.3 188.9L269.9 188.2L269.3 187L269.1 186.3L268.8 185.7L268.5 184.5L268.2 183.3L268 182.1L267.9 180.8L267.9 179.6L268 178.4L268.2 177.1L268.3 175.9L268.5 174.7L268.7 173.5L268.9 172.2L269.1 171.4L269.2 171L269.5 169.8L269.9 168.5L270.3 167.7L270.5 167.3L271.4 166.1L271.5 165.9L272.8 164.9L273 164.8L274 164.5Z" fill="#ff6000" fill-rule="evenodd"/>
<path d="M301 171L302.3 170.8L303.5 170.6L304.7 170.4L306 170.2L307.2 170.1L308.4 170L309.6 170L310.9 170.1L312.1 170.3L313.3 170.6L314.6 170.9L314.8 171L315.8 171.4L317 172L317.4 172.2L318.2 172.7L319.2 173.5L319.5 173.6L320.7 174.6L320.9 174.7L321.9 175.5L322.4 175.9L323.2 176.5L324 177.1L324.4 177.5L325.2 178.4L325.6 178.8L326.2 179.6L326.9 180.6L327 180.8L327.4 182.1L327.6 183.3L327.4 184.5L326.9 185.7L326.9 185.8L326.1 187L325.6 187.4L324.9 188.2L324.4 188.6L323.4 189.4L323.2 189.6L321.9 190.4L321.5 190.7L320.7 191.1L319.5 191.8L319.4 191.9L318.2 192.4L317 193.1L317 193.1L315.8 193.7L314.7 194.3L314.6 194.4L313.3 195.1L312.5 195.6L312.1 195.8L310.9 196.5L310.3 196.8L309.6 197.1L308.4 197.7L307.8 198L307.2 198.3L306 198.7L304.7 199.2L304.4 199.3L303.5 199.5L302.3 199.7L301 199.8L299.8 199.8L298.6 199.7L297.4 199.5L296.1 199.4L295.1 199.3L294.9 199.2L293.7 199L292.4 198.9L291.2 198.7L290 198.6L288.7 198.5L287.5 198.4L286.3 198.3L285.1 198.2L283.8 198.1L283.6 198L282.6 197.8L281.4 197.3L280.4 196.8L280.1 196.6L278.9 195.7L278.7 195.6L277.7 194.6L277.4 194.3L276.5 193.4L276.2 193.1L275.3 191.9L275.2 191.8L274.5 190.7L274 189.7L273.9 189.4L273.4 188.2L273 187L272.8 185.8L272.8 185.7L272.7 184.5L272.7 183.3L272.8 183L272.9 182.1L273.3 180.8L273.9 179.6L274 179.3L274.5 178.4L275.2 177.2L275.3 177.1L276.2 175.9L276.5 175.6L277.3 174.7L277.7 174.3L278.9 173.5L278.9 173.4L280.1 172.8L281.4 172.3L281.7 172.2L282.6 172L283.8 171.8L285.1 171.6L286.3 171.6L287.5 171.6L288.7 171.6L290 171.6L291.2 171.7L292.4 171.7L293.7 171.7L294.9 171.7L296.1 171.6L297.4 171.5L298.6 171.3L299.8 171.1L300.8 171L301 171Z" fill="#ff5900" fill-rule="evenodd"/>
<path d="M301 174.6L302.3 174.6L303.5 174.5L304.7 174.6L306 174.7L306 174.7L307.2 174.8L308.4 175L309.6 175.2L310.9 175.4L312.1 175.6L313 175.9L313.3 176L314.6 176.4L315.8 177L316 177.1L317 177.7L318.1 178.4L318.2 178.5L319.5 179.3L320 179.6L320.7 180.2L321.5 180.8L321.9 181.3L322.5 182.1L323 183.3L323.1 184.5L322.7 185.7L322 187L321.9 187L320.9 188.2L320.7 188.4L319.5 189.4L319.4 189.4L318.2 190.2L317.6 190.7L317 191L315.8 191.8L315.6 191.9L314.6 192.6L313.8 193.1L313.3 193.4L312.1 194.3L312 194.3L310.9 195.1L310.2 195.6L309.6 195.9L308.4 196.7L308.2 196.8L307.2 197.3L306 197.8L305.5 198L304.7 198.3L303.5 198.6L302.3 198.9L301 199L299.8 199L298.6 198.8L297.4 198.7L296.1 198.5L294.9 198.2L293.7 198L293.7 198L292.4 197.8L291.2 197.6L290 197.4L288.7 197.2L287.5 197L286.3 196.9L285.7 196.8L285.1 196.7L283.8 196.4L282.6 195.9L282 195.6L281.4 195.1L280.4 194.3L280.1 194L279.3 193.1L278.9 192.5L278.5 191.9L277.9 190.7L277.7 190.1L277.4 189.4L277.1 188.2L277 187L277 185.7L277.3 184.5L277.6 183.3L277.7 183.2L278.2 182.1L278.9 181L279 180.8L280.1 179.6L280.1 179.6L281.4 178.5L281.5 178.4L282.6 177.7L283.7 177.1L283.8 177.1L285.1 176.7L286.3 176.4L287.5 176.1L288.7 176L289.4 175.9L290 175.8L291.2 175.7L292.4 175.6L293.7 175.5L294.9 175.4L296.1 175.3L297.4 175.1L298.6 174.9L299.8 174.8L300.7 174.7L301 174.6Z" fill="#ff4d00" fill-rule="evenodd"/>
<path d="M297.4 178.3L298.6 178L299.8 177.8L301 177.7L302.3 177.7L303.5 177.8L304.7 177.9L306 178.2L306.7 178.4L307.2 178.5L308.4 178.8L309.6 179.2L310.7 179.6L310.9 179.7L312.1 180.2L313.3 180.8L313.3 180.8L314.6 181.7L315.1 182.1L315.8 182.8L316.3 183.3L316.9 184.5L317 185.6L317 185.7L317 185.8L316.7 187L315.9 188.2L315.8 188.3L314.8 189.4L314.6 189.6L313.6 190.7L313.3 190.9L312.4 191.9L312.1 192.1L311.1 193.1L310.9 193.3L309.8 194.3L309.6 194.4L308.4 195.4L308.1 195.6L307.2 196.2L306 196.8L306 196.8L304.7 197.3L303.5 197.7L302.3 198L301.8 198L301 198.1L299.8 198.1L299.4 198L298.6 197.9L297.4 197.7L296.1 197.4L294.9 197.1L293.7 196.8L293.7 196.8L292.4 196.4L291.2 196.1L290 195.8L289 195.6L288.7 195.5L287.5 195.1L286.3 194.8L285.2 194.3L285.1 194.3L283.8 193.4L283.5 193.1L282.6 191.9L282.6 191.9L282.1 190.7L281.9 189.4L281.8 188.2L281.9 187L282.3 185.7L282.6 185L282.9 184.5L283.8 183.3L283.8 183.3L285.1 182.2L285.2 182.1L286.3 181.4L287.5 180.8L287.5 180.8L288.7 180.4L290 180L291.2 179.6L291.3 179.6L292.4 179.3L293.7 179.1L294.9 178.8L296.1 178.5L296.9 178.4L297.4 178.3Z" fill="#ff4600" fill-rule="evenodd"/>
<path d="M299.8 180.6L301 180.5L302.3 180.5L303.5 180.6L304.7 180.8L304.8 180.8L306 181.2L307.2 181.7L307.8 182.1L308.4 182.4L309.6 183.3L309.6 183.4L310.6 184.5L310.9 185L311.2 185.7L311.4 187L311.3 188.2L310.9 189.4L310.9 189.5L310.4 190.7L309.7 191.9L309.6 192L308.9 193.1L308.4 193.6L307.7 194.3L307.2 194.8L306.1 195.6L306 195.6L304.7 196.2L303.5 196.7L303.1 196.8L302.3 197L301 197.1L299.8 197L298.6 196.9L298.3 196.8L297.4 196.5L296.1 196.1L294.9 195.7L294.6 195.6L293.7 195.1L292.4 194.5L292 194.3L291.2 193.9L290 193.2L289.8 193.1L288.7 192.2L288.3 191.9L287.6 190.7L287.5 190.4L287.4 189.4L287.5 188.4L287.6 188.2L288.2 187L288.7 186.2L289.2 185.7L290 185.1L290.7 184.5L291.2 184.2L292.4 183.4L292.6 183.3L293.7 182.8L294.9 182.1L295.1 182.1L296.1 181.6L297.4 181.2L298.6 180.8L298.7 180.8L299.8 180.6Z" fill="#ff3b00" fill-rule="evenodd"/>
<path d="M299.8 183.3L301 183L302.3 183L303.5 183.2L303.7 183.3L304.7 183.6L306 184.4L306.2 184.5L307.2 185.7L307.2 185.7L307.8 187L308 188.2L308.1 189.4L308 190.7L307.6 191.9L307.2 192.6L306.9 193.1L306 194.1L305.6 194.3L304.7 194.9L303.5 195.5L303.4 195.6L302.3 195.8L301 195.9L299.8 195.8L298.6 195.6L298.6 195.6L297.4 195.1L296.1 194.4L296 194.3L294.9 193.3L294.6 193.1L293.8 191.9L293.7 191.1L293.6 190.7L293.7 189.9L293.7 189.4L294.2 188.2L294.9 187L294.9 186.9L295.7 185.7L296.1 185.4L297.1 184.5L297.4 184.3L298.6 183.7L299.7 183.3L299.8 183.3Z" fill="#ff3400" fill-rule="evenodd"/>
<path d="M301 185.6L302.3 185.6L302.9 185.7L303.5 185.9L304.7 186.8L304.9 187L305.6 188.2L306 189.4L306 189.6L306 190.7L306 190.8L305.7 191.9L304.8 193.1L304.7 193.2L303.5 194.1L302.8 194.3L302.3 194.5L301 194.6L299.8 194.4L299.7 194.3L298.6 193.8L297.7 193.1L297.4 192.5L297 191.9L296.9 190.7L297.2 189.4L297.4 189L297.7 188.2L298.5 187L298.6 186.9L299.8 186L300.6 185.7L301 185.6Z" fill="#ff2800" fill-rule="evenodd"/>
<path d="M301 188.5L302.3 188.4L303.5 189.3L303.6 189.4L303.9 190.7L303.5 191.7L303.4 191.9L302.3 192.6L301 192.6L299.8 191.9L299.8 191.8L299.5 190.7L299.8 189.6L299.9 189.4L301 188.5Z" fill="#ff1d00" fill-rule="evenodd"/>
</g>
<path d="M362.5 237.4L362.2 237.4L361.3 237.2L360 237L358.8 236.9L357.6 236.7L356.4 236.4L355.1 236.2L354.7 236.1L353.9 236L352.7 235.7L351.4 235.5L350.2 235.1L349.5 234.9L349 234.7L347.7 234.4L346.5 234.1L345.3 233.8L344.1 233.7L342.8 233.7L341.6 233.8L340.4 234L339.1 234.3L337.9 234.6L336.7 234.8L336.3 234.9L335.5 235.1L334.2 235.3L333 235.4L331.8 235.4L330.5 235.3L329.3 235.2L328.1 235.1L326.9 235.1L325.6 235.1L324.4 235.2L323.2 235.3L321.9 235.4L320.7 235.6L319.5 235.8L318.2 236L317.6 236.1L317 236.3L315.8 236.5L314.6 236.8L313.3 237.1L312.1 237.4L312.1 237.4L310.9 237.7L309.6 238L308.4 238.3L307.2 238.6L307 238.6L306 238.8L304.7 239.1L303.5 239.3L302.3 239.5L301 239.7L300.1 239.8L299.8 239.9L298.6 240.1L297.4 240.3L296.1 240.5L294.9 240.6L293.7 240.8L292.4 240.8L291.2 240.9L290 241L289.7 241.1L288.7 242.1L288.6 242.3L288.7 243.4L288.8 243.5L289.2 244.7L289.3 246L288.7 247.1L287.9 247.2L287.5 247.2L287.5 247.2L286.3 246.7L285.1 246.1L284.9 246L283.8 245.5L282.6 245.1L281.4 244.8L280.9 244.7L280.1 244.6L278.9 244.4L277.7 244.2L276.5 243.9L275.2 243.6L275 243.5L274 243.2L272.8 242.8L271.5 242.5L270.3 242.4L269.1 242.4L267.9 242.3L266.6 242.3L265.4 242.3L265 242.3L264.2 242.3L263.3 242.3L262.9 242.3L261.7 242.3L260.5 242.5L259.2 242.6L258 242.7L256.8 242.9L255.6 243L254.3 243.2L253.1 243.3" fill="none" stroke="#222" stroke-opacity="0.4" stroke-width="0.35"/>
<path d="M362.5 222.1L361.3 222.3L360 222.6L359.8 222.6L358.8 222.8L357.6 223.1L356.4 223.4L355.1 223.7L354.6 223.8L353.9 224L352.7 224.3L351.4 224.5L350.2 224.7L349 224.9L347.7 225L347 225.1L346.5 225.1L345.3 225.3L344.1 225.4L342.8 225.6L341.6 225.8L340.4 226L339.1 226.3L339 226.3L337.9 226.5L336.7 226.8L335.5 227L334.2 227.2L333 227.3L331.8 227.4L330.5 227.4L329.3 227.5L328.1 227.5L328.1 227.5L326.9 227.6L325.6 227.7L324.4 227.8L323.2 227.9L321.9 228L320.7 228.2L319.5 228.4L318.2 228.6L317.1 228.8L317 228.8L315.8 229L314.6 229.2L313.3 229.5L312.1 229.8L311 230L310.9 230L309.6 230.3L308.4 230.5L307.2 230.8L306 231L304.7 231.1L304 231.2L303.5 231.3L302.3 231.4L301 231.4L299.8 231.4L298.6 231.4L297.4 231.3L296.1 231.2L295.8 231.2L294.9 231.2L293.7 231.1L292.4 231L291.2 231L290 231L288.7 231.1L287.5 231.2L287 231.2L286.3 231.3L285.1 231.5L283.8 231.8L282.6 232L281.4 232.1L280.1 232.1L278.9 232L277.7 231.9L276.5 231.8L275.2 231.6L274 231.5L272.8 231.4L271.5 231.3L270.6 231.2L270.3 231.2L269.1 231.1L267.9 231L266.6 231L265.4 231L264.2 230.9L262.9 230.9L261.7 230.9L260.5 230.8L259.2 230.6L258 230.5L256.8 230.4L255.6 230.3L254.3 230.2L253.1 230.1" fill="none" stroke="#222" stroke-opacity="0.4" stroke-width="0.35"/>
<path d="M362.5 206.3L361.3 206.6L361.3 206.7L360 207L358.8 207.4L357.6 207.8L357.3 207.9L356.4 208.2L355.1 208.6L353.9 209L353.5 209.1L352.7 209.4L351.4 209.8L350.3 210.3L350.2 210.4L349 211.1L348.1 211.6L347.7 211.8L346.5 212.5L346.1 212.8L345.3 213.3L344.1 214L344.1 214L342.8 214.8L342 215.2L341.6 215.5L340.4 216.2L339.9 216.5L339.1 216.8L337.9 217.5L337.4 217.7L336.7 218L335.5 218.5L334.2 218.9L334 218.9L333 219.1L331.8 219.3L330.5 219.5L329.3 219.7L328.1 219.9L326.9 220L326 220.2L325.6 220.2L324.4 220.4L323.2 220.5L321.9 220.7L320.7 220.8L319.5 221L318.2 221.1L317 221.3L316.5 221.4L315.8 221.5L314.6 221.7L313.3 221.9L312.1 222.1L310.9 222.3L309.6 222.5L308.9 222.6L308.4 222.7L307.2 222.9L306 223.1L304.7 223.4L303.5 223.5L302.3 223.7L301 223.7L299.8 223.7L298.6 223.6L297.4 223.6L296.1 223.5L294.9 223.4L293.7 223.3L292.4 223.2L291.2 223.2L290 223.1L288.7 223.1L287.5 223.1L286.3 223L285.1 223L283.8 223L282.6 223L281.4 222.9L280.1 222.8L278.9 222.7L278 222.6L277.7 222.6L276.5 222.4L275.2 222.3L274 222.1L272.8 221.9L271.5 221.7L270.3 221.5L269.8 221.4L269.1 221.3L267.9 221L266.6 220.8L265.4 220.6L264.2 220.3L263 220.2L262.9 220.1L261.7 219.9L260.5 219.7L259.2 219.5L258 219.2L256.8 219L256.1 218.9L255.6 218.9L254.3 218.7L253.1 218.5" fill="none" stroke="#222" stroke-opacity="0.4" stroke-width="0.35"/>
<path d="M362.5 192.6L361.9 193.1L361.3 193.5L360.1 194.3L360 194.4L358.8 195.2L358.2 195.6L357.6 195.9L356.4 196.6L355.9 196.8L355.1 197.2L353.9 197.7L353.1 198L352.7 198.2L351.4 198.8L350.6 199.3L350.2 199.5L349 200.4L348.8 200.5L347.7 201.3L347.2 201.7L346.5 202.2L345.3 203L345.3 203L344.1 203.8L343.4 204.2L342.8 204.5L341.6 205.3L341.4 205.4L340.4 206L339.1 206.6L339.1 206.6L337.9 207.2L336.7 207.8L336.5 207.9L335.5 208.3L334.2 208.9L333.7 209.1L333 209.4L331.8 210L331 210.3L330.5 210.5L329.3 211L328.1 211.4L327.4 211.6L326.9 211.7L325.6 212L324.4 212.3L323.2 212.6L322 212.8L321.9 212.8L320.7 213L319.5 213.2L318.2 213.3L317 213.5L315.8 213.6L314.6 213.7L313.3 213.8L312.1 213.9L310.9 214L309.6 214L308.4 214L307.5 214L307.2 214L307.1 214L306 214L304.7 214L303.5 214L302.3 214L302 214L301 214.1L299.8 214.3L298.6 214.6L297.4 214.8L296.1 214.9L294.9 215.1L293.7 215.2L293.3 215.2L292.4 215.3L291.2 215.4L290 215.4L288.7 215.5L287.5 215.4L286.3 215.4L285.1 215.3L284.2 215.2L283.8 215.2L282.6 215.1L281.4 215L280.1 214.9L278.9 214.8L277.7 214.7L276.5 214.5L275.2 214.2L274.1 214L274 214L272.8 213.7L271.5 213.4L270.3 213L269.6 212.8L269.1 212.6L267.9 212.2L266.6 211.7L266.1 211.6L265.4 211.3L264.2 210.8L263 210.3L262.9 210.3L261.7 209.9L260.5 209.7L259.2 209.5L258 209.3L256.8 209.1L256.5 209.1L255.6 208.9L254.3 208.7L253.1 208.5" fill="none" stroke="#222" stroke-opacity="0.4" stroke-width="0.35"/>
<path d="M351.7 158.7L350.4 162.4L349.3 166.1L348.5 169.8L348.1 172.2L348 174.7L348.1 175.9L348.7 178.4L349.5 180.8L349.9 183.3L350 184.5L349.8 185.7L349.5 187L349 188.2L347.7 189.8L346.5 191L344 193.1L339.1 196.8L336.7 198.5L334.2 199.9L331.8 201.1L328.1 202.5L324.4 203.7L320.7 204.7L317 205.5L313.3 206L309.6 206.4L306 206.6L301 206.7L297.4 207.3L292.4 208L288.7 208.2L285.1 208.3L282.6 208.1L278.9 207.5L275.2 206.6L264.2 203.4L261.7 202.9L259.2 201.7L253.2 198L253.1 197.9L253.1 197.9" fill="none" stroke="#222" stroke-opacity="0.4" stroke-width="0.35"/>
<path d="M274 164.5L275.2 164.2L276.5 164.2L277.7 164.2L278.9 164.4L280.1 164.6L281.4 164.8L281.6 164.8L282.6 165L283.8 165.3L285.1 165.6L286.3 165.9L287 166.1L287.5 166.2L288.7 166.5L290 166.7L291.2 167L292.4 167.2L293.1 167.3L293.7 167.4L294.9 167.4L296.1 167.4L297.4 167.4L297.7 167.3L298.6 167.2L299.8 166.9L301 166.7L302.3 166.4L303.4 166.1L303.5 166.1L304.7 165.7L306 165.4L307.2 165.2L308.4 165L309.6 165L310.9 165L312.1 165.1L313.3 165.2L314.6 165.4L315.8 165.7L317 166.1L317 166.1L318.2 166.7L319.3 167.3L319.5 167.5L320.7 168.5L320.7 168.5L321.9 169.7L322 169.8L323.1 171L323.2 171L324.2 172.2L324.4 172.4L325.3 173.5L325.6 173.8L326.3 174.7L326.9 175.3L327.3 175.9L328.1 176.9L328.3 177.1L329.1 178.4L329.3 178.8L329.7 179.6L330.2 180.8L330.5 181.8L330.6 182.1L330.7 183.3L330.6 184.5L330.5 184.7L330.1 185.7L329.4 187L329.3 187L328.3 188.2L328.1 188.4L326.9 189.4L326.8 189.4L325.6 190.2L325 190.7L324.4 191L323.2 191.7L322.9 191.9L321.9 192.4L320.7 193L320.4 193.1L319.5 193.5L318.2 194.1L317.8 194.3L317 194.7L315.8 195.2L315.1 195.6L314.6 195.8L313.3 196.4L312.6 196.8L312.1 197L310.9 197.6L309.9 198L309.6 198.2L308.4 198.7L307.2 199.1L306.9 199.3L306 199.6L304.7 199.9L303.5 200.2L302.3 200.5L301.9 200.5L301 200.6L299.8 200.5L299.1 200.5L298.6 200.5L297.4 200.3L296.1 200.2L294.9 200.1L293.7 199.9L292.4 199.8L291.2 199.7L290 199.7L288.7 199.6L287.5 199.5L286.3 199.5L285.1 199.4L283.8 199.3L283.5 199.3L282.6 199.1L281.4 198.7L280.1 198.2L279.8 198L278.9 197.5L277.7 196.8L277.7 196.8L276.5 195.8L276.1 195.6L275.2 194.8L274.7 194.3L274 193.7L273.4 193.1L272.8 192.4L272.3 191.9L271.5 190.8L271.4 190.7L270.6 189.4L270.3 188.9L269.9 188.2L269.3 187L269.1 186.3L268.8 185.7L268.5 184.5L268.2 183.3L268 182.1L267.9 180.8L267.9 179.6L268 178.4L268.2 177.1L268.3 175.9L268.5 174.7L268.7 173.5L268.9 172.2L269.1 171.4L269.2 171L269.5 169.8L269.9 168.5L270.3 167.7L270.5 167.3L271.4 166.1L271.5 165.9L272.8 164.9L273 164.8L274 164.5" fill="none" stroke="#222" stroke-opacity="0.4" stroke-width="0.35"/>
<path d="M307.8 213.4h.7v.7h-.7zM315.9 218.3h.7v.7h-.7zM307.6 222.9h.7v.7h-.7zM299.5 218h.7v.7h-.7zM299.7 208.5h.7v.7h-.7zM308 203.9h.7v.7h-.7zM316.1 208.8h.7v.7h-.7zM316.7 230.1h.7v.7h-.7zM305.2 232.2h.7v.7h-.7zM294.6 227.1h.7v.7h-.7zM289.1 216.7h.7v.7h-.7zM290.7 205.1h.7v.7h-.7zM298.9 196.7h.7v.7h-.7zM310.4 194.6h.7v.7h-.7zM321 199.7h.7v.7h-.7zM326.5 210.1h.7v.7h-.7zM324.9 221.7h.7v.7h-.7zM306.4 241.8h.7v.7h-.7zM294.2 238.4h.7v.7h-.7zM284.7 230h.7v.7h-.7zM279.8 218.4h.7v.7h-.7zM280.4 205.7h.7v.7h-.7zM286.5 194.6h.7v.7h-.7zM296.7 187.2h.7v.7h-.7zM309.2 185h.7v.7h-.7zM321.4 188.4h.7v.7h-.7zM330.9 196.8h.7v.7h-.7zM335.8 208.4h.7v.7h-.7zM335.2 221.1h.7v.7h-.7zM329.1 232.2h.7v.7h-.7zM318.9 239.6h.7v.7h-.7zM286.7 244.9h.7v.7h-.7zM277.2 235.8h.7v.7h-.7zM271.4 224h.7v.7h-.7zM269.9 210.9h.7v.7h-.7zM273.1 198.1h.7v.7h-.7zM280.4 187.2h.7v.7h-.7zM291 179.4h.7v.7h-.7zM303.7 175.7h.7v.7h-.7zM316.8 176.5h.7v.7h-.7zM328.9 181.9h.7v.7h-.7zM338.4 191h.7v.7h-.7zM344.2 202.8h.7v.7h-.7zM345.7 215.9h.7v.7h-.7zM342.5 228.7h.7v.7h-.7zM335.2 239.6h.7v.7h-.7zM324.6 247.4h.7v.7h-.7zM311.9 251.1h.7v.7h-.7zM298.8 250.3h.7v.7h-.7zM267.1 235.7h.7v.7h-.7zM262.5 223.3h.7v.7h-.7zM261.5 210.2h.7v.7h-.7zM264.3 197.3h.7v.7h-.7zM270.6 185.7h.7v.7h-.7zM279.9 176.3h.7v.7h-.7zM291.5 170h.7v.7h-.7zM304.4 167.1h.7v.7h-.7zM317.6 168.1h.7v.7h-.7zM330 172.7h.7v.7h-.7zM340.5 180.5h.7v.7h-.7zM348.5 191.1h.7v.7h-.7zM353.1 203.5h.7v.7h-.7zM354.1 216.6h.7v.7h-.7zM351.3 229.5h.7v.7h-.7zM345 241.1h.7v.7h-.7zM335.7 250.5h.7v.7h-.7zM324.1 256.8h.7v.7h-.7zM311.2 259.7h.7v.7h-.7zM298 258.7h.7v.7h-.7zM285.6 254.1h.7v.7h-.7zM275.1 246.3h.7v.7h-.7z" fill="#222" fill-opacity="0.55"/>
</g>
<circle cx="307.8" cy="213.4" r="52.7" fill="none" stroke="#333" stroke-width="0.7"/>
<path d="M299 161.2 L303 156.4 M318.6 161.2 L314.2 156.4" fill="none" stroke="#3a3a3a" stroke-width="0.9" stroke-linecap="round"/>
<path d="M251.6 201.6 Q252.6 200 254 201 Q255.4 202.4 256.6 202.8 M251.6 226.6 Q252.6 228.6 254.2 227.8 Q255.6 226.8 256.8 226" fill="none" stroke="#3a3a3a" stroke-width="0.8" stroke-linecap="round"/>
<path d="M251.6 201.6 Q252.6 200 254 201 Q255.4 202.4 256.6 202.8 M251.6 226.6 Q252.6 228.6 254.2 227.8 Q255.6 226.8 256.8 226" transform="translate(615.6,0) scale(-1,1)" fill="none" stroke="#3a3a3a" stroke-width="0.8" stroke-linecap="round"/>
<text x="2.6" y="9.6" class="lbl">A</text>
<text x="2.7" y="139.85" class="lbl">B</text>
<text x="2.9" y="201.5" class="lbl">C</text>
<text x="223.8" y="9.6" class="lbl">D</text>
<text x="223.8" y="139.9" class="lbl">E</text>
</svg>
</body></html>
